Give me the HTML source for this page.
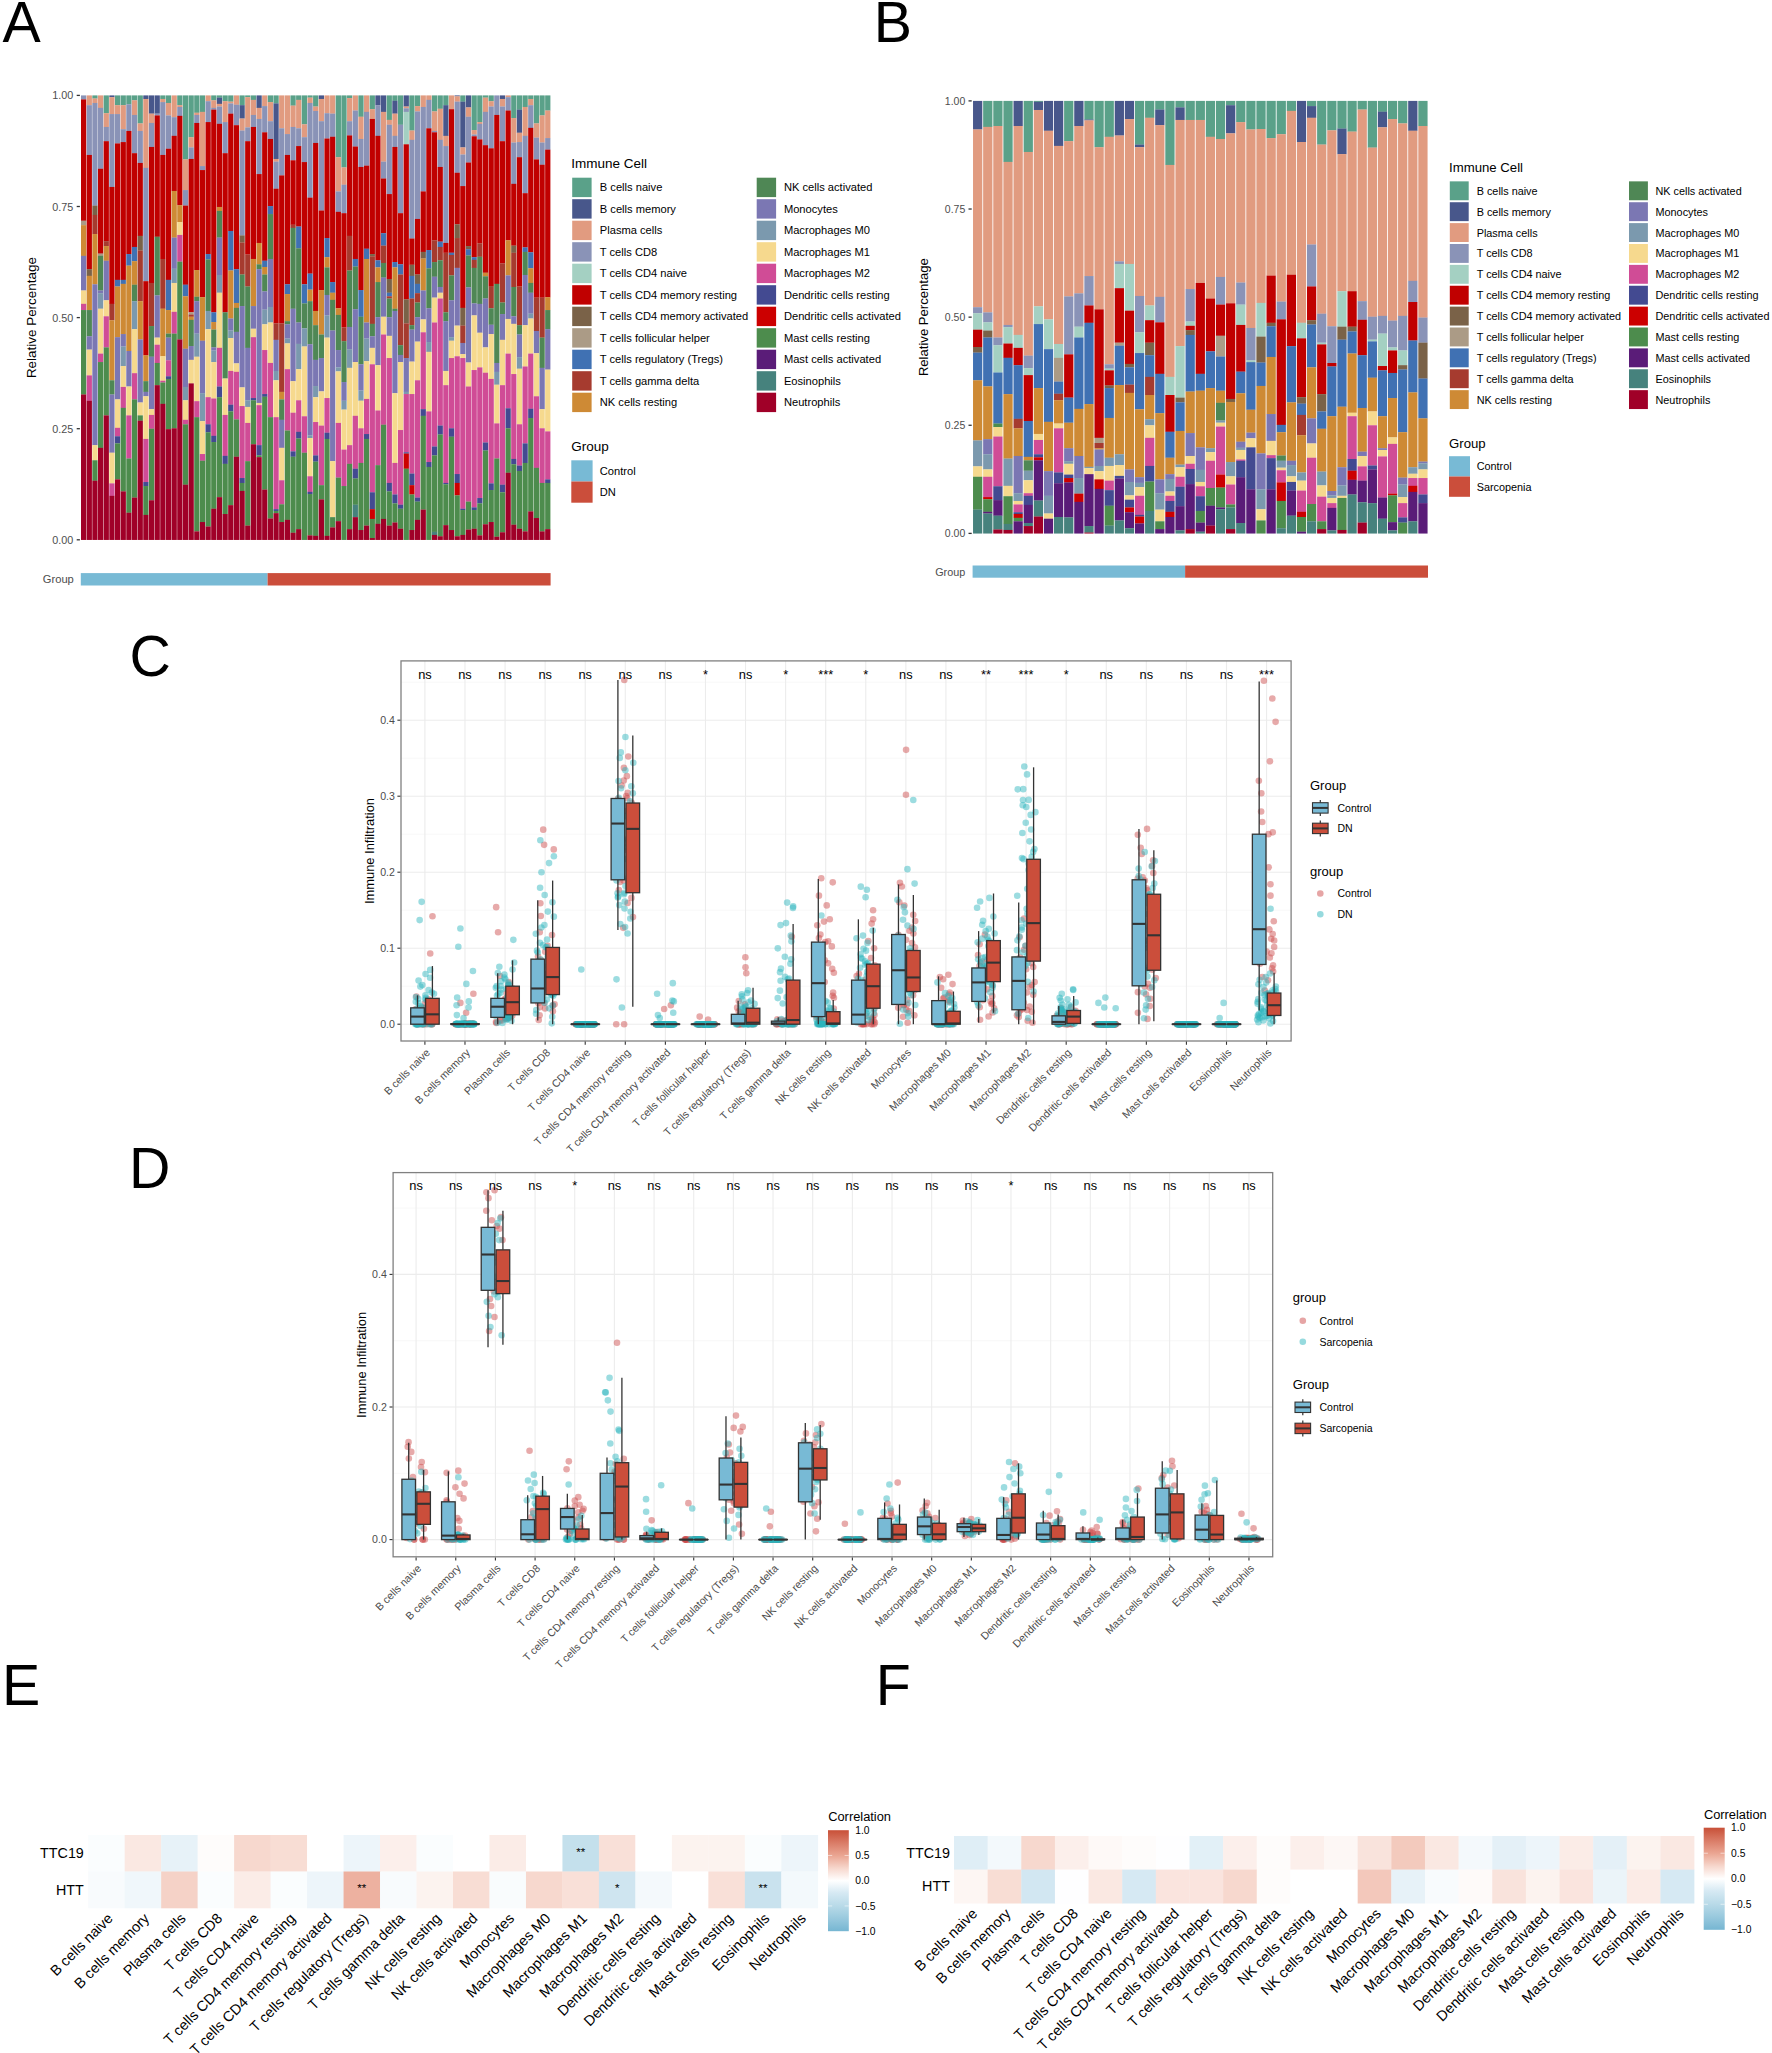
<!DOCTYPE html>
<html lang="en"><head><meta charset="utf-8"><title>Immune infiltration figure</title>
<style>html,body{margin:0;padding:0;background:#fff}svg{display:block}text{white-space:pre}</style></head>
<body>
<svg width="1772" height="2053" viewBox="0 0 1772 2053" font-family="'Liberation Sans', Arial, Helvetica, sans-serif">
<rect x="0" y="0" width="1772" height="2053" fill="#fff"/>
<text x="2.6" y="41.7" font-size="57.3" fill="#000" text-anchor="start">A</text>
<text x="873.8" y="41.7" font-size="57.3" fill="#000" text-anchor="start">B</text>
<text x="129.4" y="676.3" font-size="57.3" fill="#000" text-anchor="start">C</text>
<text x="128.9" y="1187.7" font-size="57.3" fill="#000" text-anchor="start">D</text>
<text x="2.1" y="1704.6" font-size="57.3" fill="#000" text-anchor="start">E</text>
<text x="875.7" y="1704.6" font-size="57.3" fill="#000" text-anchor="start">F</text>
<g shape-rendering="auto">
<rect x="81" y="95.4" width="5.26" height="4.15" fill="#8A93B7"/>
<rect x="81" y="99.4" width="5.26" height="121.47" fill="#C00000"/>
<rect x="81" y="220.72" width="5.26" height="4.59" fill="#AB9B86"/>
<rect x="81" y="225.16" width="5.26" height="30.81" fill="#CE8A35"/>
<rect x="81" y="255.83" width="5.26" height="34.81" fill="#7B77B3"/>
<rect x="81" y="290.49" width="5.26" height="13.48" fill="#F6D98E"/>
<rect x="81" y="303.82" width="5.26" height="6.37" fill="#D04C96"/>
<rect x="81" y="310.05" width="5.26" height="84.59" fill="#4D8C4D"/>
<rect x="81" y="394.48" width="5.26" height="145.47" fill="#A00028"/>
<rect x="86.66" y="95.4" width="5.26" height="9.93" fill="#E19B80"/>
<rect x="86.66" y="105.18" width="5.26" height="49.92" fill="#8A93B7"/>
<rect x="86.66" y="154.95" width="5.26" height="114.36" fill="#C00000"/>
<rect x="86.66" y="269.16" width="5.26" height="6.82" fill="#7A6248"/>
<rect x="86.66" y="275.83" width="5.26" height="34.37" fill="#CE8A35"/>
<rect x="86.66" y="310.05" width="5.26" height="26.37" fill="#4F8755"/>
<rect x="86.66" y="336.26" width="5.26" height="13.48" fill="#7B77B3"/>
<rect x="86.66" y="349.6" width="5.26" height="25.93" fill="#F6D98E"/>
<rect x="86.66" y="375.37" width="5.26" height="25.48" fill="#D04C96"/>
<rect x="86.66" y="400.7" width="5.26" height="139.25" fill="#A00028"/>
<rect x="92.32" y="95.4" width="5.26" height="3.26" fill="#5AA189"/>
<rect x="92.32" y="98.51" width="5.26" height="4.59" fill="#E19B80"/>
<rect x="92.32" y="102.95" width="5.26" height="102.81" fill="#8A93B7"/>
<rect x="92.32" y="205.61" width="5.26" height="9.48" fill="#7A6248"/>
<rect x="92.32" y="214.94" width="5.26" height="19.26" fill="#A63B2F"/>
<rect x="92.32" y="234.05" width="5.26" height="50.37" fill="#CE8A35"/>
<rect x="92.32" y="284.27" width="5.26" height="161.02" fill="#7B77B3"/>
<rect x="92.32" y="445.14" width="5.26" height="15.26" fill="#F6D98E"/>
<rect x="92.32" y="460.25" width="5.26" height="20.59" fill="#4D8C4D"/>
<rect x="92.32" y="480.69" width="5.26" height="59.26" fill="#A00028"/>
<rect x="97.98" y="95.4" width="5.26" height="12.59" fill="#E19B80"/>
<rect x="97.98" y="107.84" width="5.26" height="61.03" fill="#8A93B7"/>
<rect x="97.98" y="168.73" width="5.26" height="85.03" fill="#C00000"/>
<rect x="97.98" y="253.61" width="5.26" height="2.37" fill="#AB9B86"/>
<rect x="97.98" y="255.83" width="5.26" height="34.81" fill="#4F8755"/>
<rect x="97.98" y="290.49" width="5.26" height="2.82" fill="#7B77B3"/>
<rect x="97.98" y="293.16" width="5.26" height="15.7" fill="#7B99AE"/>
<rect x="97.98" y="308.71" width="5.26" height="45.03" fill="#F6D98E"/>
<rect x="97.98" y="353.6" width="5.26" height="8.59" fill="#D04C96"/>
<rect x="97.98" y="362.04" width="5.26" height="85.92" fill="#4D8C4D"/>
<rect x="97.98" y="447.81" width="5.26" height="92.14" fill="#A00028"/>
<rect x="103.64" y="95.4" width="5.26" height="17.93" fill="#5AA189"/>
<rect x="103.64" y="113.18" width="5.26" height="13.93" fill="#E19B80"/>
<rect x="103.64" y="126.95" width="5.26" height="14.37" fill="#8A93B7"/>
<rect x="103.64" y="141.17" width="5.26" height="100.14" fill="#C00000"/>
<rect x="103.64" y="241.16" width="5.26" height="5.04" fill="#A63B2F"/>
<rect x="103.64" y="246.05" width="5.26" height="14.82" fill="#CE8A35"/>
<rect x="103.64" y="260.72" width="5.26" height="39.7" fill="#7B77B3"/>
<rect x="103.64" y="300.27" width="5.26" height="16.15" fill="#F6D98E"/>
<rect x="103.64" y="316.27" width="5.26" height="31.26" fill="#D04C96"/>
<rect x="103.64" y="347.37" width="5.26" height="68.14" fill="#4D8C4D"/>
<rect x="103.64" y="415.37" width="5.26" height="124.58" fill="#A00028"/>
<rect x="109.3" y="95.4" width="5.26" height="1.93" fill="#48578B"/>
<rect x="109.3" y="97.18" width="5.26" height="17.04" fill="#E19B80"/>
<rect x="109.3" y="114.06" width="5.26" height="73.03" fill="#8A93B7"/>
<rect x="109.3" y="186.95" width="5.26" height="117.03" fill="#C00000"/>
<rect x="109.3" y="303.82" width="5.26" height="16.59" fill="#A63B2F"/>
<rect x="109.3" y="320.27" width="5.26" height="60.14" fill="#CE8A35"/>
<rect x="109.3" y="380.26" width="5.26" height="14.37" fill="#4F8755"/>
<rect x="109.3" y="394.48" width="5.26" height="58.37" fill="#7B77B3"/>
<rect x="109.3" y="452.7" width="5.26" height="30.81" fill="#F6D98E"/>
<rect x="109.3" y="483.36" width="5.26" height="12.59" fill="#D04C96"/>
<rect x="109.3" y="495.8" width="5.26" height="44.15" fill="#A00028"/>
<rect x="114.96" y="95.4" width="5.26" height="9.93" fill="#5AA189"/>
<rect x="114.96" y="105.18" width="5.26" height="9.04" fill="#E19B80"/>
<rect x="114.96" y="114.06" width="5.26" height="29.48" fill="#8A93B7"/>
<rect x="114.96" y="143.4" width="5.26" height="136.58" fill="#C00000"/>
<rect x="114.96" y="279.83" width="5.26" height="6.82" fill="#4071B3"/>
<rect x="114.96" y="286.49" width="5.26" height="50.81" fill="#CE8A35"/>
<rect x="114.96" y="337.15" width="5.26" height="62.37" fill="#7B77B3"/>
<rect x="114.96" y="399.37" width="5.26" height="28.59" fill="#F6D98E"/>
<rect x="114.96" y="427.81" width="5.26" height="8.59" fill="#D04C96"/>
<rect x="114.96" y="436.25" width="5.26" height="7.26" fill="#434A91"/>
<rect x="114.96" y="443.37" width="5.26" height="36.15" fill="#4D8C4D"/>
<rect x="114.96" y="479.36" width="5.26" height="60.59" fill="#A00028"/>
<rect x="120.62" y="95.4" width="5.26" height="9.93" fill="#5AA189"/>
<rect x="120.62" y="105.18" width="5.26" height="24.15" fill="#E19B80"/>
<rect x="120.62" y="129.17" width="5.26" height="13.04" fill="#8A93B7"/>
<rect x="120.62" y="142.06" width="5.26" height="137.91" fill="#C00000"/>
<rect x="120.62" y="279.83" width="5.26" height="4.15" fill="#4071B3"/>
<rect x="120.62" y="283.83" width="5.26" height="50.37" fill="#CE8A35"/>
<rect x="120.62" y="334.04" width="5.26" height="12.59" fill="#7B77B3"/>
<rect x="120.62" y="346.49" width="5.26" height="19.7" fill="#7B99AE"/>
<rect x="120.62" y="366.04" width="5.26" height="21.04" fill="#F6D98E"/>
<rect x="120.62" y="386.93" width="5.26" height="21.04" fill="#D04C96"/>
<rect x="120.62" y="407.81" width="5.26" height="83.7" fill="#4D8C4D"/>
<rect x="120.62" y="491.36" width="5.26" height="48.59" fill="#A00028"/>
<rect x="126.28" y="95.4" width="5.26" height="9.04" fill="#5AA189"/>
<rect x="126.28" y="104.29" width="5.26" height="26.81" fill="#8A93B7"/>
<rect x="126.28" y="130.95" width="5.26" height="123.25" fill="#C00000"/>
<rect x="126.28" y="254.05" width="5.26" height="11.7" fill="#4071B3"/>
<rect x="126.28" y="265.61" width="5.26" height="85.47" fill="#CE8A35"/>
<rect x="126.28" y="350.93" width="5.26" height="35.7" fill="#7B77B3"/>
<rect x="126.28" y="386.48" width="5.26" height="29.04" fill="#F6D98E"/>
<rect x="126.28" y="415.37" width="5.26" height="43.26" fill="#D04C96"/>
<rect x="126.28" y="458.47" width="5.26" height="54.37" fill="#4D8C4D"/>
<rect x="126.28" y="512.69" width="5.26" height="27.26" fill="#A00028"/>
<rect x="131.94" y="95.4" width="5.26" height="5.04" fill="#5AA189"/>
<rect x="131.94" y="100.29" width="5.26" height="14.82" fill="#E19B80"/>
<rect x="131.94" y="114.95" width="5.26" height="38.37" fill="#8A93B7"/>
<rect x="131.94" y="153.17" width="5.26" height="93.92" fill="#C00000"/>
<rect x="131.94" y="246.94" width="5.26" height="14.37" fill="#4071B3"/>
<rect x="131.94" y="261.16" width="5.26" height="23.7" fill="#CE8A35"/>
<rect x="131.94" y="284.71" width="5.26" height="16.59" fill="#4F8755"/>
<rect x="131.94" y="301.16" width="5.26" height="28.15" fill="#7B99AE"/>
<rect x="131.94" y="329.15" width="5.26" height="44.15" fill="#F6D98E"/>
<rect x="131.94" y="373.15" width="5.26" height="26.37" fill="#D04C96"/>
<rect x="131.94" y="399.37" width="5.26" height="98.36" fill="#4D8C4D"/>
<rect x="131.94" y="497.58" width="5.26" height="42.37" fill="#A00028"/>
<rect x="137.6" y="95.4" width="5.26" height="28.15" fill="#5AA189"/>
<rect x="137.6" y="123.4" width="5.26" height="7.7" fill="#E19B80"/>
<rect x="137.6" y="130.95" width="5.26" height="32.15" fill="#8A93B7"/>
<rect x="137.6" y="162.95" width="5.26" height="73.03" fill="#C00000"/>
<rect x="137.6" y="235.83" width="5.26" height="14.82" fill="#7A6248"/>
<rect x="137.6" y="250.5" width="5.26" height="50.81" fill="#A63B2F"/>
<rect x="137.6" y="301.16" width="5.26" height="38.37" fill="#CE8A35"/>
<rect x="137.6" y="339.38" width="5.26" height="63.25" fill="#7B77B3"/>
<rect x="137.6" y="402.48" width="5.26" height="13.04" fill="#F6D98E"/>
<rect x="137.6" y="415.37" width="5.26" height="5.48" fill="#4D8C4D"/>
<rect x="137.6" y="420.7" width="5.26" height="119.25" fill="#A00028"/>
<rect x="143.26" y="95.4" width="5.26" height="3.71" fill="#48578B"/>
<rect x="143.26" y="98.96" width="5.26" height="69.03" fill="#E19B80"/>
<rect x="143.26" y="167.84" width="5.26" height="113.47" fill="#8A93B7"/>
<rect x="143.26" y="281.16" width="5.26" height="74.36" fill="#C00000"/>
<rect x="143.26" y="355.37" width="5.26" height="25.93" fill="#CE8A35"/>
<rect x="143.26" y="381.15" width="5.26" height="10.82" fill="#4F8755"/>
<rect x="143.26" y="391.81" width="5.26" height="4.59" fill="#7B77B3"/>
<rect x="143.26" y="396.26" width="5.26" height="42.81" fill="#F6D98E"/>
<rect x="143.26" y="438.92" width="5.26" height="43.26" fill="#D04C96"/>
<rect x="143.26" y="482.03" width="5.26" height="4.15" fill="#434A91"/>
<rect x="143.26" y="486.03" width="5.26" height="29.04" fill="#4D8C4D"/>
<rect x="143.26" y="514.91" width="5.26" height="25.04" fill="#A00028"/>
<rect x="148.92" y="95.4" width="5.26" height="18.37" fill="#48578B"/>
<rect x="148.92" y="113.62" width="5.26" height="9.48" fill="#E19B80"/>
<rect x="148.92" y="122.95" width="5.26" height="24.15" fill="#8A93B7"/>
<rect x="148.92" y="146.95" width="5.26" height="136.14" fill="#C00000"/>
<rect x="148.92" y="282.94" width="5.26" height="43.26" fill="#A63B2F"/>
<rect x="148.92" y="326.04" width="5.26" height="30.81" fill="#4F8755"/>
<rect x="148.92" y="356.71" width="5.26" height="52.59" fill="#7B77B3"/>
<rect x="148.92" y="409.15" width="5.26" height="5.93" fill="#F6D98E"/>
<rect x="148.92" y="414.92" width="5.26" height="13.93" fill="#D04C96"/>
<rect x="148.92" y="428.7" width="5.26" height="71.7" fill="#4D8C4D"/>
<rect x="148.92" y="500.25" width="5.26" height="39.7" fill="#A00028"/>
<rect x="154.58" y="95.4" width="5.26" height="18.37" fill="#48578B"/>
<rect x="154.58" y="113.62" width="5.26" height="1.93" fill="#8A93B7"/>
<rect x="154.58" y="115.4" width="5.26" height="121.47" fill="#C00000"/>
<rect x="154.58" y="236.72" width="5.26" height="58.81" fill="#4F8755"/>
<rect x="154.58" y="295.38" width="5.26" height="42.37" fill="#7B77B3"/>
<rect x="154.58" y="337.6" width="5.26" height="7.26" fill="#F6D98E"/>
<rect x="154.58" y="344.71" width="5.26" height="18.37" fill="#D04C96"/>
<rect x="154.58" y="362.93" width="5.26" height="22.37" fill="#4D8C4D"/>
<rect x="154.58" y="385.15" width="5.26" height="154.8" fill="#A00028"/>
<rect x="160.24" y="95.4" width="5.26" height="3.71" fill="#5AA189"/>
<rect x="160.24" y="98.96" width="5.26" height="3.26" fill="#E19B80"/>
<rect x="160.24" y="102.07" width="5.26" height="53.03" fill="#8A93B7"/>
<rect x="160.24" y="154.95" width="5.26" height="104.14" fill="#C00000"/>
<rect x="160.24" y="258.94" width="5.26" height="49.92" fill="#A63B2F"/>
<rect x="160.24" y="308.71" width="5.26" height="47.7" fill="#CE8A35"/>
<rect x="160.24" y="356.26" width="5.26" height="24.59" fill="#F6D98E"/>
<rect x="160.24" y="380.7" width="5.26" height="1.93" fill="#D04C96"/>
<rect x="160.24" y="382.48" width="5.26" height="21.48" fill="#4D8C4D"/>
<rect x="160.24" y="403.81" width="5.26" height="136.14" fill="#A00028"/>
<rect x="165.9" y="95.4" width="5.26" height="7.7" fill="#5AA189"/>
<rect x="165.9" y="102.95" width="5.26" height="12.59" fill="#E19B80"/>
<rect x="165.9" y="115.4" width="5.26" height="33.48" fill="#8A93B7"/>
<rect x="165.9" y="148.73" width="5.26" height="131.25" fill="#C00000"/>
<rect x="165.9" y="279.83" width="5.26" height="30.37" fill="#4071B3"/>
<rect x="165.9" y="310.05" width="5.26" height="23.7" fill="#CE8A35"/>
<rect x="165.9" y="333.6" width="5.26" height="4.15" fill="#4F8755"/>
<rect x="165.9" y="337.6" width="5.26" height="22.81" fill="#7B77B3"/>
<rect x="165.9" y="360.26" width="5.26" height="16.15" fill="#D04C96"/>
<rect x="165.9" y="376.26" width="5.26" height="2.82" fill="#434A91"/>
<rect x="165.9" y="378.93" width="5.26" height="50.37" fill="#4D8C4D"/>
<rect x="165.9" y="429.14" width="5.26" height="110.81" fill="#A00028"/>
<rect x="171.56" y="95.4" width="5.26" height="21.93" fill="#E19B80"/>
<rect x="171.56" y="117.18" width="5.26" height="18.81" fill="#8A93B7"/>
<rect x="171.56" y="135.84" width="5.26" height="55.26" fill="#C00000"/>
<rect x="171.56" y="190.95" width="5.26" height="46.81" fill="#CE8A35"/>
<rect x="171.56" y="237.61" width="5.26" height="31.26" fill="#7B77B3"/>
<rect x="171.56" y="268.72" width="5.26" height="14.37" fill="#7B99AE"/>
<rect x="171.56" y="282.94" width="5.26" height="29.04" fill="#F6D98E"/>
<rect x="171.56" y="311.82" width="5.26" height="21.93" fill="#D04C96"/>
<rect x="171.56" y="333.6" width="5.26" height="94.81" fill="#4D8C4D"/>
<rect x="171.56" y="428.26" width="5.26" height="111.69" fill="#A00028"/>
<rect x="177.22" y="95.4" width="5.26" height="9.93" fill="#5AA189"/>
<rect x="177.22" y="105.18" width="5.26" height="1.93" fill="#E19B80"/>
<rect x="177.22" y="106.95" width="5.26" height="9.04" fill="#8A93B7"/>
<rect x="177.22" y="115.84" width="5.26" height="89.47" fill="#C00000"/>
<rect x="177.22" y="205.17" width="5.26" height="17.04" fill="#CE8A35"/>
<rect x="177.22" y="222.05" width="5.26" height="13.04" fill="#F6D98E"/>
<rect x="177.22" y="234.94" width="5.26" height="26.81" fill="#D04C96"/>
<rect x="177.22" y="261.61" width="5.26" height="77.92" fill="#4D8C4D"/>
<rect x="177.22" y="339.38" width="5.26" height="200.57" fill="#A00028"/>
<rect x="182.88" y="95.4" width="5.26" height="64.14" fill="#5AA189"/>
<rect x="182.88" y="159.39" width="5.26" height="30.81" fill="#E19B80"/>
<rect x="182.88" y="190.06" width="5.26" height="15.7" fill="#8A93B7"/>
<rect x="182.88" y="205.61" width="5.26" height="79.25" fill="#C00000"/>
<rect x="182.88" y="284.71" width="5.26" height="11.7" fill="#4071B3"/>
<rect x="182.88" y="296.27" width="5.26" height="52.59" fill="#CE8A35"/>
<rect x="182.88" y="348.71" width="5.26" height="38.37" fill="#7B77B3"/>
<rect x="182.88" y="386.93" width="5.26" height="13.48" fill="#7B99AE"/>
<rect x="182.88" y="400.26" width="5.26" height="19.7" fill="#F6D98E"/>
<rect x="182.88" y="419.81" width="5.26" height="4.59" fill="#D04C96"/>
<rect x="182.88" y="424.26" width="5.26" height="60.59" fill="#4D8C4D"/>
<rect x="182.88" y="484.69" width="5.26" height="55.26" fill="#A00028"/>
<rect x="188.54" y="95.4" width="5.26" height="41.92" fill="#5AA189"/>
<rect x="188.54" y="137.17" width="5.26" height="10.37" fill="#E19B80"/>
<rect x="188.54" y="147.39" width="5.26" height="11.7" fill="#8A93B7"/>
<rect x="188.54" y="158.95" width="5.26" height="153.47" fill="#C00000"/>
<rect x="188.54" y="312.27" width="5.26" height="2.37" fill="#AB9B86"/>
<rect x="188.54" y="314.49" width="5.26" height="2.37" fill="#A63B2F"/>
<rect x="188.54" y="316.71" width="5.26" height="3.26" fill="#CE8A35"/>
<rect x="188.54" y="319.82" width="5.26" height="26.37" fill="#4F8755"/>
<rect x="188.54" y="346.04" width="5.26" height="13.93" fill="#7B77B3"/>
<rect x="188.54" y="359.82" width="5.26" height="23.7" fill="#F6D98E"/>
<rect x="188.54" y="383.37" width="5.26" height="156.58" fill="#A00028"/>
<rect x="194.2" y="95.4" width="5.26" height="17.48" fill="#5AA189"/>
<rect x="194.2" y="112.73" width="5.26" height="2.37" fill="#E19B80"/>
<rect x="194.2" y="114.95" width="5.26" height="8.15" fill="#8A93B7"/>
<rect x="194.2" y="122.95" width="5.26" height="147.25" fill="#C00000"/>
<rect x="194.2" y="270.05" width="5.26" height="26.81" fill="#CE8A35"/>
<rect x="194.2" y="296.71" width="5.26" height="4.59" fill="#4F8755"/>
<rect x="194.2" y="301.16" width="5.26" height="32.59" fill="#7B77B3"/>
<rect x="194.2" y="333.6" width="5.26" height="23.26" fill="#7B99AE"/>
<rect x="194.2" y="356.71" width="5.26" height="44.59" fill="#F6D98E"/>
<rect x="194.2" y="401.15" width="5.26" height="16.15" fill="#D04C96"/>
<rect x="194.2" y="417.15" width="5.26" height="114.36" fill="#4D8C4D"/>
<rect x="194.2" y="531.36" width="5.26" height="8.59" fill="#A00028"/>
<rect x="199.86" y="95.4" width="5.26" height="16.59" fill="#5AA189"/>
<rect x="199.86" y="111.84" width="5.26" height="54.37" fill="#E19B80"/>
<rect x="199.86" y="166.06" width="5.26" height="4.15" fill="#8A93B7"/>
<rect x="199.86" y="170.06" width="5.26" height="127.25" fill="#C00000"/>
<rect x="199.86" y="297.16" width="5.26" height="43.7" fill="#CE8A35"/>
<rect x="199.86" y="340.71" width="5.26" height="52.59" fill="#7B77B3"/>
<rect x="199.86" y="393.15" width="5.26" height="28.15" fill="#7B99AE"/>
<rect x="199.86" y="421.15" width="5.26" height="33.04" fill="#F6D98E"/>
<rect x="199.86" y="454.03" width="5.26" height="6.82" fill="#D04C96"/>
<rect x="199.86" y="460.7" width="5.26" height="61.48" fill="#4D8C4D"/>
<rect x="199.86" y="522.02" width="5.26" height="17.93" fill="#A00028"/>
<rect x="205.52" y="95.4" width="5.26" height="5.93" fill="#E19B80"/>
<rect x="205.52" y="101.18" width="5.26" height="21.04" fill="#8A93B7"/>
<rect x="205.52" y="122.06" width="5.26" height="132.14" fill="#C00000"/>
<rect x="205.52" y="254.05" width="5.26" height="5.48" fill="#4071B3"/>
<rect x="205.52" y="259.38" width="5.26" height="51.7" fill="#4F8755"/>
<rect x="205.52" y="310.93" width="5.26" height="18.37" fill="#7B99AE"/>
<rect x="205.52" y="329.15" width="5.26" height="68.14" fill="#F6D98E"/>
<rect x="205.52" y="397.15" width="5.26" height="27.26" fill="#D04C96"/>
<rect x="205.52" y="424.26" width="5.26" height="8.15" fill="#434A91"/>
<rect x="205.52" y="432.26" width="5.26" height="94.36" fill="#4D8C4D"/>
<rect x="205.52" y="526.47" width="5.26" height="13.48" fill="#A00028"/>
<rect x="211.18" y="95.4" width="5.26" height="5.04" fill="#5AA189"/>
<rect x="211.18" y="100.29" width="5.26" height="7.7" fill="#E19B80"/>
<rect x="211.18" y="107.84" width="5.26" height="1.93" fill="#8A93B7"/>
<rect x="211.18" y="109.62" width="5.26" height="202.8" fill="#C00000"/>
<rect x="211.18" y="312.27" width="5.26" height="9.93" fill="#4071B3"/>
<rect x="211.18" y="322.04" width="5.26" height="7.7" fill="#CE8A35"/>
<rect x="211.18" y="329.6" width="5.26" height="17.93" fill="#4F8755"/>
<rect x="211.18" y="347.37" width="5.26" height="3.26" fill="#7B77B3"/>
<rect x="211.18" y="350.49" width="5.26" height="11.7" fill="#7B99AE"/>
<rect x="211.18" y="362.04" width="5.26" height="36.59" fill="#F6D98E"/>
<rect x="211.18" y="398.48" width="5.26" height="37.48" fill="#D04C96"/>
<rect x="211.18" y="435.81" width="5.26" height="6.37" fill="#434A91"/>
<rect x="211.18" y="442.03" width="5.26" height="66.81" fill="#4D8C4D"/>
<rect x="211.18" y="508.69" width="5.26" height="31.26" fill="#A00028"/>
<rect x="216.84" y="95.4" width="5.26" height="2.37" fill="#5AA189"/>
<rect x="216.84" y="97.62" width="5.26" height="6.37" fill="#48578B"/>
<rect x="216.84" y="103.84" width="5.26" height="2.82" fill="#E19B80"/>
<rect x="216.84" y="106.51" width="5.26" height="17.48" fill="#8A93B7"/>
<rect x="216.84" y="123.84" width="5.26" height="83.25" fill="#C00000"/>
<rect x="216.84" y="206.94" width="5.26" height="4.15" fill="#CE8A35"/>
<rect x="216.84" y="210.94" width="5.26" height="26.81" fill="#4F8755"/>
<rect x="216.84" y="237.61" width="5.26" height="37.48" fill="#7B77B3"/>
<rect x="216.84" y="274.94" width="5.26" height="17.93" fill="#7B99AE"/>
<rect x="216.84" y="292.71" width="5.26" height="55.26" fill="#F6D98E"/>
<rect x="216.84" y="347.82" width="5.26" height="38.81" fill="#D04C96"/>
<rect x="216.84" y="386.48" width="5.26" height="10.82" fill="#434A91"/>
<rect x="216.84" y="397.15" width="5.26" height="100.14" fill="#4D8C4D"/>
<rect x="216.84" y="497.14" width="5.26" height="42.81" fill="#A00028"/>
<rect x="222.5" y="95.4" width="5.26" height="5.93" fill="#5AA189"/>
<rect x="222.5" y="101.18" width="5.26" height="21.04" fill="#E19B80"/>
<rect x="222.5" y="122.06" width="5.26" height="31.26" fill="#8A93B7"/>
<rect x="222.5" y="153.17" width="5.26" height="159.25" fill="#C00000"/>
<rect x="222.5" y="312.27" width="5.26" height="66.37" fill="#4F8755"/>
<rect x="222.5" y="378.48" width="5.26" height="36.59" fill="#F6D98E"/>
<rect x="222.5" y="414.92" width="5.26" height="41.03" fill="#D04C96"/>
<rect x="222.5" y="455.81" width="5.26" height="8.15" fill="#434A91"/>
<rect x="222.5" y="463.81" width="5.26" height="50.37" fill="#4D8C4D"/>
<rect x="222.5" y="514.02" width="5.26" height="25.93" fill="#A00028"/>
<rect x="228.16" y="95.4" width="5.26" height="6.37" fill="#5AA189"/>
<rect x="228.16" y="101.62" width="5.26" height="1.93" fill="#E19B80"/>
<rect x="228.16" y="103.4" width="5.26" height="10.37" fill="#8A93B7"/>
<rect x="228.16" y="113.62" width="5.26" height="117.47" fill="#C00000"/>
<rect x="228.16" y="230.94" width="5.26" height="39.7" fill="#4071B3"/>
<rect x="228.16" y="270.49" width="5.26" height="48.15" fill="#CE8A35"/>
<rect x="228.16" y="318.49" width="5.26" height="12.15" fill="#7B77B3"/>
<rect x="228.16" y="330.49" width="5.26" height="7.7" fill="#7B99AE"/>
<rect x="228.16" y="338.04" width="5.26" height="33.04" fill="#F6D98E"/>
<rect x="228.16" y="370.93" width="5.26" height="33.92" fill="#D04C96"/>
<rect x="228.16" y="404.7" width="5.26" height="6.82" fill="#434A91"/>
<rect x="228.16" y="411.37" width="5.26" height="93.92" fill="#4D8C4D"/>
<rect x="228.16" y="505.14" width="5.26" height="34.81" fill="#A00028"/>
<rect x="233.82" y="95.4" width="5.26" height="9.48" fill="#E19B80"/>
<rect x="233.82" y="104.73" width="5.26" height="20.59" fill="#8A93B7"/>
<rect x="233.82" y="125.17" width="5.26" height="144.14" fill="#C00000"/>
<rect x="233.82" y="269.16" width="5.26" height="33.92" fill="#4071B3"/>
<rect x="233.82" y="302.93" width="5.26" height="5.04" fill="#CE8A35"/>
<rect x="233.82" y="307.82" width="5.26" height="24.15" fill="#4F8755"/>
<rect x="233.82" y="331.82" width="5.26" height="31.7" fill="#7B77B3"/>
<rect x="233.82" y="363.37" width="5.26" height="8.59" fill="#F6D98E"/>
<rect x="233.82" y="371.82" width="5.26" height="47.7" fill="#D04C96"/>
<rect x="233.82" y="419.37" width="5.26" height="37.48" fill="#4D8C4D"/>
<rect x="233.82" y="456.7" width="5.26" height="83.25" fill="#A00028"/>
<rect x="239.48" y="95.4" width="5.26" height="9.93" fill="#5AA189"/>
<rect x="239.48" y="105.18" width="5.26" height="13.48" fill="#48578B"/>
<rect x="239.48" y="118.51" width="5.26" height="12.15" fill="#E19B80"/>
<rect x="239.48" y="130.51" width="5.26" height="105.03" fill="#8A93B7"/>
<rect x="239.48" y="235.39" width="5.26" height="7.26" fill="#7A6248"/>
<rect x="239.48" y="242.5" width="5.26" height="32.15" fill="#A63B2F"/>
<rect x="239.48" y="274.49" width="5.26" height="31.7" fill="#4F8755"/>
<rect x="239.48" y="306.05" width="5.26" height="81.48" fill="#7B77B3"/>
<rect x="239.48" y="387.37" width="5.26" height="18.81" fill="#F6D98E"/>
<rect x="239.48" y="406.04" width="5.26" height="72.14" fill="#D04C96"/>
<rect x="239.48" y="478.03" width="5.26" height="5.04" fill="#434A91"/>
<rect x="239.48" y="482.92" width="5.26" height="8.15" fill="#4D8C4D"/>
<rect x="239.48" y="490.92" width="5.26" height="49.03" fill="#A00028"/>
<rect x="245.15" y="95.4" width="5.26" height="1.93" fill="#5AA189"/>
<rect x="245.15" y="97.18" width="5.26" height="30.37" fill="#E19B80"/>
<rect x="245.15" y="127.4" width="5.26" height="13.93" fill="#8A93B7"/>
<rect x="245.15" y="141.17" width="5.26" height="113.47" fill="#C00000"/>
<rect x="245.15" y="254.5" width="5.26" height="32.15" fill="#A63B2F"/>
<rect x="245.15" y="286.49" width="5.26" height="61.48" fill="#4F8755"/>
<rect x="245.15" y="347.82" width="5.26" height="52.59" fill="#7B77B3"/>
<rect x="245.15" y="400.26" width="5.26" height="6.82" fill="#7B99AE"/>
<rect x="245.15" y="406.92" width="5.26" height="16.15" fill="#F6D98E"/>
<rect x="245.15" y="422.92" width="5.26" height="38.37" fill="#D04C96"/>
<rect x="245.15" y="461.14" width="5.26" height="64.59" fill="#4D8C4D"/>
<rect x="245.15" y="525.58" width="5.26" height="14.37" fill="#A00028"/>
<rect x="250.81" y="95.4" width="5.26" height="4.59" fill="#5AA189"/>
<rect x="250.81" y="99.84" width="5.26" height="15.26" fill="#E19B80"/>
<rect x="250.81" y="114.95" width="5.26" height="12.15" fill="#8A93B7"/>
<rect x="250.81" y="126.95" width="5.26" height="132.14" fill="#C00000"/>
<rect x="250.81" y="258.94" width="5.26" height="47.26" fill="#CE8A35"/>
<rect x="250.81" y="306.05" width="5.26" height="22.81" fill="#7B77B3"/>
<rect x="250.81" y="328.71" width="5.26" height="8.59" fill="#F6D98E"/>
<rect x="250.81" y="337.15" width="5.26" height="61.03" fill="#D04C96"/>
<rect x="250.81" y="398.04" width="5.26" height="2.37" fill="#434A91"/>
<rect x="250.81" y="400.26" width="5.26" height="44.15" fill="#4D8C4D"/>
<rect x="250.81" y="444.25" width="5.26" height="95.7" fill="#A00028"/>
<rect x="256.47" y="95.4" width="5.26" height="12.59" fill="#48578B"/>
<rect x="256.47" y="107.84" width="5.26" height="11.26" fill="#E19B80"/>
<rect x="256.47" y="118.95" width="5.26" height="55.26" fill="#8A93B7"/>
<rect x="256.47" y="174.06" width="5.26" height="69.03" fill="#C00000"/>
<rect x="256.47" y="242.94" width="5.26" height="21.48" fill="#CE8A35"/>
<rect x="256.47" y="264.27" width="5.26" height="5.04" fill="#4F8755"/>
<rect x="256.47" y="269.16" width="5.26" height="133.91" fill="#7B77B3"/>
<rect x="256.47" y="402.92" width="5.26" height="2.37" fill="#F6D98E"/>
<rect x="256.47" y="405.15" width="5.26" height="40.15" fill="#D04C96"/>
<rect x="256.47" y="445.14" width="5.26" height="10.37" fill="#434A91"/>
<rect x="256.47" y="455.36" width="5.26" height="1.93" fill="#4D8C4D"/>
<rect x="256.47" y="457.14" width="5.26" height="82.81" fill="#A00028"/>
<rect x="262.13" y="95.4" width="5.26" height="10.82" fill="#E19B80"/>
<rect x="262.13" y="106.07" width="5.26" height="26.37" fill="#8A93B7"/>
<rect x="262.13" y="132.29" width="5.26" height="128.58" fill="#C00000"/>
<rect x="262.13" y="260.72" width="5.26" height="6.37" fill="#4071B3"/>
<rect x="262.13" y="266.94" width="5.26" height="7.7" fill="#CE8A35"/>
<rect x="262.13" y="274.49" width="5.26" height="17.04" fill="#4F8755"/>
<rect x="262.13" y="291.38" width="5.26" height="18.37" fill="#7B77B3"/>
<rect x="262.13" y="309.6" width="5.26" height="14.82" fill="#7B99AE"/>
<rect x="262.13" y="324.27" width="5.26" height="25.93" fill="#F6D98E"/>
<rect x="262.13" y="350.04" width="5.26" height="44.15" fill="#D04C96"/>
<rect x="262.13" y="394.04" width="5.26" height="2.82" fill="#434A91"/>
<rect x="262.13" y="396.7" width="5.26" height="93.03" fill="#4D8C4D"/>
<rect x="262.13" y="489.58" width="5.26" height="50.37" fill="#A00028"/>
<rect x="267.79" y="95.4" width="5.26" height="6.82" fill="#5AA189"/>
<rect x="267.79" y="102.07" width="5.26" height="19.26" fill="#E19B80"/>
<rect x="267.79" y="121.18" width="5.26" height="17.93" fill="#8A93B7"/>
<rect x="267.79" y="138.95" width="5.26" height="67.25" fill="#C00000"/>
<rect x="267.79" y="206.06" width="5.26" height="8.15" fill="#4071B3"/>
<rect x="267.79" y="214.05" width="5.26" height="45.03" fill="#4F8755"/>
<rect x="267.79" y="258.94" width="5.26" height="48.15" fill="#7B77B3"/>
<rect x="267.79" y="306.93" width="5.26" height="15.7" fill="#7B99AE"/>
<rect x="267.79" y="322.49" width="5.26" height="40.59" fill="#F6D98E"/>
<rect x="267.79" y="362.93" width="5.26" height="54.37" fill="#D04C96"/>
<rect x="267.79" y="417.15" width="5.26" height="101.47" fill="#4D8C4D"/>
<rect x="267.79" y="518.47" width="5.26" height="21.48" fill="#A00028"/>
<rect x="273.45" y="95.4" width="5.26" height="8.15" fill="#5AA189"/>
<rect x="273.45" y="103.4" width="5.26" height="55.7" fill="#48578B"/>
<rect x="273.45" y="158.95" width="5.26" height="2.82" fill="#E19B80"/>
<rect x="273.45" y="161.62" width="5.26" height="27.26" fill="#8A93B7"/>
<rect x="273.45" y="188.72" width="5.26" height="134.8" fill="#C00000"/>
<rect x="273.45" y="323.38" width="5.26" height="16.59" fill="#A63B2F"/>
<rect x="273.45" y="339.82" width="5.26" height="31.26" fill="#7B77B3"/>
<rect x="273.45" y="370.93" width="5.26" height="9.48" fill="#7B99AE"/>
<rect x="273.45" y="380.26" width="5.26" height="37.04" fill="#F6D98E"/>
<rect x="273.45" y="417.15" width="5.26" height="92.14" fill="#D04C96"/>
<rect x="273.45" y="509.14" width="5.26" height="1.93" fill="#434A91"/>
<rect x="273.45" y="510.91" width="5.26" height="2.37" fill="#4D8C4D"/>
<rect x="273.45" y="513.14" width="5.26" height="26.81" fill="#A00028"/>
<rect x="279.11" y="95.4" width="5.26" height="33.04" fill="#E19B80"/>
<rect x="279.11" y="128.29" width="5.26" height="47.26" fill="#8A93B7"/>
<rect x="279.11" y="175.39" width="5.26" height="148.14" fill="#C00000"/>
<rect x="279.11" y="323.38" width="5.26" height="68.59" fill="#A63B2F"/>
<rect x="279.11" y="391.81" width="5.26" height="7.7" fill="#CE8A35"/>
<rect x="279.11" y="399.37" width="5.26" height="20.59" fill="#4F8755"/>
<rect x="279.11" y="419.81" width="5.26" height="28.15" fill="#7B77B3"/>
<rect x="279.11" y="447.81" width="5.26" height="32.59" fill="#F6D98E"/>
<rect x="279.11" y="480.25" width="5.26" height="24.15" fill="#D04C96"/>
<rect x="279.11" y="504.25" width="5.26" height="17.93" fill="#4D8C4D"/>
<rect x="279.11" y="522.02" width="5.26" height="17.93" fill="#A00028"/>
<rect x="284.77" y="95.4" width="5.26" height="38.81" fill="#E19B80"/>
<rect x="284.77" y="134.06" width="5.26" height="21.04" fill="#8A93B7"/>
<rect x="284.77" y="154.95" width="5.26" height="129.47" fill="#C00000"/>
<rect x="284.77" y="284.27" width="5.26" height="9.93" fill="#4071B3"/>
<rect x="284.77" y="294.05" width="5.26" height="27.26" fill="#CE8A35"/>
<rect x="284.77" y="321.16" width="5.26" height="3.26" fill="#4F8755"/>
<rect x="284.77" y="324.27" width="5.26" height="14.37" fill="#7B77B3"/>
<rect x="284.77" y="338.49" width="5.26" height="5.04" fill="#7B99AE"/>
<rect x="284.77" y="343.38" width="5.26" height="25.93" fill="#F6D98E"/>
<rect x="284.77" y="369.15" width="5.26" height="61.48" fill="#D04C96"/>
<rect x="284.77" y="430.48" width="5.26" height="89.47" fill="#4D8C4D"/>
<rect x="284.77" y="519.8" width="5.26" height="20.15" fill="#A00028"/>
<rect x="290.43" y="95.4" width="5.26" height="10.37" fill="#5AA189"/>
<rect x="290.43" y="105.62" width="5.26" height="21.48" fill="#E19B80"/>
<rect x="290.43" y="126.95" width="5.26" height="33.48" fill="#8A93B7"/>
<rect x="290.43" y="160.28" width="5.26" height="64.59" fill="#C00000"/>
<rect x="290.43" y="224.72" width="5.26" height="3.26" fill="#A63B2F"/>
<rect x="290.43" y="227.83" width="5.26" height="81.03" fill="#4F8755"/>
<rect x="290.43" y="308.71" width="5.26" height="72.59" fill="#7B77B3"/>
<rect x="290.43" y="381.15" width="5.26" height="31.7" fill="#F6D98E"/>
<rect x="290.43" y="412.7" width="5.26" height="38.81" fill="#D04C96"/>
<rect x="290.43" y="451.36" width="5.26" height="5.48" fill="#434A91"/>
<rect x="290.43" y="456.7" width="5.26" height="76.14" fill="#4D8C4D"/>
<rect x="290.43" y="532.69" width="5.26" height="7.26" fill="#A00028"/>
<rect x="296.09" y="95.4" width="5.26" height="4.59" fill="#5AA189"/>
<rect x="296.09" y="99.84" width="5.26" height="28.59" fill="#E19B80"/>
<rect x="296.09" y="128.29" width="5.26" height="17.93" fill="#8A93B7"/>
<rect x="296.09" y="146.06" width="5.26" height="80.59" fill="#C00000"/>
<rect x="296.09" y="226.5" width="5.26" height="21.93" fill="#4071B3"/>
<rect x="296.09" y="248.27" width="5.26" height="74.36" fill="#4F8755"/>
<rect x="296.09" y="322.49" width="5.26" height="21.48" fill="#7B77B3"/>
<rect x="296.09" y="343.82" width="5.26" height="25.48" fill="#7B99AE"/>
<rect x="296.09" y="369.15" width="5.26" height="31.26" fill="#F6D98E"/>
<rect x="296.09" y="400.26" width="5.26" height="31.7" fill="#D04C96"/>
<rect x="296.09" y="431.81" width="5.26" height="6.82" fill="#434A91"/>
<rect x="296.09" y="438.48" width="5.26" height="90.81" fill="#4D8C4D"/>
<rect x="296.09" y="529.13" width="5.26" height="10.82" fill="#A00028"/>
<rect x="301.75" y="95.4" width="5.26" height="29.04" fill="#5AA189"/>
<rect x="301.75" y="124.29" width="5.26" height="13.04" fill="#E19B80"/>
<rect x="301.75" y="137.17" width="5.26" height="25.04" fill="#8A93B7"/>
<rect x="301.75" y="162.06" width="5.26" height="122.36" fill="#C00000"/>
<rect x="301.75" y="284.27" width="5.26" height="19.26" fill="#4071B3"/>
<rect x="301.75" y="303.38" width="5.26" height="25.04" fill="#4F8755"/>
<rect x="301.75" y="328.27" width="5.26" height="18.37" fill="#7B99AE"/>
<rect x="301.75" y="346.49" width="5.26" height="69.92" fill="#F6D98E"/>
<rect x="301.75" y="416.26" width="5.26" height="36.59" fill="#D04C96"/>
<rect x="301.75" y="452.7" width="5.26" height="87.25" fill="#4D8C4D"/>
<rect x="307.41" y="95.4" width="5.26" height="2.37" fill="#5AA189"/>
<rect x="307.41" y="97.62" width="5.26" height="5.48" fill="#E19B80"/>
<rect x="307.41" y="102.95" width="5.26" height="94.81" fill="#8A93B7"/>
<rect x="307.41" y="197.61" width="5.26" height="76.14" fill="#C00000"/>
<rect x="307.41" y="273.6" width="5.26" height="16.15" fill="#4071B3"/>
<rect x="307.41" y="289.6" width="5.26" height="11.7" fill="#CE8A35"/>
<rect x="307.41" y="301.16" width="5.26" height="43.26" fill="#4F8755"/>
<rect x="307.41" y="344.26" width="5.26" height="91.25" fill="#7B77B3"/>
<rect x="307.41" y="435.37" width="5.26" height="2.82" fill="#7B99AE"/>
<rect x="307.41" y="438.03" width="5.26" height="38.37" fill="#F6D98E"/>
<rect x="307.41" y="476.25" width="5.26" height="15.7" fill="#D04C96"/>
<rect x="307.41" y="491.8" width="5.26" height="2.37" fill="#434A91"/>
<rect x="307.41" y="494.03" width="5.26" height="41.48" fill="#4D8C4D"/>
<rect x="307.41" y="535.36" width="5.26" height="4.59" fill="#A00028"/>
<rect x="313.07" y="95.4" width="5.26" height="11.26" fill="#5AA189"/>
<rect x="313.07" y="106.51" width="5.26" height="4.59" fill="#E19B80"/>
<rect x="313.07" y="110.95" width="5.26" height="32.15" fill="#8A93B7"/>
<rect x="313.07" y="142.95" width="5.26" height="168.13" fill="#C00000"/>
<rect x="313.07" y="310.93" width="5.26" height="14.37" fill="#CE8A35"/>
<rect x="313.07" y="325.15" width="5.26" height="34.81" fill="#4F8755"/>
<rect x="313.07" y="359.82" width="5.26" height="26.37" fill="#7B77B3"/>
<rect x="313.07" y="386.04" width="5.26" height="11.26" fill="#7B99AE"/>
<rect x="313.07" y="397.15" width="5.26" height="25.04" fill="#F6D98E"/>
<rect x="313.07" y="422.03" width="5.26" height="33.48" fill="#D04C96"/>
<rect x="313.07" y="455.36" width="5.26" height="6.37" fill="#434A91"/>
<rect x="313.07" y="461.59" width="5.26" height="74.36" fill="#4D8C4D"/>
<rect x="313.07" y="535.8" width="5.26" height="4.15" fill="#A00028"/>
<rect x="318.73" y="95.4" width="5.26" height="3.71" fill="#48578B"/>
<rect x="318.73" y="98.96" width="5.26" height="22.37" fill="#E19B80"/>
<rect x="318.73" y="121.18" width="5.26" height="89.47" fill="#8A93B7"/>
<rect x="318.73" y="210.5" width="5.26" height="79.7" fill="#C00000"/>
<rect x="318.73" y="290.05" width="5.26" height="44.59" fill="#CE8A35"/>
<rect x="318.73" y="334.49" width="5.26" height="23.7" fill="#4F8755"/>
<rect x="318.73" y="358.04" width="5.26" height="33.48" fill="#7B77B3"/>
<rect x="318.73" y="391.37" width="5.26" height="34.37" fill="#F6D98E"/>
<rect x="318.73" y="425.59" width="5.26" height="59.7" fill="#D04C96"/>
<rect x="318.73" y="485.14" width="5.26" height="14.37" fill="#4D8C4D"/>
<rect x="318.73" y="499.36" width="5.26" height="40.59" fill="#A00028"/>
<rect x="324.39" y="95.4" width="5.26" height="17.93" fill="#E19B80"/>
<rect x="324.39" y="113.18" width="5.26" height="25.48" fill="#8A93B7"/>
<rect x="324.39" y="138.51" width="5.26" height="99.7" fill="#C00000"/>
<rect x="324.39" y="238.05" width="5.26" height="19.26" fill="#4071B3"/>
<rect x="324.39" y="257.16" width="5.26" height="10.37" fill="#CE8A35"/>
<rect x="324.39" y="267.38" width="5.26" height="27.7" fill="#4F8755"/>
<rect x="324.39" y="294.94" width="5.26" height="20.59" fill="#7B77B3"/>
<rect x="324.39" y="315.38" width="5.26" height="22.37" fill="#7B99AE"/>
<rect x="324.39" y="337.6" width="5.26" height="60.59" fill="#F6D98E"/>
<rect x="324.39" y="398.04" width="5.26" height="34.81" fill="#D04C96"/>
<rect x="324.39" y="432.7" width="5.26" height="6.37" fill="#434A91"/>
<rect x="324.39" y="438.92" width="5.26" height="97.03" fill="#4D8C4D"/>
<rect x="324.39" y="535.8" width="5.26" height="4.15" fill="#A00028"/>
<rect x="330.05" y="95.4" width="5.26" height="18.37" fill="#E19B80"/>
<rect x="330.05" y="113.62" width="5.26" height="23.26" fill="#8A93B7"/>
<rect x="330.05" y="136.73" width="5.26" height="145.47" fill="#C00000"/>
<rect x="330.05" y="282.05" width="5.26" height="10.82" fill="#4071B3"/>
<rect x="330.05" y="292.71" width="5.26" height="7.26" fill="#CE8A35"/>
<rect x="330.05" y="299.82" width="5.26" height="30.81" fill="#4F8755"/>
<rect x="330.05" y="330.49" width="5.26" height="130.8" fill="#7B77B3"/>
<rect x="330.05" y="461.14" width="5.26" height="56.14" fill="#F6D98E"/>
<rect x="330.05" y="517.14" width="5.26" height="10.37" fill="#4D8C4D"/>
<rect x="330.05" y="527.36" width="5.26" height="12.59" fill="#A00028"/>
<rect x="335.71" y="95.4" width="5.26" height="61.92" fill="#5AA189"/>
<rect x="335.71" y="157.17" width="5.26" height="34.37" fill="#E19B80"/>
<rect x="335.71" y="191.39" width="5.26" height="20.59" fill="#8A93B7"/>
<rect x="335.71" y="211.83" width="5.26" height="96.58" fill="#C00000"/>
<rect x="335.71" y="308.27" width="5.26" height="6.82" fill="#CE8A35"/>
<rect x="335.71" y="314.93" width="5.26" height="35.26" fill="#4F8755"/>
<rect x="335.71" y="350.04" width="5.26" height="17.48" fill="#7B77B3"/>
<rect x="335.71" y="367.37" width="5.26" height="4.15" fill="#7B99AE"/>
<rect x="335.71" y="371.37" width="5.26" height="51.7" fill="#F6D98E"/>
<rect x="335.71" y="422.92" width="5.26" height="54.81" fill="#D04C96"/>
<rect x="335.71" y="477.58" width="5.26" height="43.7" fill="#4D8C4D"/>
<rect x="335.71" y="521.14" width="5.26" height="18.81" fill="#A00028"/>
<rect x="341.37" y="95.4" width="5.26" height="72.14" fill="#5AA189"/>
<rect x="341.37" y="167.39" width="5.26" height="17.48" fill="#E19B80"/>
<rect x="341.37" y="184.72" width="5.26" height="28.59" fill="#8A93B7"/>
<rect x="341.37" y="213.17" width="5.26" height="114.36" fill="#C00000"/>
<rect x="341.37" y="327.38" width="5.26" height="13.93" fill="#A63B2F"/>
<rect x="341.37" y="341.15" width="5.26" height="41.03" fill="#4F8755"/>
<rect x="341.37" y="382.04" width="5.26" height="18.81" fill="#7B77B3"/>
<rect x="341.37" y="400.7" width="5.26" height="9.04" fill="#7B99AE"/>
<rect x="341.37" y="409.59" width="5.26" height="40.15" fill="#F6D98E"/>
<rect x="341.37" y="449.59" width="5.26" height="36.59" fill="#D04C96"/>
<rect x="341.37" y="486.03" width="5.26" height="53.92" fill="#4D8C4D"/>
<rect x="347.03" y="95.4" width="5.26" height="2.82" fill="#5AA189"/>
<rect x="347.03" y="98.07" width="5.26" height="23.26" fill="#E19B80"/>
<rect x="347.03" y="121.18" width="5.26" height="14.37" fill="#8A93B7"/>
<rect x="347.03" y="135.4" width="5.26" height="100.58" fill="#C00000"/>
<rect x="347.03" y="235.83" width="5.26" height="34.81" fill="#A63B2F"/>
<rect x="347.03" y="270.49" width="5.26" height="56.59" fill="#4F8755"/>
<rect x="347.03" y="326.93" width="5.26" height="22.37" fill="#7B77B3"/>
<rect x="347.03" y="349.15" width="5.26" height="18.81" fill="#7B99AE"/>
<rect x="347.03" y="367.82" width="5.26" height="77.48" fill="#F6D98E"/>
<rect x="347.03" y="445.14" width="5.26" height="18.81" fill="#D04C96"/>
<rect x="347.03" y="463.81" width="5.26" height="65.48" fill="#4D8C4D"/>
<rect x="347.03" y="529.13" width="5.26" height="10.82" fill="#A00028"/>
<rect x="352.69" y="95.4" width="5.26" height="15.26" fill="#E19B80"/>
<rect x="352.69" y="110.51" width="5.26" height="36.15" fill="#8A93B7"/>
<rect x="352.69" y="146.51" width="5.26" height="112.58" fill="#C00000"/>
<rect x="352.69" y="258.94" width="5.26" height="7.7" fill="#4071B3"/>
<rect x="352.69" y="266.49" width="5.26" height="42.81" fill="#4F8755"/>
<rect x="352.69" y="309.16" width="5.26" height="53.03" fill="#7B77B3"/>
<rect x="352.69" y="362.04" width="5.26" height="53.92" fill="#F6D98E"/>
<rect x="352.69" y="415.81" width="5.26" height="53.03" fill="#D04C96"/>
<rect x="352.69" y="468.7" width="5.26" height="9.93" fill="#434A91"/>
<rect x="352.69" y="478.47" width="5.26" height="26.37" fill="#4D8C4D"/>
<rect x="352.69" y="504.69" width="5.26" height="12.59" fill="#46827D"/>
<rect x="352.69" y="517.14" width="5.26" height="22.81" fill="#A00028"/>
<rect x="358.35" y="95.4" width="5.26" height="21.48" fill="#5AA189"/>
<rect x="358.35" y="116.73" width="5.26" height="22.37" fill="#E19B80"/>
<rect x="358.35" y="138.95" width="5.26" height="28.15" fill="#8A93B7"/>
<rect x="358.35" y="166.95" width="5.26" height="123.25" fill="#C00000"/>
<rect x="358.35" y="290.05" width="5.26" height="26.81" fill="#4071B3"/>
<rect x="358.35" y="316.71" width="5.26" height="47.7" fill="#4F8755"/>
<rect x="358.35" y="364.26" width="5.26" height="26.37" fill="#7B77B3"/>
<rect x="358.35" y="390.48" width="5.26" height="10.37" fill="#7B99AE"/>
<rect x="358.35" y="400.7" width="5.26" height="27.7" fill="#F6D98E"/>
<rect x="358.35" y="428.26" width="5.26" height="34.81" fill="#D04C96"/>
<rect x="358.35" y="462.92" width="5.26" height="67.25" fill="#4D8C4D"/>
<rect x="358.35" y="530.02" width="5.26" height="9.93" fill="#A00028"/>
<rect x="364.01" y="95.4" width="5.26" height="16.59" fill="#E19B80"/>
<rect x="364.01" y="111.84" width="5.26" height="53.92" fill="#8A93B7"/>
<rect x="364.01" y="165.62" width="5.26" height="83.25" fill="#C00000"/>
<rect x="364.01" y="248.72" width="5.26" height="10.37" fill="#4071B3"/>
<rect x="364.01" y="258.94" width="5.26" height="63.7" fill="#CE8A35"/>
<rect x="364.01" y="322.49" width="5.26" height="16.15" fill="#7B77B3"/>
<rect x="364.01" y="338.49" width="5.26" height="22.81" fill="#7B99AE"/>
<rect x="364.01" y="361.15" width="5.26" height="37.92" fill="#F6D98E"/>
<rect x="364.01" y="398.93" width="5.26" height="35.26" fill="#D04C96"/>
<rect x="364.01" y="434.03" width="5.26" height="5.04" fill="#434A91"/>
<rect x="364.01" y="438.92" width="5.26" height="86.81" fill="#4D8C4D"/>
<rect x="364.01" y="525.58" width="5.26" height="14.37" fill="#A00028"/>
<rect x="369.67" y="95.4" width="5.26" height="13.93" fill="#5AA189"/>
<rect x="369.67" y="109.18" width="5.26" height="9.93" fill="#E19B80"/>
<rect x="369.67" y="118.95" width="5.26" height="135.25" fill="#C00000"/>
<rect x="369.67" y="254.05" width="5.26" height="2.37" fill="#7A6248"/>
<rect x="369.67" y="256.27" width="5.26" height="67.7" fill="#A63B2F"/>
<rect x="369.67" y="323.82" width="5.26" height="12.59" fill="#4F8755"/>
<rect x="369.67" y="336.26" width="5.26" height="11.7" fill="#7B77B3"/>
<rect x="369.67" y="347.82" width="5.26" height="16.59" fill="#F6D98E"/>
<rect x="369.67" y="364.26" width="5.26" height="128.14" fill="#D04C96"/>
<rect x="369.67" y="492.25" width="5.26" height="17.04" fill="#434A91"/>
<rect x="369.67" y="509.14" width="5.26" height="9.93" fill="#CC0000"/>
<rect x="369.67" y="518.91" width="5.26" height="19.26" fill="#4D8C4D"/>
<rect x="369.67" y="538.02" width="5.26" height="1.93" fill="#A00028"/>
<rect x="375.33" y="95.4" width="5.26" height="9.93" fill="#48578B"/>
<rect x="375.33" y="105.18" width="5.26" height="30.81" fill="#8A93B7"/>
<rect x="375.33" y="135.84" width="5.26" height="124.58" fill="#C00000"/>
<rect x="375.33" y="260.27" width="5.26" height="7.26" fill="#4071B3"/>
<rect x="375.33" y="267.38" width="5.26" height="14.82" fill="#CE8A35"/>
<rect x="375.33" y="282.05" width="5.26" height="35.26" fill="#4F8755"/>
<rect x="375.33" y="317.16" width="5.26" height="48.15" fill="#7B77B3"/>
<rect x="375.33" y="365.15" width="5.26" height="45.48" fill="#F6D98E"/>
<rect x="375.33" y="410.48" width="5.26" height="54.81" fill="#D04C96"/>
<rect x="375.33" y="465.14" width="5.26" height="58.81" fill="#4D8C4D"/>
<rect x="375.33" y="523.8" width="5.26" height="16.15" fill="#A00028"/>
<rect x="380.99" y="95.4" width="5.26" height="16.59" fill="#48578B"/>
<rect x="380.99" y="111.84" width="5.26" height="49.92" fill="#E19B80"/>
<rect x="380.99" y="161.62" width="5.26" height="17.04" fill="#8A93B7"/>
<rect x="380.99" y="178.5" width="5.26" height="54.81" fill="#C00000"/>
<rect x="380.99" y="233.16" width="5.26" height="12.59" fill="#4071B3"/>
<rect x="380.99" y="245.61" width="5.26" height="17.48" fill="#A63B2F"/>
<rect x="380.99" y="262.94" width="5.26" height="14.82" fill="#4F8755"/>
<rect x="380.99" y="277.6" width="5.26" height="39.26" fill="#7B77B3"/>
<rect x="380.99" y="316.71" width="5.26" height="17.93" fill="#F6D98E"/>
<rect x="380.99" y="334.49" width="5.26" height="90.36" fill="#D04C96"/>
<rect x="380.99" y="424.7" width="5.26" height="94.36" fill="#4D8C4D"/>
<rect x="380.99" y="518.91" width="5.26" height="21.04" fill="#A00028"/>
<rect x="386.65" y="95.4" width="5.26" height="24.59" fill="#5AA189"/>
<rect x="386.65" y="119.84" width="5.26" height="5.04" fill="#E19B80"/>
<rect x="386.65" y="124.73" width="5.26" height="69.48" fill="#8A93B7"/>
<rect x="386.65" y="194.06" width="5.26" height="85.03" fill="#C00000"/>
<rect x="386.65" y="278.94" width="5.26" height="13.93" fill="#7A6248"/>
<rect x="386.65" y="292.71" width="5.26" height="3.71" fill="#4071B3"/>
<rect x="386.65" y="296.27" width="5.26" height="2.37" fill="#A63B2F"/>
<rect x="386.65" y="298.49" width="5.26" height="18.81" fill="#4F8755"/>
<rect x="386.65" y="317.16" width="5.26" height="18.81" fill="#7B77B3"/>
<rect x="386.65" y="335.82" width="5.26" height="22.37" fill="#F6D98E"/>
<rect x="386.65" y="358.04" width="5.26" height="125.03" fill="#D04C96"/>
<rect x="386.65" y="482.92" width="5.26" height="8.59" fill="#434A91"/>
<rect x="386.65" y="491.36" width="5.26" height="34.37" fill="#4D8C4D"/>
<rect x="386.65" y="525.58" width="5.26" height="14.37" fill="#A00028"/>
<rect x="392.31" y="95.4" width="5.26" height="5.48" fill="#5AA189"/>
<rect x="392.31" y="100.73" width="5.26" height="13.04" fill="#48578B"/>
<rect x="392.31" y="113.62" width="5.26" height="22.37" fill="#E19B80"/>
<rect x="392.31" y="135.84" width="5.26" height="11.26" fill="#8A93B7"/>
<rect x="392.31" y="146.95" width="5.26" height="115.25" fill="#C00000"/>
<rect x="392.31" y="262.05" width="5.26" height="5.48" fill="#4071B3"/>
<rect x="392.31" y="267.38" width="5.26" height="41.48" fill="#CE8A35"/>
<rect x="392.31" y="308.71" width="5.26" height="2.37" fill="#4F8755"/>
<rect x="392.31" y="310.93" width="5.26" height="82.36" fill="#7B77B3"/>
<rect x="392.31" y="393.15" width="5.26" height="69.92" fill="#F6D98E"/>
<rect x="392.31" y="462.92" width="5.26" height="31.7" fill="#D04C96"/>
<rect x="392.31" y="494.47" width="5.26" height="9.04" fill="#434A91"/>
<rect x="392.31" y="503.36" width="5.26" height="19.26" fill="#4D8C4D"/>
<rect x="392.31" y="522.47" width="5.26" height="17.48" fill="#A00028"/>
<rect x="397.97" y="95.4" width="5.26" height="29.48" fill="#5AA189"/>
<rect x="397.97" y="124.73" width="5.26" height="88.59" fill="#8A93B7"/>
<rect x="397.97" y="213.17" width="5.26" height="51.26" fill="#C00000"/>
<rect x="397.97" y="264.27" width="5.26" height="10.37" fill="#4071B3"/>
<rect x="397.97" y="274.49" width="5.26" height="70.81" fill="#A63B2F"/>
<rect x="397.97" y="345.15" width="5.26" height="9.93" fill="#4F8755"/>
<rect x="397.97" y="354.93" width="5.26" height="7.26" fill="#7B77B3"/>
<rect x="397.97" y="362.04" width="5.26" height="68.14" fill="#F6D98E"/>
<rect x="397.97" y="430.03" width="5.26" height="74.81" fill="#D04C96"/>
<rect x="397.97" y="504.69" width="5.26" height="4.15" fill="#434A91"/>
<rect x="397.97" y="508.69" width="5.26" height="20.15" fill="#4D8C4D"/>
<rect x="397.97" y="528.69" width="5.26" height="11.26" fill="#A00028"/>
<rect x="403.63" y="95.4" width="5.26" height="11.26" fill="#48578B"/>
<rect x="403.63" y="106.51" width="5.26" height="1.93" fill="#E19B80"/>
<rect x="403.63" y="108.29" width="5.26" height="3.71" fill="#8A93B7"/>
<rect x="403.63" y="111.84" width="5.26" height="32.59" fill="#A4D0C2"/>
<rect x="403.63" y="144.28" width="5.26" height="155.25" fill="#C00000"/>
<rect x="403.63" y="299.38" width="5.26" height="24.15" fill="#7A6248"/>
<rect x="403.63" y="323.38" width="5.26" height="34.81" fill="#A63B2F"/>
<rect x="403.63" y="358.04" width="5.26" height="33.92" fill="#7B77B3"/>
<rect x="403.63" y="391.81" width="5.26" height="2.37" fill="#7B99AE"/>
<rect x="403.63" y="394.04" width="5.26" height="58.37" fill="#D04C96"/>
<rect x="403.63" y="452.25" width="5.26" height="1.48" fill="#434A91"/>
<rect x="403.63" y="453.59" width="5.26" height="15.26" fill="#CC0000"/>
<rect x="403.63" y="468.7" width="5.26" height="71.25" fill="#4D8C4D"/>
<rect x="409.29" y="95.4" width="5.26" height="35.26" fill="#5AA189"/>
<rect x="409.29" y="130.51" width="5.26" height="9.48" fill="#E19B80"/>
<rect x="409.29" y="139.84" width="5.26" height="98.81" fill="#8A93B7"/>
<rect x="409.29" y="238.5" width="5.26" height="26.37" fill="#C00000"/>
<rect x="409.29" y="264.72" width="5.26" height="11.26" fill="#7A6248"/>
<rect x="409.29" y="275.83" width="5.26" height="22.81" fill="#4071B3"/>
<rect x="409.29" y="298.49" width="5.26" height="26.81" fill="#A63B2F"/>
<rect x="409.29" y="325.15" width="5.26" height="4.59" fill="#4F8755"/>
<rect x="409.29" y="329.6" width="5.26" height="32.15" fill="#7B77B3"/>
<rect x="409.29" y="361.6" width="5.26" height="32.59" fill="#F6D98E"/>
<rect x="409.29" y="394.04" width="5.26" height="79.7" fill="#D04C96"/>
<rect x="409.29" y="473.58" width="5.26" height="11.7" fill="#434A91"/>
<rect x="409.29" y="485.14" width="5.26" height="9.48" fill="#CC0000"/>
<rect x="409.29" y="494.47" width="5.26" height="35.7" fill="#4D8C4D"/>
<rect x="409.29" y="530.02" width="5.26" height="9.93" fill="#A00028"/>
<rect x="414.95" y="95.4" width="5.26" height="10.82" fill="#5AA189"/>
<rect x="414.95" y="106.07" width="5.26" height="5.48" fill="#E19B80"/>
<rect x="414.95" y="111.4" width="5.26" height="107.69" fill="#8A93B7"/>
<rect x="414.95" y="218.94" width="5.26" height="55.7" fill="#C00000"/>
<rect x="414.95" y="274.49" width="5.26" height="9.48" fill="#7A6248"/>
<rect x="414.95" y="283.83" width="5.26" height="9.48" fill="#4071B3"/>
<rect x="414.95" y="293.16" width="5.26" height="9.48" fill="#A63B2F"/>
<rect x="414.95" y="302.49" width="5.26" height="14.82" fill="#4F8755"/>
<rect x="414.95" y="317.16" width="5.26" height="24.59" fill="#7B77B3"/>
<rect x="414.95" y="341.6" width="5.26" height="38.81" fill="#F6D98E"/>
<rect x="414.95" y="380.26" width="5.26" height="117.47" fill="#D04C96"/>
<rect x="414.95" y="497.58" width="5.26" height="4.15" fill="#434A91"/>
<rect x="414.95" y="501.58" width="5.26" height="18.37" fill="#4D8C4D"/>
<rect x="414.95" y="519.8" width="5.26" height="20.15" fill="#A00028"/>
<rect x="420.61" y="95.4" width="5.26" height="11.7" fill="#E19B80"/>
<rect x="420.61" y="106.95" width="5.26" height="84.59" fill="#8A93B7"/>
<rect x="420.61" y="191.39" width="5.26" height="60.59" fill="#C00000"/>
<rect x="420.61" y="251.83" width="5.26" height="6.82" fill="#7A6248"/>
<rect x="420.61" y="258.49" width="5.26" height="32.15" fill="#CE8A35"/>
<rect x="420.61" y="290.49" width="5.26" height="29.04" fill="#7B77B3"/>
<rect x="420.61" y="319.38" width="5.26" height="13.04" fill="#F6D98E"/>
<rect x="420.61" y="332.27" width="5.26" height="77.03" fill="#D04C96"/>
<rect x="420.61" y="409.15" width="5.26" height="6.82" fill="#434A91"/>
<rect x="420.61" y="415.81" width="5.26" height="93.92" fill="#4D8C4D"/>
<rect x="420.61" y="509.58" width="5.26" height="30.37" fill="#A00028"/>
<rect x="426.27" y="95.4" width="5.26" height="4.59" fill="#E19B80"/>
<rect x="426.27" y="99.84" width="5.26" height="28.59" fill="#8A93B7"/>
<rect x="426.27" y="128.29" width="5.26" height="121.92" fill="#C00000"/>
<rect x="426.27" y="250.05" width="5.26" height="18.37" fill="#4071B3"/>
<rect x="426.27" y="268.27" width="5.26" height="40.15" fill="#4F8755"/>
<rect x="426.27" y="308.27" width="5.26" height="33.92" fill="#7B77B3"/>
<rect x="426.27" y="342.04" width="5.26" height="9.93" fill="#7B99AE"/>
<rect x="426.27" y="351.82" width="5.26" height="59.7" fill="#F6D98E"/>
<rect x="426.27" y="411.37" width="5.26" height="50.81" fill="#D04C96"/>
<rect x="426.27" y="462.03" width="5.26" height="5.04" fill="#434A91"/>
<rect x="426.27" y="466.92" width="5.26" height="73.03" fill="#4D8C4D"/>
<rect x="431.93" y="95.4" width="5.26" height="16.15" fill="#5AA189"/>
<rect x="431.93" y="111.4" width="5.26" height="19.7" fill="#E19B80"/>
<rect x="431.93" y="130.95" width="5.26" height="1.48" fill="#8A93B7"/>
<rect x="431.93" y="132.29" width="5.26" height="108.14" fill="#C00000"/>
<rect x="431.93" y="240.27" width="5.26" height="21.93" fill="#A63B2F"/>
<rect x="431.93" y="262.05" width="5.26" height="14.82" fill="#4F8755"/>
<rect x="431.93" y="276.72" width="5.26" height="21.04" fill="#7B77B3"/>
<rect x="431.93" y="297.6" width="5.26" height="25.04" fill="#F6D98E"/>
<rect x="431.93" y="322.49" width="5.26" height="124.14" fill="#D04C96"/>
<rect x="431.93" y="446.48" width="5.26" height="9.04" fill="#434A91"/>
<rect x="431.93" y="455.36" width="5.26" height="76.59" fill="#4D8C4D"/>
<rect x="431.93" y="531.8" width="5.26" height="3.26" fill="#46827D"/>
<rect x="431.93" y="534.91" width="5.26" height="5.04" fill="#A00028"/>
<rect x="437.59" y="95.4" width="5.26" height="13.48" fill="#5AA189"/>
<rect x="437.59" y="108.73" width="5.26" height="31.26" fill="#E19B80"/>
<rect x="437.59" y="139.84" width="5.26" height="27.26" fill="#8A93B7"/>
<rect x="437.59" y="166.95" width="5.26" height="74.81" fill="#C00000"/>
<rect x="437.59" y="241.61" width="5.26" height="5.48" fill="#4071B3"/>
<rect x="437.59" y="246.94" width="5.26" height="13.48" fill="#A63B2F"/>
<rect x="437.59" y="260.27" width="5.26" height="26.81" fill="#4F8755"/>
<rect x="437.59" y="286.94" width="5.26" height="5.93" fill="#7B77B3"/>
<rect x="437.59" y="292.71" width="5.26" height="5.93" fill="#F6D98E"/>
<rect x="437.59" y="298.49" width="5.26" height="127.25" fill="#D04C96"/>
<rect x="437.59" y="425.59" width="5.26" height="9.04" fill="#434A91"/>
<rect x="437.59" y="434.48" width="5.26" height="101.92" fill="#4D8C4D"/>
<rect x="437.59" y="536.24" width="5.26" height="3.71" fill="#A00028"/>
<rect x="443.25" y="95.4" width="5.26" height="9.93" fill="#5AA189"/>
<rect x="443.25" y="105.18" width="5.26" height="30.81" fill="#48578B"/>
<rect x="443.25" y="135.84" width="5.26" height="10.37" fill="#E19B80"/>
<rect x="443.25" y="146.06" width="5.26" height="97.03" fill="#8A93B7"/>
<rect x="443.25" y="242.94" width="5.26" height="9.93" fill="#C00000"/>
<rect x="443.25" y="252.72" width="5.26" height="59.7" fill="#A63B2F"/>
<rect x="443.25" y="312.27" width="5.26" height="9.04" fill="#4F8755"/>
<rect x="443.25" y="321.16" width="5.26" height="49.92" fill="#7B77B3"/>
<rect x="443.25" y="370.93" width="5.26" height="14.37" fill="#F6D98E"/>
<rect x="443.25" y="385.15" width="5.26" height="97.92" fill="#D04C96"/>
<rect x="443.25" y="482.92" width="5.26" height="1.48" fill="#434A91"/>
<rect x="443.25" y="484.25" width="5.26" height="41.03" fill="#4D8C4D"/>
<rect x="443.25" y="525.13" width="5.26" height="14.82" fill="#A00028"/>
<rect x="448.91" y="95.4" width="5.26" height="13.93" fill="#E19B80"/>
<rect x="448.91" y="109.18" width="5.26" height="143.69" fill="#C00000"/>
<rect x="448.91" y="252.72" width="5.26" height="2.37" fill="#4071B3"/>
<rect x="448.91" y="254.94" width="5.26" height="20.59" fill="#A63B2F"/>
<rect x="448.91" y="275.38" width="5.26" height="25.04" fill="#4F8755"/>
<rect x="448.91" y="300.27" width="5.26" height="37.04" fill="#7B77B3"/>
<rect x="448.91" y="337.15" width="5.26" height="3.71" fill="#7B99AE"/>
<rect x="448.91" y="340.71" width="5.26" height="17.48" fill="#F6D98E"/>
<rect x="448.91" y="358.04" width="5.26" height="70.37" fill="#D04C96"/>
<rect x="448.91" y="428.26" width="5.26" height="8.59" fill="#434A91"/>
<rect x="448.91" y="436.7" width="5.26" height="93.47" fill="#4D8C4D"/>
<rect x="448.91" y="530.02" width="5.26" height="9.93" fill="#A00028"/>
<rect x="454.57" y="95.4" width="5.26" height="1.04" fill="#48578B"/>
<rect x="454.57" y="96.29" width="5.26" height="5.48" fill="#E19B80"/>
<rect x="454.57" y="101.62" width="5.26" height="71.25" fill="#8A93B7"/>
<rect x="454.57" y="172.73" width="5.26" height="51.7" fill="#C00000"/>
<rect x="454.57" y="224.28" width="5.26" height="13.93" fill="#7A6248"/>
<rect x="454.57" y="238.05" width="5.26" height="29.92" fill="#A63B2F"/>
<rect x="454.57" y="267.83" width="5.26" height="57.92" fill="#7B77B3"/>
<rect x="454.57" y="325.6" width="5.26" height="30.81" fill="#F6D98E"/>
<rect x="454.57" y="356.26" width="5.26" height="117.92" fill="#D04C96"/>
<rect x="454.57" y="474.03" width="5.26" height="9.04" fill="#434A91"/>
<rect x="454.57" y="482.92" width="5.26" height="12.59" fill="#CC0000"/>
<rect x="454.57" y="495.36" width="5.26" height="41.03" fill="#4D8C4D"/>
<rect x="454.57" y="536.24" width="5.26" height="3.71" fill="#A00028"/>
<rect x="460.23" y="95.4" width="5.26" height="6.37" fill="#5AA189"/>
<rect x="460.23" y="101.62" width="5.26" height="45.92" fill="#48578B"/>
<rect x="460.23" y="147.39" width="5.26" height="7.26" fill="#E19B80"/>
<rect x="460.23" y="154.51" width="5.26" height="31.7" fill="#8A93B7"/>
<rect x="460.23" y="186.06" width="5.26" height="121.92" fill="#C00000"/>
<rect x="460.23" y="307.82" width="5.26" height="17.93" fill="#7A6248"/>
<rect x="460.23" y="325.6" width="5.26" height="17.48" fill="#A63B2F"/>
<rect x="460.23" y="342.93" width="5.26" height="11.26" fill="#7B77B3"/>
<rect x="460.23" y="354.04" width="5.26" height="4.15" fill="#F6D98E"/>
<rect x="460.23" y="358.04" width="5.26" height="150.8" fill="#D04C96"/>
<rect x="460.23" y="508.69" width="5.26" height="1.48" fill="#434A91"/>
<rect x="460.23" y="510.03" width="5.26" height="25.04" fill="#4D8C4D"/>
<rect x="460.23" y="534.91" width="5.26" height="5.04" fill="#A00028"/>
<rect x="465.89" y="95.4" width="5.26" height="12.15" fill="#48578B"/>
<rect x="465.89" y="107.4" width="5.26" height="9.48" fill="#E19B80"/>
<rect x="465.89" y="116.73" width="5.26" height="45.92" fill="#8A93B7"/>
<rect x="465.89" y="162.5" width="5.26" height="83.7" fill="#C00000"/>
<rect x="465.89" y="246.05" width="5.26" height="3.26" fill="#7A6248"/>
<rect x="465.89" y="249.16" width="5.26" height="6.37" fill="#4071B3"/>
<rect x="465.89" y="255.38" width="5.26" height="32.15" fill="#4F8755"/>
<rect x="465.89" y="287.38" width="5.26" height="75.25" fill="#7B77B3"/>
<rect x="465.89" y="362.48" width="5.26" height="24.15" fill="#F6D98E"/>
<rect x="465.89" y="386.48" width="5.26" height="115.25" fill="#D04C96"/>
<rect x="465.89" y="501.58" width="5.26" height="28.15" fill="#4D8C4D"/>
<rect x="465.89" y="529.58" width="5.26" height="10.37" fill="#A00028"/>
<rect x="471.55" y="95.4" width="5.26" height="34.81" fill="#5AA189"/>
<rect x="471.55" y="130.06" width="5.26" height="4.59" fill="#E19B80"/>
<rect x="471.55" y="134.51" width="5.26" height="1.93" fill="#8A93B7"/>
<rect x="471.55" y="136.28" width="5.26" height="121.03" fill="#C00000"/>
<rect x="471.55" y="257.16" width="5.26" height="2.82" fill="#4071B3"/>
<rect x="471.55" y="259.83" width="5.26" height="8.15" fill="#A63B2F"/>
<rect x="471.55" y="267.83" width="5.26" height="35.7" fill="#4F8755"/>
<rect x="471.55" y="303.38" width="5.26" height="12.15" fill="#7B77B3"/>
<rect x="471.55" y="315.38" width="5.26" height="54.81" fill="#F6D98E"/>
<rect x="471.55" y="370.04" width="5.26" height="137.47" fill="#D04C96"/>
<rect x="471.55" y="507.36" width="5.26" height="2.82" fill="#434A91"/>
<rect x="471.55" y="510.03" width="5.26" height="18.81" fill="#4D8C4D"/>
<rect x="471.55" y="528.69" width="5.26" height="11.26" fill="#A00028"/>
<rect x="477.21" y="95.4" width="5.26" height="26.81" fill="#5AA189"/>
<rect x="477.21" y="122.06" width="5.26" height="1.93" fill="#E19B80"/>
<rect x="477.21" y="123.84" width="5.26" height="15.7" fill="#8A93B7"/>
<rect x="477.21" y="139.4" width="5.26" height="104.14" fill="#C00000"/>
<rect x="477.21" y="243.39" width="5.26" height="13.48" fill="#A63B2F"/>
<rect x="477.21" y="256.72" width="5.26" height="47.26" fill="#4F8755"/>
<rect x="477.21" y="303.82" width="5.26" height="29.04" fill="#7B77B3"/>
<rect x="477.21" y="332.71" width="5.26" height="34.81" fill="#F6D98E"/>
<rect x="477.21" y="367.37" width="5.26" height="130.8" fill="#D04C96"/>
<rect x="477.21" y="498.03" width="5.26" height="5.48" fill="#434A91"/>
<rect x="477.21" y="503.36" width="5.26" height="32.15" fill="#4D8C4D"/>
<rect x="477.21" y="535.36" width="5.26" height="4.59" fill="#A00028"/>
<rect x="482.88" y="95.4" width="5.26" height="2.37" fill="#5AA189"/>
<rect x="482.88" y="97.62" width="5.26" height="14.37" fill="#E19B80"/>
<rect x="482.88" y="111.84" width="5.26" height="33.48" fill="#8A93B7"/>
<rect x="482.88" y="145.17" width="5.26" height="127.69" fill="#C00000"/>
<rect x="482.88" y="272.72" width="5.26" height="3.71" fill="#CE8A35"/>
<rect x="482.88" y="276.27" width="5.26" height="22.37" fill="#4F8755"/>
<rect x="482.88" y="298.49" width="5.26" height="49.03" fill="#7B77B3"/>
<rect x="482.88" y="347.37" width="5.26" height="25.48" fill="#F6D98E"/>
<rect x="482.88" y="372.71" width="5.26" height="69.92" fill="#D04C96"/>
<rect x="482.88" y="442.48" width="5.26" height="8.15" fill="#434A91"/>
<rect x="482.88" y="450.48" width="5.26" height="73.92" fill="#4D8C4D"/>
<rect x="482.88" y="524.25" width="5.26" height="15.7" fill="#A00028"/>
<rect x="488.54" y="95.4" width="5.26" height="5.93" fill="#5AA189"/>
<rect x="488.54" y="101.18" width="5.26" height="5.48" fill="#E19B80"/>
<rect x="488.54" y="106.51" width="5.26" height="41.92" fill="#8A93B7"/>
<rect x="488.54" y="148.28" width="5.26" height="137.91" fill="#C00000"/>
<rect x="488.54" y="286.05" width="5.26" height="22.37" fill="#A63B2F"/>
<rect x="488.54" y="308.27" width="5.26" height="16.59" fill="#4F8755"/>
<rect x="488.54" y="324.71" width="5.26" height="9.48" fill="#7B77B3"/>
<rect x="488.54" y="334.04" width="5.26" height="45.03" fill="#F6D98E"/>
<rect x="488.54" y="378.93" width="5.26" height="104.58" fill="#D04C96"/>
<rect x="488.54" y="483.36" width="5.26" height="6.82" fill="#434A91"/>
<rect x="488.54" y="490.03" width="5.26" height="32.15" fill="#4D8C4D"/>
<rect x="488.54" y="522.02" width="5.26" height="17.93" fill="#A00028"/>
<rect x="494.2" y="95.4" width="5.26" height="19.7" fill="#8A93B7"/>
<rect x="494.2" y="114.95" width="5.26" height="169.02" fill="#C00000"/>
<rect x="494.2" y="283.83" width="5.26" height="79.25" fill="#4F8755"/>
<rect x="494.2" y="362.93" width="5.26" height="9.04" fill="#7B77B3"/>
<rect x="494.2" y="371.82" width="5.26" height="13.04" fill="#7B99AE"/>
<rect x="494.2" y="384.7" width="5.26" height="38.81" fill="#F6D98E"/>
<rect x="494.2" y="423.37" width="5.26" height="35.26" fill="#D04C96"/>
<rect x="494.2" y="458.47" width="5.26" height="78.36" fill="#4D8C4D"/>
<rect x="494.2" y="536.69" width="5.26" height="3.26" fill="#A00028"/>
<rect x="499.86" y="95.4" width="5.26" height="3.71" fill="#48578B"/>
<rect x="499.86" y="98.96" width="5.26" height="7.7" fill="#E19B80"/>
<rect x="499.86" y="106.51" width="5.26" height="34.81" fill="#8A93B7"/>
<rect x="499.86" y="141.17" width="5.26" height="122.36" fill="#C00000"/>
<rect x="499.86" y="263.38" width="5.26" height="39.26" fill="#A63B2F"/>
<rect x="499.86" y="302.49" width="5.26" height="11.7" fill="#4F8755"/>
<rect x="499.86" y="314.04" width="5.26" height="25.93" fill="#7B77B3"/>
<rect x="499.86" y="339.82" width="5.26" height="45.48" fill="#F6D98E"/>
<rect x="499.86" y="385.15" width="5.26" height="99.7" fill="#D04C96"/>
<rect x="499.86" y="484.69" width="5.26" height="7.7" fill="#434A91"/>
<rect x="499.86" y="492.25" width="5.26" height="40.15" fill="#4D8C4D"/>
<rect x="499.86" y="532.25" width="5.26" height="7.7" fill="#A00028"/>
<rect x="505.52" y="95.4" width="5.26" height="1.93" fill="#E19B80"/>
<rect x="505.52" y="97.18" width="5.26" height="13.48" fill="#8A93B7"/>
<rect x="505.52" y="110.51" width="5.26" height="129.91" fill="#C00000"/>
<rect x="505.52" y="240.27" width="5.26" height="35.26" fill="#CE8A35"/>
<rect x="505.52" y="275.38" width="5.26" height="43.7" fill="#7B77B3"/>
<rect x="505.52" y="318.93" width="5.26" height="34.81" fill="#F6D98E"/>
<rect x="505.52" y="353.6" width="5.26" height="54.81" fill="#D04C96"/>
<rect x="505.52" y="408.26" width="5.26" height="20.15" fill="#434A91"/>
<rect x="505.52" y="428.26" width="5.26" height="44.59" fill="#4D8C4D"/>
<rect x="505.52" y="472.7" width="5.26" height="67.25" fill="#A00028"/>
<rect x="511.18" y="95.4" width="5.26" height="22.81" fill="#5AA189"/>
<rect x="511.18" y="118.06" width="5.26" height="24.59" fill="#E19B80"/>
<rect x="511.18" y="142.51" width="5.26" height="41.48" fill="#8A93B7"/>
<rect x="511.18" y="183.84" width="5.26" height="61.92" fill="#C00000"/>
<rect x="511.18" y="245.61" width="5.26" height="7.26" fill="#7A6248"/>
<rect x="511.18" y="252.72" width="5.26" height="34.37" fill="#A63B2F"/>
<rect x="511.18" y="286.94" width="5.26" height="29.48" fill="#4F8755"/>
<rect x="511.18" y="316.27" width="5.26" height="7.7" fill="#7B77B3"/>
<rect x="511.18" y="323.82" width="5.26" height="50.37" fill="#F6D98E"/>
<rect x="511.18" y="374.04" width="5.26" height="85.03" fill="#D04C96"/>
<rect x="511.18" y="458.92" width="5.26" height="5.48" fill="#434A91"/>
<rect x="511.18" y="464.25" width="5.26" height="60.59" fill="#4D8C4D"/>
<rect x="511.18" y="524.69" width="5.26" height="15.26" fill="#A00028"/>
<rect x="516.84" y="95.4" width="5.26" height="14.37" fill="#5AA189"/>
<rect x="516.84" y="109.62" width="5.26" height="23.26" fill="#48578B"/>
<rect x="516.84" y="132.73" width="5.26" height="9.48" fill="#E19B80"/>
<rect x="516.84" y="142.06" width="5.26" height="15.26" fill="#8A93B7"/>
<rect x="516.84" y="157.17" width="5.26" height="129.47" fill="#C00000"/>
<rect x="516.84" y="286.49" width="5.26" height="38.81" fill="#A63B2F"/>
<rect x="516.84" y="325.15" width="5.26" height="9.48" fill="#4F8755"/>
<rect x="516.84" y="334.49" width="5.26" height="22.81" fill="#7B77B3"/>
<rect x="516.84" y="357.15" width="5.26" height="11.7" fill="#7B99AE"/>
<rect x="516.84" y="368.71" width="5.26" height="55.7" fill="#F6D98E"/>
<rect x="516.84" y="424.26" width="5.26" height="41.48" fill="#D04C96"/>
<rect x="516.84" y="465.59" width="5.26" height="5.48" fill="#434A91"/>
<rect x="516.84" y="470.92" width="5.26" height="57.92" fill="#4D8C4D"/>
<rect x="516.84" y="528.69" width="5.26" height="11.26" fill="#A00028"/>
<rect x="522.5" y="95.4" width="5.26" height="11.7" fill="#5AA189"/>
<rect x="522.5" y="106.95" width="5.26" height="29.04" fill="#E19B80"/>
<rect x="522.5" y="135.84" width="5.26" height="57.48" fill="#8A93B7"/>
<rect x="522.5" y="193.17" width="5.26" height="54.37" fill="#C00000"/>
<rect x="522.5" y="247.38" width="5.26" height="4.59" fill="#4071B3"/>
<rect x="522.5" y="251.83" width="5.26" height="23.26" fill="#4F8755"/>
<rect x="522.5" y="274.94" width="5.26" height="50.37" fill="#7B77B3"/>
<rect x="522.5" y="325.15" width="5.26" height="41.48" fill="#F6D98E"/>
<rect x="522.5" y="366.48" width="5.26" height="77.03" fill="#D04C96"/>
<rect x="522.5" y="443.37" width="5.26" height="19.7" fill="#434A91"/>
<rect x="522.5" y="462.92" width="5.26" height="68.59" fill="#4D8C4D"/>
<rect x="522.5" y="531.36" width="5.26" height="8.59" fill="#A00028"/>
<rect x="528.16" y="95.4" width="5.26" height="3.71" fill="#5AA189"/>
<rect x="528.16" y="98.96" width="5.26" height="6.37" fill="#E19B80"/>
<rect x="528.16" y="105.18" width="5.26" height="22.81" fill="#8A93B7"/>
<rect x="528.16" y="127.84" width="5.26" height="124.58" fill="#C00000"/>
<rect x="528.16" y="252.27" width="5.26" height="16.15" fill="#4071B3"/>
<rect x="528.16" y="268.27" width="5.26" height="14.82" fill="#CE8A35"/>
<rect x="528.16" y="282.94" width="5.26" height="9.93" fill="#4F8755"/>
<rect x="528.16" y="292.71" width="5.26" height="21.04" fill="#7B77B3"/>
<rect x="528.16" y="313.6" width="5.26" height="5.04" fill="#7B99AE"/>
<rect x="528.16" y="318.49" width="5.26" height="35.26" fill="#F6D98E"/>
<rect x="528.16" y="353.6" width="5.26" height="55.26" fill="#D04C96"/>
<rect x="528.16" y="408.7" width="5.26" height="9.48" fill="#434A91"/>
<rect x="528.16" y="418.03" width="5.26" height="93.47" fill="#4D8C4D"/>
<rect x="528.16" y="511.36" width="5.26" height="28.59" fill="#A00028"/>
<rect x="533.82" y="95.4" width="5.26" height="28.15" fill="#5AA189"/>
<rect x="533.82" y="123.4" width="5.26" height="14.37" fill="#E19B80"/>
<rect x="533.82" y="137.62" width="5.26" height="21.93" fill="#8A93B7"/>
<rect x="533.82" y="159.39" width="5.26" height="138.36" fill="#C00000"/>
<rect x="533.82" y="297.6" width="5.26" height="33.48" fill="#A63B2F"/>
<rect x="533.82" y="330.93" width="5.26" height="22.37" fill="#7B77B3"/>
<rect x="533.82" y="353.15" width="5.26" height="43.26" fill="#F6D98E"/>
<rect x="533.82" y="396.26" width="5.26" height="71.7" fill="#D04C96"/>
<rect x="533.82" y="467.81" width="5.26" height="50.37" fill="#4D8C4D"/>
<rect x="533.82" y="518.02" width="5.26" height="21.93" fill="#A00028"/>
<rect x="539.48" y="95.4" width="5.26" height="20.15" fill="#5AA189"/>
<rect x="539.48" y="115.4" width="5.26" height="27.26" fill="#E19B80"/>
<rect x="539.48" y="142.51" width="5.26" height="22.37" fill="#8A93B7"/>
<rect x="539.48" y="164.73" width="5.26" height="133.03" fill="#C00000"/>
<rect x="539.48" y="297.6" width="5.26" height="40.15" fill="#A63B2F"/>
<rect x="539.48" y="337.6" width="5.26" height="30.37" fill="#4F8755"/>
<rect x="539.48" y="367.82" width="5.26" height="41.48" fill="#7B77B3"/>
<rect x="539.48" y="409.15" width="5.26" height="19.26" fill="#F6D98E"/>
<rect x="539.48" y="428.26" width="5.26" height="54.81" fill="#D04C96"/>
<rect x="539.48" y="482.92" width="5.26" height="48.59" fill="#4D8C4D"/>
<rect x="539.48" y="531.36" width="5.26" height="8.59" fill="#A00028"/>
<rect x="545.14" y="95.4" width="5.26" height="15.26" fill="#5AA189"/>
<rect x="545.14" y="110.51" width="5.26" height="27.7" fill="#E19B80"/>
<rect x="545.14" y="138.06" width="5.26" height="11.7" fill="#8A93B7"/>
<rect x="545.14" y="149.62" width="5.26" height="147.69" fill="#C00000"/>
<rect x="545.14" y="297.16" width="5.26" height="13.04" fill="#CE8A35"/>
<rect x="545.14" y="310.05" width="5.26" height="19.26" fill="#4F8755"/>
<rect x="545.14" y="329.15" width="5.26" height="40.59" fill="#7B77B3"/>
<rect x="545.14" y="369.59" width="5.26" height="61.92" fill="#F6D98E"/>
<rect x="545.14" y="431.37" width="5.26" height="48.15" fill="#D04C96"/>
<rect x="545.14" y="479.36" width="5.26" height="3.71" fill="#434A91"/>
<rect x="545.14" y="482.92" width="5.26" height="46.37" fill="#4D8C4D"/>
<rect x="545.14" y="529.13" width="5.26" height="10.82" fill="#A00028"/>
</g>
<line x1="76.7" y1="539.8" x2="79.9" y2="539.8" stroke="#333" stroke-width="1.3"/>
<text x="73.3" y="543.8" font-size="10.8" fill="#4D4D4D" text-anchor="end">0.00</text>
<line x1="76.7" y1="428.7" x2="79.9" y2="428.7" stroke="#333" stroke-width="1.3"/>
<text x="73.3" y="432.7" font-size="10.8" fill="#4D4D4D" text-anchor="end">0.25</text>
<line x1="76.7" y1="317.6" x2="79.9" y2="317.6" stroke="#333" stroke-width="1.3"/>
<text x="73.3" y="321.6" font-size="10.8" fill="#4D4D4D" text-anchor="end">0.50</text>
<line x1="76.7" y1="206.5" x2="79.9" y2="206.5" stroke="#333" stroke-width="1.3"/>
<text x="73.3" y="210.5" font-size="10.8" fill="#4D4D4D" text-anchor="end">0.75</text>
<line x1="76.7" y1="95.4" x2="79.9" y2="95.4" stroke="#333" stroke-width="1.3"/>
<text x="73.3" y="99.4" font-size="10.8" fill="#4D4D4D" text-anchor="end">1.00</text>
<text x="36" y="317.6" font-size="13.44" fill="#000" text-anchor="middle" transform="rotate(-90 36 317.6)">Relative Percentage</text>
<rect x="80.8" y="573.1" width="186.79" height="12.4" fill="#78BAD5"/>
<rect x="267.59" y="573.1" width="283.01" height="12.4" fill="#CB4E3B"/>
<text x="73.8" y="583.4" font-size="11.15" fill="#4D4D4D" text-anchor="end">Group</text>
<text x="571.3" y="168.3" font-size="13.5" fill="#000" text-anchor="start">Immune Cell</text>
<rect x="572.2" y="177.7" width="19.4" height="19.4" fill="#5AA189"/>
<text x="599.8" y="191.4" font-size="11.15" fill="#000" text-anchor="start">B cells naive</text>
<rect x="572.2" y="199.2" width="19.4" height="19.4" fill="#48578B"/>
<text x="599.8" y="212.9" font-size="11.15" fill="#000" text-anchor="start">B cells memory</text>
<rect x="572.2" y="220.7" width="19.4" height="19.4" fill="#E19B80"/>
<text x="599.8" y="234.4" font-size="11.15" fill="#000" text-anchor="start">Plasma cells</text>
<rect x="572.2" y="242.2" width="19.4" height="19.4" fill="#8A93B7"/>
<text x="599.8" y="255.9" font-size="11.15" fill="#000" text-anchor="start">T cells CD8</text>
<rect x="572.2" y="263.7" width="19.4" height="19.4" fill="#A4D0C2"/>
<text x="599.8" y="277.4" font-size="11.15" fill="#000" text-anchor="start">T cells CD4 naive</text>
<rect x="572.2" y="285.2" width="19.4" height="19.4" fill="#C00000"/>
<text x="599.8" y="298.9" font-size="11.15" fill="#000" text-anchor="start">T cells CD4 memory resting</text>
<rect x="572.2" y="306.7" width="19.4" height="19.4" fill="#7A6248"/>
<text x="599.8" y="320.4" font-size="11.15" fill="#000" text-anchor="start">T cells CD4 memory activated</text>
<rect x="572.2" y="328.2" width="19.4" height="19.4" fill="#AB9B86"/>
<text x="599.8" y="341.9" font-size="11.15" fill="#000" text-anchor="start">T cells follicular helper</text>
<rect x="572.2" y="349.7" width="19.4" height="19.4" fill="#4071B3"/>
<text x="599.8" y="363.4" font-size="11.15" fill="#000" text-anchor="start">T cells regulatory (Tregs)</text>
<rect x="572.2" y="371.2" width="19.4" height="19.4" fill="#A63B2F"/>
<text x="599.8" y="384.9" font-size="11.15" fill="#000" text-anchor="start">T cells gamma delta</text>
<rect x="572.2" y="392.7" width="19.4" height="19.4" fill="#CE8A35"/>
<text x="599.8" y="406.4" font-size="11.15" fill="#000" text-anchor="start">NK cells resting</text>
<rect x="756.7" y="177.7" width="19.4" height="19.4" fill="#4F8755"/>
<text x="783.9" y="191.4" font-size="11.15" fill="#000" text-anchor="start">NK cells activated</text>
<rect x="756.7" y="199.2" width="19.4" height="19.4" fill="#7B77B3"/>
<text x="783.9" y="212.9" font-size="11.15" fill="#000" text-anchor="start">Monocytes</text>
<rect x="756.7" y="220.7" width="19.4" height="19.4" fill="#7B99AE"/>
<text x="783.9" y="234.4" font-size="11.15" fill="#000" text-anchor="start">Macrophages M0</text>
<rect x="756.7" y="242.2" width="19.4" height="19.4" fill="#F6D98E"/>
<text x="783.9" y="255.9" font-size="11.15" fill="#000" text-anchor="start">Macrophages M1</text>
<rect x="756.7" y="263.7" width="19.4" height="19.4" fill="#D04C96"/>
<text x="783.9" y="277.4" font-size="11.15" fill="#000" text-anchor="start">Macrophages M2</text>
<rect x="756.7" y="285.2" width="19.4" height="19.4" fill="#434A91"/>
<text x="783.9" y="298.9" font-size="11.15" fill="#000" text-anchor="start">Dendritic cells resting</text>
<rect x="756.7" y="306.7" width="19.4" height="19.4" fill="#CC0000"/>
<text x="783.9" y="320.4" font-size="11.15" fill="#000" text-anchor="start">Dendritic cells activated</text>
<rect x="756.7" y="328.2" width="19.4" height="19.4" fill="#4D8C4D"/>
<text x="783.9" y="341.9" font-size="11.15" fill="#000" text-anchor="start">Mast cells resting</text>
<rect x="756.7" y="349.7" width="19.4" height="19.4" fill="#5A1C78"/>
<text x="783.9" y="363.4" font-size="11.15" fill="#000" text-anchor="start">Mast cells activated</text>
<rect x="756.7" y="371.2" width="19.4" height="19.4" fill="#46827D"/>
<text x="783.9" y="384.9" font-size="11.15" fill="#000" text-anchor="start">Eosinophils</text>
<rect x="756.7" y="392.7" width="19.4" height="19.4" fill="#A00028"/>
<text x="783.9" y="406.4" font-size="11.15" fill="#000" text-anchor="start">Neutrophils</text>
<text x="571.3" y="451.3" font-size="13.5" fill="#000" text-anchor="start">Group</text>
<rect x="571.3" y="460.3" width="21.3" height="21.2" fill="#78BAD5"/>
<rect x="571.3" y="481.5" width="21.3" height="21.2" fill="#CB4E3B"/>
<text x="599.8" y="474.9" font-size="11.15" fill="#000" text-anchor="start">Control</text>
<text x="599.8" y="496.1" font-size="11.15" fill="#000" text-anchor="start">DN</text>
<g shape-rendering="auto">
<rect x="973.03" y="100.9" width="9.26" height="28.69" fill="#48578B"/>
<rect x="973.03" y="129.44" width="9.26" height="177.91" fill="#E19B80"/>
<rect x="973.03" y="307.2" width="9.26" height="6.21" fill="#8A93B7"/>
<rect x="973.03" y="313.26" width="9.26" height="16.59" fill="#A4D0C2"/>
<rect x="973.03" y="329.69" width="9.26" height="17.45" fill="#C00000"/>
<rect x="973.03" y="346.99" width="9.26" height="5.77" fill="#7A6248"/>
<rect x="973.03" y="352.62" width="9.26" height="27.83" fill="#4071B3"/>
<rect x="973.03" y="380.29" width="9.26" height="60.27" fill="#CE8A35"/>
<rect x="973.03" y="440.41" width="9.26" height="26.1" fill="#7B99AE"/>
<rect x="973.03" y="466.36" width="9.26" height="10.53" fill="#F6D98E"/>
<rect x="973.03" y="476.74" width="9.26" height="33.02" fill="#4D8C4D"/>
<rect x="973.03" y="509.61" width="9.26" height="23.94" fill="#46827D"/>
<rect x="983.15" y="100.9" width="9.26" height="26.1" fill="#5AA189"/>
<rect x="983.15" y="126.85" width="9.26" height="185.69" fill="#E19B80"/>
<rect x="983.15" y="312.39" width="9.26" height="10.1" fill="#8A93B7"/>
<rect x="983.15" y="322.34" width="9.26" height="8.37" fill="#A4D0C2"/>
<rect x="983.15" y="330.56" width="9.26" height="7.07" fill="#7A6248"/>
<rect x="983.15" y="337.48" width="9.26" height="49.02" fill="#4071B3"/>
<rect x="983.15" y="386.35" width="9.26" height="52.92" fill="#CE8A35"/>
<rect x="983.15" y="439.12" width="9.26" height="15.29" fill="#7B77B3"/>
<rect x="983.15" y="454.25" width="9.26" height="15.29" fill="#7B99AE"/>
<rect x="983.15" y="469.39" width="9.26" height="7.5" fill="#F6D98E"/>
<rect x="983.15" y="476.74" width="9.26" height="20.48" fill="#D04C96"/>
<rect x="983.15" y="497.07" width="9.26" height="2.31" fill="#CC0000"/>
<rect x="983.15" y="499.23" width="9.26" height="12.69" fill="#4D8C4D"/>
<rect x="983.15" y="511.77" width="9.26" height="1.88" fill="#5A1C78"/>
<rect x="983.15" y="513.5" width="9.26" height="20.04" fill="#46827D"/>
<rect x="993.27" y="100.9" width="9.26" height="25.24" fill="#5AA189"/>
<rect x="993.27" y="125.99" width="9.26" height="211.64" fill="#E19B80"/>
<rect x="993.27" y="337.48" width="9.26" height="7.94" fill="#8A93B7"/>
<rect x="993.27" y="345.26" width="9.26" height="27.4" fill="#A4D0C2"/>
<rect x="993.27" y="372.51" width="9.26" height="51.18" fill="#4071B3"/>
<rect x="993.27" y="423.54" width="9.26" height="3.61" fill="#4D8C4D"/>
<rect x="993.27" y="427" width="9.26" height="9.66" fill="#F6D98E"/>
<rect x="993.27" y="436.52" width="9.26" height="49.89" fill="#D04C96"/>
<rect x="993.27" y="486.26" width="9.26" height="13.99" fill="#434A91"/>
<rect x="993.27" y="500.1" width="9.26" height="15.72" fill="#5A1C78"/>
<rect x="993.27" y="515.67" width="9.26" height="13.99" fill="#46827D"/>
<rect x="993.27" y="529.51" width="9.26" height="4.04" fill="#A00028"/>
<rect x="1003.39" y="100.9" width="9.26" height="61.13" fill="#5AA189"/>
<rect x="1003.39" y="161.88" width="9.26" height="163.2" fill="#E19B80"/>
<rect x="1003.39" y="324.93" width="9.26" height="2.31" fill="#8A93B7"/>
<rect x="1003.39" y="327.1" width="9.26" height="16.58" fill="#A4D0C2"/>
<rect x="1003.39" y="343.53" width="9.26" height="14.42" fill="#C00000"/>
<rect x="1003.39" y="357.8" width="9.26" height="36.48" fill="#4071B3"/>
<rect x="1003.39" y="394.13" width="9.26" height="64.59" fill="#CE8A35"/>
<rect x="1003.39" y="458.58" width="9.26" height="27.4" fill="#7B99AE"/>
<rect x="1003.39" y="485.82" width="9.26" height="10.53" fill="#F6D98E"/>
<rect x="1003.39" y="496.2" width="9.26" height="27.83" fill="#4D8C4D"/>
<rect x="1003.39" y="523.88" width="9.26" height="6.21" fill="#46827D"/>
<rect x="1003.39" y="529.94" width="9.26" height="3.61" fill="#A00028"/>
<rect x="1013.51" y="100.9" width="9.26" height="25.24" fill="#48578B"/>
<rect x="1013.51" y="125.99" width="9.26" height="209.05" fill="#E19B80"/>
<rect x="1013.51" y="334.88" width="9.26" height="13.13" fill="#A4D0C2"/>
<rect x="1013.51" y="347.86" width="9.26" height="17.45" fill="#C00000"/>
<rect x="1013.51" y="365.16" width="9.26" height="53.78" fill="#4071B3"/>
<rect x="1013.51" y="418.79" width="9.26" height="9.67" fill="#A63B2F"/>
<rect x="1013.51" y="428.3" width="9.26" height="27.83" fill="#CE8A35"/>
<rect x="1013.51" y="455.98" width="9.26" height="37.34" fill="#7B77B3"/>
<rect x="1013.51" y="493.18" width="9.26" height="7.94" fill="#7B99AE"/>
<rect x="1013.51" y="500.96" width="9.26" height="3.61" fill="#F6D98E"/>
<rect x="1013.51" y="504.42" width="9.26" height="7.94" fill="#D04C96"/>
<rect x="1013.51" y="512.21" width="9.26" height="1.88" fill="#434A91"/>
<rect x="1013.51" y="513.94" width="9.26" height="4.04" fill="#CC0000"/>
<rect x="1013.51" y="517.83" width="9.26" height="3.61" fill="#4D8C4D"/>
<rect x="1013.51" y="521.29" width="9.26" height="12.26" fill="#5A1C78"/>
<rect x="1023.63" y="100.9" width="9.26" height="51.18" fill="#5AA189"/>
<rect x="1023.63" y="151.94" width="9.26" height="203.86" fill="#E19B80"/>
<rect x="1023.63" y="355.64" width="9.26" height="12.69" fill="#8A93B7"/>
<rect x="1023.63" y="368.18" width="9.26" height="7.07" fill="#A4D0C2"/>
<rect x="1023.63" y="375.11" width="9.26" height="45.99" fill="#C00000"/>
<rect x="1023.63" y="420.95" width="9.26" height="36.05" fill="#4071B3"/>
<rect x="1023.63" y="456.85" width="9.26" height="3.61" fill="#CE8A35"/>
<rect x="1023.63" y="460.31" width="9.26" height="10.53" fill="#4F8755"/>
<rect x="1023.63" y="470.69" width="9.26" height="9.66" fill="#7B99AE"/>
<rect x="1023.63" y="480.2" width="9.26" height="13.12" fill="#F6D98E"/>
<rect x="1023.63" y="493.18" width="9.26" height="2.75" fill="#D04C96"/>
<rect x="1023.63" y="495.77" width="9.26" height="9.23" fill="#434A91"/>
<rect x="1023.63" y="504.85" width="9.26" height="18.32" fill="#5A1C78"/>
<rect x="1023.63" y="523.02" width="9.26" height="3.18" fill="#46827D"/>
<rect x="1023.63" y="526.05" width="9.26" height="7.5" fill="#A00028"/>
<rect x="1033.75" y="100.9" width="9.26" height="1.02" fill="#5AA189"/>
<rect x="1033.75" y="101.76" width="9.26" height="8.37" fill="#48578B"/>
<rect x="1033.75" y="109.98" width="9.26" height="196.5" fill="#E19B80"/>
<rect x="1033.75" y="306.34" width="9.26" height="17.88" fill="#A4D0C2"/>
<rect x="1033.75" y="324.07" width="9.26" height="64.16" fill="#4071B3"/>
<rect x="1033.75" y="388.08" width="9.26" height="46" fill="#CE8A35"/>
<rect x="1033.75" y="433.92" width="9.26" height="6.21" fill="#F6D98E"/>
<rect x="1033.75" y="439.98" width="9.26" height="14.42" fill="#D04C96"/>
<rect x="1033.75" y="454.25" width="9.26" height="3.18" fill="#434A91"/>
<rect x="1033.75" y="457.28" width="9.26" height="3.18" fill="#CC0000"/>
<rect x="1033.75" y="460.31" width="9.26" height="40.37" fill="#5A1C78"/>
<rect x="1033.75" y="500.53" width="9.26" height="16.15" fill="#46827D"/>
<rect x="1033.75" y="516.53" width="9.26" height="17.02" fill="#A00028"/>
<rect x="1043.87" y="100.9" width="9.26" height="29.99" fill="#48578B"/>
<rect x="1043.87" y="130.74" width="9.26" height="188.72" fill="#E19B80"/>
<rect x="1043.87" y="319.31" width="9.26" height="29.99" fill="#A4D0C2"/>
<rect x="1043.87" y="349.15" width="9.26" height="72.81" fill="#4071B3"/>
<rect x="1043.87" y="421.81" width="9.26" height="49.46" fill="#CE8A35"/>
<rect x="1043.87" y="471.12" width="9.26" height="24.8" fill="#7B77B3"/>
<rect x="1043.87" y="495.77" width="9.26" height="17.88" fill="#7B99AE"/>
<rect x="1043.87" y="513.5" width="9.26" height="5.34" fill="#F6D98E"/>
<rect x="1043.87" y="518.69" width="9.26" height="14.86" fill="#5A1C78"/>
<rect x="1053.99" y="100.9" width="9.26" height="45.13" fill="#48578B"/>
<rect x="1053.99" y="145.88" width="9.26" height="198.24" fill="#E19B80"/>
<rect x="1053.99" y="343.96" width="9.26" height="13.99" fill="#A4D0C2"/>
<rect x="1053.99" y="357.8" width="9.26" height="23.94" fill="#AB9B86"/>
<rect x="1053.99" y="381.59" width="9.26" height="12.26" fill="#4071B3"/>
<rect x="1053.99" y="393.7" width="9.26" height="6.64" fill="#A63B2F"/>
<rect x="1053.99" y="400.19" width="9.26" height="23.5" fill="#CE8A35"/>
<rect x="1053.99" y="423.54" width="9.26" height="4.91" fill="#F6D98E"/>
<rect x="1053.99" y="428.3" width="9.26" height="44.27" fill="#D04C96"/>
<rect x="1053.99" y="472.42" width="9.26" height="10.96" fill="#434A91"/>
<rect x="1053.99" y="483.23" width="9.26" height="33.89" fill="#5A1C78"/>
<rect x="1053.99" y="516.97" width="9.26" height="16.58" fill="#46827D"/>
<rect x="1064.11" y="100.9" width="9.26" height="40.37" fill="#5AA189"/>
<rect x="1064.11" y="141.12" width="9.26" height="155.42" fill="#E19B80"/>
<rect x="1064.11" y="296.39" width="9.26" height="58.11" fill="#8A93B7"/>
<rect x="1064.11" y="354.35" width="9.26" height="43.4" fill="#C00000"/>
<rect x="1064.11" y="397.59" width="9.26" height="25.23" fill="#4071B3"/>
<rect x="1064.11" y="422.68" width="9.26" height="25.67" fill="#CE8A35"/>
<rect x="1064.11" y="448.2" width="9.26" height="13.12" fill="#7B77B3"/>
<rect x="1064.11" y="461.17" width="9.26" height="2.75" fill="#7B99AE"/>
<rect x="1064.11" y="463.77" width="9.26" height="10.96" fill="#F6D98E"/>
<rect x="1064.11" y="474.58" width="9.26" height="3.61" fill="#434A91"/>
<rect x="1064.11" y="478.04" width="9.26" height="4.48" fill="#CC0000"/>
<rect x="1064.11" y="482.37" width="9.26" height="35.18" fill="#5A1C78"/>
<rect x="1064.11" y="517.4" width="9.26" height="16.15" fill="#46827D"/>
<rect x="1074.23" y="100.9" width="9.26" height="25.24" fill="#48578B"/>
<rect x="1074.23" y="125.99" width="9.26" height="167.53" fill="#E19B80"/>
<rect x="1074.23" y="293.36" width="9.26" height="33.45" fill="#8A93B7"/>
<rect x="1074.23" y="326.66" width="9.26" height="10.96" fill="#A4D0C2"/>
<rect x="1074.23" y="337.48" width="9.26" height="71.51" fill="#4071B3"/>
<rect x="1074.23" y="408.84" width="9.26" height="47.29" fill="#CE8A35"/>
<rect x="1074.23" y="455.98" width="9.26" height="22.21" fill="#7B77B3"/>
<rect x="1074.23" y="478.04" width="9.26" height="15.72" fill="#7B99AE"/>
<rect x="1074.23" y="493.61" width="9.26" height="8.37" fill="#CC0000"/>
<rect x="1074.23" y="501.83" width="9.26" height="31.72" fill="#5A1C78"/>
<rect x="1084.35" y="100.9" width="9.26" height="18.75" fill="#5AA189"/>
<rect x="1084.35" y="119.5" width="9.26" height="1.02" fill="#48578B"/>
<rect x="1084.35" y="120.36" width="9.26" height="155.85" fill="#E19B80"/>
<rect x="1084.35" y="276.06" width="9.26" height="29.56" fill="#8A93B7"/>
<rect x="1084.35" y="305.47" width="9.26" height="17.45" fill="#C00000"/>
<rect x="1084.35" y="322.77" width="9.26" height="81.46" fill="#4071B3"/>
<rect x="1084.35" y="404.08" width="9.26" height="62.86" fill="#CE8A35"/>
<rect x="1084.35" y="466.79" width="9.26" height="1.45" fill="#7B99AE"/>
<rect x="1084.35" y="468.09" width="9.26" height="6.2" fill="#F6D98E"/>
<rect x="1084.35" y="474.15" width="9.26" height="52.05" fill="#5A1C78"/>
<rect x="1084.35" y="526.05" width="9.26" height="6.64" fill="#46827D"/>
<rect x="1084.35" y="532.53" width="9.26" height="1.01" fill="#A00028"/>
<rect x="1094.47" y="100.9" width="9.26" height="46.43" fill="#5AA189"/>
<rect x="1094.47" y="147.18" width="9.26" height="162.34" fill="#E19B80"/>
<rect x="1094.47" y="309.37" width="9.26" height="128.6" fill="#C00000"/>
<rect x="1094.47" y="437.82" width="9.26" height="5.34" fill="#AB9B86"/>
<rect x="1094.47" y="443.01" width="9.26" height="5.34" fill="#A63B2F"/>
<rect x="1094.47" y="448.2" width="9.26" height="1.45" fill="#CE8A35"/>
<rect x="1094.47" y="449.5" width="9.26" height="16.59" fill="#7B77B3"/>
<rect x="1094.47" y="465.93" width="9.26" height="5.34" fill="#7B99AE"/>
<rect x="1094.47" y="471.12" width="9.26" height="8.37" fill="#F6D98E"/>
<rect x="1094.47" y="479.34" width="9.26" height="9.67" fill="#CC0000"/>
<rect x="1094.47" y="488.85" width="9.26" height="44.7" fill="#5A1C78"/>
<rect x="1104.59" y="100.9" width="9.26" height="36.05" fill="#5AA189"/>
<rect x="1104.59" y="136.8" width="9.26" height="227.65" fill="#E19B80"/>
<rect x="1104.59" y="364.29" width="9.26" height="4.48" fill="#8A93B7"/>
<rect x="1104.59" y="368.62" width="9.26" height="1.88" fill="#A4D0C2"/>
<rect x="1104.59" y="370.35" width="9.26" height="15.29" fill="#C00000"/>
<rect x="1104.59" y="385.48" width="9.26" height="2.75" fill="#7A6248"/>
<rect x="1104.59" y="388.08" width="9.26" height="29.99" fill="#4071B3"/>
<rect x="1104.59" y="417.92" width="9.26" height="39.94" fill="#CE8A35"/>
<rect x="1104.59" y="457.71" width="9.26" height="8.37" fill="#7B99AE"/>
<rect x="1104.59" y="465.93" width="9.26" height="14.86" fill="#F6D98E"/>
<rect x="1104.59" y="480.63" width="9.26" height="9.66" fill="#D04C96"/>
<rect x="1104.59" y="490.15" width="9.26" height="15.72" fill="#434A91"/>
<rect x="1104.59" y="505.72" width="9.26" height="20.04" fill="#4D8C4D"/>
<rect x="1104.59" y="525.62" width="9.26" height="7.93" fill="#46827D"/>
<rect x="1114.71" y="100.9" width="9.26" height="34.75" fill="#48578B"/>
<rect x="1114.71" y="135.5" width="9.26" height="126.01" fill="#E19B80"/>
<rect x="1114.71" y="261.36" width="9.26" height="2.75" fill="#8A93B7"/>
<rect x="1114.71" y="263.95" width="9.26" height="24.37" fill="#A4D0C2"/>
<rect x="1114.71" y="288.17" width="9.26" height="54.64" fill="#C00000"/>
<rect x="1114.71" y="342.67" width="9.26" height="3.18" fill="#AB9B86"/>
<rect x="1114.71" y="345.69" width="9.26" height="39.51" fill="#4071B3"/>
<rect x="1114.71" y="385.05" width="9.26" height="69.35" fill="#CE8A35"/>
<rect x="1114.71" y="454.25" width="9.26" height="10.96" fill="#7B99AE"/>
<rect x="1114.71" y="465.06" width="9.26" height="10.96" fill="#F6D98E"/>
<rect x="1114.71" y="475.88" width="9.26" height="2.75" fill="#434A91"/>
<rect x="1114.71" y="478.47" width="9.26" height="42.1" fill="#5A1C78"/>
<rect x="1114.71" y="520.42" width="9.26" height="13.12" fill="#46827D"/>
<rect x="1124.83" y="100.9" width="9.26" height="18.32" fill="#48578B"/>
<rect x="1124.83" y="119.06" width="9.26" height="145.04" fill="#E19B80"/>
<rect x="1124.83" y="263.95" width="9.26" height="46.86" fill="#A4D0C2"/>
<rect x="1124.83" y="310.66" width="9.26" height="53.35" fill="#C00000"/>
<rect x="1124.83" y="363.86" width="9.26" height="3.61" fill="#7A6248"/>
<rect x="1124.83" y="367.32" width="9.26" height="17.45" fill="#4071B3"/>
<rect x="1124.83" y="384.62" width="9.26" height="8.37" fill="#A63B2F"/>
<rect x="1124.83" y="392.84" width="9.26" height="76.7" fill="#CE8A35"/>
<rect x="1124.83" y="469.39" width="9.26" height="12.69" fill="#7B77B3"/>
<rect x="1124.83" y="481.93" width="9.26" height="13.56" fill="#7B99AE"/>
<rect x="1124.83" y="495.34" width="9.26" height="4.47" fill="#F6D98E"/>
<rect x="1124.83" y="499.66" width="9.26" height="7.94" fill="#434A91"/>
<rect x="1124.83" y="507.45" width="9.26" height="4.91" fill="#CC0000"/>
<rect x="1124.83" y="512.21" width="9.26" height="16.15" fill="#5A1C78"/>
<rect x="1124.83" y="528.21" width="9.26" height="5.34" fill="#46827D"/>
<rect x="1134.95" y="100.9" width="9.26" height="43.83" fill="#5AA189"/>
<rect x="1134.95" y="144.58" width="9.26" height="2.75" fill="#48578B"/>
<rect x="1134.95" y="147.18" width="9.26" height="148.93" fill="#E19B80"/>
<rect x="1134.95" y="295.96" width="9.26" height="36.48" fill="#8A93B7"/>
<rect x="1134.95" y="332.29" width="9.26" height="20.91" fill="#A4D0C2"/>
<rect x="1134.95" y="353.05" width="9.26" height="56.38" fill="#4071B3"/>
<rect x="1134.95" y="409.27" width="9.26" height="68.05" fill="#CE8A35"/>
<rect x="1134.95" y="477.17" width="9.26" height="5.77" fill="#7B77B3"/>
<rect x="1134.95" y="482.8" width="9.26" height="4.48" fill="#7B99AE"/>
<rect x="1134.95" y="487.12" width="9.26" height="8.8" fill="#F6D98E"/>
<rect x="1134.95" y="495.77" width="9.26" height="19.18" fill="#D04C96"/>
<rect x="1134.95" y="514.8" width="9.26" height="1.88" fill="#434A91"/>
<rect x="1134.95" y="516.53" width="9.26" height="7.07" fill="#CC0000"/>
<rect x="1134.95" y="523.45" width="9.26" height="10.1" fill="#5A1C78"/>
<rect x="1145.07" y="100.9" width="9.26" height="17.02" fill="#5AA189"/>
<rect x="1145.07" y="117.77" width="9.26" height="187.85" fill="#E19B80"/>
<rect x="1145.07" y="305.47" width="9.26" height="14.86" fill="#A4D0C2"/>
<rect x="1145.07" y="320.18" width="9.26" height="22.64" fill="#C00000"/>
<rect x="1145.07" y="342.67" width="9.26" height="12.69" fill="#7A6248"/>
<rect x="1145.07" y="355.21" width="9.26" height="21.77" fill="#4071B3"/>
<rect x="1145.07" y="376.83" width="9.26" height="18.31" fill="#A63B2F"/>
<rect x="1145.07" y="395" width="9.26" height="24.37" fill="#CE8A35"/>
<rect x="1145.07" y="419.22" width="9.26" height="6.21" fill="#7B99AE"/>
<rect x="1145.07" y="425.27" width="9.26" height="12.69" fill="#F6D98E"/>
<rect x="1145.07" y="437.82" width="9.26" height="28.26" fill="#D04C96"/>
<rect x="1145.07" y="465.93" width="9.26" height="15.72" fill="#434A91"/>
<rect x="1145.07" y="481.5" width="9.26" height="29.56" fill="#4D8C4D"/>
<rect x="1145.07" y="510.91" width="9.26" height="22.64" fill="#46827D"/>
<rect x="1155.19" y="100.9" width="9.26" height="8.8" fill="#5AA189"/>
<rect x="1155.19" y="109.55" width="9.26" height="15.72" fill="#48578B"/>
<rect x="1155.19" y="125.12" width="9.26" height="171.85" fill="#E19B80"/>
<rect x="1155.19" y="296.82" width="9.26" height="25.67" fill="#8A93B7"/>
<rect x="1155.19" y="322.34" width="9.26" height="51.62" fill="#C00000"/>
<rect x="1155.19" y="373.81" width="9.26" height="39.51" fill="#4071B3"/>
<rect x="1155.19" y="413.16" width="9.26" height="66.32" fill="#CE8A35"/>
<rect x="1155.19" y="479.34" width="9.26" height="13.99" fill="#7B77B3"/>
<rect x="1155.19" y="493.18" width="9.26" height="16.58" fill="#7B99AE"/>
<rect x="1155.19" y="509.61" width="9.26" height="11.83" fill="#F6D98E"/>
<rect x="1155.19" y="521.29" width="9.26" height="7.94" fill="#4D8C4D"/>
<rect x="1155.19" y="529.07" width="9.26" height="4.48" fill="#5A1C78"/>
<rect x="1165.31" y="100.9" width="9.26" height="64.16" fill="#5AA189"/>
<rect x="1165.31" y="164.91" width="9.26" height="212.07" fill="#E19B80"/>
<rect x="1165.31" y="376.83" width="9.26" height="18.31" fill="#A4D0C2"/>
<rect x="1165.31" y="395" width="9.26" height="36.91" fill="#C00000"/>
<rect x="1165.31" y="431.76" width="9.26" height="26.1" fill="#4071B3"/>
<rect x="1165.31" y="457.71" width="9.26" height="16.58" fill="#CE8A35"/>
<rect x="1165.31" y="474.15" width="9.26" height="4.91" fill="#7B77B3"/>
<rect x="1165.31" y="478.9" width="9.26" height="12.69" fill="#7B99AE"/>
<rect x="1165.31" y="491.45" width="9.26" height="4.48" fill="#F6D98E"/>
<rect x="1165.31" y="495.77" width="9.26" height="5.34" fill="#D04C96"/>
<rect x="1165.31" y="500.96" width="9.26" height="10.96" fill="#434A91"/>
<rect x="1165.31" y="511.77" width="9.26" height="5.34" fill="#CC0000"/>
<rect x="1165.31" y="516.97" width="9.26" height="16.58" fill="#5A1C78"/>
<rect x="1175.43" y="100.9" width="9.26" height="6.64" fill="#5AA189"/>
<rect x="1175.43" y="107.39" width="9.26" height="12.69" fill="#48578B"/>
<rect x="1175.43" y="119.93" width="9.26" height="226.35" fill="#E19B80"/>
<rect x="1175.43" y="346.13" width="9.26" height="51.62" fill="#A4D0C2"/>
<rect x="1175.43" y="397.59" width="9.26" height="4.91" fill="#7A6248"/>
<rect x="1175.43" y="402.35" width="9.26" height="28.7" fill="#4071B3"/>
<rect x="1175.43" y="430.9" width="9.26" height="33.88" fill="#CE8A35"/>
<rect x="1175.43" y="464.63" width="9.26" height="2.75" fill="#7B99AE"/>
<rect x="1175.43" y="467.23" width="9.26" height="9.66" fill="#F6D98E"/>
<rect x="1175.43" y="476.74" width="9.26" height="10.1" fill="#D04C96"/>
<rect x="1175.43" y="486.69" width="9.26" height="19.61" fill="#434A91"/>
<rect x="1175.43" y="506.15" width="9.26" height="24.37" fill="#5A1C78"/>
<rect x="1175.43" y="530.37" width="9.26" height="3.18" fill="#46827D"/>
<rect x="1185.55" y="100.9" width="9.26" height="19.18" fill="#5AA189"/>
<rect x="1185.55" y="119.93" width="9.26" height="169.26" fill="#E19B80"/>
<rect x="1185.55" y="289.04" width="9.26" height="32.59" fill="#8A93B7"/>
<rect x="1185.55" y="321.48" width="9.26" height="4.48" fill="#A4D0C2"/>
<rect x="1185.55" y="325.8" width="9.26" height="4.48" fill="#C00000"/>
<rect x="1185.55" y="330.12" width="9.26" height="4.91" fill="#7A6248"/>
<rect x="1185.55" y="334.88" width="9.26" height="56.81" fill="#4071B3"/>
<rect x="1185.55" y="391.54" width="9.26" height="41.67" fill="#CE8A35"/>
<rect x="1185.55" y="433.06" width="9.26" height="23.07" fill="#7B77B3"/>
<rect x="1185.55" y="455.98" width="9.26" height="7.93" fill="#F6D98E"/>
<rect x="1185.55" y="463.77" width="9.26" height="5.34" fill="#D04C96"/>
<rect x="1185.55" y="468.96" width="9.26" height="15.29" fill="#434A91"/>
<rect x="1185.55" y="484.09" width="9.26" height="45.13" fill="#5A1C78"/>
<rect x="1185.55" y="529.07" width="9.26" height="4.48" fill="#A00028"/>
<rect x="1195.67" y="100.9" width="9.26" height="19.18" fill="#5AA189"/>
<rect x="1195.67" y="119.93" width="9.26" height="163.2" fill="#E19B80"/>
<rect x="1195.67" y="282.98" width="9.26" height="90.97" fill="#C00000"/>
<rect x="1195.67" y="373.81" width="9.26" height="17.02" fill="#4071B3"/>
<rect x="1195.67" y="390.67" width="9.26" height="56.81" fill="#CE8A35"/>
<rect x="1195.67" y="447.33" width="9.26" height="22.64" fill="#7B77B3"/>
<rect x="1195.67" y="469.82" width="9.26" height="12.26" fill="#7B99AE"/>
<rect x="1195.67" y="481.93" width="9.26" height="4.47" fill="#F6D98E"/>
<rect x="1195.67" y="486.26" width="9.26" height="10.1" fill="#D04C96"/>
<rect x="1195.67" y="496.2" width="9.26" height="14.85" fill="#434A91"/>
<rect x="1195.67" y="510.91" width="9.26" height="11.83" fill="#4D8C4D"/>
<rect x="1195.67" y="522.59" width="9.26" height="9.23" fill="#5A1C78"/>
<rect x="1195.67" y="531.67" width="9.26" height="1.88" fill="#46827D"/>
<rect x="1205.79" y="100.9" width="9.26" height="36.05" fill="#5AA189"/>
<rect x="1205.79" y="136.8" width="9.26" height="161.91" fill="#E19B80"/>
<rect x="1205.79" y="298.55" width="9.26" height="52.92" fill="#C00000"/>
<rect x="1205.79" y="351.32" width="9.26" height="36.91" fill="#4071B3"/>
<rect x="1205.79" y="388.08" width="9.26" height="60.27" fill="#CE8A35"/>
<rect x="1205.79" y="448.2" width="9.26" height="4.04" fill="#7B99AE"/>
<rect x="1205.79" y="452.09" width="9.26" height="8.8" fill="#F6D98E"/>
<rect x="1205.79" y="460.74" width="9.26" height="27.4" fill="#D04C96"/>
<rect x="1205.79" y="487.99" width="9.26" height="17.88" fill="#4D8C4D"/>
<rect x="1205.79" y="505.72" width="9.26" height="20.04" fill="#5A1C78"/>
<rect x="1205.79" y="525.62" width="9.26" height="7.93" fill="#A00028"/>
<rect x="1215.91" y="100.9" width="9.26" height="38.21" fill="#5AA189"/>
<rect x="1215.91" y="138.96" width="9.26" height="138.12" fill="#E19B80"/>
<rect x="1215.91" y="276.93" width="9.26" height="27.83" fill="#8A93B7"/>
<rect x="1215.91" y="304.61" width="9.26" height="31.29" fill="#C00000"/>
<rect x="1215.91" y="335.75" width="9.26" height="20.91" fill="#AB9B86"/>
<rect x="1215.91" y="356.51" width="9.26" height="34.32" fill="#4071B3"/>
<rect x="1215.91" y="390.67" width="9.26" height="12.26" fill="#CE8A35"/>
<rect x="1215.91" y="402.78" width="9.26" height="17.88" fill="#4F8755"/>
<rect x="1215.91" y="420.52" width="9.26" height="2.31" fill="#7B99AE"/>
<rect x="1215.91" y="422.68" width="9.26" height="4.04" fill="#F6D98E"/>
<rect x="1215.91" y="426.57" width="9.26" height="48.16" fill="#D04C96"/>
<rect x="1215.91" y="474.58" width="9.26" height="13.13" fill="#CC0000"/>
<rect x="1215.91" y="487.55" width="9.26" height="20.04" fill="#4D8C4D"/>
<rect x="1215.91" y="507.45" width="9.26" height="1.88" fill="#5A1C78"/>
<rect x="1215.91" y="509.18" width="9.26" height="24.37" fill="#46827D"/>
<rect x="1226.03" y="100.9" width="9.26" height="4.48" fill="#5AA189"/>
<rect x="1226.03" y="105.22" width="9.26" height="28.26" fill="#48578B"/>
<rect x="1226.03" y="133.34" width="9.26" height="170.12" fill="#E19B80"/>
<rect x="1226.03" y="303.31" width="9.26" height="95.73" fill="#C00000"/>
<rect x="1226.03" y="398.89" width="9.26" height="3.18" fill="#7A6248"/>
<rect x="1226.03" y="401.92" width="9.26" height="60.27" fill="#CE8A35"/>
<rect x="1226.03" y="462.04" width="9.26" height="14.42" fill="#7B99AE"/>
<rect x="1226.03" y="476.31" width="9.26" height="8.37" fill="#F6D98E"/>
<rect x="1226.03" y="484.53" width="9.26" height="20.04" fill="#D04C96"/>
<rect x="1226.03" y="504.42" width="9.26" height="3.18" fill="#4D8C4D"/>
<rect x="1226.03" y="507.45" width="9.26" height="21.77" fill="#46827D"/>
<rect x="1226.03" y="529.07" width="9.26" height="4.48" fill="#A00028"/>
<rect x="1236.15" y="100.9" width="9.26" height="21.34" fill="#5AA189"/>
<rect x="1236.15" y="122.09" width="9.26" height="160.61" fill="#E19B80"/>
<rect x="1236.15" y="282.55" width="9.26" height="22.21" fill="#8A93B7"/>
<rect x="1236.15" y="304.61" width="9.26" height="20.48" fill="#A4D0C2"/>
<rect x="1236.15" y="324.93" width="9.26" height="46.86" fill="#C00000"/>
<rect x="1236.15" y="371.64" width="9.26" height="21.77" fill="#4071B3"/>
<rect x="1236.15" y="393.27" width="9.26" height="48.59" fill="#CE8A35"/>
<rect x="1236.15" y="441.71" width="9.26" height="6.2" fill="#7B77B3"/>
<rect x="1236.15" y="447.76" width="9.26" height="2.31" fill="#7B99AE"/>
<rect x="1236.15" y="449.93" width="9.26" height="9.66" fill="#F6D98E"/>
<rect x="1236.15" y="459.44" width="9.26" height="1.45" fill="#D04C96"/>
<rect x="1236.15" y="460.74" width="9.26" height="16.59" fill="#434A91"/>
<rect x="1236.15" y="477.17" width="9.26" height="46" fill="#5A1C78"/>
<rect x="1236.15" y="523.02" width="9.26" height="10.53" fill="#46827D"/>
<rect x="1246.27" y="100.9" width="9.26" height="28.69" fill="#5AA189"/>
<rect x="1246.27" y="129.44" width="9.26" height="198.67" fill="#E19B80"/>
<rect x="1246.27" y="327.96" width="9.26" height="32.59" fill="#8A93B7"/>
<rect x="1246.27" y="360.4" width="9.26" height="1.88" fill="#A4D0C2"/>
<rect x="1246.27" y="362.13" width="9.26" height="47.73" fill="#4071B3"/>
<rect x="1246.27" y="409.7" width="9.26" height="23.07" fill="#CE8A35"/>
<rect x="1246.27" y="432.63" width="9.26" height="5.77" fill="#7B77B3"/>
<rect x="1246.27" y="438.25" width="9.26" height="9.23" fill="#F6D98E"/>
<rect x="1246.27" y="447.33" width="9.26" height="42.1" fill="#434A91"/>
<rect x="1246.27" y="489.28" width="9.26" height="44.26" fill="#5A1C78"/>
<rect x="1256.39" y="100.9" width="9.26" height="28.26" fill="#5AA189"/>
<rect x="1256.39" y="129.01" width="9.26" height="174.02" fill="#E19B80"/>
<rect x="1256.39" y="302.88" width="9.26" height="33.89" fill="#A4D0C2"/>
<rect x="1256.39" y="336.61" width="9.26" height="26.1" fill="#7A6248"/>
<rect x="1256.39" y="362.56" width="9.26" height="23.5" fill="#4071B3"/>
<rect x="1256.39" y="385.92" width="9.26" height="67.62" fill="#CE8A35"/>
<rect x="1256.39" y="453.39" width="9.26" height="36.05" fill="#7B77B3"/>
<rect x="1256.39" y="489.28" width="9.26" height="20.04" fill="#7B99AE"/>
<rect x="1256.39" y="509.18" width="9.26" height="11.4" fill="#F6D98E"/>
<rect x="1256.39" y="520.42" width="9.26" height="13.12" fill="#4D8C4D"/>
<rect x="1266.51" y="100.9" width="9.26" height="37.34" fill="#5AA189"/>
<rect x="1266.51" y="138.09" width="9.26" height="137.69" fill="#E19B80"/>
<rect x="1266.51" y="275.63" width="9.26" height="47.29" fill="#C00000"/>
<rect x="1266.51" y="322.77" width="9.26" height="3.61" fill="#7A6248"/>
<rect x="1266.51" y="326.23" width="9.26" height="30.86" fill="#4071B3"/>
<rect x="1266.51" y="356.94" width="9.26" height="57.24" fill="#CE8A35"/>
<rect x="1266.51" y="414.03" width="9.26" height="26.97" fill="#7B77B3"/>
<rect x="1266.51" y="440.84" width="9.26" height="14.42" fill="#F6D98E"/>
<rect x="1266.51" y="455.12" width="9.26" height="3.18" fill="#D04C96"/>
<rect x="1266.51" y="458.14" width="9.26" height="31.29" fill="#434A91"/>
<rect x="1266.51" y="489.28" width="9.26" height="44.26" fill="#5A1C78"/>
<rect x="1276.63" y="100.9" width="9.26" height="33.45" fill="#5AA189"/>
<rect x="1276.63" y="134.2" width="9.26" height="167.53" fill="#E19B80"/>
<rect x="1276.63" y="301.58" width="9.26" height="17.88" fill="#8A93B7"/>
<rect x="1276.63" y="319.31" width="9.26" height="105.68" fill="#C00000"/>
<rect x="1276.63" y="424.84" width="9.26" height="7.5" fill="#4071B3"/>
<rect x="1276.63" y="432.19" width="9.26" height="23.51" fill="#CE8A35"/>
<rect x="1276.63" y="455.55" width="9.26" height="5.34" fill="#4F8755"/>
<rect x="1276.63" y="460.74" width="9.26" height="7.07" fill="#7B99AE"/>
<rect x="1276.63" y="467.66" width="9.26" height="2.75" fill="#F6D98E"/>
<rect x="1276.63" y="470.25" width="9.26" height="12.26" fill="#D04C96"/>
<rect x="1276.63" y="482.37" width="9.26" height="18.75" fill="#CC0000"/>
<rect x="1276.63" y="500.96" width="9.26" height="27.4" fill="#4D8C4D"/>
<rect x="1276.63" y="528.21" width="9.26" height="5.34" fill="#46827D"/>
<rect x="1286.75" y="100.9" width="9.26" height="10.1" fill="#5AA189"/>
<rect x="1286.75" y="110.85" width="9.26" height="164.07" fill="#E19B80"/>
<rect x="1286.75" y="274.76" width="9.26" height="71.51" fill="#C00000"/>
<rect x="1286.75" y="346.13" width="9.26" height="56.38" fill="#4071B3"/>
<rect x="1286.75" y="402.35" width="9.26" height="58.54" fill="#CE8A35"/>
<rect x="1286.75" y="460.74" width="9.26" height="4.48" fill="#7B77B3"/>
<rect x="1286.75" y="465.06" width="9.26" height="11.39" fill="#7B99AE"/>
<rect x="1286.75" y="476.31" width="9.26" height="5.77" fill="#F6D98E"/>
<rect x="1286.75" y="481.93" width="9.26" height="8.8" fill="#434A91"/>
<rect x="1286.75" y="490.58" width="9.26" height="25.23" fill="#5A1C78"/>
<rect x="1286.75" y="515.67" width="9.26" height="17.88" fill="#46827D"/>
<rect x="1296.87" y="100.9" width="9.26" height="41.24" fill="#48578B"/>
<rect x="1296.87" y="141.99" width="9.26" height="180.94" fill="#E19B80"/>
<rect x="1296.87" y="322.77" width="9.26" height="15.72" fill="#A4D0C2"/>
<rect x="1296.87" y="338.34" width="9.26" height="58.97" fill="#C00000"/>
<rect x="1296.87" y="397.16" width="9.26" height="6.64" fill="#7A6248"/>
<rect x="1296.87" y="403.65" width="9.26" height="11.39" fill="#4071B3"/>
<rect x="1296.87" y="414.89" width="9.26" height="20.48" fill="#A63B2F"/>
<rect x="1296.87" y="435.22" width="9.26" height="37.35" fill="#CE8A35"/>
<rect x="1296.87" y="472.42" width="9.26" height="8.37" fill="#7B99AE"/>
<rect x="1296.87" y="480.63" width="9.26" height="10.1" fill="#F6D98E"/>
<rect x="1296.87" y="490.58" width="9.26" height="21.34" fill="#D04C96"/>
<rect x="1296.87" y="511.77" width="9.26" height="5.34" fill="#CC0000"/>
<rect x="1296.87" y="516.97" width="9.26" height="14.86" fill="#4D8C4D"/>
<rect x="1296.87" y="531.67" width="9.26" height="1.88" fill="#5A1C78"/>
<rect x="1306.99" y="100.9" width="9.26" height="5.34" fill="#5AA189"/>
<rect x="1306.99" y="106.09" width="9.26" height="11.83" fill="#48578B"/>
<rect x="1306.99" y="117.77" width="9.26" height="126.87" fill="#E19B80"/>
<rect x="1306.99" y="244.49" width="9.26" height="42.1" fill="#8A93B7"/>
<rect x="1306.99" y="286.44" width="9.26" height="33.88" fill="#C00000"/>
<rect x="1306.99" y="320.18" width="9.26" height="4.48" fill="#7A6248"/>
<rect x="1306.99" y="324.5" width="9.26" height="42.97" fill="#4071B3"/>
<rect x="1306.99" y="367.32" width="9.26" height="51.18" fill="#CE8A35"/>
<rect x="1306.99" y="418.35" width="9.26" height="25.24" fill="#7B77B3"/>
<rect x="1306.99" y="443.44" width="9.26" height="14.42" fill="#F6D98E"/>
<rect x="1306.99" y="457.71" width="9.26" height="46.43" fill="#D04C96"/>
<rect x="1306.99" y="503.99" width="9.26" height="17.45" fill="#4D8C4D"/>
<rect x="1306.99" y="521.29" width="9.26" height="12.26" fill="#46827D"/>
<rect x="1317.11" y="100.9" width="9.26" height="43.83" fill="#5AA189"/>
<rect x="1317.11" y="144.58" width="9.26" height="169.26" fill="#E19B80"/>
<rect x="1317.11" y="313.69" width="9.26" height="29.13" fill="#8A93B7"/>
<rect x="1317.11" y="342.67" width="9.26" height="1.88" fill="#A4D0C2"/>
<rect x="1317.11" y="344.4" width="9.26" height="49.89" fill="#C00000"/>
<rect x="1317.11" y="394.13" width="9.26" height="17.45" fill="#7A6248"/>
<rect x="1317.11" y="411.44" width="9.26" height="17.45" fill="#4071B3"/>
<rect x="1317.11" y="428.74" width="9.26" height="42.97" fill="#CE8A35"/>
<rect x="1317.11" y="471.55" width="9.26" height="13.99" fill="#7B99AE"/>
<rect x="1317.11" y="485.39" width="9.26" height="11.39" fill="#F6D98E"/>
<rect x="1317.11" y="496.64" width="9.26" height="24.8" fill="#D04C96"/>
<rect x="1317.11" y="521.29" width="9.26" height="7.94" fill="#4D8C4D"/>
<rect x="1317.11" y="529.07" width="9.26" height="4.48" fill="#A00028"/>
<rect x="1327.23" y="100.9" width="9.26" height="29.56" fill="#5AA189"/>
<rect x="1327.23" y="130.31" width="9.26" height="196.07" fill="#E19B80"/>
<rect x="1327.23" y="326.23" width="9.26" height="36.91" fill="#8A93B7"/>
<rect x="1327.23" y="363" width="9.26" height="3.61" fill="#C00000"/>
<rect x="1327.23" y="366.45" width="9.26" height="49.89" fill="#4071B3"/>
<rect x="1327.23" y="416.19" width="9.26" height="74.97" fill="#CE8A35"/>
<rect x="1327.23" y="491.01" width="9.26" height="4.48" fill="#7B77B3"/>
<rect x="1327.23" y="495.34" width="9.26" height="2.74" fill="#7B99AE"/>
<rect x="1327.23" y="497.93" width="9.26" height="5.34" fill="#F6D98E"/>
<rect x="1327.23" y="503.12" width="9.26" height="4.91" fill="#D04C96"/>
<rect x="1327.23" y="507.88" width="9.26" height="22.64" fill="#5A1C78"/>
<rect x="1327.23" y="530.37" width="9.26" height="3.18" fill="#46827D"/>
<rect x="1337.35" y="100.9" width="9.26" height="27.83" fill="#5AA189"/>
<rect x="1337.35" y="128.58" width="9.26" height="25.67" fill="#48578B"/>
<rect x="1337.35" y="154.1" width="9.26" height="137.25" fill="#E19B80"/>
<rect x="1337.35" y="291.2" width="9.26" height="35.62" fill="#A4D0C2"/>
<rect x="1337.35" y="326.66" width="9.26" height="13.12" fill="#7A6248"/>
<rect x="1337.35" y="339.64" width="9.26" height="67.19" fill="#4071B3"/>
<rect x="1337.35" y="406.68" width="9.26" height="60.7" fill="#CE8A35"/>
<rect x="1337.35" y="467.23" width="9.26" height="18.31" fill="#7B77B3"/>
<rect x="1337.35" y="485.39" width="9.26" height="10.53" fill="#7B99AE"/>
<rect x="1337.35" y="495.77" width="9.26" height="2.31" fill="#F6D98E"/>
<rect x="1337.35" y="497.93" width="9.26" height="32.16" fill="#4D8C4D"/>
<rect x="1337.35" y="529.94" width="9.26" height="3.61" fill="#A00028"/>
<rect x="1347.47" y="100.9" width="9.26" height="30.86" fill="#5AA189"/>
<rect x="1347.47" y="131.61" width="9.26" height="159.74" fill="#E19B80"/>
<rect x="1347.47" y="291.2" width="9.26" height="35.62" fill="#C00000"/>
<rect x="1347.47" y="326.66" width="9.26" height="4.91" fill="#7A6248"/>
<rect x="1347.47" y="331.42" width="9.26" height="22.21" fill="#4071B3"/>
<rect x="1347.47" y="353.48" width="9.26" height="59.4" fill="#CE8A35"/>
<rect x="1347.47" y="412.73" width="9.26" height="3.61" fill="#F6D98E"/>
<rect x="1347.47" y="416.19" width="9.26" height="42.97" fill="#D04C96"/>
<rect x="1347.47" y="459.01" width="9.26" height="11.83" fill="#434A91"/>
<rect x="1347.47" y="470.69" width="9.26" height="9.23" fill="#CC0000"/>
<rect x="1347.47" y="479.77" width="9.26" height="14.86" fill="#5A1C78"/>
<rect x="1347.47" y="494.47" width="9.26" height="39.07" fill="#46827D"/>
<rect x="1357.59" y="100.9" width="9.26" height="8.8" fill="#5AA189"/>
<rect x="1357.59" y="109.55" width="9.26" height="191.75" fill="#E19B80"/>
<rect x="1357.59" y="301.15" width="9.26" height="18.75" fill="#8A93B7"/>
<rect x="1357.59" y="319.75" width="9.26" height="35.62" fill="#C00000"/>
<rect x="1357.59" y="355.21" width="9.26" height="52.91" fill="#4071B3"/>
<rect x="1357.59" y="407.97" width="9.26" height="43.83" fill="#CE8A35"/>
<rect x="1357.59" y="451.66" width="9.26" height="4.48" fill="#7B77B3"/>
<rect x="1357.59" y="455.98" width="9.26" height="10.53" fill="#F6D98E"/>
<rect x="1357.59" y="466.36" width="9.26" height="14.42" fill="#D04C96"/>
<rect x="1357.59" y="480.63" width="9.26" height="21.77" fill="#5A1C78"/>
<rect x="1357.59" y="502.26" width="9.26" height="20.48" fill="#46827D"/>
<rect x="1357.59" y="522.59" width="9.26" height="10.96" fill="#A00028"/>
<rect x="1367.71" y="100.9" width="9.26" height="46.86" fill="#5AA189"/>
<rect x="1367.71" y="147.61" width="9.26" height="169.26" fill="#E19B80"/>
<rect x="1367.71" y="316.72" width="9.26" height="23.07" fill="#8A93B7"/>
<rect x="1367.71" y="339.64" width="9.26" height="1.88" fill="#A4D0C2"/>
<rect x="1367.71" y="341.37" width="9.26" height="36.48" fill="#4071B3"/>
<rect x="1367.71" y="377.7" width="9.26" height="33.89" fill="#CE8A35"/>
<rect x="1367.71" y="411.44" width="9.26" height="13.99" fill="#F6D98E"/>
<rect x="1367.71" y="425.27" width="9.26" height="40.37" fill="#D04C96"/>
<rect x="1367.71" y="465.5" width="9.26" height="4.04" fill="#434A91"/>
<rect x="1367.71" y="469.39" width="9.26" height="33.88" fill="#5A1C78"/>
<rect x="1367.71" y="503.12" width="9.26" height="30.43" fill="#46827D"/>
<rect x="1377.83" y="100.9" width="9.26" height="10.96" fill="#5AA189"/>
<rect x="1377.83" y="111.71" width="9.26" height="15.72" fill="#48578B"/>
<rect x="1377.83" y="127.28" width="9.26" height="188.72" fill="#E19B80"/>
<rect x="1377.83" y="315.85" width="9.26" height="17.88" fill="#8A93B7"/>
<rect x="1377.83" y="333.58" width="9.26" height="32.59" fill="#A4D0C2"/>
<rect x="1377.83" y="366.02" width="9.26" height="4.48" fill="#C00000"/>
<rect x="1377.83" y="370.35" width="9.26" height="45.99" fill="#4071B3"/>
<rect x="1377.83" y="416.19" width="9.26" height="32.16" fill="#CE8A35"/>
<rect x="1377.83" y="448.2" width="9.26" height="1.88" fill="#7B77B3"/>
<rect x="1377.83" y="449.93" width="9.26" height="6.64" fill="#F6D98E"/>
<rect x="1377.83" y="456.41" width="9.26" height="41.24" fill="#D04C96"/>
<rect x="1377.83" y="497.5" width="9.26" height="21.34" fill="#5A1C78"/>
<rect x="1377.83" y="518.69" width="9.26" height="14.86" fill="#46827D"/>
<rect x="1387.95" y="100.9" width="9.26" height="18.32" fill="#5AA189"/>
<rect x="1387.95" y="119.06" width="9.26" height="201.69" fill="#E19B80"/>
<rect x="1387.95" y="320.61" width="9.26" height="26.96" fill="#8A93B7"/>
<rect x="1387.95" y="347.42" width="9.26" height="3.18" fill="#A4D0C2"/>
<rect x="1387.95" y="350.45" width="9.26" height="22.64" fill="#C00000"/>
<rect x="1387.95" y="372.94" width="9.26" height="25.23" fill="#4071B3"/>
<rect x="1387.95" y="398.03" width="9.26" height="39.51" fill="#CE8A35"/>
<rect x="1387.95" y="437.38" width="9.26" height="6.64" fill="#F6D98E"/>
<rect x="1387.95" y="443.87" width="9.26" height="49.89" fill="#D04C96"/>
<rect x="1387.95" y="493.61" width="9.26" height="1.88" fill="#CC0000"/>
<rect x="1387.95" y="495.34" width="9.26" height="26.96" fill="#4D8C4D"/>
<rect x="1387.95" y="522.15" width="9.26" height="8.37" fill="#5A1C78"/>
<rect x="1387.95" y="530.37" width="9.26" height="3.18" fill="#46827D"/>
<rect x="1398.07" y="100.9" width="9.26" height="22.64" fill="#5AA189"/>
<rect x="1398.07" y="123.39" width="9.26" height="192.61" fill="#E19B80"/>
<rect x="1398.07" y="315.85" width="9.26" height="34.75" fill="#8A93B7"/>
<rect x="1398.07" y="350.45" width="9.26" height="14.85" fill="#A4D0C2"/>
<rect x="1398.07" y="365.16" width="9.26" height="4.48" fill="#7A6248"/>
<rect x="1398.07" y="369.48" width="9.26" height="62.86" fill="#4071B3"/>
<rect x="1398.07" y="432.19" width="9.26" height="45.56" fill="#CE8A35"/>
<rect x="1398.07" y="477.61" width="9.26" height="7.07" fill="#7B77B3"/>
<rect x="1398.07" y="484.53" width="9.26" height="12.69" fill="#7B99AE"/>
<rect x="1398.07" y="497.07" width="9.26" height="6.21" fill="#F6D98E"/>
<rect x="1398.07" y="503.12" width="9.26" height="14.42" fill="#D04C96"/>
<rect x="1398.07" y="517.4" width="9.26" height="5.34" fill="#434A91"/>
<rect x="1398.07" y="522.59" width="9.26" height="10.96" fill="#4D8C4D"/>
<rect x="1408.19" y="100.9" width="9.26" height="29.99" fill="#48578B"/>
<rect x="1408.19" y="130.74" width="9.26" height="150.23" fill="#E19B80"/>
<rect x="1408.19" y="280.82" width="9.26" height="21.34" fill="#8A93B7"/>
<rect x="1408.19" y="302.01" width="9.26" height="38.64" fill="#C00000"/>
<rect x="1408.19" y="340.5" width="9.26" height="52.05" fill="#4071B3"/>
<rect x="1408.19" y="392.4" width="9.26" height="74.97" fill="#CE8A35"/>
<rect x="1408.19" y="467.23" width="9.26" height="6.64" fill="#7B99AE"/>
<rect x="1408.19" y="473.71" width="9.26" height="4.48" fill="#F6D98E"/>
<rect x="1408.19" y="478.04" width="9.26" height="7.94" fill="#D04C96"/>
<rect x="1408.19" y="485.82" width="9.26" height="6.21" fill="#CC0000"/>
<rect x="1408.19" y="491.88" width="9.26" height="29.56" fill="#5A1C78"/>
<rect x="1408.19" y="521.29" width="9.26" height="12.26" fill="#46827D"/>
<rect x="1418.31" y="100.9" width="9.26" height="25.24" fill="#5AA189"/>
<rect x="1418.31" y="125.99" width="9.26" height="191.75" fill="#E19B80"/>
<rect x="1418.31" y="317.58" width="9.26" height="25.23" fill="#8A93B7"/>
<rect x="1418.31" y="342.67" width="9.26" height="36.05" fill="#7A6248"/>
<rect x="1418.31" y="378.56" width="9.26" height="39.94" fill="#4071B3"/>
<rect x="1418.31" y="418.35" width="9.26" height="43.4" fill="#CE8A35"/>
<rect x="1418.31" y="461.6" width="9.26" height="1.88" fill="#7B77B3"/>
<rect x="1418.31" y="463.33" width="9.26" height="6.21" fill="#7B99AE"/>
<rect x="1418.31" y="469.39" width="9.26" height="8.8" fill="#F6D98E"/>
<rect x="1418.31" y="478.04" width="9.26" height="16.59" fill="#D04C96"/>
<rect x="1418.31" y="494.47" width="9.26" height="8.8" fill="#434A91"/>
<rect x="1418.31" y="503.12" width="9.26" height="30.43" fill="#5A1C78"/>
</g>
<line x1="968.5" y1="533.4" x2="971.7" y2="533.4" stroke="#333" stroke-width="1.3"/>
<text x="965.3" y="537.4" font-size="10.5" fill="#4D4D4D" text-anchor="end">0.00</text>
<line x1="968.5" y1="425.27" x2="971.7" y2="425.27" stroke="#333" stroke-width="1.3"/>
<text x="965.3" y="429.27" font-size="10.5" fill="#4D4D4D" text-anchor="end">0.25</text>
<line x1="968.5" y1="317.15" x2="971.7" y2="317.15" stroke="#333" stroke-width="1.3"/>
<text x="965.3" y="321.15" font-size="10.5" fill="#4D4D4D" text-anchor="end">0.50</text>
<line x1="968.5" y1="209.02" x2="971.7" y2="209.02" stroke="#333" stroke-width="1.3"/>
<text x="965.3" y="213.02" font-size="10.5" fill="#4D4D4D" text-anchor="end">0.75</text>
<line x1="968.5" y1="100.9" x2="971.7" y2="100.9" stroke="#333" stroke-width="1.3"/>
<text x="965.3" y="104.9" font-size="10.5" fill="#4D4D4D" text-anchor="end">1.00</text>
<text x="928.5" y="317.15" font-size="13.1" fill="#000" text-anchor="middle" transform="rotate(-90 928.5 317.15)">Relative Percentage</text>
<rect x="972.6" y="565.5" width="212.52" height="12.2" fill="#78BAD5"/>
<rect x="1185.12" y="565.5" width="242.88" height="12.2" fill="#CB4E3B"/>
<text x="965.3" y="575.7" font-size="10.84" fill="#4D4D4D" text-anchor="end">Group</text>
<text x="1449" y="172" font-size="13.2" fill="#000" text-anchor="start">Immune Cell</text>
<rect x="1449.8" y="181.35" width="18.9" height="18.9" fill="#5AA189"/>
<text x="1476.7" y="194.8" font-size="10.85" fill="#000" text-anchor="start">B cells naive</text>
<rect x="1449.8" y="202.23" width="18.9" height="18.9" fill="#48578B"/>
<text x="1476.7" y="215.68" font-size="10.85" fill="#000" text-anchor="start">B cells memory</text>
<rect x="1449.8" y="223.11" width="18.9" height="18.9" fill="#E19B80"/>
<text x="1476.7" y="236.56" font-size="10.85" fill="#000" text-anchor="start">Plasma cells</text>
<rect x="1449.8" y="243.99" width="18.9" height="18.9" fill="#8A93B7"/>
<text x="1476.7" y="257.44" font-size="10.85" fill="#000" text-anchor="start">T cells CD8</text>
<rect x="1449.8" y="264.87" width="18.9" height="18.9" fill="#A4D0C2"/>
<text x="1476.7" y="278.32" font-size="10.85" fill="#000" text-anchor="start">T cells CD4 naive</text>
<rect x="1449.8" y="285.75" width="18.9" height="18.9" fill="#C00000"/>
<text x="1476.7" y="299.2" font-size="10.85" fill="#000" text-anchor="start">T cells CD4 memory resting</text>
<rect x="1449.8" y="306.63" width="18.9" height="18.9" fill="#7A6248"/>
<text x="1476.7" y="320.08" font-size="10.85" fill="#000" text-anchor="start">T cells CD4 memory activated</text>
<rect x="1449.8" y="327.51" width="18.9" height="18.9" fill="#AB9B86"/>
<text x="1476.7" y="340.96" font-size="10.85" fill="#000" text-anchor="start">T cells follicular helper</text>
<rect x="1449.8" y="348.39" width="18.9" height="18.9" fill="#4071B3"/>
<text x="1476.7" y="361.84" font-size="10.85" fill="#000" text-anchor="start">T cells regulatory (Tregs)</text>
<rect x="1449.8" y="369.27" width="18.9" height="18.9" fill="#A63B2F"/>
<text x="1476.7" y="382.72" font-size="10.85" fill="#000" text-anchor="start">T cells gamma delta</text>
<rect x="1449.8" y="390.15" width="18.9" height="18.9" fill="#CE8A35"/>
<text x="1476.7" y="403.6" font-size="10.85" fill="#000" text-anchor="start">NK cells resting</text>
<rect x="1629" y="181.35" width="18.9" height="18.9" fill="#4F8755"/>
<text x="1655.5" y="194.8" font-size="10.85" fill="#000" text-anchor="start">NK cells activated</text>
<rect x="1629" y="202.23" width="18.9" height="18.9" fill="#7B77B3"/>
<text x="1655.5" y="215.68" font-size="10.85" fill="#000" text-anchor="start">Monocytes</text>
<rect x="1629" y="223.11" width="18.9" height="18.9" fill="#7B99AE"/>
<text x="1655.5" y="236.56" font-size="10.85" fill="#000" text-anchor="start">Macrophages M0</text>
<rect x="1629" y="243.99" width="18.9" height="18.9" fill="#F6D98E"/>
<text x="1655.5" y="257.44" font-size="10.85" fill="#000" text-anchor="start">Macrophages M1</text>
<rect x="1629" y="264.87" width="18.9" height="18.9" fill="#D04C96"/>
<text x="1655.5" y="278.32" font-size="10.85" fill="#000" text-anchor="start">Macrophages M2</text>
<rect x="1629" y="285.75" width="18.9" height="18.9" fill="#434A91"/>
<text x="1655.5" y="299.2" font-size="10.85" fill="#000" text-anchor="start">Dendritic cells resting</text>
<rect x="1629" y="306.63" width="18.9" height="18.9" fill="#CC0000"/>
<text x="1655.5" y="320.08" font-size="10.85" fill="#000" text-anchor="start">Dendritic cells activated</text>
<rect x="1629" y="327.51" width="18.9" height="18.9" fill="#4D8C4D"/>
<text x="1655.5" y="340.96" font-size="10.85" fill="#000" text-anchor="start">Mast cells resting</text>
<rect x="1629" y="348.39" width="18.9" height="18.9" fill="#5A1C78"/>
<text x="1655.5" y="361.84" font-size="10.85" fill="#000" text-anchor="start">Mast cells activated</text>
<rect x="1629" y="369.27" width="18.9" height="18.9" fill="#46827D"/>
<text x="1655.5" y="382.72" font-size="10.85" fill="#000" text-anchor="start">Eosinophils</text>
<rect x="1629" y="390.15" width="18.9" height="18.9" fill="#A00028"/>
<text x="1655.5" y="403.6" font-size="10.85" fill="#000" text-anchor="start">Neutrophils</text>
<text x="1449" y="447.5" font-size="13.2" fill="#000" text-anchor="start">Group</text>
<rect x="1449" y="456.2" width="21" height="20.3" fill="#78BAD5"/>
<rect x="1449" y="476.5" width="21" height="20.3" fill="#CB4E3B"/>
<text x="1476.7" y="470.35" font-size="10.85" fill="#000" text-anchor="start">Control</text>
<text x="1476.7" y="490.65" font-size="10.85" fill="#000" text-anchor="start">Sarcopenia</text>
<rect x="401" y="660.9" width="890.1" height="380.1" fill="#fff"/>
<line x1="401" y1="986.2" x2="1291.1" y2="986.2" stroke="#F4F4F4" stroke-width="0.6"/>
<line x1="401" y1="910.2" x2="1291.1" y2="910.2" stroke="#F4F4F4" stroke-width="0.6"/>
<line x1="401" y1="834.2" x2="1291.1" y2="834.2" stroke="#F4F4F4" stroke-width="0.6"/>
<line x1="401" y1="758.2" x2="1291.1" y2="758.2" stroke="#F4F4F4" stroke-width="0.6"/>
<line x1="401" y1="682.2" x2="1291.1" y2="682.2" stroke="#F4F4F4" stroke-width="0.6"/>
<line x1="401" y1="1024.2" x2="1291.1" y2="1024.2" stroke="#ECECEC" stroke-width="1.1"/>
<line x1="401" y1="948.2" x2="1291.1" y2="948.2" stroke="#ECECEC" stroke-width="1.1"/>
<line x1="401" y1="872.2" x2="1291.1" y2="872.2" stroke="#ECECEC" stroke-width="1.1"/>
<line x1="401" y1="796.2" x2="1291.1" y2="796.2" stroke="#ECECEC" stroke-width="1.1"/>
<line x1="401" y1="720.2" x2="1291.1" y2="720.2" stroke="#ECECEC" stroke-width="1.1"/>
<line x1="424.9" y1="660.9" x2="424.9" y2="1041" stroke="#ECECEC" stroke-width="1.1"/>
<line x1="464.98" y1="660.9" x2="464.98" y2="1041" stroke="#ECECEC" stroke-width="1.1"/>
<line x1="505.06" y1="660.9" x2="505.06" y2="1041" stroke="#ECECEC" stroke-width="1.1"/>
<line x1="545.14" y1="660.9" x2="545.14" y2="1041" stroke="#ECECEC" stroke-width="1.1"/>
<line x1="585.22" y1="660.9" x2="585.22" y2="1041" stroke="#ECECEC" stroke-width="1.1"/>
<line x1="625.3" y1="660.9" x2="625.3" y2="1041" stroke="#ECECEC" stroke-width="1.1"/>
<line x1="665.38" y1="660.9" x2="665.38" y2="1041" stroke="#ECECEC" stroke-width="1.1"/>
<line x1="705.46" y1="660.9" x2="705.46" y2="1041" stroke="#ECECEC" stroke-width="1.1"/>
<line x1="745.54" y1="660.9" x2="745.54" y2="1041" stroke="#ECECEC" stroke-width="1.1"/>
<line x1="785.62" y1="660.9" x2="785.62" y2="1041" stroke="#ECECEC" stroke-width="1.1"/>
<line x1="825.7" y1="660.9" x2="825.7" y2="1041" stroke="#ECECEC" stroke-width="1.1"/>
<line x1="865.78" y1="660.9" x2="865.78" y2="1041" stroke="#ECECEC" stroke-width="1.1"/>
<line x1="905.86" y1="660.9" x2="905.86" y2="1041" stroke="#ECECEC" stroke-width="1.1"/>
<line x1="945.94" y1="660.9" x2="945.94" y2="1041" stroke="#ECECEC" stroke-width="1.1"/>
<line x1="986.02" y1="660.9" x2="986.02" y2="1041" stroke="#ECECEC" stroke-width="1.1"/>
<line x1="1026.1" y1="660.9" x2="1026.1" y2="1041" stroke="#ECECEC" stroke-width="1.1"/>
<line x1="1066.18" y1="660.9" x2="1066.18" y2="1041" stroke="#ECECEC" stroke-width="1.1"/>
<line x1="1106.26" y1="660.9" x2="1106.26" y2="1041" stroke="#ECECEC" stroke-width="1.1"/>
<line x1="1146.34" y1="660.9" x2="1146.34" y2="1041" stroke="#ECECEC" stroke-width="1.1"/>
<line x1="1186.42" y1="660.9" x2="1186.42" y2="1041" stroke="#ECECEC" stroke-width="1.1"/>
<line x1="1226.5" y1="660.9" x2="1226.5" y2="1041" stroke="#ECECEC" stroke-width="1.1"/>
<line x1="1266.58" y1="660.9" x2="1266.58" y2="1041" stroke="#ECECEC" stroke-width="1.1"/>
<g fill-opacity="0.47">
<circle cx="430" cy="1024.2" r="3.3" fill="#CD4B4B"/>
<circle cx="417.86" cy="1024.2" r="3.3" fill="#CD4B4B"/>
<circle cx="420.1" cy="1024.2" r="3.3" fill="#CD4B4B"/>
<circle cx="422.83" cy="1024.2" r="3.3" fill="#CD4B4B"/>
<circle cx="431.96" cy="1024.2" r="3.3" fill="#CD4B4B"/>
<circle cx="416.93" cy="1024.2" r="3.3" fill="#CD4B4B"/>
<circle cx="423.93" cy="1024.2" r="3.3" fill="#CD4B4B"/>
<circle cx="425.84" cy="1024.2" r="3.3" fill="#CD4B4B"/>
<circle cx="432.18" cy="1024.2" r="3.3" fill="#CD4B4B"/>
<circle cx="430.97" cy="1023.1" r="3.3" fill="#CD4B4B"/>
<circle cx="431.82" cy="1022.44" r="3.3" fill="#CD4B4B"/>
<circle cx="420.69" cy="1021.51" r="3.3" fill="#CD4B4B"/>
<circle cx="423.29" cy="1020.34" r="3.3" fill="#CD4B4B"/>
<circle cx="422.22" cy="1019.12" r="3.3" fill="#CD4B4B"/>
<circle cx="432.2" cy="1018.72" r="3.3" fill="#CD4B4B"/>
<circle cx="433.6" cy="1017.73" r="3.3" fill="#CD4B4B"/>
<circle cx="418.27" cy="1016.49" r="3.3" fill="#CD4B4B"/>
<circle cx="418.75" cy="1015.16" r="3.3" fill="#CD4B4B"/>
<circle cx="419.81" cy="1014.42" r="3.3" fill="#CD4B4B"/>
<circle cx="419.83" cy="1013.51" r="3.3" fill="#CD4B4B"/>
<circle cx="424.61" cy="1011.96" r="3.3" fill="#CD4B4B"/>
<circle cx="426.59" cy="1011.69" r="3.3" fill="#CD4B4B"/>
<circle cx="420.39" cy="1009.94" r="3.3" fill="#CD4B4B"/>
<circle cx="415.48" cy="1009.36" r="3.3" fill="#CD4B4B"/>
<circle cx="423.36" cy="1008.43" r="3.3" fill="#CD4B4B"/>
<circle cx="422.42" cy="1007.79" r="3.3" fill="#CD4B4B"/>
<circle cx="426.16" cy="1007.21" r="3.3" fill="#CD4B4B"/>
<circle cx="433.51" cy="1005.83" r="3.3" fill="#CD4B4B"/>
<circle cx="428.52" cy="1005.19" r="3.3" fill="#CD4B4B"/>
<circle cx="425.19" cy="1003.1" r="3.3" fill="#CD4B4B"/>
<circle cx="427.13" cy="1001.08" r="3.3" fill="#CD4B4B"/>
<circle cx="428.25" cy="999.36" r="3.3" fill="#CD4B4B"/>
<circle cx="416.43" cy="996.56" r="3.3" fill="#CD4B4B"/>
<circle cx="432.49" cy="916.28" r="3.3" fill="#CD4B4B"/>
<circle cx="430.22" cy="953.52" r="3.3" fill="#CD4B4B"/>
<circle cx="432.02" cy="1024.2" r="3.3" fill="#2DB5BD"/>
<circle cx="430.56" cy="1024.2" r="3.3" fill="#2DB5BD"/>
<circle cx="422.86" cy="1024.2" r="3.3" fill="#2DB5BD"/>
<circle cx="422.98" cy="1024.2" r="3.3" fill="#2DB5BD"/>
<circle cx="417.37" cy="1024.2" r="3.3" fill="#2DB5BD"/>
<circle cx="427.45" cy="1024.2" r="3.3" fill="#2DB5BD"/>
<circle cx="416.58" cy="1024.2" r="3.3" fill="#2DB5BD"/>
<circle cx="416.68" cy="1024.2" r="3.3" fill="#2DB5BD"/>
<circle cx="419.37" cy="1024.2" r="3.3" fill="#2DB5BD"/>
<circle cx="418.48" cy="1024.2" r="3.3" fill="#2DB5BD"/>
<circle cx="421.86" cy="1024.2" r="3.3" fill="#2DB5BD"/>
<circle cx="416.4" cy="1024.2" r="3.3" fill="#2DB5BD"/>
<circle cx="415.4" cy="1024.15" r="3.3" fill="#2DB5BD"/>
<circle cx="418.27" cy="1023.39" r="3.3" fill="#2DB5BD"/>
<circle cx="417.33" cy="1022.38" r="3.3" fill="#2DB5BD"/>
<circle cx="422.31" cy="1021.68" r="3.3" fill="#2DB5BD"/>
<circle cx="415.88" cy="1021.17" r="3.3" fill="#2DB5BD"/>
<circle cx="432.01" cy="1019.94" r="3.3" fill="#2DB5BD"/>
<circle cx="427.07" cy="1019.7" r="3.3" fill="#2DB5BD"/>
<circle cx="418.22" cy="1018.72" r="3.3" fill="#2DB5BD"/>
<circle cx="420.19" cy="1017.71" r="3.3" fill="#2DB5BD"/>
<circle cx="422" cy="1017.31" r="3.3" fill="#2DB5BD"/>
<circle cx="422.32" cy="1016.3" r="3.3" fill="#2DB5BD"/>
<circle cx="417.73" cy="1015.8" r="3.3" fill="#2DB5BD"/>
<circle cx="431.53" cy="1014.61" r="3.3" fill="#2DB5BD"/>
<circle cx="434.27" cy="1013.41" r="3.3" fill="#2DB5BD"/>
<circle cx="424.25" cy="1012.33" r="3.3" fill="#2DB5BD"/>
<circle cx="424.59" cy="1010.74" r="3.3" fill="#2DB5BD"/>
<circle cx="417.03" cy="1010.04" r="3.3" fill="#2DB5BD"/>
<circle cx="417.34" cy="1008.37" r="3.3" fill="#2DB5BD"/>
<circle cx="421.91" cy="1007.2" r="3.3" fill="#2DB5BD"/>
<circle cx="420.43" cy="1005.94" r="3.3" fill="#2DB5BD"/>
<circle cx="431.15" cy="1004.79" r="3.3" fill="#2DB5BD"/>
<circle cx="418.47" cy="1003.12" r="3.3" fill="#2DB5BD"/>
<circle cx="415.84" cy="1001.74" r="3.3" fill="#2DB5BD"/>
<circle cx="433.47" cy="1000.94" r="3.3" fill="#2DB5BD"/>
<circle cx="425.44" cy="999.47" r="3.3" fill="#2DB5BD"/>
<circle cx="418.19" cy="998.81" r="3.3" fill="#2DB5BD"/>
<circle cx="425.72" cy="997.91" r="3.3" fill="#2DB5BD"/>
<circle cx="415.91" cy="997.04" r="3.3" fill="#2DB5BD"/>
<circle cx="425.43" cy="995.27" r="3.3" fill="#2DB5BD"/>
<circle cx="433.99" cy="993.71" r="3.3" fill="#2DB5BD"/>
<circle cx="431.8" cy="992.53" r="3.3" fill="#2DB5BD"/>
<circle cx="428.63" cy="989.98" r="3.3" fill="#2DB5BD"/>
<circle cx="420.36" cy="986.59" r="3.3" fill="#2DB5BD"/>
<circle cx="422.37" cy="985.11" r="3.3" fill="#2DB5BD"/>
<circle cx="418.57" cy="980.59" r="3.3" fill="#2DB5BD"/>
<circle cx="430.07" cy="977.77" r="3.3" fill="#2DB5BD"/>
<circle cx="425.52" cy="973.97" r="3.3" fill="#2DB5BD"/>
<circle cx="430.2" cy="969.92" r="3.3" fill="#2DB5BD"/>
<circle cx="421.66" cy="901.84" r="3.3" fill="#2DB5BD"/>
<circle cx="419.64" cy="920.08" r="3.3" fill="#2DB5BD"/>
<circle cx="455.84" cy="1024.2" r="3.3" fill="#CD4B4B"/>
<circle cx="463.84" cy="1024.2" r="3.3" fill="#CD4B4B"/>
<circle cx="458.96" cy="1024.2" r="3.3" fill="#CD4B4B"/>
<circle cx="455.55" cy="1024.2" r="3.3" fill="#CD4B4B"/>
<circle cx="470.66" cy="1024.2" r="3.3" fill="#CD4B4B"/>
<circle cx="458.75" cy="1024.2" r="3.3" fill="#CD4B4B"/>
<circle cx="464.48" cy="1024.2" r="3.3" fill="#CD4B4B"/>
<circle cx="469.26" cy="1024.2" r="3.3" fill="#CD4B4B"/>
<circle cx="466.05" cy="1024.2" r="3.3" fill="#CD4B4B"/>
<circle cx="461.67" cy="1024.2" r="3.3" fill="#CD4B4B"/>
<circle cx="465.33" cy="1024.2" r="3.3" fill="#CD4B4B"/>
<circle cx="466.03" cy="1024.2" r="3.3" fill="#CD4B4B"/>
<circle cx="470.38" cy="1024.2" r="3.3" fill="#CD4B4B"/>
<circle cx="457.5" cy="1024.2" r="3.3" fill="#CD4B4B"/>
<circle cx="466.13" cy="1024.2" r="3.3" fill="#CD4B4B"/>
<circle cx="460.2" cy="1024.2" r="3.3" fill="#CD4B4B"/>
<circle cx="460.74" cy="1024.18" r="3.3" fill="#CD4B4B"/>
<circle cx="470.15" cy="1024.14" r="3.3" fill="#CD4B4B"/>
<circle cx="465.13" cy="1024.09" r="3.3" fill="#CD4B4B"/>
<circle cx="466.15" cy="1024.07" r="3.3" fill="#CD4B4B"/>
<circle cx="469.92" cy="1024.03" r="3.3" fill="#CD4B4B"/>
<circle cx="472.82" cy="1023.98" r="3.3" fill="#CD4B4B"/>
<circle cx="463.9" cy="1023.93" r="3.3" fill="#CD4B4B"/>
<circle cx="467.12" cy="1023.89" r="3.3" fill="#CD4B4B"/>
<circle cx="465.09" cy="1023.83" r="3.3" fill="#CD4B4B"/>
<circle cx="465.21" cy="1023.81" r="3.3" fill="#CD4B4B"/>
<circle cx="468.64" cy="1023.79" r="3.3" fill="#CD4B4B"/>
<circle cx="464.07" cy="1023.77" r="3.3" fill="#CD4B4B"/>
<circle cx="465.61" cy="1023.72" r="3.3" fill="#CD4B4B"/>
<circle cx="464.56" cy="1023.67" r="3.3" fill="#CD4B4B"/>
<circle cx="473.37" cy="1023.64" r="3.3" fill="#CD4B4B"/>
<circle cx="468.77" cy="1023.55" r="3.3" fill="#CD4B4B"/>
<circle cx="472.13" cy="1023.45" r="3.3" fill="#CD4B4B"/>
<circle cx="473.38" cy="993.8" r="3.3" fill="#CD4B4B"/>
<circle cx="460.41" cy="1002.92" r="3.3" fill="#CD4B4B"/>
<circle cx="466.11" cy="1012.8" r="3.3" fill="#CD4B4B"/>
<circle cx="473.4" cy="1024.2" r="3.3" fill="#2DB5BD"/>
<circle cx="471.44" cy="1024.2" r="3.3" fill="#2DB5BD"/>
<circle cx="458.09" cy="1024.2" r="3.3" fill="#2DB5BD"/>
<circle cx="457.79" cy="1024.2" r="3.3" fill="#2DB5BD"/>
<circle cx="463.88" cy="1024.2" r="3.3" fill="#2DB5BD"/>
<circle cx="456.86" cy="1024.2" r="3.3" fill="#2DB5BD"/>
<circle cx="460.05" cy="1024.2" r="3.3" fill="#2DB5BD"/>
<circle cx="456.87" cy="1024.2" r="3.3" fill="#2DB5BD"/>
<circle cx="468.2" cy="1024.2" r="3.3" fill="#2DB5BD"/>
<circle cx="470.37" cy="1024.2" r="3.3" fill="#2DB5BD"/>
<circle cx="472.52" cy="1024.2" r="3.3" fill="#2DB5BD"/>
<circle cx="458.41" cy="1024.2" r="3.3" fill="#2DB5BD"/>
<circle cx="469.09" cy="1024.2" r="3.3" fill="#2DB5BD"/>
<circle cx="468.02" cy="1024.2" r="3.3" fill="#2DB5BD"/>
<circle cx="458.2" cy="1024.2" r="3.3" fill="#2DB5BD"/>
<circle cx="472.25" cy="1024.2" r="3.3" fill="#2DB5BD"/>
<circle cx="473.86" cy="1024.2" r="3.3" fill="#2DB5BD"/>
<circle cx="459.65" cy="1024.2" r="3.3" fill="#2DB5BD"/>
<circle cx="473.58" cy="1024.2" r="3.3" fill="#2DB5BD"/>
<circle cx="463.05" cy="1024.2" r="3.3" fill="#2DB5BD"/>
<circle cx="464.74" cy="1024.2" r="3.3" fill="#2DB5BD"/>
<circle cx="474.29" cy="1024.2" r="3.3" fill="#2DB5BD"/>
<circle cx="471.3" cy="1024.2" r="3.3" fill="#2DB5BD"/>
<circle cx="458.55" cy="1024.2" r="3.3" fill="#2DB5BD"/>
<circle cx="463.68" cy="1024.2" r="3.3" fill="#2DB5BD"/>
<circle cx="465.28" cy="1024.17" r="3.3" fill="#2DB5BD"/>
<circle cx="461.92" cy="1024.15" r="3.3" fill="#2DB5BD"/>
<circle cx="459.2" cy="1024.12" r="3.3" fill="#2DB5BD"/>
<circle cx="461.53" cy="1024.08" r="3.3" fill="#2DB5BD"/>
<circle cx="469.2" cy="1024.06" r="3.3" fill="#2DB5BD"/>
<circle cx="455.85" cy="1024.02" r="3.3" fill="#2DB5BD"/>
<circle cx="466.01" cy="1023.99" r="3.3" fill="#2DB5BD"/>
<circle cx="463.85" cy="1023.98" r="3.3" fill="#2DB5BD"/>
<circle cx="455.82" cy="1023.95" r="3.3" fill="#2DB5BD"/>
<circle cx="461.78" cy="1023.92" r="3.3" fill="#2DB5BD"/>
<circle cx="467.33" cy="1023.89" r="3.3" fill="#2DB5BD"/>
<circle cx="465.21" cy="1023.85" r="3.3" fill="#2DB5BD"/>
<circle cx="456.7" cy="1023.83" r="3.3" fill="#2DB5BD"/>
<circle cx="474.2" cy="1023.82" r="3.3" fill="#2DB5BD"/>
<circle cx="470.46" cy="1023.81" r="3.3" fill="#2DB5BD"/>
<circle cx="473.94" cy="1023.78" r="3.3" fill="#2DB5BD"/>
<circle cx="457.47" cy="1023.77" r="3.3" fill="#2DB5BD"/>
<circle cx="460.53" cy="1023.75" r="3.3" fill="#2DB5BD"/>
<circle cx="456.23" cy="1023.72" r="3.3" fill="#2DB5BD"/>
<circle cx="470.28" cy="1023.67" r="3.3" fill="#2DB5BD"/>
<circle cx="460.62" cy="1023.65" r="3.3" fill="#2DB5BD"/>
<circle cx="457.94" cy="1023.6" r="3.3" fill="#2DB5BD"/>
<circle cx="463.5" cy="1023.57" r="3.3" fill="#2DB5BD"/>
<circle cx="472.8" cy="1023.52" r="3.3" fill="#2DB5BD"/>
<circle cx="471.04" cy="1023.47" r="3.3" fill="#2DB5BD"/>
<circle cx="460.39" cy="928.44" r="3.3" fill="#2DB5BD"/>
<circle cx="458.32" cy="946.68" r="3.3" fill="#2DB5BD"/>
<circle cx="472.94" cy="971" r="3.3" fill="#2DB5BD"/>
<circle cx="466.32" cy="983.92" r="3.3" fill="#2DB5BD"/>
<circle cx="468.79" cy="1001.4" r="3.3" fill="#2DB5BD"/>
<circle cx="457.18" cy="997.6" r="3.3" fill="#2DB5BD"/>
<circle cx="456.57" cy="1005.2" r="3.3" fill="#2DB5BD"/>
<circle cx="468.56" cy="1007.48" r="3.3" fill="#2DB5BD"/>
<circle cx="463.56" cy="1018.12" r="3.3" fill="#2DB5BD"/>
<circle cx="456.86" cy="1015.08" r="3.3" fill="#2DB5BD"/>
<circle cx="496.35" cy="1022.98" r="3.3" fill="#CD4B4B"/>
<circle cx="495.99" cy="1021.99" r="3.3" fill="#CD4B4B"/>
<circle cx="501.34" cy="1020.67" r="3.3" fill="#CD4B4B"/>
<circle cx="499.98" cy="1020.22" r="3.3" fill="#CD4B4B"/>
<circle cx="506.69" cy="1018.8" r="3.3" fill="#CD4B4B"/>
<circle cx="505.61" cy="1018.53" r="3.3" fill="#CD4B4B"/>
<circle cx="509.82" cy="1017.66" r="3.3" fill="#CD4B4B"/>
<circle cx="508.05" cy="1017.46" r="3.3" fill="#CD4B4B"/>
<circle cx="509.16" cy="1017.2" r="3.3" fill="#CD4B4B"/>
<circle cx="512.26" cy="1015.69" r="3.3" fill="#CD4B4B"/>
<circle cx="502.96" cy="1014.02" r="3.3" fill="#CD4B4B"/>
<circle cx="501.76" cy="1013.41" r="3.3" fill="#CD4B4B"/>
<circle cx="514.27" cy="1012.26" r="3.3" fill="#CD4B4B"/>
<circle cx="498.4" cy="1010.56" r="3.3" fill="#CD4B4B"/>
<circle cx="509.32" cy="1009.57" r="3.3" fill="#CD4B4B"/>
<circle cx="507.78" cy="1008.41" r="3.3" fill="#CD4B4B"/>
<circle cx="496.39" cy="1007.07" r="3.3" fill="#CD4B4B"/>
<circle cx="511.43" cy="1006.07" r="3.3" fill="#CD4B4B"/>
<circle cx="512.51" cy="1004.94" r="3.3" fill="#CD4B4B"/>
<circle cx="507.48" cy="1003.83" r="3.3" fill="#CD4B4B"/>
<circle cx="509.5" cy="1002.82" r="3.3" fill="#CD4B4B"/>
<circle cx="510.99" cy="1001.44" r="3.3" fill="#CD4B4B"/>
<circle cx="498.21" cy="1000.81" r="3.3" fill="#CD4B4B"/>
<circle cx="505.51" cy="999.63" r="3.3" fill="#CD4B4B"/>
<circle cx="505.14" cy="998.87" r="3.3" fill="#CD4B4B"/>
<circle cx="511.42" cy="998.12" r="3.3" fill="#CD4B4B"/>
<circle cx="510.85" cy="997.38" r="3.3" fill="#CD4B4B"/>
<circle cx="511.26" cy="995.33" r="3.3" fill="#CD4B4B"/>
<circle cx="506.66" cy="993.38" r="3.3" fill="#CD4B4B"/>
<circle cx="512.52" cy="988.41" r="3.3" fill="#CD4B4B"/>
<circle cx="508.54" cy="985.1" r="3.3" fill="#CD4B4B"/>
<circle cx="508.73" cy="982.02" r="3.3" fill="#CD4B4B"/>
<circle cx="499.93" cy="976.05" r="3.3" fill="#CD4B4B"/>
<circle cx="496.15" cy="907.16" r="3.3" fill="#CD4B4B"/>
<circle cx="498.09" cy="932.24" r="3.3" fill="#CD4B4B"/>
<circle cx="502.41" cy="1023.07" r="3.3" fill="#2DB5BD"/>
<circle cx="497.55" cy="1022.64" r="3.3" fill="#2DB5BD"/>
<circle cx="511.44" cy="1020.77" r="3.3" fill="#2DB5BD"/>
<circle cx="506.17" cy="1020.02" r="3.3" fill="#2DB5BD"/>
<circle cx="507.49" cy="1018.96" r="3.3" fill="#2DB5BD"/>
<circle cx="507.46" cy="1017.82" r="3.3" fill="#2DB5BD"/>
<circle cx="508.49" cy="1017.3" r="3.3" fill="#2DB5BD"/>
<circle cx="504.86" cy="1016.52" r="3.3" fill="#2DB5BD"/>
<circle cx="495.62" cy="1015.84" r="3.3" fill="#2DB5BD"/>
<circle cx="510.72" cy="1015.27" r="3.3" fill="#2DB5BD"/>
<circle cx="509.78" cy="1015.09" r="3.3" fill="#2DB5BD"/>
<circle cx="505.12" cy="1014.76" r="3.3" fill="#2DB5BD"/>
<circle cx="505.73" cy="1014.53" r="3.3" fill="#2DB5BD"/>
<circle cx="508.09" cy="1013.59" r="3.3" fill="#2DB5BD"/>
<circle cx="496.81" cy="1012.77" r="3.3" fill="#2DB5BD"/>
<circle cx="509.56" cy="1011.81" r="3.3" fill="#2DB5BD"/>
<circle cx="500.35" cy="1011.04" r="3.3" fill="#2DB5BD"/>
<circle cx="496.97" cy="1009.98" r="3.3" fill="#2DB5BD"/>
<circle cx="500.61" cy="1009.03" r="3.3" fill="#2DB5BD"/>
<circle cx="509.42" cy="1007.48" r="3.3" fill="#2DB5BD"/>
<circle cx="499.46" cy="1006.87" r="3.3" fill="#2DB5BD"/>
<circle cx="509.62" cy="1005.94" r="3.3" fill="#2DB5BD"/>
<circle cx="514.1" cy="1005" r="3.3" fill="#2DB5BD"/>
<circle cx="504.95" cy="1003.39" r="3.3" fill="#2DB5BD"/>
<circle cx="502.83" cy="1002.36" r="3.3" fill="#2DB5BD"/>
<circle cx="504.66" cy="1001.35" r="3.3" fill="#2DB5BD"/>
<circle cx="508.55" cy="1000.47" r="3.3" fill="#2DB5BD"/>
<circle cx="510.13" cy="999.23" r="3.3" fill="#2DB5BD"/>
<circle cx="507.28" cy="997.9" r="3.3" fill="#2DB5BD"/>
<circle cx="507.77" cy="996.46" r="3.3" fill="#2DB5BD"/>
<circle cx="497.03" cy="995.49" r="3.3" fill="#2DB5BD"/>
<circle cx="498.36" cy="993.92" r="3.3" fill="#2DB5BD"/>
<circle cx="500.38" cy="992.83" r="3.3" fill="#2DB5BD"/>
<circle cx="509.68" cy="990.84" r="3.3" fill="#2DB5BD"/>
<circle cx="501.34" cy="989.55" r="3.3" fill="#2DB5BD"/>
<circle cx="506.35" cy="988.71" r="3.3" fill="#2DB5BD"/>
<circle cx="495.8" cy="987.74" r="3.3" fill="#2DB5BD"/>
<circle cx="496.71" cy="986.15" r="3.3" fill="#2DB5BD"/>
<circle cx="500.67" cy="986" r="3.3" fill="#2DB5BD"/>
<circle cx="508.33" cy="985.34" r="3.3" fill="#2DB5BD"/>
<circle cx="508.71" cy="984.67" r="3.3" fill="#2DB5BD"/>
<circle cx="508.4" cy="983.02" r="3.3" fill="#2DB5BD"/>
<circle cx="501.09" cy="981.27" r="3.3" fill="#2DB5BD"/>
<circle cx="505.37" cy="979.3" r="3.3" fill="#2DB5BD"/>
<circle cx="504.39" cy="977.65" r="3.3" fill="#2DB5BD"/>
<circle cx="504.42" cy="974.62" r="3.3" fill="#2DB5BD"/>
<circle cx="497.81" cy="973.01" r="3.3" fill="#2DB5BD"/>
<circle cx="512.54" cy="969.49" r="3.3" fill="#2DB5BD"/>
<circle cx="499.35" cy="966.76" r="3.3" fill="#2DB5BD"/>
<circle cx="514.14" cy="962.48" r="3.3" fill="#2DB5BD"/>
<circle cx="513.35" cy="939.84" r="3.3" fill="#2DB5BD"/>
<circle cx="538.71" cy="1019.97" r="3.3" fill="#CD4B4B"/>
<circle cx="539.59" cy="1015.21" r="3.3" fill="#CD4B4B"/>
<circle cx="552.85" cy="1011.33" r="3.3" fill="#CD4B4B"/>
<circle cx="545.08" cy="1008.5" r="3.3" fill="#CD4B4B"/>
<circle cx="539.82" cy="1007.23" r="3.3" fill="#CD4B4B"/>
<circle cx="552.86" cy="1005.64" r="3.3" fill="#CD4B4B"/>
<circle cx="554.57" cy="1004.26" r="3.3" fill="#CD4B4B"/>
<circle cx="544.19" cy="1002.99" r="3.3" fill="#CD4B4B"/>
<circle cx="538.29" cy="1002.89" r="3.3" fill="#CD4B4B"/>
<circle cx="539.3" cy="1000.62" r="3.3" fill="#CD4B4B"/>
<circle cx="537.36" cy="999.48" r="3.3" fill="#CD4B4B"/>
<circle cx="542.14" cy="997.2" r="3.3" fill="#CD4B4B"/>
<circle cx="537.37" cy="994.85" r="3.3" fill="#CD4B4B"/>
<circle cx="540.18" cy="994.25" r="3.3" fill="#CD4B4B"/>
<circle cx="540.55" cy="991.53" r="3.3" fill="#CD4B4B"/>
<circle cx="546.46" cy="990.22" r="3.3" fill="#CD4B4B"/>
<circle cx="552.5" cy="987.38" r="3.3" fill="#CD4B4B"/>
<circle cx="549.88" cy="984.35" r="3.3" fill="#CD4B4B"/>
<circle cx="543.48" cy="982.13" r="3.3" fill="#CD4B4B"/>
<circle cx="543.5" cy="976.68" r="3.3" fill="#CD4B4B"/>
<circle cx="545.6" cy="974.3" r="3.3" fill="#CD4B4B"/>
<circle cx="542.8" cy="972.05" r="3.3" fill="#CD4B4B"/>
<circle cx="542.07" cy="968.56" r="3.3" fill="#CD4B4B"/>
<circle cx="536.82" cy="963.61" r="3.3" fill="#CD4B4B"/>
<circle cx="540.91" cy="960.17" r="3.3" fill="#CD4B4B"/>
<circle cx="554.03" cy="958.63" r="3.3" fill="#CD4B4B"/>
<circle cx="538.03" cy="956.53" r="3.3" fill="#CD4B4B"/>
<circle cx="545.2" cy="951.66" r="3.3" fill="#CD4B4B"/>
<circle cx="547.6" cy="945.9" r="3.3" fill="#CD4B4B"/>
<circle cx="552.03" cy="935.07" r="3.3" fill="#CD4B4B"/>
<circle cx="539.74" cy="932.16" r="3.3" fill="#CD4B4B"/>
<circle cx="540.79" cy="915.93" r="3.3" fill="#CD4B4B"/>
<circle cx="540.36" cy="903.22" r="3.3" fill="#CD4B4B"/>
<circle cx="543.24" cy="829.64" r="3.3" fill="#CD4B4B"/>
<circle cx="544.11" cy="844.84" r="3.3" fill="#CD4B4B"/>
<circle cx="553.76" cy="849.4" r="3.3" fill="#CD4B4B"/>
<circle cx="551.76" cy="1023.37" r="3.3" fill="#2DB5BD"/>
<circle cx="552.22" cy="1016.81" r="3.3" fill="#2DB5BD"/>
<circle cx="536.05" cy="1013.79" r="3.3" fill="#2DB5BD"/>
<circle cx="536.25" cy="1009.93" r="3.3" fill="#2DB5BD"/>
<circle cx="549.12" cy="1008.34" r="3.3" fill="#2DB5BD"/>
<circle cx="552.66" cy="1005.27" r="3.3" fill="#2DB5BD"/>
<circle cx="544.63" cy="1002.67" r="3.3" fill="#2DB5BD"/>
<circle cx="546.8" cy="999.46" r="3.3" fill="#2DB5BD"/>
<circle cx="535.64" cy="998.25" r="3.3" fill="#2DB5BD"/>
<circle cx="543.08" cy="996.99" r="3.3" fill="#2DB5BD"/>
<circle cx="553.25" cy="995.71" r="3.3" fill="#2DB5BD"/>
<circle cx="551.33" cy="994.98" r="3.3" fill="#2DB5BD"/>
<circle cx="551.89" cy="994.61" r="3.3" fill="#2DB5BD"/>
<circle cx="554.11" cy="993.61" r="3.3" fill="#2DB5BD"/>
<circle cx="540.36" cy="991.39" r="3.3" fill="#2DB5BD"/>
<circle cx="537.71" cy="990.6" r="3.3" fill="#2DB5BD"/>
<circle cx="538.57" cy="988.48" r="3.3" fill="#2DB5BD"/>
<circle cx="545.56" cy="987.85" r="3.3" fill="#2DB5BD"/>
<circle cx="548.6" cy="986.43" r="3.3" fill="#2DB5BD"/>
<circle cx="553.53" cy="984.76" r="3.3" fill="#2DB5BD"/>
<circle cx="549.35" cy="983.72" r="3.3" fill="#2DB5BD"/>
<circle cx="547.94" cy="982.12" r="3.3" fill="#2DB5BD"/>
<circle cx="550.17" cy="980.07" r="3.3" fill="#2DB5BD"/>
<circle cx="544.33" cy="978.75" r="3.3" fill="#2DB5BD"/>
<circle cx="546.12" cy="977.43" r="3.3" fill="#2DB5BD"/>
<circle cx="536.39" cy="975.65" r="3.3" fill="#2DB5BD"/>
<circle cx="550.5" cy="972.74" r="3.3" fill="#2DB5BD"/>
<circle cx="540.06" cy="970.32" r="3.3" fill="#2DB5BD"/>
<circle cx="553.12" cy="968.69" r="3.3" fill="#2DB5BD"/>
<circle cx="547.9" cy="965.99" r="3.3" fill="#2DB5BD"/>
<circle cx="541.41" cy="964.89" r="3.3" fill="#2DB5BD"/>
<circle cx="538.07" cy="961.23" r="3.3" fill="#2DB5BD"/>
<circle cx="540.42" cy="959.39" r="3.3" fill="#2DB5BD"/>
<circle cx="547.73" cy="956.45" r="3.3" fill="#2DB5BD"/>
<circle cx="548.91" cy="954.28" r="3.3" fill="#2DB5BD"/>
<circle cx="537.77" cy="952.59" r="3.3" fill="#2DB5BD"/>
<circle cx="536.98" cy="950.67" r="3.3" fill="#2DB5BD"/>
<circle cx="545.6" cy="947.34" r="3.3" fill="#2DB5BD"/>
<circle cx="546.71" cy="947.06" r="3.3" fill="#2DB5BD"/>
<circle cx="543.01" cy="945.02" r="3.3" fill="#2DB5BD"/>
<circle cx="539.89" cy="942.69" r="3.3" fill="#2DB5BD"/>
<circle cx="547.06" cy="939.45" r="3.3" fill="#2DB5BD"/>
<circle cx="535.84" cy="933.69" r="3.3" fill="#2DB5BD"/>
<circle cx="541.37" cy="927.5" r="3.3" fill="#2DB5BD"/>
<circle cx="544.39" cy="925.04" r="3.3" fill="#2DB5BD"/>
<circle cx="553.86" cy="916.64" r="3.3" fill="#2DB5BD"/>
<circle cx="547.89" cy="911.59" r="3.3" fill="#2DB5BD"/>
<circle cx="552.43" cy="902.31" r="3.3" fill="#2DB5BD"/>
<circle cx="544.67" cy="895.04" r="3.3" fill="#2DB5BD"/>
<circle cx="540.1" cy="887.76" r="3.3" fill="#2DB5BD"/>
<circle cx="540.33" cy="840.28" r="3.3" fill="#2DB5BD"/>
<circle cx="553.89" cy="856.24" r="3.3" fill="#2DB5BD"/>
<circle cx="549.03" cy="863.08" r="3.3" fill="#2DB5BD"/>
<circle cx="541.48" cy="872.2" r="3.3" fill="#2DB5BD"/>
<circle cx="582.16" cy="1024.2" r="3.3" fill="#CD4B4B"/>
<circle cx="580.89" cy="1024.2" r="3.3" fill="#CD4B4B"/>
<circle cx="593.92" cy="1024.2" r="3.3" fill="#CD4B4B"/>
<circle cx="587.44" cy="1024.2" r="3.3" fill="#CD4B4B"/>
<circle cx="580.7" cy="1024.2" r="3.3" fill="#CD4B4B"/>
<circle cx="589.34" cy="1024.2" r="3.3" fill="#CD4B4B"/>
<circle cx="581.73" cy="1024.2" r="3.3" fill="#CD4B4B"/>
<circle cx="580.96" cy="1024.2" r="3.3" fill="#CD4B4B"/>
<circle cx="575.79" cy="1024.2" r="3.3" fill="#CD4B4B"/>
<circle cx="590.08" cy="1024.2" r="3.3" fill="#CD4B4B"/>
<circle cx="593.13" cy="1024.2" r="3.3" fill="#CD4B4B"/>
<circle cx="587.77" cy="1024.2" r="3.3" fill="#CD4B4B"/>
<circle cx="593.64" cy="1024.2" r="3.3" fill="#CD4B4B"/>
<circle cx="576.18" cy="1024.2" r="3.3" fill="#CD4B4B"/>
<circle cx="580.16" cy="1024.2" r="3.3" fill="#CD4B4B"/>
<circle cx="584.75" cy="1024.2" r="3.3" fill="#CD4B4B"/>
<circle cx="593.9" cy="1024.2" r="3.3" fill="#CD4B4B"/>
<circle cx="593.84" cy="1024.2" r="3.3" fill="#CD4B4B"/>
<circle cx="583.06" cy="1024.2" r="3.3" fill="#CD4B4B"/>
<circle cx="580.49" cy="1024.2" r="3.3" fill="#CD4B4B"/>
<circle cx="583.89" cy="1024.2" r="3.3" fill="#CD4B4B"/>
<circle cx="585.1" cy="1024.2" r="3.3" fill="#CD4B4B"/>
<circle cx="593.35" cy="1024.2" r="3.3" fill="#CD4B4B"/>
<circle cx="579.2" cy="1024.2" r="3.3" fill="#CD4B4B"/>
<circle cx="590.97" cy="1024.2" r="3.3" fill="#CD4B4B"/>
<circle cx="589.75" cy="1024.2" r="3.3" fill="#CD4B4B"/>
<circle cx="591.35" cy="1024.2" r="3.3" fill="#CD4B4B"/>
<circle cx="590.4" cy="1024.2" r="3.3" fill="#CD4B4B"/>
<circle cx="587.26" cy="1024.2" r="3.3" fill="#CD4B4B"/>
<circle cx="581.95" cy="1024.2" r="3.3" fill="#CD4B4B"/>
<circle cx="581.79" cy="1024.2" r="3.3" fill="#CD4B4B"/>
<circle cx="582.6" cy="1024.2" r="3.3" fill="#CD4B4B"/>
<circle cx="590.58" cy="1024.2" r="3.3" fill="#CD4B4B"/>
<circle cx="577.22" cy="1024.2" r="3.3" fill="#2DB5BD"/>
<circle cx="579.47" cy="1024.2" r="3.3" fill="#2DB5BD"/>
<circle cx="590.02" cy="1024.2" r="3.3" fill="#2DB5BD"/>
<circle cx="580.42" cy="1024.2" r="3.3" fill="#2DB5BD"/>
<circle cx="576.95" cy="1024.2" r="3.3" fill="#2DB5BD"/>
<circle cx="576.36" cy="1024.2" r="3.3" fill="#2DB5BD"/>
<circle cx="586.22" cy="1024.2" r="3.3" fill="#2DB5BD"/>
<circle cx="581.91" cy="1024.2" r="3.3" fill="#2DB5BD"/>
<circle cx="594.34" cy="1024.2" r="3.3" fill="#2DB5BD"/>
<circle cx="592.51" cy="1024.2" r="3.3" fill="#2DB5BD"/>
<circle cx="594.49" cy="1024.2" r="3.3" fill="#2DB5BD"/>
<circle cx="580.75" cy="1024.2" r="3.3" fill="#2DB5BD"/>
<circle cx="577.32" cy="1024.2" r="3.3" fill="#2DB5BD"/>
<circle cx="577.55" cy="1024.2" r="3.3" fill="#2DB5BD"/>
<circle cx="585.19" cy="1024.2" r="3.3" fill="#2DB5BD"/>
<circle cx="589.21" cy="1024.2" r="3.3" fill="#2DB5BD"/>
<circle cx="584.21" cy="1024.2" r="3.3" fill="#2DB5BD"/>
<circle cx="580.17" cy="1024.2" r="3.3" fill="#2DB5BD"/>
<circle cx="583.64" cy="1024.2" r="3.3" fill="#2DB5BD"/>
<circle cx="587.51" cy="1024.2" r="3.3" fill="#2DB5BD"/>
<circle cx="588.53" cy="1024.2" r="3.3" fill="#2DB5BD"/>
<circle cx="589.93" cy="1024.2" r="3.3" fill="#2DB5BD"/>
<circle cx="591.81" cy="1024.2" r="3.3" fill="#2DB5BD"/>
<circle cx="588.34" cy="1024.2" r="3.3" fill="#2DB5BD"/>
<circle cx="578.02" cy="1024.2" r="3.3" fill="#2DB5BD"/>
<circle cx="591.7" cy="1024.2" r="3.3" fill="#2DB5BD"/>
<circle cx="581.3" cy="1024.2" r="3.3" fill="#2DB5BD"/>
<circle cx="586.49" cy="1024.2" r="3.3" fill="#2DB5BD"/>
<circle cx="582.81" cy="1024.2" r="3.3" fill="#2DB5BD"/>
<circle cx="589.74" cy="1024.2" r="3.3" fill="#2DB5BD"/>
<circle cx="579.5" cy="1024.2" r="3.3" fill="#2DB5BD"/>
<circle cx="580.42" cy="1024.2" r="3.3" fill="#2DB5BD"/>
<circle cx="580.38" cy="1024.2" r="3.3" fill="#2DB5BD"/>
<circle cx="578.63" cy="1024.2" r="3.3" fill="#2DB5BD"/>
<circle cx="592.52" cy="1024.2" r="3.3" fill="#2DB5BD"/>
<circle cx="586.71" cy="1024.2" r="3.3" fill="#2DB5BD"/>
<circle cx="581.92" cy="1024.2" r="3.3" fill="#2DB5BD"/>
<circle cx="583.25" cy="1024.2" r="3.3" fill="#2DB5BD"/>
<circle cx="594.58" cy="1024.2" r="3.3" fill="#2DB5BD"/>
<circle cx="585.36" cy="1024.2" r="3.3" fill="#2DB5BD"/>
<circle cx="580.12" cy="1024.2" r="3.3" fill="#2DB5BD"/>
<circle cx="591.08" cy="1024.2" r="3.3" fill="#2DB5BD"/>
<circle cx="588.13" cy="1024.2" r="3.3" fill="#2DB5BD"/>
<circle cx="594.55" cy="1024.2" r="3.3" fill="#2DB5BD"/>
<circle cx="577.66" cy="1024.2" r="3.3" fill="#2DB5BD"/>
<circle cx="584.74" cy="1024.2" r="3.3" fill="#2DB5BD"/>
<circle cx="591.28" cy="1024.2" r="3.3" fill="#2DB5BD"/>
<circle cx="591.69" cy="1024.2" r="3.3" fill="#2DB5BD"/>
<circle cx="593.09" cy="1024.2" r="3.3" fill="#2DB5BD"/>
<circle cx="576.49" cy="1024.2" r="3.3" fill="#2DB5BD"/>
<circle cx="581.3" cy="969.48" r="3.3" fill="#2DB5BD"/>
<circle cx="623.17" cy="927.84" r="3.3" fill="#CD4B4B"/>
<circle cx="632.98" cy="917.1" r="3.3" fill="#CD4B4B"/>
<circle cx="627.59" cy="902.97" r="3.3" fill="#CD4B4B"/>
<circle cx="631.47" cy="897.9" r="3.3" fill="#CD4B4B"/>
<circle cx="618.85" cy="890" r="3.3" fill="#CD4B4B"/>
<circle cx="630.73" cy="887.21" r="3.3" fill="#CD4B4B"/>
<circle cx="620.02" cy="882.01" r="3.3" fill="#CD4B4B"/>
<circle cx="623.49" cy="880.54" r="3.3" fill="#CD4B4B"/>
<circle cx="631.88" cy="879.4" r="3.3" fill="#CD4B4B"/>
<circle cx="631.55" cy="869.76" r="3.3" fill="#CD4B4B"/>
<circle cx="619.28" cy="862.03" r="3.3" fill="#CD4B4B"/>
<circle cx="619.94" cy="859.79" r="3.3" fill="#CD4B4B"/>
<circle cx="623.4" cy="850.3" r="3.3" fill="#CD4B4B"/>
<circle cx="625.64" cy="843.36" r="3.3" fill="#CD4B4B"/>
<circle cx="623.09" cy="838.73" r="3.3" fill="#CD4B4B"/>
<circle cx="618.14" cy="831.09" r="3.3" fill="#CD4B4B"/>
<circle cx="620.49" cy="825.52" r="3.3" fill="#CD4B4B"/>
<circle cx="629.57" cy="821.24" r="3.3" fill="#CD4B4B"/>
<circle cx="632.85" cy="818.08" r="3.3" fill="#CD4B4B"/>
<circle cx="616.58" cy="814.2" r="3.3" fill="#CD4B4B"/>
<circle cx="626.48" cy="811.03" r="3.3" fill="#CD4B4B"/>
<circle cx="630.19" cy="809.08" r="3.3" fill="#CD4B4B"/>
<circle cx="616.52" cy="806.51" r="3.3" fill="#CD4B4B"/>
<circle cx="631.73" cy="802.7" r="3.3" fill="#CD4B4B"/>
<circle cx="618.04" cy="798.81" r="3.3" fill="#CD4B4B"/>
<circle cx="627.19" cy="798.17" r="3.3" fill="#CD4B4B"/>
<circle cx="626.25" cy="795.98" r="3.3" fill="#CD4B4B"/>
<circle cx="627.71" cy="792.85" r="3.3" fill="#CD4B4B"/>
<circle cx="621.62" cy="785.55" r="3.3" fill="#CD4B4B"/>
<circle cx="623.78" cy="780.5" r="3.3" fill="#CD4B4B"/>
<circle cx="626.87" cy="776.15" r="3.3" fill="#CD4B4B"/>
<circle cx="623.89" cy="767.9" r="3.3" fill="#CD4B4B"/>
<circle cx="628.32" cy="756.52" r="3.3" fill="#CD4B4B"/>
<circle cx="624.29" cy="679.92" r="3.3" fill="#CD4B4B"/>
<circle cx="624.13" cy="1024.2" r="3.3" fill="#CD4B4B"/>
<circle cx="616.24" cy="1024.2" r="3.3" fill="#CD4B4B"/>
<circle cx="627.56" cy="933.43" r="3.3" fill="#2DB5BD"/>
<circle cx="625.1" cy="927.1" r="3.3" fill="#2DB5BD"/>
<circle cx="620.27" cy="923.98" r="3.3" fill="#2DB5BD"/>
<circle cx="630.31" cy="918.45" r="3.3" fill="#2DB5BD"/>
<circle cx="630.62" cy="911.77" r="3.3" fill="#2DB5BD"/>
<circle cx="624.51" cy="908.53" r="3.3" fill="#2DB5BD"/>
<circle cx="619.21" cy="905.1" r="3.3" fill="#2DB5BD"/>
<circle cx="624.79" cy="901.67" r="3.3" fill="#2DB5BD"/>
<circle cx="617.83" cy="897.5" r="3.3" fill="#2DB5BD"/>
<circle cx="618.24" cy="896.41" r="3.3" fill="#2DB5BD"/>
<circle cx="623.98" cy="894.27" r="3.3" fill="#2DB5BD"/>
<circle cx="617.54" cy="893.29" r="3.3" fill="#2DB5BD"/>
<circle cx="624.2" cy="892.72" r="3.3" fill="#2DB5BD"/>
<circle cx="625.49" cy="886.12" r="3.3" fill="#2DB5BD"/>
<circle cx="616.57" cy="880.48" r="3.3" fill="#2DB5BD"/>
<circle cx="627.89" cy="877.95" r="3.3" fill="#2DB5BD"/>
<circle cx="617.36" cy="873.53" r="3.3" fill="#2DB5BD"/>
<circle cx="629.74" cy="866.25" r="3.3" fill="#2DB5BD"/>
<circle cx="630.58" cy="863.29" r="3.3" fill="#2DB5BD"/>
<circle cx="625.52" cy="858.99" r="3.3" fill="#2DB5BD"/>
<circle cx="616.83" cy="850.22" r="3.3" fill="#2DB5BD"/>
<circle cx="625.37" cy="847.07" r="3.3" fill="#2DB5BD"/>
<circle cx="622.98" cy="840.34" r="3.3" fill="#2DB5BD"/>
<circle cx="633.87" cy="836.92" r="3.3" fill="#2DB5BD"/>
<circle cx="618.39" cy="829.87" r="3.3" fill="#2DB5BD"/>
<circle cx="632.08" cy="827.91" r="3.3" fill="#2DB5BD"/>
<circle cx="634.73" cy="826.34" r="3.3" fill="#2DB5BD"/>
<circle cx="629.71" cy="824.51" r="3.3" fill="#2DB5BD"/>
<circle cx="631.28" cy="821.56" r="3.3" fill="#2DB5BD"/>
<circle cx="619.48" cy="819.34" r="3.3" fill="#2DB5BD"/>
<circle cx="634.45" cy="816.83" r="3.3" fill="#2DB5BD"/>
<circle cx="625.15" cy="816.12" r="3.3" fill="#2DB5BD"/>
<circle cx="633.98" cy="813.17" r="3.3" fill="#2DB5BD"/>
<circle cx="633.2" cy="811.52" r="3.3" fill="#2DB5BD"/>
<circle cx="618.94" cy="809.23" r="3.3" fill="#2DB5BD"/>
<circle cx="630.78" cy="807.76" r="3.3" fill="#2DB5BD"/>
<circle cx="633.48" cy="805.47" r="3.3" fill="#2DB5BD"/>
<circle cx="617.04" cy="803.04" r="3.3" fill="#2DB5BD"/>
<circle cx="622.47" cy="801.82" r="3.3" fill="#2DB5BD"/>
<circle cx="630.17" cy="801.2" r="3.3" fill="#2DB5BD"/>
<circle cx="618.82" cy="797.88" r="3.3" fill="#2DB5BD"/>
<circle cx="632.83" cy="793.36" r="3.3" fill="#2DB5BD"/>
<circle cx="621.02" cy="788.24" r="3.3" fill="#2DB5BD"/>
<circle cx="631.3" cy="786.28" r="3.3" fill="#2DB5BD"/>
<circle cx="618.53" cy="781.02" r="3.3" fill="#2DB5BD"/>
<circle cx="625.34" cy="770.29" r="3.3" fill="#2DB5BD"/>
<circle cx="633.28" cy="762.7" r="3.3" fill="#2DB5BD"/>
<circle cx="619.76" cy="757.89" r="3.3" fill="#2DB5BD"/>
<circle cx="620.79" cy="752.4" r="3.3" fill="#2DB5BD"/>
<circle cx="625.41" cy="736.94" r="3.3" fill="#2DB5BD"/>
<circle cx="621.86" cy="1007.48" r="3.3" fill="#2DB5BD"/>
<circle cx="616.5" cy="979.36" r="3.3" fill="#2DB5BD"/>
<circle cx="656.11" cy="1024.2" r="3.3" fill="#CD4B4B"/>
<circle cx="666.35" cy="1024.2" r="3.3" fill="#CD4B4B"/>
<circle cx="673.76" cy="1024.2" r="3.3" fill="#CD4B4B"/>
<circle cx="658.58" cy="1024.2" r="3.3" fill="#CD4B4B"/>
<circle cx="659.67" cy="1024.2" r="3.3" fill="#CD4B4B"/>
<circle cx="667.43" cy="1024.2" r="3.3" fill="#CD4B4B"/>
<circle cx="665.51" cy="1024.2" r="3.3" fill="#CD4B4B"/>
<circle cx="668.07" cy="1024.2" r="3.3" fill="#CD4B4B"/>
<circle cx="671.33" cy="1024.2" r="3.3" fill="#CD4B4B"/>
<circle cx="659.2" cy="1024.2" r="3.3" fill="#CD4B4B"/>
<circle cx="661.76" cy="1024.2" r="3.3" fill="#CD4B4B"/>
<circle cx="661.59" cy="1024.2" r="3.3" fill="#CD4B4B"/>
<circle cx="656.8" cy="1024.2" r="3.3" fill="#CD4B4B"/>
<circle cx="672.78" cy="1024.2" r="3.3" fill="#CD4B4B"/>
<circle cx="670.76" cy="1024.2" r="3.3" fill="#CD4B4B"/>
<circle cx="669.47" cy="1024.2" r="3.3" fill="#CD4B4B"/>
<circle cx="656" cy="1024.2" r="3.3" fill="#CD4B4B"/>
<circle cx="671.92" cy="1024.2" r="3.3" fill="#CD4B4B"/>
<circle cx="670.04" cy="1024.2" r="3.3" fill="#CD4B4B"/>
<circle cx="664.72" cy="1024.2" r="3.3" fill="#CD4B4B"/>
<circle cx="669.97" cy="1024.2" r="3.3" fill="#CD4B4B"/>
<circle cx="664.48" cy="1024.2" r="3.3" fill="#CD4B4B"/>
<circle cx="660.17" cy="1024.2" r="3.3" fill="#CD4B4B"/>
<circle cx="657.88" cy="1024.2" r="3.3" fill="#CD4B4B"/>
<circle cx="660.29" cy="1024.2" r="3.3" fill="#CD4B4B"/>
<circle cx="656.62" cy="1024.2" r="3.3" fill="#CD4B4B"/>
<circle cx="662.25" cy="1024.2" r="3.3" fill="#CD4B4B"/>
<circle cx="670.12" cy="1024.2" r="3.3" fill="#CD4B4B"/>
<circle cx="669.09" cy="1024.2" r="3.3" fill="#CD4B4B"/>
<circle cx="671.94" cy="1024.2" r="3.3" fill="#CD4B4B"/>
<circle cx="669.4" cy="1024.2" r="3.3" fill="#CD4B4B"/>
<circle cx="660.93" cy="1024.2" r="3.3" fill="#CD4B4B"/>
<circle cx="666.4" cy="1024.2" r="3.3" fill="#CD4B4B"/>
<circle cx="664.17" cy="1009" r="3.3" fill="#CD4B4B"/>
<circle cx="670.86" cy="1005.2" r="3.3" fill="#CD4B4B"/>
<circle cx="665.82" cy="1024.2" r="3.3" fill="#2DB5BD"/>
<circle cx="660.92" cy="1024.2" r="3.3" fill="#2DB5BD"/>
<circle cx="668.08" cy="1024.2" r="3.3" fill="#2DB5BD"/>
<circle cx="674.22" cy="1024.2" r="3.3" fill="#2DB5BD"/>
<circle cx="660" cy="1024.2" r="3.3" fill="#2DB5BD"/>
<circle cx="672.6" cy="1024.2" r="3.3" fill="#2DB5BD"/>
<circle cx="656.17" cy="1024.2" r="3.3" fill="#2DB5BD"/>
<circle cx="660.83" cy="1024.2" r="3.3" fill="#2DB5BD"/>
<circle cx="660.37" cy="1024.2" r="3.3" fill="#2DB5BD"/>
<circle cx="670.01" cy="1024.2" r="3.3" fill="#2DB5BD"/>
<circle cx="673.83" cy="1024.2" r="3.3" fill="#2DB5BD"/>
<circle cx="670.06" cy="1024.2" r="3.3" fill="#2DB5BD"/>
<circle cx="662.09" cy="1024.2" r="3.3" fill="#2DB5BD"/>
<circle cx="672.6" cy="1024.2" r="3.3" fill="#2DB5BD"/>
<circle cx="662.12" cy="1024.2" r="3.3" fill="#2DB5BD"/>
<circle cx="660.42" cy="1024.2" r="3.3" fill="#2DB5BD"/>
<circle cx="673.12" cy="1024.2" r="3.3" fill="#2DB5BD"/>
<circle cx="667.86" cy="1024.2" r="3.3" fill="#2DB5BD"/>
<circle cx="669.04" cy="1024.2" r="3.3" fill="#2DB5BD"/>
<circle cx="668.52" cy="1024.2" r="3.3" fill="#2DB5BD"/>
<circle cx="674.48" cy="1024.2" r="3.3" fill="#2DB5BD"/>
<circle cx="664.8" cy="1024.2" r="3.3" fill="#2DB5BD"/>
<circle cx="671.83" cy="1024.2" r="3.3" fill="#2DB5BD"/>
<circle cx="669.13" cy="1024.2" r="3.3" fill="#2DB5BD"/>
<circle cx="672.17" cy="1024.2" r="3.3" fill="#2DB5BD"/>
<circle cx="664.19" cy="1024.2" r="3.3" fill="#2DB5BD"/>
<circle cx="669.65" cy="1024.2" r="3.3" fill="#2DB5BD"/>
<circle cx="666.72" cy="1024.2" r="3.3" fill="#2DB5BD"/>
<circle cx="661.73" cy="1024.2" r="3.3" fill="#2DB5BD"/>
<circle cx="659.91" cy="1024.2" r="3.3" fill="#2DB5BD"/>
<circle cx="667.71" cy="1024.2" r="3.3" fill="#2DB5BD"/>
<circle cx="657.36" cy="1024.2" r="3.3" fill="#2DB5BD"/>
<circle cx="673.19" cy="1024.2" r="3.3" fill="#2DB5BD"/>
<circle cx="658.63" cy="1024.2" r="3.3" fill="#2DB5BD"/>
<circle cx="656.39" cy="1024.2" r="3.3" fill="#2DB5BD"/>
<circle cx="657.91" cy="1024.2" r="3.3" fill="#2DB5BD"/>
<circle cx="673.53" cy="1024.2" r="3.3" fill="#2DB5BD"/>
<circle cx="662.43" cy="1024.2" r="3.3" fill="#2DB5BD"/>
<circle cx="658.57" cy="1024.2" r="3.3" fill="#2DB5BD"/>
<circle cx="656.43" cy="1024.2" r="3.3" fill="#2DB5BD"/>
<circle cx="656.67" cy="1024.2" r="3.3" fill="#2DB5BD"/>
<circle cx="669.04" cy="1024.2" r="3.3" fill="#2DB5BD"/>
<circle cx="667.92" cy="1024.2" r="3.3" fill="#2DB5BD"/>
<circle cx="669.12" cy="1024.2" r="3.3" fill="#2DB5BD"/>
<circle cx="669.88" cy="1024.2" r="3.3" fill="#2DB5BD"/>
<circle cx="657.13" cy="1024.2" r="3.3" fill="#2DB5BD"/>
<circle cx="667.1" cy="1024.2" r="3.3" fill="#2DB5BD"/>
<circle cx="662.78" cy="1024.2" r="3.3" fill="#2DB5BD"/>
<circle cx="671.41" cy="1024.2" r="3.3" fill="#2DB5BD"/>
<circle cx="671.45" cy="1024.2" r="3.3" fill="#2DB5BD"/>
<circle cx="672.81" cy="983.16" r="3.3" fill="#2DB5BD"/>
<circle cx="657.13" cy="993.8" r="3.3" fill="#2DB5BD"/>
<circle cx="672.37" cy="1000.64" r="3.3" fill="#2DB5BD"/>
<circle cx="673.25" cy="1012.8" r="3.3" fill="#2DB5BD"/>
<circle cx="673.82" cy="1001.4" r="3.3" fill="#2DB5BD"/>
<circle cx="657.92" cy="1015.08" r="3.3" fill="#2DB5BD"/>
<circle cx="659.79" cy="1018.12" r="3.3" fill="#2DB5BD"/>
<circle cx="711.98" cy="1024.2" r="3.3" fill="#CD4B4B"/>
<circle cx="708.54" cy="1024.2" r="3.3" fill="#CD4B4B"/>
<circle cx="710.06" cy="1024.2" r="3.3" fill="#CD4B4B"/>
<circle cx="699.18" cy="1024.2" r="3.3" fill="#CD4B4B"/>
<circle cx="704.3" cy="1024.2" r="3.3" fill="#CD4B4B"/>
<circle cx="710.66" cy="1024.2" r="3.3" fill="#CD4B4B"/>
<circle cx="706.96" cy="1024.2" r="3.3" fill="#CD4B4B"/>
<circle cx="698.36" cy="1024.2" r="3.3" fill="#CD4B4B"/>
<circle cx="704.74" cy="1024.2" r="3.3" fill="#CD4B4B"/>
<circle cx="712.78" cy="1024.2" r="3.3" fill="#CD4B4B"/>
<circle cx="700.48" cy="1024.2" r="3.3" fill="#CD4B4B"/>
<circle cx="699.6" cy="1024.2" r="3.3" fill="#CD4B4B"/>
<circle cx="701.69" cy="1024.2" r="3.3" fill="#CD4B4B"/>
<circle cx="709.32" cy="1024.2" r="3.3" fill="#CD4B4B"/>
<circle cx="711.99" cy="1024.2" r="3.3" fill="#CD4B4B"/>
<circle cx="698.9" cy="1024.2" r="3.3" fill="#CD4B4B"/>
<circle cx="698.92" cy="1024.2" r="3.3" fill="#CD4B4B"/>
<circle cx="700.66" cy="1024.2" r="3.3" fill="#CD4B4B"/>
<circle cx="702.16" cy="1024.2" r="3.3" fill="#CD4B4B"/>
<circle cx="705.88" cy="1024.2" r="3.3" fill="#CD4B4B"/>
<circle cx="699.02" cy="1024.2" r="3.3" fill="#CD4B4B"/>
<circle cx="702.19" cy="1024.2" r="3.3" fill="#CD4B4B"/>
<circle cx="699.56" cy="1024.2" r="3.3" fill="#CD4B4B"/>
<circle cx="714.49" cy="1024.2" r="3.3" fill="#CD4B4B"/>
<circle cx="709.81" cy="1024.2" r="3.3" fill="#CD4B4B"/>
<circle cx="697.89" cy="1024.2" r="3.3" fill="#CD4B4B"/>
<circle cx="714.25" cy="1024.2" r="3.3" fill="#CD4B4B"/>
<circle cx="697.89" cy="1024.2" r="3.3" fill="#CD4B4B"/>
<circle cx="703.26" cy="1024.2" r="3.3" fill="#CD4B4B"/>
<circle cx="714.65" cy="1024.2" r="3.3" fill="#CD4B4B"/>
<circle cx="711.06" cy="1024.2" r="3.3" fill="#CD4B4B"/>
<circle cx="709.89" cy="1024.2" r="3.3" fill="#CD4B4B"/>
<circle cx="704.22" cy="1024.2" r="3.3" fill="#CD4B4B"/>
<circle cx="699.69" cy="1016.6" r="3.3" fill="#CD4B4B"/>
<circle cx="708.08" cy="1019.64" r="3.3" fill="#CD4B4B"/>
<circle cx="697.99" cy="1024.2" r="3.3" fill="#2DB5BD"/>
<circle cx="699.88" cy="1024.2" r="3.3" fill="#2DB5BD"/>
<circle cx="703.34" cy="1024.2" r="3.3" fill="#2DB5BD"/>
<circle cx="696.6" cy="1024.2" r="3.3" fill="#2DB5BD"/>
<circle cx="703.54" cy="1024.2" r="3.3" fill="#2DB5BD"/>
<circle cx="710.99" cy="1024.2" r="3.3" fill="#2DB5BD"/>
<circle cx="709.14" cy="1024.2" r="3.3" fill="#2DB5BD"/>
<circle cx="705.47" cy="1024.2" r="3.3" fill="#2DB5BD"/>
<circle cx="707.98" cy="1024.2" r="3.3" fill="#2DB5BD"/>
<circle cx="704.76" cy="1024.2" r="3.3" fill="#2DB5BD"/>
<circle cx="698.65" cy="1024.2" r="3.3" fill="#2DB5BD"/>
<circle cx="707.43" cy="1024.2" r="3.3" fill="#2DB5BD"/>
<circle cx="703.65" cy="1024.2" r="3.3" fill="#2DB5BD"/>
<circle cx="710.04" cy="1024.2" r="3.3" fill="#2DB5BD"/>
<circle cx="713.21" cy="1024.2" r="3.3" fill="#2DB5BD"/>
<circle cx="704.13" cy="1024.2" r="3.3" fill="#2DB5BD"/>
<circle cx="706.87" cy="1024.2" r="3.3" fill="#2DB5BD"/>
<circle cx="710.19" cy="1024.2" r="3.3" fill="#2DB5BD"/>
<circle cx="703.96" cy="1024.2" r="3.3" fill="#2DB5BD"/>
<circle cx="700.3" cy="1024.2" r="3.3" fill="#2DB5BD"/>
<circle cx="709.68" cy="1024.2" r="3.3" fill="#2DB5BD"/>
<circle cx="712.68" cy="1024.2" r="3.3" fill="#2DB5BD"/>
<circle cx="710.67" cy="1024.2" r="3.3" fill="#2DB5BD"/>
<circle cx="709.26" cy="1024.2" r="3.3" fill="#2DB5BD"/>
<circle cx="712.16" cy="1024.2" r="3.3" fill="#2DB5BD"/>
<circle cx="708.87" cy="1024.2" r="3.3" fill="#2DB5BD"/>
<circle cx="708.15" cy="1024.2" r="3.3" fill="#2DB5BD"/>
<circle cx="704.58" cy="1024.2" r="3.3" fill="#2DB5BD"/>
<circle cx="701.91" cy="1024.2" r="3.3" fill="#2DB5BD"/>
<circle cx="707.9" cy="1024.2" r="3.3" fill="#2DB5BD"/>
<circle cx="697.82" cy="1024.2" r="3.3" fill="#2DB5BD"/>
<circle cx="703.93" cy="1024.2" r="3.3" fill="#2DB5BD"/>
<circle cx="710.83" cy="1024.2" r="3.3" fill="#2DB5BD"/>
<circle cx="709.51" cy="1024.2" r="3.3" fill="#2DB5BD"/>
<circle cx="707.92" cy="1024.2" r="3.3" fill="#2DB5BD"/>
<circle cx="700.71" cy="1024.2" r="3.3" fill="#2DB5BD"/>
<circle cx="704.01" cy="1024.2" r="3.3" fill="#2DB5BD"/>
<circle cx="704.61" cy="1024.2" r="3.3" fill="#2DB5BD"/>
<circle cx="707.77" cy="1024.2" r="3.3" fill="#2DB5BD"/>
<circle cx="703.74" cy="1024.2" r="3.3" fill="#2DB5BD"/>
<circle cx="708.79" cy="1024.2" r="3.3" fill="#2DB5BD"/>
<circle cx="713.63" cy="1024.2" r="3.3" fill="#2DB5BD"/>
<circle cx="699.44" cy="1024.2" r="3.3" fill="#2DB5BD"/>
<circle cx="708.4" cy="1024.2" r="3.3" fill="#2DB5BD"/>
<circle cx="710.75" cy="1024.2" r="3.3" fill="#2DB5BD"/>
<circle cx="703.35" cy="1024.2" r="3.3" fill="#2DB5BD"/>
<circle cx="705.27" cy="1024.2" r="3.3" fill="#2DB5BD"/>
<circle cx="714.48" cy="1024.2" r="3.3" fill="#2DB5BD"/>
<circle cx="696.68" cy="1024.2" r="3.3" fill="#2DB5BD"/>
<circle cx="706.28" cy="1024.2" r="3.3" fill="#2DB5BD"/>
<circle cx="754.12" cy="1024.2" r="3.3" fill="#CD4B4B"/>
<circle cx="748.5" cy="1024.2" r="3.3" fill="#CD4B4B"/>
<circle cx="740.79" cy="1024.2" r="3.3" fill="#CD4B4B"/>
<circle cx="737.97" cy="1024.2" r="3.3" fill="#CD4B4B"/>
<circle cx="738.75" cy="1024.2" r="3.3" fill="#CD4B4B"/>
<circle cx="740.48" cy="1024.2" r="3.3" fill="#CD4B4B"/>
<circle cx="750.79" cy="1024.2" r="3.3" fill="#CD4B4B"/>
<circle cx="742.62" cy="1024.2" r="3.3" fill="#CD4B4B"/>
<circle cx="738.94" cy="1024.18" r="3.3" fill="#CD4B4B"/>
<circle cx="753.22" cy="1024.07" r="3.3" fill="#CD4B4B"/>
<circle cx="751.08" cy="1023.97" r="3.3" fill="#CD4B4B"/>
<circle cx="739.23" cy="1023.9" r="3.3" fill="#CD4B4B"/>
<circle cx="752.97" cy="1023.82" r="3.3" fill="#CD4B4B"/>
<circle cx="747.6" cy="1023.68" r="3.3" fill="#CD4B4B"/>
<circle cx="750.88" cy="1023.65" r="3.3" fill="#CD4B4B"/>
<circle cx="748.74" cy="1023.52" r="3.3" fill="#CD4B4B"/>
<circle cx="753.02" cy="1023.45" r="3.3" fill="#CD4B4B"/>
<circle cx="751.01" cy="1022.1" r="3.3" fill="#CD4B4B"/>
<circle cx="751.98" cy="1021.56" r="3.3" fill="#CD4B4B"/>
<circle cx="739.79" cy="1019.7" r="3.3" fill="#CD4B4B"/>
<circle cx="749.2" cy="1019.15" r="3.3" fill="#CD4B4B"/>
<circle cx="746.13" cy="1018.3" r="3.3" fill="#CD4B4B"/>
<circle cx="750.14" cy="1017.01" r="3.3" fill="#CD4B4B"/>
<circle cx="744.37" cy="1015.79" r="3.3" fill="#CD4B4B"/>
<circle cx="752.81" cy="1015.03" r="3.3" fill="#CD4B4B"/>
<circle cx="746.59" cy="1014.16" r="3.3" fill="#CD4B4B"/>
<circle cx="741.07" cy="1013.53" r="3.3" fill="#CD4B4B"/>
<circle cx="740.49" cy="1012.23" r="3.3" fill="#CD4B4B"/>
<circle cx="738.69" cy="1011.2" r="3.3" fill="#CD4B4B"/>
<circle cx="745.41" cy="1009.61" r="3.3" fill="#CD4B4B"/>
<circle cx="737.15" cy="1007.66" r="3.3" fill="#CD4B4B"/>
<circle cx="744.91" cy="1004.29" r="3.3" fill="#CD4B4B"/>
<circle cx="738.78" cy="1001.08" r="3.3" fill="#CD4B4B"/>
<circle cx="745.38" cy="957.32" r="3.3" fill="#CD4B4B"/>
<circle cx="745.51" cy="967.2" r="3.3" fill="#CD4B4B"/>
<circle cx="746.29" cy="973.28" r="3.3" fill="#CD4B4B"/>
<circle cx="752.43" cy="1024.2" r="3.3" fill="#2DB5BD"/>
<circle cx="736.17" cy="1024.2" r="3.3" fill="#2DB5BD"/>
<circle cx="752.01" cy="1024.2" r="3.3" fill="#2DB5BD"/>
<circle cx="744.93" cy="1024.2" r="3.3" fill="#2DB5BD"/>
<circle cx="746.73" cy="1024.2" r="3.3" fill="#2DB5BD"/>
<circle cx="748.68" cy="1024.2" r="3.3" fill="#2DB5BD"/>
<circle cx="752.01" cy="1024.2" r="3.3" fill="#2DB5BD"/>
<circle cx="743.16" cy="1024.2" r="3.3" fill="#2DB5BD"/>
<circle cx="744" cy="1024.2" r="3.3" fill="#2DB5BD"/>
<circle cx="754.29" cy="1024.2" r="3.3" fill="#2DB5BD"/>
<circle cx="737.47" cy="1024.2" r="3.3" fill="#2DB5BD"/>
<circle cx="748.14" cy="1024.2" r="3.3" fill="#2DB5BD"/>
<circle cx="748.13" cy="1024.15" r="3.3" fill="#2DB5BD"/>
<circle cx="736.58" cy="1024.09" r="3.3" fill="#2DB5BD"/>
<circle cx="747.62" cy="1023.94" r="3.3" fill="#2DB5BD"/>
<circle cx="749.01" cy="1023.8" r="3.3" fill="#2DB5BD"/>
<circle cx="753.74" cy="1023.68" r="3.3" fill="#2DB5BD"/>
<circle cx="742.32" cy="1023.6" r="3.3" fill="#2DB5BD"/>
<circle cx="754.69" cy="1023.49" r="3.3" fill="#2DB5BD"/>
<circle cx="745.74" cy="1023.34" r="3.3" fill="#2DB5BD"/>
<circle cx="745.25" cy="1023.26" r="3.3" fill="#2DB5BD"/>
<circle cx="753.09" cy="1023.07" r="3.3" fill="#2DB5BD"/>
<circle cx="736.68" cy="1023" r="3.3" fill="#2DB5BD"/>
<circle cx="749.69" cy="1022.83" r="3.3" fill="#2DB5BD"/>
<circle cx="747.92" cy="1022.76" r="3.3" fill="#2DB5BD"/>
<circle cx="742.47" cy="1022.22" r="3.3" fill="#2DB5BD"/>
<circle cx="752.41" cy="1021.17" r="3.3" fill="#2DB5BD"/>
<circle cx="743" cy="1019.86" r="3.3" fill="#2DB5BD"/>
<circle cx="745.06" cy="1018.93" r="3.3" fill="#2DB5BD"/>
<circle cx="746.03" cy="1017.94" r="3.3" fill="#2DB5BD"/>
<circle cx="750.68" cy="1016.12" r="3.3" fill="#2DB5BD"/>
<circle cx="740.04" cy="1015.37" r="3.3" fill="#2DB5BD"/>
<circle cx="744.31" cy="1014.25" r="3.3" fill="#2DB5BD"/>
<circle cx="744.07" cy="1013.04" r="3.3" fill="#2DB5BD"/>
<circle cx="746.57" cy="1011.72" r="3.3" fill="#2DB5BD"/>
<circle cx="751.75" cy="1010.62" r="3.3" fill="#2DB5BD"/>
<circle cx="741.6" cy="1009.27" r="3.3" fill="#2DB5BD"/>
<circle cx="751.77" cy="1008.23" r="3.3" fill="#2DB5BD"/>
<circle cx="743.71" cy="1008.06" r="3.3" fill="#2DB5BD"/>
<circle cx="745.61" cy="1007.23" r="3.3" fill="#2DB5BD"/>
<circle cx="741.2" cy="1006.39" r="3.3" fill="#2DB5BD"/>
<circle cx="745.66" cy="1006.01" r="3.3" fill="#2DB5BD"/>
<circle cx="754.56" cy="1003.92" r="3.3" fill="#2DB5BD"/>
<circle cx="748.48" cy="1002.22" r="3.3" fill="#2DB5BD"/>
<circle cx="751.09" cy="1000.59" r="3.3" fill="#2DB5BD"/>
<circle cx="742.33" cy="999.64" r="3.3" fill="#2DB5BD"/>
<circle cx="742.06" cy="996.27" r="3.3" fill="#2DB5BD"/>
<circle cx="741.73" cy="994.24" r="3.3" fill="#2DB5BD"/>
<circle cx="747.18" cy="992.96" r="3.3" fill="#2DB5BD"/>
<circle cx="748.1" cy="990.28" r="3.3" fill="#2DB5BD"/>
<circle cx="780.95" cy="1024.2" r="3.3" fill="#CD4B4B"/>
<circle cx="794.44" cy="1024.2" r="3.3" fill="#CD4B4B"/>
<circle cx="789.75" cy="1024.2" r="3.3" fill="#CD4B4B"/>
<circle cx="776.34" cy="1024.2" r="3.3" fill="#CD4B4B"/>
<circle cx="776.4" cy="1024.2" r="3.3" fill="#CD4B4B"/>
<circle cx="788.48" cy="1024.2" r="3.3" fill="#CD4B4B"/>
<circle cx="791.65" cy="1024.2" r="3.3" fill="#CD4B4B"/>
<circle cx="777.63" cy="1024.2" r="3.3" fill="#CD4B4B"/>
<circle cx="782.03" cy="1024.2" r="3.3" fill="#CD4B4B"/>
<circle cx="789.98" cy="1024.05" r="3.3" fill="#CD4B4B"/>
<circle cx="779.27" cy="1023.98" r="3.3" fill="#CD4B4B"/>
<circle cx="792.48" cy="1023.89" r="3.3" fill="#CD4B4B"/>
<circle cx="785.36" cy="1023.79" r="3.3" fill="#CD4B4B"/>
<circle cx="777.26" cy="1023.69" r="3.3" fill="#CD4B4B"/>
<circle cx="783.1" cy="1023.62" r="3.3" fill="#CD4B4B"/>
<circle cx="787.04" cy="1023.52" r="3.3" fill="#CD4B4B"/>
<circle cx="784.46" cy="1023.41" r="3.3" fill="#CD4B4B"/>
<circle cx="788.98" cy="1023.12" r="3.3" fill="#CD4B4B"/>
<circle cx="778.87" cy="1022.87" r="3.3" fill="#CD4B4B"/>
<circle cx="791.27" cy="1022.57" r="3.3" fill="#CD4B4B"/>
<circle cx="783.02" cy="1022.4" r="3.3" fill="#CD4B4B"/>
<circle cx="788.37" cy="1022.02" r="3.3" fill="#CD4B4B"/>
<circle cx="788.08" cy="1021.79" r="3.3" fill="#CD4B4B"/>
<circle cx="784.06" cy="1021.45" r="3.3" fill="#CD4B4B"/>
<circle cx="783.45" cy="1021.32" r="3.3" fill="#CD4B4B"/>
<circle cx="791.06" cy="1021.14" r="3.3" fill="#CD4B4B"/>
<circle cx="794.07" cy="1021.01" r="3.3" fill="#CD4B4B"/>
<circle cx="791.03" cy="1020.56" r="3.3" fill="#CD4B4B"/>
<circle cx="786.89" cy="1020.09" r="3.3" fill="#CD4B4B"/>
<circle cx="781.68" cy="1019.69" r="3.3" fill="#CD4B4B"/>
<circle cx="777.27" cy="1019.24" r="3.3" fill="#CD4B4B"/>
<circle cx="794.63" cy="1018.33" r="3.3" fill="#CD4B4B"/>
<circle cx="789.48" cy="1017.58" r="3.3" fill="#CD4B4B"/>
<circle cx="791.84" cy="936.8" r="3.3" fill="#CD4B4B"/>
<circle cx="782.43" cy="1024.2" r="3.3" fill="#2DB5BD"/>
<circle cx="787.63" cy="1024.2" r="3.3" fill="#2DB5BD"/>
<circle cx="794.69" cy="1024.2" r="3.3" fill="#2DB5BD"/>
<circle cx="791.91" cy="1024.2" r="3.3" fill="#2DB5BD"/>
<circle cx="787.54" cy="1024.2" r="3.3" fill="#2DB5BD"/>
<circle cx="781.98" cy="1024.2" r="3.3" fill="#2DB5BD"/>
<circle cx="784.26" cy="1024.2" r="3.3" fill="#2DB5BD"/>
<circle cx="792.99" cy="1024.2" r="3.3" fill="#2DB5BD"/>
<circle cx="783.28" cy="1024.2" r="3.3" fill="#2DB5BD"/>
<circle cx="789.13" cy="1024.2" r="3.3" fill="#2DB5BD"/>
<circle cx="787.55" cy="1024.2" r="3.3" fill="#2DB5BD"/>
<circle cx="793.15" cy="1024.2" r="3.3" fill="#2DB5BD"/>
<circle cx="791.46" cy="1024.12" r="3.3" fill="#2DB5BD"/>
<circle cx="781.5" cy="1023.85" r="3.3" fill="#2DB5BD"/>
<circle cx="776.15" cy="1023.42" r="3.3" fill="#2DB5BD"/>
<circle cx="781.12" cy="1023.21" r="3.3" fill="#2DB5BD"/>
<circle cx="784.15" cy="1022.99" r="3.3" fill="#2DB5BD"/>
<circle cx="787.27" cy="1022.56" r="3.3" fill="#2DB5BD"/>
<circle cx="791.62" cy="1022.17" r="3.3" fill="#2DB5BD"/>
<circle cx="792.98" cy="1021.74" r="3.3" fill="#2DB5BD"/>
<circle cx="776.92" cy="1021.4" r="3.3" fill="#2DB5BD"/>
<circle cx="791.95" cy="1021.2" r="3.3" fill="#2DB5BD"/>
<circle cx="791.54" cy="1020.88" r="3.3" fill="#2DB5BD"/>
<circle cx="792.6" cy="1020.63" r="3.3" fill="#2DB5BD"/>
<circle cx="786.99" cy="1020.15" r="3.3" fill="#2DB5BD"/>
<circle cx="781.32" cy="1019.16" r="3.3" fill="#2DB5BD"/>
<circle cx="792.29" cy="1016.12" r="3.3" fill="#2DB5BD"/>
<circle cx="791.45" cy="1013.28" r="3.3" fill="#2DB5BD"/>
<circle cx="789.13" cy="1010.11" r="3.3" fill="#2DB5BD"/>
<circle cx="793.48" cy="1005.19" r="3.3" fill="#2DB5BD"/>
<circle cx="782.71" cy="1003.43" r="3.3" fill="#2DB5BD"/>
<circle cx="777.74" cy="998.08" r="3.3" fill="#2DB5BD"/>
<circle cx="786.64" cy="997.13" r="3.3" fill="#2DB5BD"/>
<circle cx="791.27" cy="991.94" r="3.3" fill="#2DB5BD"/>
<circle cx="779.93" cy="990.64" r="3.3" fill="#2DB5BD"/>
<circle cx="790.37" cy="987.74" r="3.3" fill="#2DB5BD"/>
<circle cx="793.82" cy="982.75" r="3.3" fill="#2DB5BD"/>
<circle cx="780.57" cy="980.78" r="3.3" fill="#2DB5BD"/>
<circle cx="787.65" cy="979.31" r="3.3" fill="#2DB5BD"/>
<circle cx="789" cy="978.49" r="3.3" fill="#2DB5BD"/>
<circle cx="784.96" cy="976.7" r="3.3" fill="#2DB5BD"/>
<circle cx="780.05" cy="972.16" r="3.3" fill="#2DB5BD"/>
<circle cx="780.96" cy="968.64" r="3.3" fill="#2DB5BD"/>
<circle cx="790.39" cy="963.81" r="3.3" fill="#2DB5BD"/>
<circle cx="791.16" cy="959.37" r="3.3" fill="#2DB5BD"/>
<circle cx="784.85" cy="956.79" r="3.3" fill="#2DB5BD"/>
<circle cx="777.79" cy="948.34" r="3.3" fill="#2DB5BD"/>
<circle cx="791.44" cy="941.34" r="3.3" fill="#2DB5BD"/>
<circle cx="790.79" cy="935.67" r="3.3" fill="#2DB5BD"/>
<circle cx="780.54" cy="925.12" r="3.3" fill="#2DB5BD"/>
<circle cx="787.13" cy="902.6" r="3.3" fill="#2DB5BD"/>
<circle cx="793.16" cy="906.4" r="3.3" fill="#2DB5BD"/>
<circle cx="792.94" cy="907.92" r="3.3" fill="#2DB5BD"/>
<circle cx="786.04" cy="923.12" r="3.3" fill="#2DB5BD"/>
<circle cx="818.56" cy="1023.42" r="3.3" fill="#CD4B4B"/>
<circle cx="825.34" cy="1021.8" r="3.3" fill="#CD4B4B"/>
<circle cx="819.4" cy="1020.88" r="3.3" fill="#CD4B4B"/>
<circle cx="820.73" cy="1019.68" r="3.3" fill="#CD4B4B"/>
<circle cx="818.92" cy="1018.67" r="3.3" fill="#CD4B4B"/>
<circle cx="829.08" cy="1017.54" r="3.3" fill="#CD4B4B"/>
<circle cx="816.44" cy="1017.12" r="3.3" fill="#CD4B4B"/>
<circle cx="829.83" cy="1016.69" r="3.3" fill="#CD4B4B"/>
<circle cx="819.91" cy="1015.9" r="3.3" fill="#CD4B4B"/>
<circle cx="816.88" cy="1011.48" r="3.3" fill="#CD4B4B"/>
<circle cx="833.83" cy="1008.62" r="3.3" fill="#CD4B4B"/>
<circle cx="820.39" cy="1004.9" r="3.3" fill="#CD4B4B"/>
<circle cx="833.95" cy="997.76" r="3.3" fill="#CD4B4B"/>
<circle cx="832.67" cy="995.73" r="3.3" fill="#CD4B4B"/>
<circle cx="833.09" cy="992.54" r="3.3" fill="#CD4B4B"/>
<circle cx="818.86" cy="986.78" r="3.3" fill="#CD4B4B"/>
<circle cx="824.7" cy="982.02" r="3.3" fill="#CD4B4B"/>
<circle cx="818.04" cy="979.55" r="3.3" fill="#CD4B4B"/>
<circle cx="833.85" cy="972.82" r="3.3" fill="#CD4B4B"/>
<circle cx="832.2" cy="968.85" r="3.3" fill="#CD4B4B"/>
<circle cx="828.14" cy="963.18" r="3.3" fill="#CD4B4B"/>
<circle cx="824.79" cy="960.2" r="3.3" fill="#CD4B4B"/>
<circle cx="822.66" cy="955.17" r="3.3" fill="#CD4B4B"/>
<circle cx="831.84" cy="946.39" r="3.3" fill="#CD4B4B"/>
<circle cx="825.27" cy="942.12" r="3.3" fill="#CD4B4B"/>
<circle cx="828.14" cy="941.3" r="3.3" fill="#CD4B4B"/>
<circle cx="818.91" cy="938.03" r="3.3" fill="#CD4B4B"/>
<circle cx="820.41" cy="934.45" r="3.3" fill="#CD4B4B"/>
<circle cx="817.28" cy="925.19" r="3.3" fill="#CD4B4B"/>
<circle cx="829.76" cy="919.29" r="3.3" fill="#CD4B4B"/>
<circle cx="826.71" cy="905.41" r="3.3" fill="#CD4B4B"/>
<circle cx="818.95" cy="895.63" r="3.3" fill="#CD4B4B"/>
<circle cx="832.74" cy="882.37" r="3.3" fill="#CD4B4B"/>
<circle cx="821.26" cy="878.28" r="3.3" fill="#CD4B4B"/>
<circle cx="824.02" cy="921.6" r="3.3" fill="#CD4B4B"/>
<circle cx="819.16" cy="1024.2" r="3.3" fill="#2DB5BD"/>
<circle cx="821.35" cy="1024.2" r="3.3" fill="#2DB5BD"/>
<circle cx="832.15" cy="1024.2" r="3.3" fill="#2DB5BD"/>
<circle cx="822.56" cy="1024.2" r="3.3" fill="#2DB5BD"/>
<circle cx="819.39" cy="1024.2" r="3.3" fill="#2DB5BD"/>
<circle cx="825.53" cy="1024.2" r="3.3" fill="#2DB5BD"/>
<circle cx="822.24" cy="1024.2" r="3.3" fill="#2DB5BD"/>
<circle cx="833.36" cy="1024.2" r="3.3" fill="#2DB5BD"/>
<circle cx="818.37" cy="1024.2" r="3.3" fill="#2DB5BD"/>
<circle cx="834.79" cy="1024.2" r="3.3" fill="#2DB5BD"/>
<circle cx="817.28" cy="1024.2" r="3.3" fill="#2DB5BD"/>
<circle cx="833.21" cy="1024.2" r="3.3" fill="#2DB5BD"/>
<circle cx="828.9" cy="1024.2" r="3.3" fill="#2DB5BD"/>
<circle cx="820.21" cy="1024.13" r="3.3" fill="#2DB5BD"/>
<circle cx="825.27" cy="1024.08" r="3.3" fill="#2DB5BD"/>
<circle cx="821.64" cy="1024.04" r="3.3" fill="#2DB5BD"/>
<circle cx="821.1" cy="1023.93" r="3.3" fill="#2DB5BD"/>
<circle cx="820.03" cy="1023.91" r="3.3" fill="#2DB5BD"/>
<circle cx="823.12" cy="1023.83" r="3.3" fill="#2DB5BD"/>
<circle cx="835.03" cy="1023.77" r="3.3" fill="#2DB5BD"/>
<circle cx="835.16" cy="1023.69" r="3.3" fill="#2DB5BD"/>
<circle cx="833.78" cy="1023.64" r="3.3" fill="#2DB5BD"/>
<circle cx="818.05" cy="1023.6" r="3.3" fill="#2DB5BD"/>
<circle cx="821.7" cy="1023.53" r="3.3" fill="#2DB5BD"/>
<circle cx="833.23" cy="1023.49" r="3.3" fill="#2DB5BD"/>
<circle cx="817.29" cy="1022.62" r="3.3" fill="#2DB5BD"/>
<circle cx="830" cy="1021.66" r="3.3" fill="#2DB5BD"/>
<circle cx="821.78" cy="1021.29" r="3.3" fill="#2DB5BD"/>
<circle cx="834.79" cy="1020.49" r="3.3" fill="#2DB5BD"/>
<circle cx="816.5" cy="1019.38" r="3.3" fill="#2DB5BD"/>
<circle cx="831.53" cy="1018.37" r="3.3" fill="#2DB5BD"/>
<circle cx="822.68" cy="1017.01" r="3.3" fill="#2DB5BD"/>
<circle cx="818.86" cy="1016.07" r="3.3" fill="#2DB5BD"/>
<circle cx="816.24" cy="1015.18" r="3.3" fill="#2DB5BD"/>
<circle cx="832.01" cy="1014.83" r="3.3" fill="#2DB5BD"/>
<circle cx="826.21" cy="1013.33" r="3.3" fill="#2DB5BD"/>
<circle cx="819.73" cy="1012.44" r="3.3" fill="#2DB5BD"/>
<circle cx="824.47" cy="1011.66" r="3.3" fill="#2DB5BD"/>
<circle cx="833.53" cy="1011.43" r="3.3" fill="#2DB5BD"/>
<circle cx="820.35" cy="1011.35" r="3.3" fill="#2DB5BD"/>
<circle cx="827.06" cy="1010.91" r="3.3" fill="#2DB5BD"/>
<circle cx="818.82" cy="1010" r="3.3" fill="#2DB5BD"/>
<circle cx="819.62" cy="1009.1" r="3.3" fill="#2DB5BD"/>
<circle cx="830.84" cy="1008.38" r="3.3" fill="#2DB5BD"/>
<circle cx="829.72" cy="1007.68" r="3.3" fill="#2DB5BD"/>
<circle cx="819.94" cy="1006.3" r="3.3" fill="#2DB5BD"/>
<circle cx="817.71" cy="1004.87" r="3.3" fill="#2DB5BD"/>
<circle cx="817.86" cy="1004.22" r="3.3" fill="#2DB5BD"/>
<circle cx="827.76" cy="1002.52" r="3.3" fill="#2DB5BD"/>
<circle cx="825.61" cy="1001.03" r="3.3" fill="#2DB5BD"/>
<circle cx="821.4" cy="915.52" r="3.3" fill="#2DB5BD"/>
<circle cx="872.23" cy="1024.2" r="3.3" fill="#CD4B4B"/>
<circle cx="866.27" cy="1024.2" r="3.3" fill="#CD4B4B"/>
<circle cx="863.8" cy="1024.2" r="3.3" fill="#CD4B4B"/>
<circle cx="874.16" cy="1024.2" r="3.3" fill="#CD4B4B"/>
<circle cx="871.04" cy="1024.2" r="3.3" fill="#CD4B4B"/>
<circle cx="862.71" cy="1024.2" r="3.3" fill="#CD4B4B"/>
<circle cx="860.85" cy="1024.2" r="3.3" fill="#CD4B4B"/>
<circle cx="862.65" cy="1024.2" r="3.3" fill="#CD4B4B"/>
<circle cx="864.56" cy="1024" r="3.3" fill="#CD4B4B"/>
<circle cx="874.92" cy="1022.54" r="3.3" fill="#CD4B4B"/>
<circle cx="871.56" cy="1022" r="3.3" fill="#CD4B4B"/>
<circle cx="873.62" cy="1020.14" r="3.3" fill="#CD4B4B"/>
<circle cx="871.77" cy="1019.42" r="3.3" fill="#CD4B4B"/>
<circle cx="872.38" cy="1017.79" r="3.3" fill="#CD4B4B"/>
<circle cx="857.3" cy="1016.61" r="3.3" fill="#CD4B4B"/>
<circle cx="866.11" cy="1015.79" r="3.3" fill="#CD4B4B"/>
<circle cx="874.48" cy="1015.07" r="3.3" fill="#CD4B4B"/>
<circle cx="874.03" cy="1009.07" r="3.3" fill="#CD4B4B"/>
<circle cx="861.02" cy="1006.34" r="3.3" fill="#CD4B4B"/>
<circle cx="864.3" cy="1000.83" r="3.3" fill="#CD4B4B"/>
<circle cx="868.3" cy="998.68" r="3.3" fill="#CD4B4B"/>
<circle cx="863.2" cy="994.76" r="3.3" fill="#CD4B4B"/>
<circle cx="866.37" cy="988.42" r="3.3" fill="#CD4B4B"/>
<circle cx="857.6" cy="985.79" r="3.3" fill="#CD4B4B"/>
<circle cx="864.51" cy="982.29" r="3.3" fill="#CD4B4B"/>
<circle cx="865.87" cy="979.5" r="3.3" fill="#CD4B4B"/>
<circle cx="856.68" cy="976.09" r="3.3" fill="#CD4B4B"/>
<circle cx="858.93" cy="973.76" r="3.3" fill="#CD4B4B"/>
<circle cx="874.7" cy="965.3" r="3.3" fill="#CD4B4B"/>
<circle cx="871.04" cy="957.98" r="3.3" fill="#CD4B4B"/>
<circle cx="874.08" cy="948.25" r="3.3" fill="#CD4B4B"/>
<circle cx="868.31" cy="941.12" r="3.3" fill="#CD4B4B"/>
<circle cx="871.66" cy="923.61" r="3.3" fill="#CD4B4B"/>
<circle cx="873.08" cy="910.2" r="3.3" fill="#CD4B4B"/>
<circle cx="873.09" cy="919.32" r="3.3" fill="#CD4B4B"/>
<circle cx="856.93" cy="1022.51" r="3.3" fill="#2DB5BD"/>
<circle cx="868.47" cy="1020.32" r="3.3" fill="#2DB5BD"/>
<circle cx="861.33" cy="1019.2" r="3.3" fill="#2DB5BD"/>
<circle cx="869.17" cy="1016.78" r="3.3" fill="#2DB5BD"/>
<circle cx="861.48" cy="1015.54" r="3.3" fill="#2DB5BD"/>
<circle cx="866.58" cy="1013.57" r="3.3" fill="#2DB5BD"/>
<circle cx="873.84" cy="1012.96" r="3.3" fill="#2DB5BD"/>
<circle cx="868.08" cy="1010.99" r="3.3" fill="#2DB5BD"/>
<circle cx="861.04" cy="1009.97" r="3.3" fill="#2DB5BD"/>
<circle cx="866.17" cy="1009.47" r="3.3" fill="#2DB5BD"/>
<circle cx="864.52" cy="1008.82" r="3.3" fill="#2DB5BD"/>
<circle cx="874.35" cy="1008.4" r="3.3" fill="#2DB5BD"/>
<circle cx="861.74" cy="1008.19" r="3.3" fill="#2DB5BD"/>
<circle cx="862.08" cy="1007.15" r="3.3" fill="#2DB5BD"/>
<circle cx="868.58" cy="1004.05" r="3.3" fill="#2DB5BD"/>
<circle cx="858.57" cy="1003.34" r="3.3" fill="#2DB5BD"/>
<circle cx="867.57" cy="1001.64" r="3.3" fill="#2DB5BD"/>
<circle cx="874.45" cy="999.98" r="3.3" fill="#2DB5BD"/>
<circle cx="866.04" cy="998.01" r="3.3" fill="#2DB5BD"/>
<circle cx="861.38" cy="995.45" r="3.3" fill="#2DB5BD"/>
<circle cx="865.14" cy="994.8" r="3.3" fill="#2DB5BD"/>
<circle cx="866.42" cy="992.94" r="3.3" fill="#2DB5BD"/>
<circle cx="859.1" cy="990.33" r="3.3" fill="#2DB5BD"/>
<circle cx="858.63" cy="989.27" r="3.3" fill="#2DB5BD"/>
<circle cx="858.78" cy="987.76" r="3.3" fill="#2DB5BD"/>
<circle cx="861.86" cy="985.18" r="3.3" fill="#2DB5BD"/>
<circle cx="864" cy="983.45" r="3.3" fill="#2DB5BD"/>
<circle cx="861.76" cy="981.76" r="3.3" fill="#2DB5BD"/>
<circle cx="860.9" cy="979.74" r="3.3" fill="#2DB5BD"/>
<circle cx="857.95" cy="978.83" r="3.3" fill="#2DB5BD"/>
<circle cx="866.66" cy="975.98" r="3.3" fill="#2DB5BD"/>
<circle cx="872.24" cy="974.43" r="3.3" fill="#2DB5BD"/>
<circle cx="867.87" cy="973.62" r="3.3" fill="#2DB5BD"/>
<circle cx="867.11" cy="971.74" r="3.3" fill="#2DB5BD"/>
<circle cx="868.64" cy="969.46" r="3.3" fill="#2DB5BD"/>
<circle cx="860.1" cy="967.69" r="3.3" fill="#2DB5BD"/>
<circle cx="869.78" cy="966.23" r="3.3" fill="#2DB5BD"/>
<circle cx="865.04" cy="964.69" r="3.3" fill="#2DB5BD"/>
<circle cx="866.69" cy="963.82" r="3.3" fill="#2DB5BD"/>
<circle cx="867.92" cy="963.14" r="3.3" fill="#2DB5BD"/>
<circle cx="865.19" cy="961.24" r="3.3" fill="#2DB5BD"/>
<circle cx="862.18" cy="958.84" r="3.3" fill="#2DB5BD"/>
<circle cx="860.88" cy="957.85" r="3.3" fill="#2DB5BD"/>
<circle cx="860.49" cy="954.26" r="3.3" fill="#2DB5BD"/>
<circle cx="866.02" cy="950.65" r="3.3" fill="#2DB5BD"/>
<circle cx="863.56" cy="948.8" r="3.3" fill="#2DB5BD"/>
<circle cx="867.41" cy="942.9" r="3.3" fill="#2DB5BD"/>
<circle cx="856.51" cy="938.19" r="3.3" fill="#2DB5BD"/>
<circle cx="862.98" cy="935.6" r="3.3" fill="#2DB5BD"/>
<circle cx="872.66" cy="930.59" r="3.3" fill="#2DB5BD"/>
<circle cx="860.81" cy="886.64" r="3.3" fill="#2DB5BD"/>
<circle cx="866.86" cy="889.68" r="3.3" fill="#2DB5BD"/>
<circle cx="865.62" cy="897.28" r="3.3" fill="#2DB5BD"/>
<circle cx="907.66" cy="1022.81" r="3.3" fill="#CD4B4B"/>
<circle cx="903.03" cy="1016.81" r="3.3" fill="#CD4B4B"/>
<circle cx="914.37" cy="1015.29" r="3.3" fill="#CD4B4B"/>
<circle cx="909.21" cy="1011.16" r="3.3" fill="#CD4B4B"/>
<circle cx="906.34" cy="1009.86" r="3.3" fill="#CD4B4B"/>
<circle cx="898.24" cy="1007.83" r="3.3" fill="#CD4B4B"/>
<circle cx="903.47" cy="1005.31" r="3.3" fill="#CD4B4B"/>
<circle cx="903.98" cy="1004.73" r="3.3" fill="#CD4B4B"/>
<circle cx="907.03" cy="1004.45" r="3.3" fill="#CD4B4B"/>
<circle cx="907.27" cy="999.63" r="3.3" fill="#CD4B4B"/>
<circle cx="913.08" cy="995.31" r="3.3" fill="#CD4B4B"/>
<circle cx="914.68" cy="990.19" r="3.3" fill="#CD4B4B"/>
<circle cx="905.61" cy="988.12" r="3.3" fill="#CD4B4B"/>
<circle cx="904.72" cy="983.59" r="3.3" fill="#CD4B4B"/>
<circle cx="908.23" cy="977.01" r="3.3" fill="#CD4B4B"/>
<circle cx="915.29" cy="973.59" r="3.3" fill="#CD4B4B"/>
<circle cx="902.88" cy="971.39" r="3.3" fill="#CD4B4B"/>
<circle cx="906.43" cy="966.47" r="3.3" fill="#CD4B4B"/>
<circle cx="911.86" cy="962.09" r="3.3" fill="#CD4B4B"/>
<circle cx="899.6" cy="956.64" r="3.3" fill="#CD4B4B"/>
<circle cx="902.4" cy="952.52" r="3.3" fill="#CD4B4B"/>
<circle cx="914.95" cy="947.38" r="3.3" fill="#CD4B4B"/>
<circle cx="912.05" cy="943.15" r="3.3" fill="#CD4B4B"/>
<circle cx="906.1" cy="939.87" r="3.3" fill="#CD4B4B"/>
<circle cx="898.46" cy="934.78" r="3.3" fill="#CD4B4B"/>
<circle cx="913.36" cy="933.51" r="3.3" fill="#CD4B4B"/>
<circle cx="909.47" cy="930.75" r="3.3" fill="#CD4B4B"/>
<circle cx="911.95" cy="927.67" r="3.3" fill="#CD4B4B"/>
<circle cx="915.17" cy="921.03" r="3.3" fill="#CD4B4B"/>
<circle cx="913.23" cy="914.76" r="3.3" fill="#CD4B4B"/>
<circle cx="904.36" cy="905.55" r="3.3" fill="#CD4B4B"/>
<circle cx="899.33" cy="902.3" r="3.3" fill="#CD4B4B"/>
<circle cx="901.87" cy="886.56" r="3.3" fill="#CD4B4B"/>
<circle cx="906.08" cy="749.84" r="3.3" fill="#CD4B4B"/>
<circle cx="905.95" cy="794.68" r="3.3" fill="#CD4B4B"/>
<circle cx="899.93" cy="882.84" r="3.3" fill="#CD4B4B"/>
<circle cx="899.83" cy="1023.71" r="3.3" fill="#2DB5BD"/>
<circle cx="908.33" cy="1016.59" r="3.3" fill="#2DB5BD"/>
<circle cx="907.82" cy="1013.12" r="3.3" fill="#2DB5BD"/>
<circle cx="903.07" cy="1009.62" r="3.3" fill="#2DB5BD"/>
<circle cx="915.24" cy="1004.96" r="3.3" fill="#2DB5BD"/>
<circle cx="908.45" cy="1002.86" r="3.3" fill="#2DB5BD"/>
<circle cx="897.16" cy="1000.41" r="3.3" fill="#2DB5BD"/>
<circle cx="904.18" cy="997.3" r="3.3" fill="#2DB5BD"/>
<circle cx="911.33" cy="995.18" r="3.3" fill="#2DB5BD"/>
<circle cx="902.19" cy="993.9" r="3.3" fill="#2DB5BD"/>
<circle cx="909.48" cy="992.83" r="3.3" fill="#2DB5BD"/>
<circle cx="896.43" cy="991.89" r="3.3" fill="#2DB5BD"/>
<circle cx="902.14" cy="991.52" r="3.3" fill="#2DB5BD"/>
<circle cx="912.36" cy="990.19" r="3.3" fill="#2DB5BD"/>
<circle cx="907.5" cy="989.46" r="3.3" fill="#2DB5BD"/>
<circle cx="909.05" cy="988.24" r="3.3" fill="#2DB5BD"/>
<circle cx="900.1" cy="986.97" r="3.3" fill="#2DB5BD"/>
<circle cx="905.82" cy="986" r="3.3" fill="#2DB5BD"/>
<circle cx="906.87" cy="984.93" r="3.3" fill="#2DB5BD"/>
<circle cx="901.41" cy="983.39" r="3.3" fill="#2DB5BD"/>
<circle cx="908.65" cy="982.21" r="3.3" fill="#2DB5BD"/>
<circle cx="906.46" cy="981.4" r="3.3" fill="#2DB5BD"/>
<circle cx="915.31" cy="980.32" r="3.3" fill="#2DB5BD"/>
<circle cx="907.27" cy="979.43" r="3.3" fill="#2DB5BD"/>
<circle cx="904.17" cy="978.2" r="3.3" fill="#2DB5BD"/>
<circle cx="898.67" cy="976.99" r="3.3" fill="#2DB5BD"/>
<circle cx="899.34" cy="974.09" r="3.3" fill="#2DB5BD"/>
<circle cx="910.79" cy="971.92" r="3.3" fill="#2DB5BD"/>
<circle cx="898.39" cy="970.62" r="3.3" fill="#2DB5BD"/>
<circle cx="898.26" cy="967.02" r="3.3" fill="#2DB5BD"/>
<circle cx="899.6" cy="965.89" r="3.3" fill="#2DB5BD"/>
<circle cx="906.29" cy="962.84" r="3.3" fill="#2DB5BD"/>
<circle cx="912" cy="960.69" r="3.3" fill="#2DB5BD"/>
<circle cx="908.01" cy="958.32" r="3.3" fill="#2DB5BD"/>
<circle cx="911.69" cy="957.47" r="3.3" fill="#2DB5BD"/>
<circle cx="897.54" cy="954.92" r="3.3" fill="#2DB5BD"/>
<circle cx="896.6" cy="951.93" r="3.3" fill="#2DB5BD"/>
<circle cx="911" cy="951.32" r="3.3" fill="#2DB5BD"/>
<circle cx="902.49" cy="950.22" r="3.3" fill="#2DB5BD"/>
<circle cx="909.95" cy="948.33" r="3.3" fill="#2DB5BD"/>
<circle cx="903.08" cy="946.23" r="3.3" fill="#2DB5BD"/>
<circle cx="899.58" cy="942.23" r="3.3" fill="#2DB5BD"/>
<circle cx="901.43" cy="938.96" r="3.3" fill="#2DB5BD"/>
<circle cx="898.25" cy="935.54" r="3.3" fill="#2DB5BD"/>
<circle cx="913.53" cy="928.89" r="3.3" fill="#2DB5BD"/>
<circle cx="907.42" cy="925.56" r="3.3" fill="#2DB5BD"/>
<circle cx="902.99" cy="919.68" r="3.3" fill="#2DB5BD"/>
<circle cx="904.91" cy="912.36" r="3.3" fill="#2DB5BD"/>
<circle cx="903.69" cy="907.04" r="3.3" fill="#2DB5BD"/>
<circle cx="897.4" cy="899.81" r="3.3" fill="#2DB5BD"/>
<circle cx="913.28" cy="800" r="3.3" fill="#2DB5BD"/>
<circle cx="907.43" cy="869.16" r="3.3" fill="#2DB5BD"/>
<circle cx="914.59" cy="883.6" r="3.3" fill="#2DB5BD"/>
<circle cx="938.07" cy="1024.2" r="3.3" fill="#CD4B4B"/>
<circle cx="939.8" cy="1024.2" r="3.3" fill="#CD4B4B"/>
<circle cx="952.61" cy="1024.2" r="3.3" fill="#CD4B4B"/>
<circle cx="942.54" cy="1024.2" r="3.3" fill="#CD4B4B"/>
<circle cx="949.03" cy="1024.2" r="3.3" fill="#CD4B4B"/>
<circle cx="938.51" cy="1024.2" r="3.3" fill="#CD4B4B"/>
<circle cx="947.12" cy="1024.2" r="3.3" fill="#CD4B4B"/>
<circle cx="943.31" cy="1024.2" r="3.3" fill="#CD4B4B"/>
<circle cx="945.95" cy="1024.2" r="3.3" fill="#CD4B4B"/>
<circle cx="942.08" cy="1024.2" r="3.3" fill="#CD4B4B"/>
<circle cx="937.69" cy="1024.2" r="3.3" fill="#CD4B4B"/>
<circle cx="942.35" cy="1024.2" r="3.3" fill="#CD4B4B"/>
<circle cx="940.74" cy="1024.2" r="3.3" fill="#CD4B4B"/>
<circle cx="938.84" cy="1024.2" r="3.3" fill="#CD4B4B"/>
<circle cx="950.06" cy="1024.2" r="3.3" fill="#CD4B4B"/>
<circle cx="941.8" cy="1024.2" r="3.3" fill="#CD4B4B"/>
<circle cx="944.1" cy="1023.7" r="3.3" fill="#CD4B4B"/>
<circle cx="953.71" cy="1021.98" r="3.3" fill="#CD4B4B"/>
<circle cx="951.16" cy="1018.92" r="3.3" fill="#CD4B4B"/>
<circle cx="953.21" cy="1014.78" r="3.3" fill="#CD4B4B"/>
<circle cx="952.8" cy="1012.81" r="3.3" fill="#CD4B4B"/>
<circle cx="938.95" cy="1009.25" r="3.3" fill="#CD4B4B"/>
<circle cx="941.69" cy="1007.65" r="3.3" fill="#CD4B4B"/>
<circle cx="937" cy="1004.96" r="3.3" fill="#CD4B4B"/>
<circle cx="949.35" cy="1001.68" r="3.3" fill="#CD4B4B"/>
<circle cx="949.05" cy="1000.48" r="3.3" fill="#CD4B4B"/>
<circle cx="943.12" cy="998.52" r="3.3" fill="#CD4B4B"/>
<circle cx="944.28" cy="997.63" r="3.3" fill="#CD4B4B"/>
<circle cx="948.96" cy="994.62" r="3.3" fill="#CD4B4B"/>
<circle cx="949.73" cy="992.66" r="3.3" fill="#CD4B4B"/>
<circle cx="941.16" cy="987.83" r="3.3" fill="#CD4B4B"/>
<circle cx="952.53" cy="984.1" r="3.3" fill="#CD4B4B"/>
<circle cx="943.13" cy="979.3" r="3.3" fill="#CD4B4B"/>
<circle cx="948.39" cy="974.8" r="3.3" fill="#CD4B4B"/>
<circle cx="939.89" cy="977.08" r="3.3" fill="#CD4B4B"/>
<circle cx="938.63" cy="1024.2" r="3.3" fill="#2DB5BD"/>
<circle cx="953.78" cy="1024.2" r="3.3" fill="#2DB5BD"/>
<circle cx="950.39" cy="1024.2" r="3.3" fill="#2DB5BD"/>
<circle cx="949.98" cy="1024.2" r="3.3" fill="#2DB5BD"/>
<circle cx="937.21" cy="1024.2" r="3.3" fill="#2DB5BD"/>
<circle cx="937.2" cy="1024.2" r="3.3" fill="#2DB5BD"/>
<circle cx="939.52" cy="1024.2" r="3.3" fill="#2DB5BD"/>
<circle cx="940.2" cy="1024.2" r="3.3" fill="#2DB5BD"/>
<circle cx="942.2" cy="1024.2" r="3.3" fill="#2DB5BD"/>
<circle cx="943.67" cy="1024.2" r="3.3" fill="#2DB5BD"/>
<circle cx="937.19" cy="1024.2" r="3.3" fill="#2DB5BD"/>
<circle cx="942.35" cy="1024.2" r="3.3" fill="#2DB5BD"/>
<circle cx="948.57" cy="1024.19" r="3.3" fill="#2DB5BD"/>
<circle cx="939.85" cy="1024.16" r="3.3" fill="#2DB5BD"/>
<circle cx="952.39" cy="1024.09" r="3.3" fill="#2DB5BD"/>
<circle cx="947.27" cy="1024" r="3.3" fill="#2DB5BD"/>
<circle cx="950.06" cy="1023.97" r="3.3" fill="#2DB5BD"/>
<circle cx="941.28" cy="1023.9" r="3.3" fill="#2DB5BD"/>
<circle cx="944.7" cy="1023.82" r="3.3" fill="#2DB5BD"/>
<circle cx="949.44" cy="1023.76" r="3.3" fill="#2DB5BD"/>
<circle cx="943.07" cy="1023.73" r="3.3" fill="#2DB5BD"/>
<circle cx="936.46" cy="1023.66" r="3.3" fill="#2DB5BD"/>
<circle cx="952.29" cy="1023.58" r="3.3" fill="#2DB5BD"/>
<circle cx="951.19" cy="1023.54" r="3.3" fill="#2DB5BD"/>
<circle cx="941.88" cy="1023.45" r="3.3" fill="#2DB5BD"/>
<circle cx="937.26" cy="1023.18" r="3.3" fill="#2DB5BD"/>
<circle cx="952.67" cy="1021.63" r="3.3" fill="#2DB5BD"/>
<circle cx="947.98" cy="1021" r="3.3" fill="#2DB5BD"/>
<circle cx="937.34" cy="1020.25" r="3.3" fill="#2DB5BD"/>
<circle cx="941.08" cy="1019.1" r="3.3" fill="#2DB5BD"/>
<circle cx="938.55" cy="1018.38" r="3.3" fill="#2DB5BD"/>
<circle cx="951.48" cy="1016.96" r="3.3" fill="#2DB5BD"/>
<circle cx="940.43" cy="1016.33" r="3.3" fill="#2DB5BD"/>
<circle cx="953.82" cy="1014.86" r="3.3" fill="#2DB5BD"/>
<circle cx="950.68" cy="1014.13" r="3.3" fill="#2DB5BD"/>
<circle cx="938.08" cy="1013.33" r="3.3" fill="#2DB5BD"/>
<circle cx="949.64" cy="1012.45" r="3.3" fill="#2DB5BD"/>
<circle cx="943.92" cy="1011.28" r="3.3" fill="#2DB5BD"/>
<circle cx="950.64" cy="1011.15" r="3.3" fill="#2DB5BD"/>
<circle cx="952.19" cy="1010.34" r="3.3" fill="#2DB5BD"/>
<circle cx="941.78" cy="1010.03" r="3.3" fill="#2DB5BD"/>
<circle cx="938.15" cy="1008.73" r="3.3" fill="#2DB5BD"/>
<circle cx="954.42" cy="1007.44" r="3.3" fill="#2DB5BD"/>
<circle cx="944.5" cy="1006.29" r="3.3" fill="#2DB5BD"/>
<circle cx="954.11" cy="1003.93" r="3.3" fill="#2DB5BD"/>
<circle cx="949.58" cy="1002.61" r="3.3" fill="#2DB5BD"/>
<circle cx="950.47" cy="1000.06" r="3.3" fill="#2DB5BD"/>
<circle cx="952.21" cy="997.93" r="3.3" fill="#2DB5BD"/>
<circle cx="948.37" cy="995.97" r="3.3" fill="#2DB5BD"/>
<circle cx="945.04" cy="993.16" r="3.3" fill="#2DB5BD"/>
<circle cx="937.47" cy="982.4" r="3.3" fill="#2DB5BD"/>
<circle cx="980.05" cy="1019.72" r="3.3" fill="#CD4B4B"/>
<circle cx="988.64" cy="1016.46" r="3.3" fill="#CD4B4B"/>
<circle cx="992.59" cy="1012.48" r="3.3" fill="#CD4B4B"/>
<circle cx="994.13" cy="1008.28" r="3.3" fill="#CD4B4B"/>
<circle cx="979.72" cy="1007.31" r="3.3" fill="#CD4B4B"/>
<circle cx="991.43" cy="1003.95" r="3.3" fill="#CD4B4B"/>
<circle cx="992.3" cy="1003.24" r="3.3" fill="#CD4B4B"/>
<circle cx="990.62" cy="1001.58" r="3.3" fill="#CD4B4B"/>
<circle cx="982.73" cy="1000.26" r="3.3" fill="#CD4B4B"/>
<circle cx="980.03" cy="998.96" r="3.3" fill="#CD4B4B"/>
<circle cx="992.2" cy="996.13" r="3.3" fill="#CD4B4B"/>
<circle cx="982.6" cy="993.05" r="3.3" fill="#CD4B4B"/>
<circle cx="983.52" cy="991.36" r="3.3" fill="#CD4B4B"/>
<circle cx="986.99" cy="989.23" r="3.3" fill="#CD4B4B"/>
<circle cx="983.54" cy="987.47" r="3.3" fill="#CD4B4B"/>
<circle cx="992.32" cy="985.51" r="3.3" fill="#CD4B4B"/>
<circle cx="981.07" cy="982.66" r="3.3" fill="#CD4B4B"/>
<circle cx="977.3" cy="980.77" r="3.3" fill="#CD4B4B"/>
<circle cx="987.29" cy="979.32" r="3.3" fill="#CD4B4B"/>
<circle cx="988.46" cy="977.41" r="3.3" fill="#CD4B4B"/>
<circle cx="992.09" cy="975.91" r="3.3" fill="#CD4B4B"/>
<circle cx="989.93" cy="973.36" r="3.3" fill="#CD4B4B"/>
<circle cx="993.72" cy="971.66" r="3.3" fill="#CD4B4B"/>
<circle cx="994.47" cy="970.51" r="3.3" fill="#CD4B4B"/>
<circle cx="985.91" cy="968.76" r="3.3" fill="#CD4B4B"/>
<circle cx="986.01" cy="967.45" r="3.3" fill="#CD4B4B"/>
<circle cx="979.51" cy="965.8" r="3.3" fill="#CD4B4B"/>
<circle cx="982.21" cy="961.64" r="3.3" fill="#CD4B4B"/>
<circle cx="987.56" cy="959.55" r="3.3" fill="#CD4B4B"/>
<circle cx="978.04" cy="955.13" r="3.3" fill="#CD4B4B"/>
<circle cx="989.59" cy="946.82" r="3.3" fill="#CD4B4B"/>
<circle cx="979.63" cy="944.2" r="3.3" fill="#CD4B4B"/>
<circle cx="984.94" cy="934.64" r="3.3" fill="#CD4B4B"/>
<circle cx="994.95" cy="1011.17" r="3.3" fill="#2DB5BD"/>
<circle cx="978.22" cy="1005.38" r="3.3" fill="#2DB5BD"/>
<circle cx="977.28" cy="1002.35" r="3.3" fill="#2DB5BD"/>
<circle cx="984.87" cy="998.18" r="3.3" fill="#2DB5BD"/>
<circle cx="980.15" cy="996.44" r="3.3" fill="#2DB5BD"/>
<circle cx="990.26" cy="992.24" r="3.3" fill="#2DB5BD"/>
<circle cx="976.57" cy="989.76" r="3.3" fill="#2DB5BD"/>
<circle cx="992.5" cy="987.7" r="3.3" fill="#2DB5BD"/>
<circle cx="992.77" cy="985.27" r="3.3" fill="#2DB5BD"/>
<circle cx="991.47" cy="983.66" r="3.3" fill="#2DB5BD"/>
<circle cx="984.6" cy="983.13" r="3.3" fill="#2DB5BD"/>
<circle cx="981.9" cy="982.08" r="3.3" fill="#2DB5BD"/>
<circle cx="989.09" cy="981.65" r="3.3" fill="#2DB5BD"/>
<circle cx="986.3" cy="980.48" r="3.3" fill="#2DB5BD"/>
<circle cx="984.52" cy="979.13" r="3.3" fill="#2DB5BD"/>
<circle cx="982.95" cy="977.35" r="3.3" fill="#2DB5BD"/>
<circle cx="984.86" cy="975.93" r="3.3" fill="#2DB5BD"/>
<circle cx="989.18" cy="973.79" r="3.3" fill="#2DB5BD"/>
<circle cx="992.22" cy="972.58" r="3.3" fill="#2DB5BD"/>
<circle cx="993.7" cy="971.47" r="3.3" fill="#2DB5BD"/>
<circle cx="979.64" cy="969.69" r="3.3" fill="#2DB5BD"/>
<circle cx="982.14" cy="968" r="3.3" fill="#2DB5BD"/>
<circle cx="984.94" cy="966.61" r="3.3" fill="#2DB5BD"/>
<circle cx="987.22" cy="965.32" r="3.3" fill="#2DB5BD"/>
<circle cx="983.13" cy="963.92" r="3.3" fill="#2DB5BD"/>
<circle cx="980.23" cy="962.45" r="3.3" fill="#2DB5BD"/>
<circle cx="978.14" cy="959.3" r="3.3" fill="#2DB5BD"/>
<circle cx="982.67" cy="957.88" r="3.3" fill="#2DB5BD"/>
<circle cx="985.27" cy="957.06" r="3.3" fill="#2DB5BD"/>
<circle cx="994.97" cy="954.4" r="3.3" fill="#2DB5BD"/>
<circle cx="993.79" cy="952.27" r="3.3" fill="#2DB5BD"/>
<circle cx="992.96" cy="951.09" r="3.3" fill="#2DB5BD"/>
<circle cx="995.03" cy="949.97" r="3.3" fill="#2DB5BD"/>
<circle cx="994.79" cy="947.67" r="3.3" fill="#2DB5BD"/>
<circle cx="988.3" cy="945.98" r="3.3" fill="#2DB5BD"/>
<circle cx="991.93" cy="944.56" r="3.3" fill="#2DB5BD"/>
<circle cx="977.66" cy="942.3" r="3.3" fill="#2DB5BD"/>
<circle cx="989.37" cy="941.29" r="3.3" fill="#2DB5BD"/>
<circle cx="988.09" cy="939.76" r="3.3" fill="#2DB5BD"/>
<circle cx="982.16" cy="938.67" r="3.3" fill="#2DB5BD"/>
<circle cx="987.37" cy="936.76" r="3.3" fill="#2DB5BD"/>
<circle cx="994.62" cy="933.56" r="3.3" fill="#2DB5BD"/>
<circle cx="985.65" cy="931.14" r="3.3" fill="#2DB5BD"/>
<circle cx="988.82" cy="928.77" r="3.3" fill="#2DB5BD"/>
<circle cx="982.21" cy="924.86" r="3.3" fill="#2DB5BD"/>
<circle cx="983.04" cy="920.85" r="3.3" fill="#2DB5BD"/>
<circle cx="993.34" cy="916.45" r="3.3" fill="#2DB5BD"/>
<circle cx="977.05" cy="907.81" r="3.3" fill="#2DB5BD"/>
<circle cx="980.11" cy="901.48" r="3.3" fill="#2DB5BD"/>
<circle cx="989.41" cy="897.88" r="3.3" fill="#2DB5BD"/>
<circle cx="1032.53" cy="1022.79" r="3.3" fill="#CD4B4B"/>
<circle cx="1027.65" cy="1020.73" r="3.3" fill="#CD4B4B"/>
<circle cx="1018.76" cy="1017" r="3.3" fill="#CD4B4B"/>
<circle cx="1017" cy="1015.31" r="3.3" fill="#CD4B4B"/>
<circle cx="1018.7" cy="1013.15" r="3.3" fill="#CD4B4B"/>
<circle cx="1031.81" cy="1011.85" r="3.3" fill="#CD4B4B"/>
<circle cx="1020.12" cy="1010.62" r="3.3" fill="#CD4B4B"/>
<circle cx="1027.13" cy="1009.93" r="3.3" fill="#CD4B4B"/>
<circle cx="1022.11" cy="1009.18" r="3.3" fill="#CD4B4B"/>
<circle cx="1029.66" cy="1006.46" r="3.3" fill="#CD4B4B"/>
<circle cx="1023.84" cy="1002.78" r="3.3" fill="#CD4B4B"/>
<circle cx="1019.34" cy="997.29" r="3.3" fill="#CD4B4B"/>
<circle cx="1033.23" cy="994.75" r="3.3" fill="#CD4B4B"/>
<circle cx="1026.83" cy="992.47" r="3.3" fill="#CD4B4B"/>
<circle cx="1029.7" cy="986.87" r="3.3" fill="#CD4B4B"/>
<circle cx="1031.96" cy="985.07" r="3.3" fill="#CD4B4B"/>
<circle cx="1034.63" cy="982.01" r="3.3" fill="#CD4B4B"/>
<circle cx="1016.86" cy="977.91" r="3.3" fill="#CD4B4B"/>
<circle cx="1023.1" cy="975.65" r="3.3" fill="#CD4B4B"/>
<circle cx="1019.47" cy="972.2" r="3.3" fill="#CD4B4B"/>
<circle cx="1026.13" cy="969.15" r="3.3" fill="#CD4B4B"/>
<circle cx="1033.19" cy="967.01" r="3.3" fill="#CD4B4B"/>
<circle cx="1031.81" cy="963.3" r="3.3" fill="#CD4B4B"/>
<circle cx="1017.27" cy="961.47" r="3.3" fill="#CD4B4B"/>
<circle cx="1020.06" cy="957.63" r="3.3" fill="#CD4B4B"/>
<circle cx="1032.15" cy="956.09" r="3.3" fill="#CD4B4B"/>
<circle cx="1029.51" cy="954.67" r="3.3" fill="#CD4B4B"/>
<circle cx="1024.06" cy="949.78" r="3.3" fill="#CD4B4B"/>
<circle cx="1025.64" cy="945.87" r="3.3" fill="#CD4B4B"/>
<circle cx="1019.61" cy="937.19" r="3.3" fill="#CD4B4B"/>
<circle cx="1032.66" cy="925.93" r="3.3" fill="#CD4B4B"/>
<circle cx="1024.07" cy="918.66" r="3.3" fill="#CD4B4B"/>
<circle cx="1033.19" cy="906.43" r="3.3" fill="#CD4B4B"/>
<circle cx="1028.21" cy="1017.94" r="3.3" fill="#2DB5BD"/>
<circle cx="1018.04" cy="1013.79" r="3.3" fill="#2DB5BD"/>
<circle cx="1022.86" cy="1000.4" r="3.3" fill="#2DB5BD"/>
<circle cx="1020.71" cy="994.81" r="3.3" fill="#2DB5BD"/>
<circle cx="1033.59" cy="991.43" r="3.3" fill="#2DB5BD"/>
<circle cx="1027.8" cy="981.85" r="3.3" fill="#2DB5BD"/>
<circle cx="1017.43" cy="978.39" r="3.3" fill="#2DB5BD"/>
<circle cx="1019.82" cy="974.41" r="3.3" fill="#2DB5BD"/>
<circle cx="1023.46" cy="967.94" r="3.3" fill="#2DB5BD"/>
<circle cx="1025.49" cy="965.81" r="3.3" fill="#2DB5BD"/>
<circle cx="1027.56" cy="963.01" r="3.3" fill="#2DB5BD"/>
<circle cx="1023.97" cy="962.18" r="3.3" fill="#2DB5BD"/>
<circle cx="1023.32" cy="960.45" r="3.3" fill="#2DB5BD"/>
<circle cx="1016.71" cy="959.16" r="3.3" fill="#2DB5BD"/>
<circle cx="1027.6" cy="955.68" r="3.3" fill="#2DB5BD"/>
<circle cx="1022.94" cy="952.31" r="3.3" fill="#2DB5BD"/>
<circle cx="1016.99" cy="950.14" r="3.3" fill="#2DB5BD"/>
<circle cx="1025.33" cy="945.69" r="3.3" fill="#2DB5BD"/>
<circle cx="1035.34" cy="943.58" r="3.3" fill="#2DB5BD"/>
<circle cx="1017.46" cy="940.33" r="3.3" fill="#2DB5BD"/>
<circle cx="1019.37" cy="936.3" r="3.3" fill="#2DB5BD"/>
<circle cx="1029.35" cy="933.94" r="3.3" fill="#2DB5BD"/>
<circle cx="1021.78" cy="929.77" r="3.3" fill="#2DB5BD"/>
<circle cx="1021.79" cy="927.39" r="3.3" fill="#2DB5BD"/>
<circle cx="1026.1" cy="923.73" r="3.3" fill="#2DB5BD"/>
<circle cx="1021.58" cy="920.31" r="3.3" fill="#2DB5BD"/>
<circle cx="1027.41" cy="913.75" r="3.3" fill="#2DB5BD"/>
<circle cx="1026.63" cy="908.84" r="3.3" fill="#2DB5BD"/>
<circle cx="1034.78" cy="906.6" r="3.3" fill="#2DB5BD"/>
<circle cx="1035.45" cy="899.13" r="3.3" fill="#2DB5BD"/>
<circle cx="1017.25" cy="895.68" r="3.3" fill="#2DB5BD"/>
<circle cx="1027.25" cy="888.85" r="3.3" fill="#2DB5BD"/>
<circle cx="1031.25" cy="884.08" r="3.3" fill="#2DB5BD"/>
<circle cx="1033.18" cy="878.38" r="3.3" fill="#2DB5BD"/>
<circle cx="1031.31" cy="876.14" r="3.3" fill="#2DB5BD"/>
<circle cx="1028.63" cy="870.01" r="3.3" fill="#2DB5BD"/>
<circle cx="1028.66" cy="863.42" r="3.3" fill="#2DB5BD"/>
<circle cx="1023.5" cy="859.13" r="3.3" fill="#2DB5BD"/>
<circle cx="1021.95" cy="857.97" r="3.3" fill="#2DB5BD"/>
<circle cx="1031.71" cy="856.92" r="3.3" fill="#2DB5BD"/>
<circle cx="1033.18" cy="851.88" r="3.3" fill="#2DB5BD"/>
<circle cx="1034.43" cy="849.1" r="3.3" fill="#2DB5BD"/>
<circle cx="1029.55" cy="841.36" r="3.3" fill="#2DB5BD"/>
<circle cx="1022.38" cy="832.93" r="3.3" fill="#2DB5BD"/>
<circle cx="1031.1" cy="829.43" r="3.3" fill="#2DB5BD"/>
<circle cx="1030.65" cy="814.89" r="3.3" fill="#2DB5BD"/>
<circle cx="1026.27" cy="806.93" r="3.3" fill="#2DB5BD"/>
<circle cx="1028.67" cy="799.9" r="3.3" fill="#2DB5BD"/>
<circle cx="1023.26" cy="789.13" r="3.3" fill="#2DB5BD"/>
<circle cx="1027.06" cy="774.38" r="3.3" fill="#2DB5BD"/>
<circle cx="1024.31" cy="766.56" r="3.3" fill="#2DB5BD"/>
<circle cx="1017.75" cy="789.36" r="3.3" fill="#2DB5BD"/>
<circle cx="1023.01" cy="800" r="3.3" fill="#2DB5BD"/>
<circle cx="1022.74" cy="805.32" r="3.3" fill="#2DB5BD"/>
<circle cx="1035.38" cy="812.16" r="3.3" fill="#2DB5BD"/>
<circle cx="1025.75" cy="822.8" r="3.3" fill="#2DB5BD"/>
<circle cx="1059.65" cy="1024.2" r="3.3" fill="#CD4B4B"/>
<circle cx="1059.39" cy="1024.2" r="3.3" fill="#CD4B4B"/>
<circle cx="1071.26" cy="1024.2" r="3.3" fill="#CD4B4B"/>
<circle cx="1058.39" cy="1024.2" r="3.3" fill="#CD4B4B"/>
<circle cx="1072.15" cy="1024.2" r="3.3" fill="#CD4B4B"/>
<circle cx="1064.72" cy="1024.2" r="3.3" fill="#CD4B4B"/>
<circle cx="1066.91" cy="1024.2" r="3.3" fill="#CD4B4B"/>
<circle cx="1067.86" cy="1024.2" r="3.3" fill="#CD4B4B"/>
<circle cx="1067.22" cy="1024.14" r="3.3" fill="#CD4B4B"/>
<circle cx="1069.17" cy="1023.84" r="3.3" fill="#CD4B4B"/>
<circle cx="1068.11" cy="1023.62" r="3.3" fill="#CD4B4B"/>
<circle cx="1062.97" cy="1023.38" r="3.3" fill="#CD4B4B"/>
<circle cx="1070.76" cy="1023.12" r="3.3" fill="#CD4B4B"/>
<circle cx="1061.58" cy="1022.79" r="3.3" fill="#CD4B4B"/>
<circle cx="1070.2" cy="1022.52" r="3.3" fill="#CD4B4B"/>
<circle cx="1071.18" cy="1022.15" r="3.3" fill="#CD4B4B"/>
<circle cx="1071.42" cy="1021.89" r="3.3" fill="#CD4B4B"/>
<circle cx="1062.56" cy="1020.93" r="3.3" fill="#CD4B4B"/>
<circle cx="1071.36" cy="1020.54" r="3.3" fill="#CD4B4B"/>
<circle cx="1075.25" cy="1019.46" r="3.3" fill="#CD4B4B"/>
<circle cx="1065.29" cy="1018.92" r="3.3" fill="#CD4B4B"/>
<circle cx="1061.97" cy="1018.48" r="3.3" fill="#CD4B4B"/>
<circle cx="1066.62" cy="1017.69" r="3.3" fill="#CD4B4B"/>
<circle cx="1074.56" cy="1016.71" r="3.3" fill="#CD4B4B"/>
<circle cx="1059.19" cy="1015.83" r="3.3" fill="#CD4B4B"/>
<circle cx="1056.85" cy="1015.74" r="3.3" fill="#CD4B4B"/>
<circle cx="1065.72" cy="1015.09" r="3.3" fill="#CD4B4B"/>
<circle cx="1069.13" cy="1014.52" r="3.3" fill="#CD4B4B"/>
<circle cx="1071.39" cy="1013.1" r="3.3" fill="#CD4B4B"/>
<circle cx="1063.57" cy="1012.65" r="3.3" fill="#CD4B4B"/>
<circle cx="1075.48" cy="1010.7" r="3.3" fill="#CD4B4B"/>
<circle cx="1061.02" cy="1008.36" r="3.3" fill="#CD4B4B"/>
<circle cx="1071.06" cy="1007.38" r="3.3" fill="#CD4B4B"/>
<circle cx="1058.39" cy="1024.17" r="3.3" fill="#2DB5BD"/>
<circle cx="1057.21" cy="1024.08" r="3.3" fill="#2DB5BD"/>
<circle cx="1059.23" cy="1023.97" r="3.3" fill="#2DB5BD"/>
<circle cx="1057.82" cy="1023.88" r="3.3" fill="#2DB5BD"/>
<circle cx="1066.22" cy="1023.77" r="3.3" fill="#2DB5BD"/>
<circle cx="1067.23" cy="1023.72" r="3.3" fill="#2DB5BD"/>
<circle cx="1060.13" cy="1023.65" r="3.3" fill="#2DB5BD"/>
<circle cx="1074.54" cy="1023.6" r="3.3" fill="#2DB5BD"/>
<circle cx="1063.63" cy="1023.53" r="3.3" fill="#2DB5BD"/>
<circle cx="1059.52" cy="1023.49" r="3.3" fill="#2DB5BD"/>
<circle cx="1060.05" cy="1023.47" r="3.3" fill="#2DB5BD"/>
<circle cx="1070.7" cy="1023.45" r="3.3" fill="#2DB5BD"/>
<circle cx="1074.19" cy="1023.34" r="3.3" fill="#2DB5BD"/>
<circle cx="1059.76" cy="1022.69" r="3.3" fill="#2DB5BD"/>
<circle cx="1057.23" cy="1022.3" r="3.3" fill="#2DB5BD"/>
<circle cx="1071.46" cy="1021.98" r="3.3" fill="#2DB5BD"/>
<circle cx="1061.29" cy="1021.12" r="3.3" fill="#2DB5BD"/>
<circle cx="1075.34" cy="1020.54" r="3.3" fill="#2DB5BD"/>
<circle cx="1066.16" cy="1020.23" r="3.3" fill="#2DB5BD"/>
<circle cx="1068.77" cy="1019.77" r="3.3" fill="#2DB5BD"/>
<circle cx="1063.22" cy="1019.2" r="3.3" fill="#2DB5BD"/>
<circle cx="1071.89" cy="1018.5" r="3.3" fill="#2DB5BD"/>
<circle cx="1065.42" cy="1017.8" r="3.3" fill="#2DB5BD"/>
<circle cx="1062.83" cy="1017.36" r="3.3" fill="#2DB5BD"/>
<circle cx="1073.85" cy="1016.69" r="3.3" fill="#2DB5BD"/>
<circle cx="1058.73" cy="1016.47" r="3.3" fill="#2DB5BD"/>
<circle cx="1070.61" cy="1015.94" r="3.3" fill="#2DB5BD"/>
<circle cx="1057.92" cy="1015.29" r="3.3" fill="#2DB5BD"/>
<circle cx="1068.94" cy="1014.84" r="3.3" fill="#2DB5BD"/>
<circle cx="1064.32" cy="1014.45" r="3.3" fill="#2DB5BD"/>
<circle cx="1073.1" cy="1013.86" r="3.3" fill="#2DB5BD"/>
<circle cx="1057.82" cy="1013.5" r="3.3" fill="#2DB5BD"/>
<circle cx="1067.4" cy="1013.12" r="3.3" fill="#2DB5BD"/>
<circle cx="1064.47" cy="1012.5" r="3.3" fill="#2DB5BD"/>
<circle cx="1074.14" cy="1012.16" r="3.3" fill="#2DB5BD"/>
<circle cx="1074.63" cy="1011.44" r="3.3" fill="#2DB5BD"/>
<circle cx="1068.6" cy="1011.07" r="3.3" fill="#2DB5BD"/>
<circle cx="1060.94" cy="1010.52" r="3.3" fill="#2DB5BD"/>
<circle cx="1061.47" cy="1010.34" r="3.3" fill="#2DB5BD"/>
<circle cx="1061.66" cy="1010.08" r="3.3" fill="#2DB5BD"/>
<circle cx="1064.92" cy="1009.43" r="3.3" fill="#2DB5BD"/>
<circle cx="1061.08" cy="1008.98" r="3.3" fill="#2DB5BD"/>
<circle cx="1060.54" cy="1007.4" r="3.3" fill="#2DB5BD"/>
<circle cx="1071.1" cy="1006.61" r="3.3" fill="#2DB5BD"/>
<circle cx="1068.89" cy="1004.91" r="3.3" fill="#2DB5BD"/>
<circle cx="1062.35" cy="1004.56" r="3.3" fill="#2DB5BD"/>
<circle cx="1075.57" cy="1002.38" r="3.3" fill="#2DB5BD"/>
<circle cx="1060.8" cy="1000.54" r="3.3" fill="#2DB5BD"/>
<circle cx="1067.5" cy="999.3" r="3.3" fill="#2DB5BD"/>
<circle cx="1059.66" cy="997.75" r="3.3" fill="#2DB5BD"/>
<circle cx="1073.08" cy="989.24" r="3.3" fill="#2DB5BD"/>
<circle cx="1073.2" cy="990" r="3.3" fill="#2DB5BD"/>
<circle cx="1061.76" cy="993.8" r="3.3" fill="#2DB5BD"/>
<circle cx="1115.42" cy="1024.2" r="3.3" fill="#CD4B4B"/>
<circle cx="1113.37" cy="1024.2" r="3.3" fill="#CD4B4B"/>
<circle cx="1110.4" cy="1024.2" r="3.3" fill="#CD4B4B"/>
<circle cx="1104.35" cy="1024.2" r="3.3" fill="#CD4B4B"/>
<circle cx="1102.81" cy="1024.2" r="3.3" fill="#CD4B4B"/>
<circle cx="1104.72" cy="1024.2" r="3.3" fill="#CD4B4B"/>
<circle cx="1115.25" cy="1024.2" r="3.3" fill="#CD4B4B"/>
<circle cx="1104.11" cy="1024.2" r="3.3" fill="#CD4B4B"/>
<circle cx="1104.08" cy="1024.2" r="3.3" fill="#CD4B4B"/>
<circle cx="1104.55" cy="1024.2" r="3.3" fill="#CD4B4B"/>
<circle cx="1099.48" cy="1024.2" r="3.3" fill="#CD4B4B"/>
<circle cx="1115.73" cy="1024.2" r="3.3" fill="#CD4B4B"/>
<circle cx="1096.86" cy="1024.2" r="3.3" fill="#CD4B4B"/>
<circle cx="1108.31" cy="1024.2" r="3.3" fill="#CD4B4B"/>
<circle cx="1114.36" cy="1024.2" r="3.3" fill="#CD4B4B"/>
<circle cx="1101.6" cy="1024.2" r="3.3" fill="#CD4B4B"/>
<circle cx="1108.37" cy="1024.2" r="3.3" fill="#CD4B4B"/>
<circle cx="1103.92" cy="1024.2" r="3.3" fill="#CD4B4B"/>
<circle cx="1101.33" cy="1024.2" r="3.3" fill="#CD4B4B"/>
<circle cx="1100.53" cy="1024.2" r="3.3" fill="#CD4B4B"/>
<circle cx="1098.97" cy="1024.2" r="3.3" fill="#CD4B4B"/>
<circle cx="1112.78" cy="1024.2" r="3.3" fill="#CD4B4B"/>
<circle cx="1111.66" cy="1024.2" r="3.3" fill="#CD4B4B"/>
<circle cx="1114.02" cy="1024.2" r="3.3" fill="#CD4B4B"/>
<circle cx="1097.7" cy="1024.2" r="3.3" fill="#CD4B4B"/>
<circle cx="1109.95" cy="1024.2" r="3.3" fill="#CD4B4B"/>
<circle cx="1102.92" cy="1024.2" r="3.3" fill="#CD4B4B"/>
<circle cx="1109.04" cy="1024.2" r="3.3" fill="#CD4B4B"/>
<circle cx="1107.19" cy="1024.2" r="3.3" fill="#CD4B4B"/>
<circle cx="1102.76" cy="1024.2" r="3.3" fill="#CD4B4B"/>
<circle cx="1115.22" cy="1024.2" r="3.3" fill="#CD4B4B"/>
<circle cx="1096.78" cy="1024.2" r="3.3" fill="#CD4B4B"/>
<circle cx="1110.94" cy="1024.2" r="3.3" fill="#CD4B4B"/>
<circle cx="1112.98" cy="1024.2" r="3.3" fill="#2DB5BD"/>
<circle cx="1106.45" cy="1024.2" r="3.3" fill="#2DB5BD"/>
<circle cx="1108.01" cy="1024.2" r="3.3" fill="#2DB5BD"/>
<circle cx="1115.66" cy="1024.2" r="3.3" fill="#2DB5BD"/>
<circle cx="1101.21" cy="1024.2" r="3.3" fill="#2DB5BD"/>
<circle cx="1108.72" cy="1024.2" r="3.3" fill="#2DB5BD"/>
<circle cx="1110.88" cy="1024.2" r="3.3" fill="#2DB5BD"/>
<circle cx="1103.96" cy="1024.2" r="3.3" fill="#2DB5BD"/>
<circle cx="1110.29" cy="1024.2" r="3.3" fill="#2DB5BD"/>
<circle cx="1104.24" cy="1024.2" r="3.3" fill="#2DB5BD"/>
<circle cx="1106.76" cy="1024.2" r="3.3" fill="#2DB5BD"/>
<circle cx="1108.4" cy="1024.2" r="3.3" fill="#2DB5BD"/>
<circle cx="1109.63" cy="1024.2" r="3.3" fill="#2DB5BD"/>
<circle cx="1102.88" cy="1024.2" r="3.3" fill="#2DB5BD"/>
<circle cx="1108.71" cy="1024.2" r="3.3" fill="#2DB5BD"/>
<circle cx="1107.08" cy="1024.2" r="3.3" fill="#2DB5BD"/>
<circle cx="1101" cy="1024.2" r="3.3" fill="#2DB5BD"/>
<circle cx="1108.4" cy="1024.2" r="3.3" fill="#2DB5BD"/>
<circle cx="1101.79" cy="1024.2" r="3.3" fill="#2DB5BD"/>
<circle cx="1114.03" cy="1024.2" r="3.3" fill="#2DB5BD"/>
<circle cx="1105.75" cy="1024.2" r="3.3" fill="#2DB5BD"/>
<circle cx="1110.47" cy="1024.2" r="3.3" fill="#2DB5BD"/>
<circle cx="1106.68" cy="1024.2" r="3.3" fill="#2DB5BD"/>
<circle cx="1105.82" cy="1024.2" r="3.3" fill="#2DB5BD"/>
<circle cx="1100.96" cy="1024.2" r="3.3" fill="#2DB5BD"/>
<circle cx="1099.46" cy="1024.2" r="3.3" fill="#2DB5BD"/>
<circle cx="1114.38" cy="1024.2" r="3.3" fill="#2DB5BD"/>
<circle cx="1106.81" cy="1024.2" r="3.3" fill="#2DB5BD"/>
<circle cx="1106.71" cy="1024.2" r="3.3" fill="#2DB5BD"/>
<circle cx="1106.78" cy="1024.2" r="3.3" fill="#2DB5BD"/>
<circle cx="1112.21" cy="1024.2" r="3.3" fill="#2DB5BD"/>
<circle cx="1101.29" cy="1024.2" r="3.3" fill="#2DB5BD"/>
<circle cx="1100.03" cy="1024.2" r="3.3" fill="#2DB5BD"/>
<circle cx="1112.38" cy="1024.2" r="3.3" fill="#2DB5BD"/>
<circle cx="1105.51" cy="1024.2" r="3.3" fill="#2DB5BD"/>
<circle cx="1108.93" cy="1024.2" r="3.3" fill="#2DB5BD"/>
<circle cx="1112.48" cy="1024.2" r="3.3" fill="#2DB5BD"/>
<circle cx="1113.75" cy="1024.2" r="3.3" fill="#2DB5BD"/>
<circle cx="1113.25" cy="1024.2" r="3.3" fill="#2DB5BD"/>
<circle cx="1097.58" cy="1024.2" r="3.3" fill="#2DB5BD"/>
<circle cx="1104" cy="1024.2" r="3.3" fill="#2DB5BD"/>
<circle cx="1112.57" cy="1024.2" r="3.3" fill="#2DB5BD"/>
<circle cx="1112.3" cy="1024.2" r="3.3" fill="#2DB5BD"/>
<circle cx="1099.1" cy="1024.2" r="3.3" fill="#2DB5BD"/>
<circle cx="1099.68" cy="1024.2" r="3.3" fill="#2DB5BD"/>
<circle cx="1101.54" cy="1024.2" r="3.3" fill="#2DB5BD"/>
<circle cx="1098.71" cy="1024.2" r="3.3" fill="#2DB5BD"/>
<circle cx="1103.54" cy="1024.2" r="3.3" fill="#2DB5BD"/>
<circle cx="1112.02" cy="1024.2" r="3.3" fill="#2DB5BD"/>
<circle cx="1106.67" cy="1024.2" r="3.3" fill="#2DB5BD"/>
<circle cx="1105.36" cy="997.6" r="3.3" fill="#2DB5BD"/>
<circle cx="1098.43" cy="1002.92" r="3.3" fill="#2DB5BD"/>
<circle cx="1104.28" cy="1007.48" r="3.3" fill="#2DB5BD"/>
<circle cx="1115.7" cy="1008.24" r="3.3" fill="#2DB5BD"/>
<circle cx="1147.56" cy="1018.88" r="3.3" fill="#CD4B4B"/>
<circle cx="1137.89" cy="1012.85" r="3.3" fill="#CD4B4B"/>
<circle cx="1149.78" cy="1005.97" r="3.3" fill="#CD4B4B"/>
<circle cx="1150.35" cy="998.77" r="3.3" fill="#CD4B4B"/>
<circle cx="1146.01" cy="994.2" r="3.3" fill="#CD4B4B"/>
<circle cx="1137.88" cy="992.15" r="3.3" fill="#CD4B4B"/>
<circle cx="1149.97" cy="987.84" r="3.3" fill="#CD4B4B"/>
<circle cx="1144.78" cy="986.47" r="3.3" fill="#CD4B4B"/>
<circle cx="1147.93" cy="983.82" r="3.3" fill="#CD4B4B"/>
<circle cx="1155.8" cy="978.01" r="3.3" fill="#CD4B4B"/>
<circle cx="1152.36" cy="969.7" r="3.3" fill="#CD4B4B"/>
<circle cx="1153.41" cy="962.38" r="3.3" fill="#CD4B4B"/>
<circle cx="1139.6" cy="954.63" r="3.3" fill="#CD4B4B"/>
<circle cx="1143.19" cy="949.3" r="3.3" fill="#CD4B4B"/>
<circle cx="1146.69" cy="940.69" r="3.3" fill="#CD4B4B"/>
<circle cx="1136.95" cy="930.96" r="3.3" fill="#CD4B4B"/>
<circle cx="1155.62" cy="926.54" r="3.3" fill="#CD4B4B"/>
<circle cx="1142.06" cy="919.91" r="3.3" fill="#CD4B4B"/>
<circle cx="1141.82" cy="912.26" r="3.3" fill="#CD4B4B"/>
<circle cx="1142.79" cy="908.81" r="3.3" fill="#CD4B4B"/>
<circle cx="1141.69" cy="903.26" r="3.3" fill="#CD4B4B"/>
<circle cx="1153.16" cy="898.27" r="3.3" fill="#CD4B4B"/>
<circle cx="1147.4" cy="890.39" r="3.3" fill="#CD4B4B"/>
<circle cx="1146.55" cy="888.23" r="3.3" fill="#CD4B4B"/>
<circle cx="1144.82" cy="880.55" r="3.3" fill="#CD4B4B"/>
<circle cx="1137.81" cy="878.58" r="3.3" fill="#CD4B4B"/>
<circle cx="1142.63" cy="877.4" r="3.3" fill="#CD4B4B"/>
<circle cx="1153.31" cy="873.03" r="3.3" fill="#CD4B4B"/>
<circle cx="1152.08" cy="866.07" r="3.3" fill="#CD4B4B"/>
<circle cx="1153.12" cy="860.27" r="3.3" fill="#CD4B4B"/>
<circle cx="1141.72" cy="854.06" r="3.3" fill="#CD4B4B"/>
<circle cx="1140.68" cy="847.69" r="3.3" fill="#CD4B4B"/>
<circle cx="1137.83" cy="834.78" r="3.3" fill="#CD4B4B"/>
<circle cx="1147.04" cy="828.88" r="3.3" fill="#CD4B4B"/>
<circle cx="1143.94" cy="1018.31" r="3.3" fill="#2DB5BD"/>
<circle cx="1145.66" cy="1009.58" r="3.3" fill="#2DB5BD"/>
<circle cx="1146.13" cy="1005.33" r="3.3" fill="#2DB5BD"/>
<circle cx="1147.93" cy="998.85" r="3.3" fill="#2DB5BD"/>
<circle cx="1143.79" cy="992.44" r="3.3" fill="#2DB5BD"/>
<circle cx="1152.07" cy="987.04" r="3.3" fill="#2DB5BD"/>
<circle cx="1140.65" cy="984.31" r="3.3" fill="#2DB5BD"/>
<circle cx="1154.31" cy="980.35" r="3.3" fill="#2DB5BD"/>
<circle cx="1147.41" cy="976.6" r="3.3" fill="#2DB5BD"/>
<circle cx="1137.81" cy="973.38" r="3.3" fill="#2DB5BD"/>
<circle cx="1142.81" cy="972.56" r="3.3" fill="#2DB5BD"/>
<circle cx="1146.97" cy="970.47" r="3.3" fill="#2DB5BD"/>
<circle cx="1144.61" cy="969.77" r="3.3" fill="#2DB5BD"/>
<circle cx="1147.57" cy="967.73" r="3.3" fill="#2DB5BD"/>
<circle cx="1142.99" cy="964.28" r="3.3" fill="#2DB5BD"/>
<circle cx="1142.04" cy="962.23" r="3.3" fill="#2DB5BD"/>
<circle cx="1151.97" cy="960.01" r="3.3" fill="#2DB5BD"/>
<circle cx="1142.38" cy="955.68" r="3.3" fill="#2DB5BD"/>
<circle cx="1150.34" cy="953.73" r="3.3" fill="#2DB5BD"/>
<circle cx="1152.09" cy="950.6" r="3.3" fill="#2DB5BD"/>
<circle cx="1148.09" cy="947.87" r="3.3" fill="#2DB5BD"/>
<circle cx="1145.48" cy="944.17" r="3.3" fill="#2DB5BD"/>
<circle cx="1154.6" cy="941.7" r="3.3" fill="#2DB5BD"/>
<circle cx="1145.29" cy="940.54" r="3.3" fill="#2DB5BD"/>
<circle cx="1153.52" cy="936.47" r="3.3" fill="#2DB5BD"/>
<circle cx="1137.94" cy="933.74" r="3.3" fill="#2DB5BD"/>
<circle cx="1145.08" cy="930.45" r="3.3" fill="#2DB5BD"/>
<circle cx="1148.99" cy="926.18" r="3.3" fill="#2DB5BD"/>
<circle cx="1137.77" cy="924.01" r="3.3" fill="#2DB5BD"/>
<circle cx="1153.23" cy="920.57" r="3.3" fill="#2DB5BD"/>
<circle cx="1138.21" cy="916.2" r="3.3" fill="#2DB5BD"/>
<circle cx="1148.17" cy="914.1" r="3.3" fill="#2DB5BD"/>
<circle cx="1140.26" cy="910.68" r="3.3" fill="#2DB5BD"/>
<circle cx="1154.37" cy="907.34" r="3.3" fill="#2DB5BD"/>
<circle cx="1147.5" cy="903.24" r="3.3" fill="#2DB5BD"/>
<circle cx="1152.05" cy="900.36" r="3.3" fill="#2DB5BD"/>
<circle cx="1146.31" cy="896.89" r="3.3" fill="#2DB5BD"/>
<circle cx="1149.64" cy="894.5" r="3.3" fill="#2DB5BD"/>
<circle cx="1149.66" cy="894.04" r="3.3" fill="#2DB5BD"/>
<circle cx="1142.44" cy="892.4" r="3.3" fill="#2DB5BD"/>
<circle cx="1140.85" cy="890.77" r="3.3" fill="#2DB5BD"/>
<circle cx="1152.77" cy="888.01" r="3.3" fill="#2DB5BD"/>
<circle cx="1139.61" cy="885.1" r="3.3" fill="#2DB5BD"/>
<circle cx="1154.28" cy="883.53" r="3.3" fill="#2DB5BD"/>
<circle cx="1140.77" cy="879.6" r="3.3" fill="#2DB5BD"/>
<circle cx="1138.76" cy="875.98" r="3.3" fill="#2DB5BD"/>
<circle cx="1138.65" cy="868.58" r="3.3" fill="#2DB5BD"/>
<circle cx="1151.74" cy="866.41" r="3.3" fill="#2DB5BD"/>
<circle cx="1154.91" cy="861.09" r="3.3" fill="#2DB5BD"/>
<circle cx="1144.72" cy="852.03" r="3.3" fill="#2DB5BD"/>
<circle cx="1183.62" cy="1024.2" r="3.3" fill="#CD4B4B"/>
<circle cx="1184.04" cy="1024.2" r="3.3" fill="#CD4B4B"/>
<circle cx="1189.52" cy="1024.2" r="3.3" fill="#CD4B4B"/>
<circle cx="1180.03" cy="1024.2" r="3.3" fill="#CD4B4B"/>
<circle cx="1180.14" cy="1024.2" r="3.3" fill="#CD4B4B"/>
<circle cx="1194.81" cy="1024.2" r="3.3" fill="#CD4B4B"/>
<circle cx="1183.22" cy="1024.2" r="3.3" fill="#CD4B4B"/>
<circle cx="1192.92" cy="1024.2" r="3.3" fill="#CD4B4B"/>
<circle cx="1193.52" cy="1024.2" r="3.3" fill="#CD4B4B"/>
<circle cx="1186.04" cy="1024.2" r="3.3" fill="#CD4B4B"/>
<circle cx="1179.75" cy="1024.2" r="3.3" fill="#CD4B4B"/>
<circle cx="1178.71" cy="1024.2" r="3.3" fill="#CD4B4B"/>
<circle cx="1193.62" cy="1024.2" r="3.3" fill="#CD4B4B"/>
<circle cx="1179.14" cy="1024.2" r="3.3" fill="#CD4B4B"/>
<circle cx="1186.35" cy="1024.2" r="3.3" fill="#CD4B4B"/>
<circle cx="1187.1" cy="1024.2" r="3.3" fill="#CD4B4B"/>
<circle cx="1179.15" cy="1024.2" r="3.3" fill="#CD4B4B"/>
<circle cx="1185.81" cy="1024.2" r="3.3" fill="#CD4B4B"/>
<circle cx="1180.04" cy="1024.2" r="3.3" fill="#CD4B4B"/>
<circle cx="1187.09" cy="1024.2" r="3.3" fill="#CD4B4B"/>
<circle cx="1186.55" cy="1024.2" r="3.3" fill="#CD4B4B"/>
<circle cx="1183.89" cy="1024.2" r="3.3" fill="#CD4B4B"/>
<circle cx="1180.68" cy="1024.2" r="3.3" fill="#CD4B4B"/>
<circle cx="1184.59" cy="1024.2" r="3.3" fill="#CD4B4B"/>
<circle cx="1180.79" cy="1024.2" r="3.3" fill="#CD4B4B"/>
<circle cx="1179.34" cy="1024.2" r="3.3" fill="#CD4B4B"/>
<circle cx="1181.48" cy="1024.2" r="3.3" fill="#CD4B4B"/>
<circle cx="1193.48" cy="1024.2" r="3.3" fill="#CD4B4B"/>
<circle cx="1186.45" cy="1024.2" r="3.3" fill="#CD4B4B"/>
<circle cx="1193.84" cy="1024.2" r="3.3" fill="#CD4B4B"/>
<circle cx="1177.21" cy="1024.2" r="3.3" fill="#CD4B4B"/>
<circle cx="1194.84" cy="1024.2" r="3.3" fill="#CD4B4B"/>
<circle cx="1186.2" cy="1024.2" r="3.3" fill="#CD4B4B"/>
<circle cx="1191.95" cy="1024.2" r="3.3" fill="#2DB5BD"/>
<circle cx="1187.76" cy="1024.2" r="3.3" fill="#2DB5BD"/>
<circle cx="1190.01" cy="1024.2" r="3.3" fill="#2DB5BD"/>
<circle cx="1181.28" cy="1024.2" r="3.3" fill="#2DB5BD"/>
<circle cx="1191.17" cy="1024.2" r="3.3" fill="#2DB5BD"/>
<circle cx="1179.84" cy="1024.2" r="3.3" fill="#2DB5BD"/>
<circle cx="1181.94" cy="1024.2" r="3.3" fill="#2DB5BD"/>
<circle cx="1177.51" cy="1024.2" r="3.3" fill="#2DB5BD"/>
<circle cx="1184.39" cy="1024.2" r="3.3" fill="#2DB5BD"/>
<circle cx="1186.76" cy="1024.2" r="3.3" fill="#2DB5BD"/>
<circle cx="1182.47" cy="1024.2" r="3.3" fill="#2DB5BD"/>
<circle cx="1193.84" cy="1024.2" r="3.3" fill="#2DB5BD"/>
<circle cx="1178.52" cy="1024.2" r="3.3" fill="#2DB5BD"/>
<circle cx="1187.91" cy="1024.2" r="3.3" fill="#2DB5BD"/>
<circle cx="1181.36" cy="1024.2" r="3.3" fill="#2DB5BD"/>
<circle cx="1188.23" cy="1024.2" r="3.3" fill="#2DB5BD"/>
<circle cx="1191.82" cy="1024.2" r="3.3" fill="#2DB5BD"/>
<circle cx="1190.43" cy="1024.2" r="3.3" fill="#2DB5BD"/>
<circle cx="1178.1" cy="1024.2" r="3.3" fill="#2DB5BD"/>
<circle cx="1181.59" cy="1024.2" r="3.3" fill="#2DB5BD"/>
<circle cx="1188.3" cy="1024.2" r="3.3" fill="#2DB5BD"/>
<circle cx="1195.6" cy="1024.2" r="3.3" fill="#2DB5BD"/>
<circle cx="1177.7" cy="1024.2" r="3.3" fill="#2DB5BD"/>
<circle cx="1188.67" cy="1024.2" r="3.3" fill="#2DB5BD"/>
<circle cx="1190.06" cy="1024.2" r="3.3" fill="#2DB5BD"/>
<circle cx="1192.4" cy="1024.2" r="3.3" fill="#2DB5BD"/>
<circle cx="1183.42" cy="1024.2" r="3.3" fill="#2DB5BD"/>
<circle cx="1192.32" cy="1024.2" r="3.3" fill="#2DB5BD"/>
<circle cx="1185.69" cy="1024.2" r="3.3" fill="#2DB5BD"/>
<circle cx="1194.42" cy="1024.2" r="3.3" fill="#2DB5BD"/>
<circle cx="1177.12" cy="1024.2" r="3.3" fill="#2DB5BD"/>
<circle cx="1194.79" cy="1024.2" r="3.3" fill="#2DB5BD"/>
<circle cx="1184.75" cy="1024.2" r="3.3" fill="#2DB5BD"/>
<circle cx="1184.65" cy="1024.2" r="3.3" fill="#2DB5BD"/>
<circle cx="1178.59" cy="1024.2" r="3.3" fill="#2DB5BD"/>
<circle cx="1181.57" cy="1024.2" r="3.3" fill="#2DB5BD"/>
<circle cx="1190.86" cy="1024.2" r="3.3" fill="#2DB5BD"/>
<circle cx="1189.82" cy="1024.2" r="3.3" fill="#2DB5BD"/>
<circle cx="1179.79" cy="1024.2" r="3.3" fill="#2DB5BD"/>
<circle cx="1183.46" cy="1024.2" r="3.3" fill="#2DB5BD"/>
<circle cx="1179.59" cy="1024.2" r="3.3" fill="#2DB5BD"/>
<circle cx="1180.69" cy="1024.2" r="3.3" fill="#2DB5BD"/>
<circle cx="1181.09" cy="1024.2" r="3.3" fill="#2DB5BD"/>
<circle cx="1183.21" cy="1024.2" r="3.3" fill="#2DB5BD"/>
<circle cx="1195.46" cy="1024.2" r="3.3" fill="#2DB5BD"/>
<circle cx="1195.87" cy="1024.2" r="3.3" fill="#2DB5BD"/>
<circle cx="1191.96" cy="1024.2" r="3.3" fill="#2DB5BD"/>
<circle cx="1186.03" cy="1024.2" r="3.3" fill="#2DB5BD"/>
<circle cx="1186.37" cy="1024.2" r="3.3" fill="#2DB5BD"/>
<circle cx="1191.73" cy="1024.2" r="3.3" fill="#2DB5BD"/>
<circle cx="1235.2" cy="1024.2" r="3.3" fill="#CD4B4B"/>
<circle cx="1223.89" cy="1024.2" r="3.3" fill="#CD4B4B"/>
<circle cx="1221.26" cy="1024.2" r="3.3" fill="#CD4B4B"/>
<circle cx="1233.91" cy="1024.2" r="3.3" fill="#CD4B4B"/>
<circle cx="1228.59" cy="1024.2" r="3.3" fill="#CD4B4B"/>
<circle cx="1233.98" cy="1024.2" r="3.3" fill="#CD4B4B"/>
<circle cx="1224.49" cy="1024.2" r="3.3" fill="#CD4B4B"/>
<circle cx="1226.49" cy="1024.2" r="3.3" fill="#CD4B4B"/>
<circle cx="1235.16" cy="1024.2" r="3.3" fill="#CD4B4B"/>
<circle cx="1226.63" cy="1024.2" r="3.3" fill="#CD4B4B"/>
<circle cx="1235.78" cy="1024.2" r="3.3" fill="#CD4B4B"/>
<circle cx="1220.6" cy="1024.2" r="3.3" fill="#CD4B4B"/>
<circle cx="1232.78" cy="1024.2" r="3.3" fill="#CD4B4B"/>
<circle cx="1220.08" cy="1024.2" r="3.3" fill="#CD4B4B"/>
<circle cx="1227.02" cy="1024.2" r="3.3" fill="#CD4B4B"/>
<circle cx="1217.01" cy="1024.2" r="3.3" fill="#CD4B4B"/>
<circle cx="1220.33" cy="1024.2" r="3.3" fill="#CD4B4B"/>
<circle cx="1234.96" cy="1024.2" r="3.3" fill="#CD4B4B"/>
<circle cx="1225.64" cy="1024.2" r="3.3" fill="#CD4B4B"/>
<circle cx="1232.38" cy="1024.2" r="3.3" fill="#CD4B4B"/>
<circle cx="1221.77" cy="1024.2" r="3.3" fill="#CD4B4B"/>
<circle cx="1223.69" cy="1024.2" r="3.3" fill="#CD4B4B"/>
<circle cx="1218.92" cy="1024.2" r="3.3" fill="#CD4B4B"/>
<circle cx="1227.5" cy="1024.2" r="3.3" fill="#CD4B4B"/>
<circle cx="1233.38" cy="1024.2" r="3.3" fill="#CD4B4B"/>
<circle cx="1226.76" cy="1024.2" r="3.3" fill="#CD4B4B"/>
<circle cx="1224.16" cy="1024.2" r="3.3" fill="#CD4B4B"/>
<circle cx="1234.64" cy="1024.2" r="3.3" fill="#CD4B4B"/>
<circle cx="1233.98" cy="1024.2" r="3.3" fill="#CD4B4B"/>
<circle cx="1229.66" cy="1024.2" r="3.3" fill="#CD4B4B"/>
<circle cx="1218.44" cy="1024.2" r="3.3" fill="#CD4B4B"/>
<circle cx="1228.86" cy="1024.2" r="3.3" fill="#CD4B4B"/>
<circle cx="1225.44" cy="1024.2" r="3.3" fill="#CD4B4B"/>
<circle cx="1235.2" cy="1024.2" r="3.3" fill="#2DB5BD"/>
<circle cx="1223.87" cy="1024.2" r="3.3" fill="#2DB5BD"/>
<circle cx="1229.56" cy="1024.2" r="3.3" fill="#2DB5BD"/>
<circle cx="1229.01" cy="1024.2" r="3.3" fill="#2DB5BD"/>
<circle cx="1224.14" cy="1024.2" r="3.3" fill="#2DB5BD"/>
<circle cx="1226.92" cy="1024.2" r="3.3" fill="#2DB5BD"/>
<circle cx="1229.85" cy="1024.2" r="3.3" fill="#2DB5BD"/>
<circle cx="1234.24" cy="1024.2" r="3.3" fill="#2DB5BD"/>
<circle cx="1226.46" cy="1024.2" r="3.3" fill="#2DB5BD"/>
<circle cx="1223.91" cy="1024.2" r="3.3" fill="#2DB5BD"/>
<circle cx="1235.55" cy="1024.2" r="3.3" fill="#2DB5BD"/>
<circle cx="1218.08" cy="1024.2" r="3.3" fill="#2DB5BD"/>
<circle cx="1232.86" cy="1024.2" r="3.3" fill="#2DB5BD"/>
<circle cx="1229.99" cy="1024.2" r="3.3" fill="#2DB5BD"/>
<circle cx="1227.59" cy="1024.2" r="3.3" fill="#2DB5BD"/>
<circle cx="1225.51" cy="1024.2" r="3.3" fill="#2DB5BD"/>
<circle cx="1231.27" cy="1024.2" r="3.3" fill="#2DB5BD"/>
<circle cx="1233.93" cy="1024.2" r="3.3" fill="#2DB5BD"/>
<circle cx="1230.85" cy="1024.2" r="3.3" fill="#2DB5BD"/>
<circle cx="1231.25" cy="1024.2" r="3.3" fill="#2DB5BD"/>
<circle cx="1217.67" cy="1024.2" r="3.3" fill="#2DB5BD"/>
<circle cx="1223.18" cy="1024.2" r="3.3" fill="#2DB5BD"/>
<circle cx="1219.6" cy="1024.2" r="3.3" fill="#2DB5BD"/>
<circle cx="1235.11" cy="1024.2" r="3.3" fill="#2DB5BD"/>
<circle cx="1233.94" cy="1024.2" r="3.3" fill="#2DB5BD"/>
<circle cx="1219.75" cy="1024.2" r="3.3" fill="#2DB5BD"/>
<circle cx="1228.16" cy="1024.2" r="3.3" fill="#2DB5BD"/>
<circle cx="1227.96" cy="1024.2" r="3.3" fill="#2DB5BD"/>
<circle cx="1217.89" cy="1024.2" r="3.3" fill="#2DB5BD"/>
<circle cx="1224.45" cy="1024.2" r="3.3" fill="#2DB5BD"/>
<circle cx="1231.2" cy="1024.2" r="3.3" fill="#2DB5BD"/>
<circle cx="1229.19" cy="1024.2" r="3.3" fill="#2DB5BD"/>
<circle cx="1222.34" cy="1024.2" r="3.3" fill="#2DB5BD"/>
<circle cx="1231.49" cy="1024.2" r="3.3" fill="#2DB5BD"/>
<circle cx="1222.53" cy="1024.2" r="3.3" fill="#2DB5BD"/>
<circle cx="1227.34" cy="1024.2" r="3.3" fill="#2DB5BD"/>
<circle cx="1224.99" cy="1024.2" r="3.3" fill="#2DB5BD"/>
<circle cx="1235.58" cy="1024.2" r="3.3" fill="#2DB5BD"/>
<circle cx="1229.33" cy="1024.2" r="3.3" fill="#2DB5BD"/>
<circle cx="1232.29" cy="1024.2" r="3.3" fill="#2DB5BD"/>
<circle cx="1229.85" cy="1024.2" r="3.3" fill="#2DB5BD"/>
<circle cx="1224.23" cy="1024.2" r="3.3" fill="#2DB5BD"/>
<circle cx="1235.3" cy="1024.2" r="3.3" fill="#2DB5BD"/>
<circle cx="1230.48" cy="1024.2" r="3.3" fill="#2DB5BD"/>
<circle cx="1230.13" cy="1024.2" r="3.3" fill="#2DB5BD"/>
<circle cx="1222.27" cy="1024.2" r="3.3" fill="#2DB5BD"/>
<circle cx="1220.08" cy="1024.2" r="3.3" fill="#2DB5BD"/>
<circle cx="1227.93" cy="1024.2" r="3.3" fill="#2DB5BD"/>
<circle cx="1232.69" cy="1024.2" r="3.3" fill="#2DB5BD"/>
<circle cx="1232.08" cy="1024.2" r="3.3" fill="#2DB5BD"/>
<circle cx="1223.6" cy="1002.92" r="3.3" fill="#2DB5BD"/>
<circle cx="1219.66" cy="1018.12" r="3.3" fill="#2DB5BD"/>
<circle cx="1269.77" cy="1005.5" r="3.3" fill="#CD4B4B"/>
<circle cx="1268.06" cy="994.02" r="3.3" fill="#CD4B4B"/>
<circle cx="1264.75" cy="990.58" r="3.3" fill="#CD4B4B"/>
<circle cx="1267.98" cy="980.3" r="3.3" fill="#CD4B4B"/>
<circle cx="1262.28" cy="977.05" r="3.3" fill="#CD4B4B"/>
<circle cx="1273.13" cy="971.48" r="3.3" fill="#CD4B4B"/>
<circle cx="1272.06" cy="968.41" r="3.3" fill="#CD4B4B"/>
<circle cx="1273.01" cy="965.34" r="3.3" fill="#CD4B4B"/>
<circle cx="1259.95" cy="963.8" r="3.3" fill="#CD4B4B"/>
<circle cx="1269.84" cy="957.52" r="3.3" fill="#CD4B4B"/>
<circle cx="1271.41" cy="953.27" r="3.3" fill="#CD4B4B"/>
<circle cx="1266.59" cy="951.64" r="3.3" fill="#CD4B4B"/>
<circle cx="1274.15" cy="946.95" r="3.3" fill="#CD4B4B"/>
<circle cx="1274.16" cy="940.51" r="3.3" fill="#CD4B4B"/>
<circle cx="1271.2" cy="938.78" r="3.3" fill="#CD4B4B"/>
<circle cx="1272.68" cy="934.09" r="3.3" fill="#CD4B4B"/>
<circle cx="1269.41" cy="929.41" r="3.3" fill="#CD4B4B"/>
<circle cx="1273.77" cy="921.29" r="3.3" fill="#CD4B4B"/>
<circle cx="1259.57" cy="908.38" r="3.3" fill="#CD4B4B"/>
<circle cx="1270.46" cy="895.63" r="3.3" fill="#CD4B4B"/>
<circle cx="1270.45" cy="884.19" r="3.3" fill="#CD4B4B"/>
<circle cx="1268.71" cy="867.35" r="3.3" fill="#CD4B4B"/>
<circle cx="1262.31" cy="862.26" r="3.3" fill="#CD4B4B"/>
<circle cx="1258.36" cy="851.32" r="3.3" fill="#CD4B4B"/>
<circle cx="1268.54" cy="834.17" r="3.3" fill="#CD4B4B"/>
<circle cx="1272.74" cy="832.35" r="3.3" fill="#CD4B4B"/>
<circle cx="1262.27" cy="822.07" r="3.3" fill="#CD4B4B"/>
<circle cx="1261.13" cy="811.51" r="3.3" fill="#CD4B4B"/>
<circle cx="1261.33" cy="793.2" r="3.3" fill="#CD4B4B"/>
<circle cx="1258.86" cy="780.78" r="3.3" fill="#CD4B4B"/>
<circle cx="1269.92" cy="761.25" r="3.3" fill="#CD4B4B"/>
<circle cx="1275.6" cy="721.84" r="3.3" fill="#CD4B4B"/>
<circle cx="1272.32" cy="698.45" r="3.3" fill="#CD4B4B"/>
<circle cx="1263.91" cy="680.68" r="3.3" fill="#CD4B4B"/>
<circle cx="1270.37" cy="1023.52" r="3.3" fill="#2DB5BD"/>
<circle cx="1258.45" cy="1022.25" r="3.3" fill="#2DB5BD"/>
<circle cx="1273.01" cy="1021.1" r="3.3" fill="#2DB5BD"/>
<circle cx="1263.26" cy="1020.47" r="3.3" fill="#2DB5BD"/>
<circle cx="1257.15" cy="1019.47" r="3.3" fill="#2DB5BD"/>
<circle cx="1269.04" cy="1018.28" r="3.3" fill="#2DB5BD"/>
<circle cx="1259.72" cy="1017.78" r="3.3" fill="#2DB5BD"/>
<circle cx="1262.31" cy="1017.24" r="3.3" fill="#2DB5BD"/>
<circle cx="1258.2" cy="1016.53" r="3.3" fill="#2DB5BD"/>
<circle cx="1265.55" cy="1016.21" r="3.3" fill="#2DB5BD"/>
<circle cx="1267.62" cy="1015.72" r="3.3" fill="#2DB5BD"/>
<circle cx="1272.42" cy="1015.62" r="3.3" fill="#2DB5BD"/>
<circle cx="1257.83" cy="1015.25" r="3.3" fill="#2DB5BD"/>
<circle cx="1272.8" cy="1014.6" r="3.3" fill="#2DB5BD"/>
<circle cx="1259.18" cy="1013.91" r="3.3" fill="#2DB5BD"/>
<circle cx="1261.34" cy="1012.71" r="3.3" fill="#2DB5BD"/>
<circle cx="1269.04" cy="1012.33" r="3.3" fill="#2DB5BD"/>
<circle cx="1263.54" cy="1011.52" r="3.3" fill="#2DB5BD"/>
<circle cx="1263.37" cy="1010.82" r="3.3" fill="#2DB5BD"/>
<circle cx="1267.88" cy="1009.68" r="3.3" fill="#2DB5BD"/>
<circle cx="1261.22" cy="1008.73" r="3.3" fill="#2DB5BD"/>
<circle cx="1272.16" cy="1007.96" r="3.3" fill="#2DB5BD"/>
<circle cx="1261.05" cy="1007.31" r="3.3" fill="#2DB5BD"/>
<circle cx="1273.03" cy="1006.23" r="3.3" fill="#2DB5BD"/>
<circle cx="1272.45" cy="1005.87" r="3.3" fill="#2DB5BD"/>
<circle cx="1267.28" cy="1004.86" r="3.3" fill="#2DB5BD"/>
<circle cx="1257.66" cy="1003.63" r="3.3" fill="#2DB5BD"/>
<circle cx="1271.86" cy="1002.4" r="3.3" fill="#2DB5BD"/>
<circle cx="1257.62" cy="1001.69" r="3.3" fill="#2DB5BD"/>
<circle cx="1266.67" cy="1000.67" r="3.3" fill="#2DB5BD"/>
<circle cx="1265.13" cy="999.64" r="3.3" fill="#2DB5BD"/>
<circle cx="1258.28" cy="998.96" r="3.3" fill="#2DB5BD"/>
<circle cx="1269.05" cy="997.56" r="3.3" fill="#2DB5BD"/>
<circle cx="1270.85" cy="996.74" r="3.3" fill="#2DB5BD"/>
<circle cx="1268.19" cy="996.08" r="3.3" fill="#2DB5BD"/>
<circle cx="1264.68" cy="995.07" r="3.3" fill="#2DB5BD"/>
<circle cx="1266.81" cy="993.77" r="3.3" fill="#2DB5BD"/>
<circle cx="1268.27" cy="993.16" r="3.3" fill="#2DB5BD"/>
<circle cx="1261.38" cy="992.91" r="3.3" fill="#2DB5BD"/>
<circle cx="1273.57" cy="992.08" r="3.3" fill="#2DB5BD"/>
<circle cx="1276" cy="991.47" r="3.3" fill="#2DB5BD"/>
<circle cx="1272.36" cy="990.42" r="3.3" fill="#2DB5BD"/>
<circle cx="1275.35" cy="988.96" r="3.3" fill="#2DB5BD"/>
<circle cx="1263.34" cy="987.11" r="3.3" fill="#2DB5BD"/>
<circle cx="1275.82" cy="986.45" r="3.3" fill="#2DB5BD"/>
<circle cx="1258.44" cy="984.25" r="3.3" fill="#2DB5BD"/>
<circle cx="1266.16" cy="982.61" r="3.3" fill="#2DB5BD"/>
<circle cx="1259.62" cy="979.68" r="3.3" fill="#2DB5BD"/>
<circle cx="1265.71" cy="976.97" r="3.3" fill="#2DB5BD"/>
<circle cx="1270.05" cy="973.46" r="3.3" fill="#2DB5BD"/>
<circle cx="1270.54" cy="908.68" r="3.3" fill="#2DB5BD"/>
</g>
<line x1="417.5" y1="995.32" x2="417.5" y2="1007.86" stroke="#333" stroke-width="1.3"/>
<line x1="417.5" y1="1024.2" x2="417.5" y2="1024.2" stroke="#333" stroke-width="1.3"/>
<rect x="410.7" y="1007.86" width="13.6" height="16.34" fill="#78BAD5" stroke="#333" stroke-width="1.3"/>
<line x1="410.7" y1="1016.6" x2="424.3" y2="1016.6" stroke="#333" stroke-width="2.1"/>
<line x1="432.4" y1="966.06" x2="432.4" y2="998.36" stroke="#333" stroke-width="1.3"/>
<line x1="432.4" y1="1024.2" x2="432.4" y2="1024.2" stroke="#333" stroke-width="1.3"/>
<rect x="425.6" y="998.36" width="13.6" height="25.84" fill="#CB4E3B" stroke="#333" stroke-width="1.3"/>
<line x1="425.6" y1="1014.32" x2="439.2" y2="1014.32" stroke="#333" stroke-width="2.1"/>
<line x1="457.58" y1="1023.44" x2="457.58" y2="1023.82" stroke="#333" stroke-width="1.3"/>
<line x1="457.58" y1="1024.2" x2="457.58" y2="1024.2" stroke="#333" stroke-width="1.3"/>
<rect x="450.78" y="1023.82" width="13.6" height="0.38" fill="#78BAD5" stroke="#333" stroke-width="1.3"/>
<line x1="450.78" y1="1024.2" x2="464.38" y2="1024.2" stroke="#333" stroke-width="2.1"/>
<line x1="472.48" y1="1023.44" x2="472.48" y2="1023.82" stroke="#333" stroke-width="1.3"/>
<line x1="472.48" y1="1024.2" x2="472.48" y2="1024.2" stroke="#333" stroke-width="1.3"/>
<rect x="465.68" y="1023.82" width="13.6" height="0.38" fill="#CB4E3B" stroke="#333" stroke-width="1.3"/>
<line x1="465.68" y1="1024.2" x2="479.28" y2="1024.2" stroke="#333" stroke-width="2.1"/>
<line x1="497.66" y1="973.28" x2="497.66" y2="998.36" stroke="#333" stroke-width="1.3"/>
<line x1="497.66" y1="1017.36" x2="497.66" y2="1024.2" stroke="#333" stroke-width="1.3"/>
<rect x="490.86" y="998.36" width="13.6" height="19" fill="#78BAD5" stroke="#333" stroke-width="1.3"/>
<line x1="490.86" y1="1006.72" x2="504.46" y2="1006.72" stroke="#333" stroke-width="2.1"/>
<line x1="512.56" y1="960.36" x2="512.56" y2="986.2" stroke="#333" stroke-width="1.3"/>
<line x1="512.56" y1="1014.7" x2="512.56" y2="1024.2" stroke="#333" stroke-width="1.3"/>
<rect x="505.76" y="986.2" width="13.6" height="28.5" fill="#CB4E3B" stroke="#333" stroke-width="1.3"/>
<line x1="505.76" y1="1002.16" x2="519.36" y2="1002.16" stroke="#333" stroke-width="2.1"/>
<line x1="537.74" y1="900.32" x2="537.74" y2="959.14" stroke="#333" stroke-width="1.3"/>
<line x1="537.74" y1="1002.92" x2="537.74" y2="1020.4" stroke="#333" stroke-width="1.3"/>
<rect x="530.94" y="959.14" width="13.6" height="43.78" fill="#78BAD5" stroke="#333" stroke-width="1.3"/>
<line x1="530.94" y1="988.48" x2="544.54" y2="988.48" stroke="#333" stroke-width="2.1"/>
<line x1="552.64" y1="880.56" x2="552.64" y2="947.44" stroke="#333" stroke-width="1.3"/>
<line x1="552.64" y1="994.56" x2="552.64" y2="1024.2" stroke="#333" stroke-width="1.3"/>
<rect x="545.84" y="947.44" width="13.6" height="47.12" fill="#CB4E3B" stroke="#333" stroke-width="1.3"/>
<line x1="545.84" y1="977.08" x2="559.44" y2="977.08" stroke="#333" stroke-width="2.1"/>
<line x1="577.82" y1="1024.2" x2="577.82" y2="1024.2" stroke="#333" stroke-width="1.3"/>
<line x1="577.82" y1="1024.2" x2="577.82" y2="1024.2" stroke="#333" stroke-width="1.3"/>
<rect x="571.02" y="1024.2" width="13.6" height="0.01" fill="#78BAD5" stroke="#333" stroke-width="1.3"/>
<line x1="571.02" y1="1024.2" x2="584.62" y2="1024.2" stroke="#333" stroke-width="2.1"/>
<line x1="592.72" y1="1024.2" x2="592.72" y2="1024.2" stroke="#333" stroke-width="1.3"/>
<line x1="592.72" y1="1024.2" x2="592.72" y2="1024.2" stroke="#333" stroke-width="1.3"/>
<rect x="585.92" y="1024.2" width="13.6" height="0.01" fill="#CB4E3B" stroke="#333" stroke-width="1.3"/>
<line x1="585.92" y1="1024.2" x2="599.52" y2="1024.2" stroke="#333" stroke-width="2.1"/>
<line x1="617.9" y1="679.92" x2="617.9" y2="798.48" stroke="#333" stroke-width="1.3"/>
<line x1="617.9" y1="879.8" x2="617.9" y2="929.96" stroke="#333" stroke-width="1.3"/>
<rect x="611.1" y="798.48" width="13.6" height="81.32" fill="#78BAD5" stroke="#333" stroke-width="1.3"/>
<line x1="611.1" y1="823.56" x2="624.7" y2="823.56" stroke="#333" stroke-width="2.1"/>
<line x1="632.8" y1="735.4" x2="632.8" y2="803.04" stroke="#333" stroke-width="1.3"/>
<line x1="632.8" y1="892.72" x2="632.8" y2="1006.72" stroke="#333" stroke-width="1.3"/>
<rect x="626" y="803.04" width="13.6" height="89.68" fill="#CB4E3B" stroke="#333" stroke-width="1.3"/>
<line x1="626" y1="828.88" x2="639.6" y2="828.88" stroke="#333" stroke-width="2.1"/>
<line x1="657.98" y1="1024.2" x2="657.98" y2="1024.2" stroke="#333" stroke-width="1.3"/>
<line x1="657.98" y1="1024.2" x2="657.98" y2="1024.2" stroke="#333" stroke-width="1.3"/>
<rect x="651.18" y="1024.2" width="13.6" height="0.01" fill="#78BAD5" stroke="#333" stroke-width="1.3"/>
<line x1="651.18" y1="1024.2" x2="664.78" y2="1024.2" stroke="#333" stroke-width="2.1"/>
<line x1="672.88" y1="1024.2" x2="672.88" y2="1024.2" stroke="#333" stroke-width="1.3"/>
<line x1="672.88" y1="1024.2" x2="672.88" y2="1024.2" stroke="#333" stroke-width="1.3"/>
<rect x="666.08" y="1024.2" width="13.6" height="0.01" fill="#CB4E3B" stroke="#333" stroke-width="1.3"/>
<line x1="666.08" y1="1024.2" x2="679.68" y2="1024.2" stroke="#333" stroke-width="2.1"/>
<line x1="698.06" y1="1024.2" x2="698.06" y2="1024.2" stroke="#333" stroke-width="1.3"/>
<line x1="698.06" y1="1024.2" x2="698.06" y2="1024.2" stroke="#333" stroke-width="1.3"/>
<rect x="691.26" y="1024.2" width="13.6" height="0.01" fill="#78BAD5" stroke="#333" stroke-width="1.3"/>
<line x1="691.26" y1="1024.2" x2="704.86" y2="1024.2" stroke="#333" stroke-width="2.1"/>
<line x1="712.96" y1="1024.2" x2="712.96" y2="1024.2" stroke="#333" stroke-width="1.3"/>
<line x1="712.96" y1="1024.2" x2="712.96" y2="1024.2" stroke="#333" stroke-width="1.3"/>
<rect x="706.16" y="1024.2" width="13.6" height="0.01" fill="#CB4E3B" stroke="#333" stroke-width="1.3"/>
<line x1="706.16" y1="1024.2" x2="719.76" y2="1024.2" stroke="#333" stroke-width="2.1"/>
<line x1="738.14" y1="1000.64" x2="738.14" y2="1014.32" stroke="#333" stroke-width="1.3"/>
<line x1="738.14" y1="1024.2" x2="738.14" y2="1024.2" stroke="#333" stroke-width="1.3"/>
<rect x="731.34" y="1014.32" width="13.6" height="9.88" fill="#78BAD5" stroke="#333" stroke-width="1.3"/>
<line x1="731.34" y1="1023.44" x2="744.94" y2="1023.44" stroke="#333" stroke-width="2.1"/>
<line x1="753.04" y1="987.72" x2="753.04" y2="1008.24" stroke="#333" stroke-width="1.3"/>
<line x1="753.04" y1="1024.2" x2="753.04" y2="1024.2" stroke="#333" stroke-width="1.3"/>
<rect x="746.24" y="1008.24" width="13.6" height="15.96" fill="#CB4E3B" stroke="#333" stroke-width="1.3"/>
<line x1="746.24" y1="1022.68" x2="759.84" y2="1022.68" stroke="#333" stroke-width="2.1"/>
<line x1="778.22" y1="1017.36" x2="778.22" y2="1021.16" stroke="#333" stroke-width="1.3"/>
<line x1="778.22" y1="1024.2" x2="778.22" y2="1024.2" stroke="#333" stroke-width="1.3"/>
<rect x="771.42" y="1021.16" width="13.6" height="3.04" fill="#78BAD5" stroke="#333" stroke-width="1.3"/>
<line x1="771.42" y1="1023.44" x2="785.02" y2="1023.44" stroke="#333" stroke-width="2.1"/>
<line x1="793.12" y1="923.88" x2="793.12" y2="980.12" stroke="#333" stroke-width="1.3"/>
<line x1="793.12" y1="1024.2" x2="793.12" y2="1024.2" stroke="#333" stroke-width="1.3"/>
<rect x="786.32" y="980.12" width="13.6" height="44.08" fill="#CB4E3B" stroke="#333" stroke-width="1.3"/>
<line x1="786.32" y1="1020.02" x2="799.92" y2="1020.02" stroke="#333" stroke-width="2.1"/>
<line x1="818.3" y1="879.04" x2="818.3" y2="942.12" stroke="#333" stroke-width="1.3"/>
<line x1="818.3" y1="1016.6" x2="818.3" y2="1024.2" stroke="#333" stroke-width="1.3"/>
<rect x="811.5" y="942.12" width="13.6" height="74.48" fill="#78BAD5" stroke="#333" stroke-width="1.3"/>
<line x1="811.5" y1="983.16" x2="825.1" y2="983.16" stroke="#333" stroke-width="2.1"/>
<line x1="833.2" y1="999.88" x2="833.2" y2="1011.66" stroke="#333" stroke-width="1.3"/>
<line x1="833.2" y1="1024.2" x2="833.2" y2="1024.2" stroke="#333" stroke-width="1.3"/>
<rect x="826.4" y="1011.66" width="13.6" height="12.54" fill="#CB4E3B" stroke="#333" stroke-width="1.3"/>
<line x1="826.4" y1="1023.44" x2="840" y2="1023.44" stroke="#333" stroke-width="2.1"/>
<line x1="858.38" y1="919.32" x2="858.38" y2="980.12" stroke="#333" stroke-width="1.3"/>
<line x1="858.38" y1="1024.2" x2="858.38" y2="1024.2" stroke="#333" stroke-width="1.3"/>
<rect x="851.58" y="980.12" width="13.6" height="44.08" fill="#78BAD5" stroke="#333" stroke-width="1.3"/>
<line x1="851.58" y1="1014.62" x2="865.18" y2="1014.62" stroke="#333" stroke-width="2.1"/>
<line x1="873.28" y1="927.68" x2="873.28" y2="964.16" stroke="#333" stroke-width="1.3"/>
<line x1="873.28" y1="1008.24" x2="873.28" y2="1024.2" stroke="#333" stroke-width="1.3"/>
<rect x="866.48" y="964.16" width="13.6" height="44.08" fill="#CB4E3B" stroke="#333" stroke-width="1.3"/>
<line x1="866.48" y1="986.2" x2="880.08" y2="986.2" stroke="#333" stroke-width="2.1"/>
<line x1="898.46" y1="884.36" x2="898.46" y2="934.52" stroke="#333" stroke-width="1.3"/>
<line x1="898.46" y1="1004.44" x2="898.46" y2="1024.2" stroke="#333" stroke-width="1.3"/>
<rect x="891.66" y="934.52" width="13.6" height="69.92" fill="#78BAD5" stroke="#333" stroke-width="1.3"/>
<line x1="891.66" y1="970.24" x2="905.26" y2="970.24" stroke="#333" stroke-width="2.1"/>
<line x1="913.36" y1="895" x2="913.36" y2="950.48" stroke="#333" stroke-width="1.3"/>
<line x1="913.36" y1="991.52" x2="913.36" y2="1024.2" stroke="#333" stroke-width="1.3"/>
<rect x="906.56" y="950.48" width="13.6" height="41.04" fill="#CB4E3B" stroke="#333" stroke-width="1.3"/>
<line x1="906.56" y1="977.46" x2="920.16" y2="977.46" stroke="#333" stroke-width="2.1"/>
<line x1="938.54" y1="976.32" x2="938.54" y2="1000.64" stroke="#333" stroke-width="1.3"/>
<line x1="938.54" y1="1024.2" x2="938.54" y2="1024.2" stroke="#333" stroke-width="1.3"/>
<rect x="931.74" y="1000.64" width="13.6" height="23.56" fill="#78BAD5" stroke="#333" stroke-width="1.3"/>
<line x1="931.74" y1="1024.2" x2="945.34" y2="1024.2" stroke="#333" stroke-width="2.1"/>
<line x1="953.44" y1="991.52" x2="953.44" y2="1011.28" stroke="#333" stroke-width="1.3"/>
<line x1="953.44" y1="1024.2" x2="953.44" y2="1024.2" stroke="#333" stroke-width="1.3"/>
<rect x="946.64" y="1011.28" width="13.6" height="12.92" fill="#CB4E3B" stroke="#333" stroke-width="1.3"/>
<line x1="946.64" y1="1023.44" x2="960.24" y2="1023.44" stroke="#333" stroke-width="2.1"/>
<line x1="978.62" y1="931.1" x2="978.62" y2="967.96" stroke="#333" stroke-width="1.3"/>
<line x1="978.62" y1="1001.4" x2="978.62" y2="1022.68" stroke="#333" stroke-width="1.3"/>
<rect x="971.82" y="967.96" width="13.6" height="33.44" fill="#78BAD5" stroke="#333" stroke-width="1.3"/>
<line x1="971.82" y1="982.4" x2="985.42" y2="982.4" stroke="#333" stroke-width="2.1"/>
<line x1="993.52" y1="893.48" x2="993.52" y2="940.6" stroke="#333" stroke-width="1.3"/>
<line x1="993.52" y1="981.64" x2="993.52" y2="1012.8" stroke="#333" stroke-width="1.3"/>
<rect x="986.72" y="940.6" width="13.6" height="41.04" fill="#CB4E3B" stroke="#333" stroke-width="1.3"/>
<line x1="986.72" y1="962.64" x2="1000.32" y2="962.64" stroke="#333" stroke-width="2.1"/>
<line x1="1018.7" y1="902.6" x2="1018.7" y2="956.94" stroke="#333" stroke-width="1.3"/>
<line x1="1018.7" y1="1009.76" x2="1018.7" y2="1024.2" stroke="#333" stroke-width="1.3"/>
<rect x="1011.9" y="956.94" width="13.6" height="52.82" fill="#78BAD5" stroke="#333" stroke-width="1.3"/>
<line x1="1011.9" y1="980.88" x2="1025.5" y2="980.88" stroke="#333" stroke-width="2.1"/>
<line x1="1033.6" y1="767.32" x2="1033.6" y2="859.28" stroke="#333" stroke-width="1.3"/>
<line x1="1033.6" y1="961.12" x2="1033.6" y2="1024.2" stroke="#333" stroke-width="1.3"/>
<rect x="1026.8" y="859.28" width="13.6" height="101.84" fill="#CB4E3B" stroke="#333" stroke-width="1.3"/>
<line x1="1026.8" y1="923.12" x2="1040.4" y2="923.12" stroke="#333" stroke-width="2.1"/>
<line x1="1058.78" y1="1005.96" x2="1058.78" y2="1015.84" stroke="#333" stroke-width="1.3"/>
<line x1="1058.78" y1="1024.2" x2="1058.78" y2="1024.2" stroke="#333" stroke-width="1.3"/>
<rect x="1051.98" y="1015.84" width="13.6" height="8.36" fill="#78BAD5" stroke="#333" stroke-width="1.3"/>
<line x1="1051.98" y1="1021.92" x2="1065.58" y2="1021.92" stroke="#333" stroke-width="2.1"/>
<line x1="1073.68" y1="996.08" x2="1073.68" y2="1010.52" stroke="#333" stroke-width="1.3"/>
<line x1="1073.68" y1="1023.44" x2="1073.68" y2="1024.2" stroke="#333" stroke-width="1.3"/>
<rect x="1066.88" y="1010.52" width="13.6" height="12.92" fill="#CB4E3B" stroke="#333" stroke-width="1.3"/>
<line x1="1066.88" y1="1016.6" x2="1080.48" y2="1016.6" stroke="#333" stroke-width="2.1"/>
<line x1="1098.86" y1="1024.2" x2="1098.86" y2="1024.2" stroke="#333" stroke-width="1.3"/>
<line x1="1098.86" y1="1024.2" x2="1098.86" y2="1024.2" stroke="#333" stroke-width="1.3"/>
<rect x="1092.06" y="1024.2" width="13.6" height="0.01" fill="#78BAD5" stroke="#333" stroke-width="1.3"/>
<line x1="1092.06" y1="1024.2" x2="1105.66" y2="1024.2" stroke="#333" stroke-width="2.1"/>
<line x1="1113.76" y1="1024.2" x2="1113.76" y2="1024.2" stroke="#333" stroke-width="1.3"/>
<line x1="1113.76" y1="1024.2" x2="1113.76" y2="1024.2" stroke="#333" stroke-width="1.3"/>
<rect x="1106.96" y="1024.2" width="13.6" height="0.01" fill="#CB4E3B" stroke="#333" stroke-width="1.3"/>
<line x1="1106.96" y1="1024.2" x2="1120.56" y2="1024.2" stroke="#333" stroke-width="2.1"/>
<line x1="1138.94" y1="828.88" x2="1138.94" y2="879.8" stroke="#333" stroke-width="1.3"/>
<line x1="1138.94" y1="985.82" x2="1138.94" y2="1024.2" stroke="#333" stroke-width="1.3"/>
<rect x="1132.14" y="879.8" width="13.6" height="106.02" fill="#78BAD5" stroke="#333" stroke-width="1.3"/>
<line x1="1132.14" y1="923.88" x2="1145.74" y2="923.88" stroke="#333" stroke-width="2.1"/>
<line x1="1153.84" y1="850.16" x2="1153.84" y2="894.24" stroke="#333" stroke-width="1.3"/>
<line x1="1153.84" y1="970.24" x2="1153.84" y2="1021.16" stroke="#333" stroke-width="1.3"/>
<rect x="1147.04" y="894.24" width="13.6" height="76" fill="#CB4E3B" stroke="#333" stroke-width="1.3"/>
<line x1="1147.04" y1="935.28" x2="1160.64" y2="935.28" stroke="#333" stroke-width="2.1"/>
<line x1="1179.02" y1="1024.2" x2="1179.02" y2="1024.2" stroke="#333" stroke-width="1.3"/>
<line x1="1179.02" y1="1024.2" x2="1179.02" y2="1024.2" stroke="#333" stroke-width="1.3"/>
<rect x="1172.22" y="1024.2" width="13.6" height="0.01" fill="#78BAD5" stroke="#333" stroke-width="1.3"/>
<line x1="1172.22" y1="1024.2" x2="1185.82" y2="1024.2" stroke="#333" stroke-width="2.1"/>
<line x1="1193.92" y1="1024.2" x2="1193.92" y2="1024.2" stroke="#333" stroke-width="1.3"/>
<line x1="1193.92" y1="1024.2" x2="1193.92" y2="1024.2" stroke="#333" stroke-width="1.3"/>
<rect x="1187.12" y="1024.2" width="13.6" height="0.01" fill="#CB4E3B" stroke="#333" stroke-width="1.3"/>
<line x1="1187.12" y1="1024.2" x2="1200.72" y2="1024.2" stroke="#333" stroke-width="2.1"/>
<line x1="1219.1" y1="1024.2" x2="1219.1" y2="1024.2" stroke="#333" stroke-width="1.3"/>
<line x1="1219.1" y1="1024.2" x2="1219.1" y2="1024.2" stroke="#333" stroke-width="1.3"/>
<rect x="1212.3" y="1024.2" width="13.6" height="0.01" fill="#78BAD5" stroke="#333" stroke-width="1.3"/>
<line x1="1212.3" y1="1024.2" x2="1225.9" y2="1024.2" stroke="#333" stroke-width="2.1"/>
<line x1="1234" y1="1024.2" x2="1234" y2="1024.2" stroke="#333" stroke-width="1.3"/>
<line x1="1234" y1="1024.2" x2="1234" y2="1024.2" stroke="#333" stroke-width="1.3"/>
<rect x="1227.2" y="1024.2" width="13.6" height="0.01" fill="#CB4E3B" stroke="#333" stroke-width="1.3"/>
<line x1="1227.2" y1="1024.2" x2="1240.8" y2="1024.2" stroke="#333" stroke-width="2.1"/>
<line x1="1259.18" y1="681.44" x2="1259.18" y2="834.2" stroke="#333" stroke-width="1.3"/>
<line x1="1259.18" y1="964.46" x2="1259.18" y2="1010.52" stroke="#333" stroke-width="1.3"/>
<rect x="1252.38" y="834.2" width="13.6" height="130.26" fill="#78BAD5" stroke="#333" stroke-width="1.3"/>
<line x1="1252.38" y1="929.2" x2="1265.98" y2="929.2" stroke="#333" stroke-width="2.1"/>
<line x1="1274.08" y1="972.82" x2="1274.08" y2="993.04" stroke="#333" stroke-width="1.3"/>
<line x1="1274.08" y1="1015.46" x2="1274.08" y2="1024.2" stroke="#333" stroke-width="1.3"/>
<rect x="1267.28" y="993.04" width="13.6" height="22.42" fill="#CB4E3B" stroke="#333" stroke-width="1.3"/>
<line x1="1267.28" y1="1005.2" x2="1280.88" y2="1005.2" stroke="#333" stroke-width="2.1"/>
<rect x="401" y="660.9" width="890.1" height="380.1" fill="none" stroke="#808080" stroke-width="1.3"/>
<text x="424.9" y="678.5" font-size="12.8" fill="#000" text-anchor="middle">ns</text>
<text x="464.98" y="678.5" font-size="12.8" fill="#000" text-anchor="middle">ns</text>
<text x="505.06" y="678.5" font-size="12.8" fill="#000" text-anchor="middle">ns</text>
<text x="545.14" y="678.5" font-size="12.8" fill="#000" text-anchor="middle">ns</text>
<text x="585.22" y="678.5" font-size="12.8" fill="#000" text-anchor="middle">ns</text>
<text x="625.3" y="678.5" font-size="12.8" fill="#000" text-anchor="middle">ns</text>
<text x="665.38" y="678.5" font-size="12.8" fill="#000" text-anchor="middle">ns</text>
<text x="705.46" y="678.5" font-size="12.8" fill="#000" text-anchor="middle">*</text>
<text x="745.54" y="678.5" font-size="12.8" fill="#000" text-anchor="middle">ns</text>
<text x="785.62" y="678.5" font-size="12.8" fill="#000" text-anchor="middle">*</text>
<text x="825.7" y="678.5" font-size="12.8" fill="#000" text-anchor="middle">***</text>
<text x="865.78" y="678.5" font-size="12.8" fill="#000" text-anchor="middle">*</text>
<text x="905.86" y="678.5" font-size="12.8" fill="#000" text-anchor="middle">ns</text>
<text x="945.94" y="678.5" font-size="12.8" fill="#000" text-anchor="middle">ns</text>
<text x="986.02" y="678.5" font-size="12.8" fill="#000" text-anchor="middle">**</text>
<text x="1026.1" y="678.5" font-size="12.8" fill="#000" text-anchor="middle">***</text>
<text x="1066.18" y="678.5" font-size="12.8" fill="#000" text-anchor="middle">*</text>
<text x="1106.26" y="678.5" font-size="12.8" fill="#000" text-anchor="middle">ns</text>
<text x="1146.34" y="678.5" font-size="12.8" fill="#000" text-anchor="middle">ns</text>
<text x="1186.42" y="678.5" font-size="12.8" fill="#000" text-anchor="middle">ns</text>
<text x="1226.5" y="678.5" font-size="12.8" fill="#000" text-anchor="middle">ns</text>
<text x="1266.58" y="678.5" font-size="12.8" fill="#000" text-anchor="middle">***</text>
<line x1="397.4" y1="1024.2" x2="400.4" y2="1024.2" stroke="#333" stroke-width="1.1"/>
<text x="394.9" y="1027.95" font-size="10.6" fill="#4D4D4D" text-anchor="end">0.0</text>
<line x1="397.4" y1="948.2" x2="400.4" y2="948.2" stroke="#333" stroke-width="1.1"/>
<text x="394.9" y="951.95" font-size="10.6" fill="#4D4D4D" text-anchor="end">0.1</text>
<line x1="397.4" y1="872.2" x2="400.4" y2="872.2" stroke="#333" stroke-width="1.1"/>
<text x="394.9" y="875.95" font-size="10.6" fill="#4D4D4D" text-anchor="end">0.2</text>
<line x1="397.4" y1="796.2" x2="400.4" y2="796.2" stroke="#333" stroke-width="1.1"/>
<text x="394.9" y="799.95" font-size="10.6" fill="#4D4D4D" text-anchor="end">0.3</text>
<line x1="397.4" y1="720.2" x2="400.4" y2="720.2" stroke="#333" stroke-width="1.1"/>
<text x="394.9" y="723.95" font-size="10.6" fill="#4D4D4D" text-anchor="end">0.4</text>
<text x="374" y="851" font-size="12.9" fill="#000" text-anchor="middle" transform="rotate(-90 374 851)">Immune Infiltration</text>
<line x1="424.9" y1="1041.6" x2="424.9" y2="1044.8" stroke="#333" stroke-width="1.1"/>
<text x="430.7" y="1053.3" font-size="10.65" fill="#4D4D4D" text-anchor="end" transform="rotate(-45 430.7 1053.3)">B cells naive</text>
<line x1="464.98" y1="1041.6" x2="464.98" y2="1044.8" stroke="#333" stroke-width="1.1"/>
<text x="470.78" y="1053.3" font-size="10.65" fill="#4D4D4D" text-anchor="end" transform="rotate(-45 470.78 1053.3)">B cells memory</text>
<line x1="505.06" y1="1041.6" x2="505.06" y2="1044.8" stroke="#333" stroke-width="1.1"/>
<text x="510.86" y="1053.3" font-size="10.65" fill="#4D4D4D" text-anchor="end" transform="rotate(-45 510.86 1053.3)">Plasma cells</text>
<line x1="545.14" y1="1041.6" x2="545.14" y2="1044.8" stroke="#333" stroke-width="1.1"/>
<text x="550.94" y="1053.3" font-size="10.65" fill="#4D4D4D" text-anchor="end" transform="rotate(-45 550.94 1053.3)">T cells CD8</text>
<line x1="585.22" y1="1041.6" x2="585.22" y2="1044.8" stroke="#333" stroke-width="1.1"/>
<text x="591.02" y="1053.3" font-size="10.65" fill="#4D4D4D" text-anchor="end" transform="rotate(-45 591.02 1053.3)">T cells CD4 naive</text>
<line x1="625.3" y1="1041.6" x2="625.3" y2="1044.8" stroke="#333" stroke-width="1.1"/>
<text x="631.1" y="1053.3" font-size="10.65" fill="#4D4D4D" text-anchor="end" transform="rotate(-45 631.1 1053.3)">T cells CD4 memory resting</text>
<line x1="665.38" y1="1041.6" x2="665.38" y2="1044.8" stroke="#333" stroke-width="1.1"/>
<text x="671.18" y="1053.3" font-size="10.65" fill="#4D4D4D" text-anchor="end" transform="rotate(-45 671.18 1053.3)">T cells CD4 memory activated</text>
<line x1="705.46" y1="1041.6" x2="705.46" y2="1044.8" stroke="#333" stroke-width="1.1"/>
<text x="711.26" y="1053.3" font-size="10.65" fill="#4D4D4D" text-anchor="end" transform="rotate(-45 711.26 1053.3)">T cells follicular helper</text>
<line x1="745.54" y1="1041.6" x2="745.54" y2="1044.8" stroke="#333" stroke-width="1.1"/>
<text x="751.34" y="1053.3" font-size="10.65" fill="#4D4D4D" text-anchor="end" transform="rotate(-45 751.34 1053.3)">T cells regulatory (Tregs)</text>
<line x1="785.62" y1="1041.6" x2="785.62" y2="1044.8" stroke="#333" stroke-width="1.1"/>
<text x="791.42" y="1053.3" font-size="10.65" fill="#4D4D4D" text-anchor="end" transform="rotate(-45 791.42 1053.3)">T cells gamma delta</text>
<line x1="825.7" y1="1041.6" x2="825.7" y2="1044.8" stroke="#333" stroke-width="1.1"/>
<text x="831.5" y="1053.3" font-size="10.65" fill="#4D4D4D" text-anchor="end" transform="rotate(-45 831.5 1053.3)">NK cells resting</text>
<line x1="865.78" y1="1041.6" x2="865.78" y2="1044.8" stroke="#333" stroke-width="1.1"/>
<text x="871.58" y="1053.3" font-size="10.65" fill="#4D4D4D" text-anchor="end" transform="rotate(-45 871.58 1053.3)">NK cells activated</text>
<line x1="905.86" y1="1041.6" x2="905.86" y2="1044.8" stroke="#333" stroke-width="1.1"/>
<text x="911.66" y="1053.3" font-size="10.65" fill="#4D4D4D" text-anchor="end" transform="rotate(-45 911.66 1053.3)">Monocytes</text>
<line x1="945.94" y1="1041.6" x2="945.94" y2="1044.8" stroke="#333" stroke-width="1.1"/>
<text x="951.74" y="1053.3" font-size="10.65" fill="#4D4D4D" text-anchor="end" transform="rotate(-45 951.74 1053.3)">Macrophages M0</text>
<line x1="986.02" y1="1041.6" x2="986.02" y2="1044.8" stroke="#333" stroke-width="1.1"/>
<text x="991.82" y="1053.3" font-size="10.65" fill="#4D4D4D" text-anchor="end" transform="rotate(-45 991.82 1053.3)">Macrophages M1</text>
<line x1="1026.1" y1="1041.6" x2="1026.1" y2="1044.8" stroke="#333" stroke-width="1.1"/>
<text x="1031.9" y="1053.3" font-size="10.65" fill="#4D4D4D" text-anchor="end" transform="rotate(-45 1031.9 1053.3)">Macrophages M2</text>
<line x1="1066.18" y1="1041.6" x2="1066.18" y2="1044.8" stroke="#333" stroke-width="1.1"/>
<text x="1071.98" y="1053.3" font-size="10.65" fill="#4D4D4D" text-anchor="end" transform="rotate(-45 1071.98 1053.3)">Dendritic cells resting</text>
<line x1="1106.26" y1="1041.6" x2="1106.26" y2="1044.8" stroke="#333" stroke-width="1.1"/>
<text x="1112.06" y="1053.3" font-size="10.65" fill="#4D4D4D" text-anchor="end" transform="rotate(-45 1112.06 1053.3)">Dendritic cells activated</text>
<line x1="1146.34" y1="1041.6" x2="1146.34" y2="1044.8" stroke="#333" stroke-width="1.1"/>
<text x="1152.14" y="1053.3" font-size="10.65" fill="#4D4D4D" text-anchor="end" transform="rotate(-45 1152.14 1053.3)">Mast cells resting</text>
<line x1="1186.42" y1="1041.6" x2="1186.42" y2="1044.8" stroke="#333" stroke-width="1.1"/>
<text x="1192.22" y="1053.3" font-size="10.65" fill="#4D4D4D" text-anchor="end" transform="rotate(-45 1192.22 1053.3)">Mast cells activated</text>
<line x1="1226.5" y1="1041.6" x2="1226.5" y2="1044.8" stroke="#333" stroke-width="1.1"/>
<text x="1232.3" y="1053.3" font-size="10.65" fill="#4D4D4D" text-anchor="end" transform="rotate(-45 1232.3 1053.3)">Eosinophils</text>
<line x1="1266.58" y1="1041.6" x2="1266.58" y2="1044.8" stroke="#333" stroke-width="1.1"/>
<text x="1272.38" y="1053.3" font-size="10.65" fill="#4D4D4D" text-anchor="end" transform="rotate(-45 1272.38 1053.3)">Neutrophils</text>
<text x="1310" y="790" font-size="13" fill="#000" text-anchor="start">Group</text>
<line x1="1320.3" y1="799.9" x2="1320.3" y2="815.9" stroke="#333" stroke-width="1.2"/>
<rect x="1312.5" y="802.7" width="15.6" height="10.4" fill="#78BAD5" stroke="#333" stroke-width="1.1"/>
<line x1="1312.5" y1="807.9" x2="1328.1" y2="807.9" stroke="#333" stroke-width="2"/>
<line x1="1320.3" y1="820.4" x2="1320.3" y2="836.4" stroke="#333" stroke-width="1.2"/>
<rect x="1312.5" y="823.2" width="15.6" height="10.4" fill="#CB4E3B" stroke="#333" stroke-width="1.1"/>
<line x1="1312.5" y1="828.4" x2="1328.1" y2="828.4" stroke="#333" stroke-width="2"/>
<text x="1337.5" y="811.7" font-size="10.5" fill="#000" text-anchor="start">Control</text>
<text x="1337.5" y="832.2" font-size="10.5" fill="#000" text-anchor="start">DN</text>
<text x="1310" y="875.6" font-size="13" fill="#000" text-anchor="start">group</text>
<circle cx="1320.3" cy="893.5" r="3.3" fill="#CD4B4B" fill-opacity="0.5"/>
<circle cx="1320.3" cy="914.2" r="3.3" fill="#2DB5BD" fill-opacity="0.5"/>
<text x="1337.5" y="897.3" font-size="10.5" fill="#000" text-anchor="start">Control</text>
<text x="1337.5" y="918" font-size="10.5" fill="#000" text-anchor="start">DN</text>
<rect x="393.1" y="1172.6" width="879.6" height="384.2" fill="#fff"/>
<line x1="393.1" y1="1473.3" x2="1272.7" y2="1473.3" stroke="#F4F4F4" stroke-width="0.6"/>
<line x1="393.1" y1="1340.7" x2="1272.7" y2="1340.7" stroke="#F4F4F4" stroke-width="0.6"/>
<line x1="393.1" y1="1208.1" x2="1272.7" y2="1208.1" stroke="#F4F4F4" stroke-width="0.6"/>
<line x1="393.1" y1="1539.6" x2="1272.7" y2="1539.6" stroke="#ECECEC" stroke-width="1.1"/>
<line x1="393.1" y1="1407" x2="1272.7" y2="1407" stroke="#ECECEC" stroke-width="1.1"/>
<line x1="393.1" y1="1274.4" x2="1272.7" y2="1274.4" stroke="#ECECEC" stroke-width="1.1"/>
<line x1="416.1" y1="1172.6" x2="416.1" y2="1556.8" stroke="#ECECEC" stroke-width="1.1"/>
<line x1="455.76" y1="1172.6" x2="455.76" y2="1556.8" stroke="#ECECEC" stroke-width="1.1"/>
<line x1="495.42" y1="1172.6" x2="495.42" y2="1556.8" stroke="#ECECEC" stroke-width="1.1"/>
<line x1="535.08" y1="1172.6" x2="535.08" y2="1556.8" stroke="#ECECEC" stroke-width="1.1"/>
<line x1="574.74" y1="1172.6" x2="574.74" y2="1556.8" stroke="#ECECEC" stroke-width="1.1"/>
<line x1="614.4" y1="1172.6" x2="614.4" y2="1556.8" stroke="#ECECEC" stroke-width="1.1"/>
<line x1="654.06" y1="1172.6" x2="654.06" y2="1556.8" stroke="#ECECEC" stroke-width="1.1"/>
<line x1="693.72" y1="1172.6" x2="693.72" y2="1556.8" stroke="#ECECEC" stroke-width="1.1"/>
<line x1="733.38" y1="1172.6" x2="733.38" y2="1556.8" stroke="#ECECEC" stroke-width="1.1"/>
<line x1="773.04" y1="1172.6" x2="773.04" y2="1556.8" stroke="#ECECEC" stroke-width="1.1"/>
<line x1="812.7" y1="1172.6" x2="812.7" y2="1556.8" stroke="#ECECEC" stroke-width="1.1"/>
<line x1="852.36" y1="1172.6" x2="852.36" y2="1556.8" stroke="#ECECEC" stroke-width="1.1"/>
<line x1="892.02" y1="1172.6" x2="892.02" y2="1556.8" stroke="#ECECEC" stroke-width="1.1"/>
<line x1="931.68" y1="1172.6" x2="931.68" y2="1556.8" stroke="#ECECEC" stroke-width="1.1"/>
<line x1="971.34" y1="1172.6" x2="971.34" y2="1556.8" stroke="#ECECEC" stroke-width="1.1"/>
<line x1="1011" y1="1172.6" x2="1011" y2="1556.8" stroke="#ECECEC" stroke-width="1.1"/>
<line x1="1050.66" y1="1172.6" x2="1050.66" y2="1556.8" stroke="#ECECEC" stroke-width="1.1"/>
<line x1="1090.32" y1="1172.6" x2="1090.32" y2="1556.8" stroke="#ECECEC" stroke-width="1.1"/>
<line x1="1129.98" y1="1172.6" x2="1129.98" y2="1556.8" stroke="#ECECEC" stroke-width="1.1"/>
<line x1="1169.64" y1="1172.6" x2="1169.64" y2="1556.8" stroke="#ECECEC" stroke-width="1.1"/>
<line x1="1209.3" y1="1172.6" x2="1209.3" y2="1556.8" stroke="#ECECEC" stroke-width="1.1"/>
<line x1="1248.96" y1="1172.6" x2="1248.96" y2="1556.8" stroke="#ECECEC" stroke-width="1.1"/>
<g fill-opacity="0.47">
<circle cx="414.21" cy="1539.6" r="3.3" fill="#CD4B4B"/>
<circle cx="422.69" cy="1539.6" r="3.3" fill="#CD4B4B"/>
<circle cx="413.94" cy="1539.6" r="3.3" fill="#CD4B4B"/>
<circle cx="424.8" cy="1539.6" r="3.3" fill="#CD4B4B"/>
<circle cx="422.7" cy="1539.6" r="3.3" fill="#CD4B4B"/>
<circle cx="406.61" cy="1538.06" r="3.3" fill="#CD4B4B"/>
<circle cx="410.58" cy="1534.81" r="3.3" fill="#CD4B4B"/>
<circle cx="423.9" cy="1528.76" r="3.3" fill="#CD4B4B"/>
<circle cx="415.53" cy="1523.51" r="3.3" fill="#CD4B4B"/>
<circle cx="425.23" cy="1518.08" r="3.3" fill="#CD4B4B"/>
<circle cx="414.15" cy="1515.96" r="3.3" fill="#CD4B4B"/>
<circle cx="407.99" cy="1508.77" r="3.3" fill="#CD4B4B"/>
<circle cx="418.56" cy="1503.21" r="3.3" fill="#CD4B4B"/>
<circle cx="421.39" cy="1492.67" r="3.3" fill="#CD4B4B"/>
<circle cx="411.73" cy="1486.6" r="3.3" fill="#CD4B4B"/>
<circle cx="408.26" cy="1483.39" r="3.3" fill="#CD4B4B"/>
<circle cx="412.92" cy="1476.95" r="3.3" fill="#CD4B4B"/>
<circle cx="424.92" cy="1472.13" r="3.3" fill="#CD4B4B"/>
<circle cx="421" cy="1466.95" r="3.3" fill="#CD4B4B"/>
<circle cx="408.84" cy="1458.48" r="3.3" fill="#CD4B4B"/>
<circle cx="411.28" cy="1451.9" r="3.3" fill="#CD4B4B"/>
<circle cx="408.52" cy="1442.14" r="3.3" fill="#CD4B4B"/>
<circle cx="407.74" cy="1446.78" r="3.3" fill="#CD4B4B"/>
<circle cx="421.74" cy="1462.03" r="3.3" fill="#CD4B4B"/>
<circle cx="409.98" cy="1539.09" r="3.3" fill="#2DB5BD"/>
<circle cx="417.23" cy="1533.35" r="3.3" fill="#2DB5BD"/>
<circle cx="415.1" cy="1531.22" r="3.3" fill="#2DB5BD"/>
<circle cx="410.22" cy="1528.09" r="3.3" fill="#2DB5BD"/>
<circle cx="420.51" cy="1525.94" r="3.3" fill="#2DB5BD"/>
<circle cx="409.09" cy="1524.83" r="3.3" fill="#2DB5BD"/>
<circle cx="418.83" cy="1522.74" r="3.3" fill="#2DB5BD"/>
<circle cx="408.81" cy="1519.38" r="3.3" fill="#2DB5BD"/>
<circle cx="414.59" cy="1514.85" r="3.3" fill="#2DB5BD"/>
<circle cx="410.64" cy="1512.31" r="3.3" fill="#2DB5BD"/>
<circle cx="411.73" cy="1508.55" r="3.3" fill="#2DB5BD"/>
<circle cx="425.05" cy="1505.51" r="3.3" fill="#2DB5BD"/>
<circle cx="421.86" cy="1502.55" r="3.3" fill="#2DB5BD"/>
<circle cx="412.38" cy="1500.88" r="3.3" fill="#2DB5BD"/>
<circle cx="423.41" cy="1499.18" r="3.3" fill="#2DB5BD"/>
<circle cx="410.6" cy="1496.04" r="3.3" fill="#2DB5BD"/>
<circle cx="414.09" cy="1494.06" r="3.3" fill="#2DB5BD"/>
<circle cx="422.83" cy="1492.32" r="3.3" fill="#2DB5BD"/>
<circle cx="418.79" cy="1491.45" r="3.3" fill="#2DB5BD"/>
<circle cx="408.51" cy="1490.37" r="3.3" fill="#2DB5BD"/>
<circle cx="425.4" cy="1488.02" r="3.3" fill="#2DB5BD"/>
<circle cx="410.65" cy="1484.28" r="3.3" fill="#2DB5BD"/>
<circle cx="411.51" cy="1480.57" r="3.3" fill="#2DB5BD"/>
<circle cx="421.28" cy="1471.83" r="3.3" fill="#2DB5BD"/>
<circle cx="446.57" cy="1539.6" r="3.3" fill="#CD4B4B"/>
<circle cx="451.37" cy="1539.6" r="3.3" fill="#CD4B4B"/>
<circle cx="454.73" cy="1539.6" r="3.3" fill="#CD4B4B"/>
<circle cx="447.41" cy="1539.6" r="3.3" fill="#CD4B4B"/>
<circle cx="449.61" cy="1539.6" r="3.3" fill="#CD4B4B"/>
<circle cx="453.27" cy="1539.57" r="3.3" fill="#CD4B4B"/>
<circle cx="457.13" cy="1538.59" r="3.3" fill="#CD4B4B"/>
<circle cx="448.76" cy="1537.97" r="3.3" fill="#CD4B4B"/>
<circle cx="453.14" cy="1537.17" r="3.3" fill="#CD4B4B"/>
<circle cx="463.19" cy="1536.1" r="3.3" fill="#CD4B4B"/>
<circle cx="464.89" cy="1535.63" r="3.3" fill="#CD4B4B"/>
<circle cx="458.74" cy="1528.8" r="3.3" fill="#CD4B4B"/>
<circle cx="459.39" cy="1520.85" r="3.3" fill="#CD4B4B"/>
<circle cx="457.36" cy="1517.93" r="3.3" fill="#CD4B4B"/>
<circle cx="448.93" cy="1511.64" r="3.3" fill="#CD4B4B"/>
<circle cx="446.93" cy="1501.79" r="3.3" fill="#CD4B4B"/>
<circle cx="446.6" cy="1500.26" r="3.3" fill="#CD4B4B"/>
<circle cx="463.55" cy="1498.42" r="3.3" fill="#CD4B4B"/>
<circle cx="459.58" cy="1493.78" r="3.3" fill="#CD4B4B"/>
<circle cx="464.55" cy="1483.6" r="3.3" fill="#CD4B4B"/>
<circle cx="446.66" cy="1472.84" r="3.3" fill="#CD4B4B"/>
<circle cx="458.35" cy="1470.65" r="3.3" fill="#CD4B4B"/>
<circle cx="455.42" cy="1487.22" r="3.3" fill="#CD4B4B"/>
<circle cx="460.14" cy="1539.6" r="3.3" fill="#2DB5BD"/>
<circle cx="452.32" cy="1539.6" r="3.3" fill="#2DB5BD"/>
<circle cx="465.25" cy="1539.6" r="3.3" fill="#2DB5BD"/>
<circle cx="447.69" cy="1539.6" r="3.3" fill="#2DB5BD"/>
<circle cx="456.64" cy="1539.6" r="3.3" fill="#2DB5BD"/>
<circle cx="460.26" cy="1539.6" r="3.3" fill="#2DB5BD"/>
<circle cx="463.36" cy="1539.59" r="3.3" fill="#2DB5BD"/>
<circle cx="460.26" cy="1539.39" r="3.3" fill="#2DB5BD"/>
<circle cx="459.63" cy="1539.35" r="3.3" fill="#2DB5BD"/>
<circle cx="461.33" cy="1539.2" r="3.3" fill="#2DB5BD"/>
<circle cx="463.65" cy="1539.12" r="3.3" fill="#2DB5BD"/>
<circle cx="452.94" cy="1538.96" r="3.3" fill="#2DB5BD"/>
<circle cx="459.28" cy="1538.55" r="3.3" fill="#2DB5BD"/>
<circle cx="463.38" cy="1538.05" r="3.3" fill="#2DB5BD"/>
<circle cx="462.81" cy="1537.45" r="3.3" fill="#2DB5BD"/>
<circle cx="454.19" cy="1536.5" r="3.3" fill="#2DB5BD"/>
<circle cx="461.28" cy="1536.18" r="3.3" fill="#2DB5BD"/>
<circle cx="462.67" cy="1535.43" r="3.3" fill="#2DB5BD"/>
<circle cx="457.14" cy="1534.95" r="3.3" fill="#2DB5BD"/>
<circle cx="458.13" cy="1534.88" r="3.3" fill="#2DB5BD"/>
<circle cx="453.52" cy="1534.81" r="3.3" fill="#2DB5BD"/>
<circle cx="457.33" cy="1534.73" r="3.3" fill="#2DB5BD"/>
<circle cx="457.83" cy="1534.51" r="3.3" fill="#2DB5BD"/>
<circle cx="447.78" cy="1534.44" r="3.3" fill="#2DB5BD"/>
<circle cx="458.41" cy="1477.28" r="3.3" fill="#2DB5BD"/>
<circle cx="489.13" cy="1331.05" r="3.3" fill="#CD4B4B"/>
<circle cx="494.48" cy="1317.04" r="3.3" fill="#CD4B4B"/>
<circle cx="491.15" cy="1306.05" r="3.3" fill="#CD4B4B"/>
<circle cx="489.99" cy="1298.94" r="3.3" fill="#CD4B4B"/>
<circle cx="493.79" cy="1291.33" r="3.3" fill="#CD4B4B"/>
<circle cx="497.81" cy="1288.17" r="3.3" fill="#CD4B4B"/>
<circle cx="495.3" cy="1282.11" r="3.3" fill="#CD4B4B"/>
<circle cx="491.91" cy="1273.12" r="3.3" fill="#CD4B4B"/>
<circle cx="501.86" cy="1270.42" r="3.3" fill="#CD4B4B"/>
<circle cx="504.58" cy="1259.96" r="3.3" fill="#CD4B4B"/>
<circle cx="494.52" cy="1257.08" r="3.3" fill="#CD4B4B"/>
<circle cx="487.34" cy="1248.91" r="3.3" fill="#CD4B4B"/>
<circle cx="486.52" cy="1244.23" r="3.3" fill="#CD4B4B"/>
<circle cx="502.5" cy="1240.09" r="3.3" fill="#CD4B4B"/>
<circle cx="486.71" cy="1232.98" r="3.3" fill="#CD4B4B"/>
<circle cx="499.38" cy="1228.63" r="3.3" fill="#CD4B4B"/>
<circle cx="496.76" cy="1225.95" r="3.3" fill="#CD4B4B"/>
<circle cx="491.79" cy="1220.27" r="3.3" fill="#CD4B4B"/>
<circle cx="500.96" cy="1217.17" r="3.3" fill="#CD4B4B"/>
<circle cx="486.28" cy="1210.71" r="3.3" fill="#CD4B4B"/>
<circle cx="488.5" cy="1198.16" r="3.3" fill="#CD4B4B"/>
<circle cx="494.56" cy="1190.2" r="3.3" fill="#CD4B4B"/>
<circle cx="486.39" cy="1192.19" r="3.3" fill="#CD4B4B"/>
<circle cx="501.68" cy="1335.26" r="3.3" fill="#2DB5BD"/>
<circle cx="490.43" cy="1327" r="3.3" fill="#2DB5BD"/>
<circle cx="488.6" cy="1315.69" r="3.3" fill="#2DB5BD"/>
<circle cx="486.81" cy="1301.85" r="3.3" fill="#2DB5BD"/>
<circle cx="497.87" cy="1297.21" r="3.3" fill="#2DB5BD"/>
<circle cx="494.4" cy="1294.31" r="3.3" fill="#2DB5BD"/>
<circle cx="497.89" cy="1291.92" r="3.3" fill="#2DB5BD"/>
<circle cx="498.37" cy="1290.77" r="3.3" fill="#2DB5BD"/>
<circle cx="501.26" cy="1288.1" r="3.3" fill="#2DB5BD"/>
<circle cx="504.13" cy="1286.79" r="3.3" fill="#2DB5BD"/>
<circle cx="498.93" cy="1284.3" r="3.3" fill="#2DB5BD"/>
<circle cx="489.71" cy="1281.57" r="3.3" fill="#2DB5BD"/>
<circle cx="494.95" cy="1276.71" r="3.3" fill="#2DB5BD"/>
<circle cx="489.32" cy="1271.66" r="3.3" fill="#2DB5BD"/>
<circle cx="486.12" cy="1268.53" r="3.3" fill="#2DB5BD"/>
<circle cx="494.89" cy="1262.51" r="3.3" fill="#2DB5BD"/>
<circle cx="499.49" cy="1258.42" r="3.3" fill="#2DB5BD"/>
<circle cx="489.32" cy="1253.98" r="3.3" fill="#2DB5BD"/>
<circle cx="491.09" cy="1249.43" r="3.3" fill="#2DB5BD"/>
<circle cx="492.49" cy="1245.52" r="3.3" fill="#2DB5BD"/>
<circle cx="499.17" cy="1240.08" r="3.3" fill="#2DB5BD"/>
<circle cx="495.81" cy="1233.73" r="3.3" fill="#2DB5BD"/>
<circle cx="497.59" cy="1223.1" r="3.3" fill="#2DB5BD"/>
<circle cx="500.29" cy="1218.35" r="3.3" fill="#2DB5BD"/>
<circle cx="528.4" cy="1539.6" r="3.3" fill="#CD4B4B"/>
<circle cx="535.39" cy="1539.6" r="3.3" fill="#CD4B4B"/>
<circle cx="539.33" cy="1539.6" r="3.3" fill="#CD4B4B"/>
<circle cx="541.54" cy="1539.6" r="3.3" fill="#CD4B4B"/>
<circle cx="538.68" cy="1539.6" r="3.3" fill="#CD4B4B"/>
<circle cx="543.55" cy="1539.17" r="3.3" fill="#CD4B4B"/>
<circle cx="534.94" cy="1538.64" r="3.3" fill="#CD4B4B"/>
<circle cx="543.61" cy="1537.36" r="3.3" fill="#CD4B4B"/>
<circle cx="527.21" cy="1536.22" r="3.3" fill="#CD4B4B"/>
<circle cx="529.79" cy="1534.97" r="3.3" fill="#CD4B4B"/>
<circle cx="535.59" cy="1534.4" r="3.3" fill="#CD4B4B"/>
<circle cx="531.09" cy="1531.36" r="3.3" fill="#CD4B4B"/>
<circle cx="539.43" cy="1527.9" r="3.3" fill="#CD4B4B"/>
<circle cx="537.72" cy="1525.3" r="3.3" fill="#CD4B4B"/>
<circle cx="535.51" cy="1522.2" r="3.3" fill="#CD4B4B"/>
<circle cx="541.61" cy="1520.49" r="3.3" fill="#CD4B4B"/>
<circle cx="536.22" cy="1518.74" r="3.3" fill="#CD4B4B"/>
<circle cx="531.5" cy="1517.09" r="3.3" fill="#CD4B4B"/>
<circle cx="532.82" cy="1511.14" r="3.3" fill="#CD4B4B"/>
<circle cx="541.64" cy="1504.64" r="3.3" fill="#CD4B4B"/>
<circle cx="542.69" cy="1498.34" r="3.3" fill="#CD4B4B"/>
<circle cx="529.54" cy="1450.76" r="3.3" fill="#CD4B4B"/>
<circle cx="541.74" cy="1539.6" r="3.3" fill="#2DB5BD"/>
<circle cx="543.98" cy="1539.6" r="3.3" fill="#2DB5BD"/>
<circle cx="535.54" cy="1539.6" r="3.3" fill="#2DB5BD"/>
<circle cx="536.47" cy="1539.6" r="3.3" fill="#2DB5BD"/>
<circle cx="529.4" cy="1539.6" r="3.3" fill="#2DB5BD"/>
<circle cx="535.76" cy="1539.6" r="3.3" fill="#2DB5BD"/>
<circle cx="535.14" cy="1535.88" r="3.3" fill="#2DB5BD"/>
<circle cx="537.08" cy="1532.71" r="3.3" fill="#2DB5BD"/>
<circle cx="526.11" cy="1525.23" r="3.3" fill="#2DB5BD"/>
<circle cx="544" cy="1520.36" r="3.3" fill="#2DB5BD"/>
<circle cx="535.38" cy="1517.34" r="3.3" fill="#2DB5BD"/>
<circle cx="533.19" cy="1513.34" r="3.3" fill="#2DB5BD"/>
<circle cx="540.8" cy="1508.13" r="3.3" fill="#2DB5BD"/>
<circle cx="536.27" cy="1505.78" r="3.3" fill="#2DB5BD"/>
<circle cx="534.91" cy="1503.25" r="3.3" fill="#2DB5BD"/>
<circle cx="538.71" cy="1501.58" r="3.3" fill="#2DB5BD"/>
<circle cx="526.83" cy="1500.22" r="3.3" fill="#2DB5BD"/>
<circle cx="535.82" cy="1496.72" r="3.3" fill="#2DB5BD"/>
<circle cx="533.44" cy="1496.15" r="3.3" fill="#2DB5BD"/>
<circle cx="543.76" cy="1494" r="3.3" fill="#2DB5BD"/>
<circle cx="543.12" cy="1492.75" r="3.3" fill="#2DB5BD"/>
<circle cx="530.7" cy="1489.02" r="3.3" fill="#2DB5BD"/>
<circle cx="534.57" cy="1482.99" r="3.3" fill="#2DB5BD"/>
<circle cx="527.99" cy="1480.48" r="3.3" fill="#2DB5BD"/>
<circle cx="533.82" cy="1474.63" r="3.3" fill="#2DB5BD"/>
<circle cx="567.78" cy="1537.02" r="3.3" fill="#CD4B4B"/>
<circle cx="569.79" cy="1533.92" r="3.3" fill="#CD4B4B"/>
<circle cx="579.04" cy="1532.35" r="3.3" fill="#CD4B4B"/>
<circle cx="570.17" cy="1530.69" r="3.3" fill="#CD4B4B"/>
<circle cx="567.08" cy="1529.53" r="3.3" fill="#CD4B4B"/>
<circle cx="581.05" cy="1528.21" r="3.3" fill="#CD4B4B"/>
<circle cx="573.25" cy="1525.38" r="3.3" fill="#CD4B4B"/>
<circle cx="580.25" cy="1524.55" r="3.3" fill="#CD4B4B"/>
<circle cx="567.63" cy="1521.1" r="3.3" fill="#CD4B4B"/>
<circle cx="572.89" cy="1520.2" r="3.3" fill="#CD4B4B"/>
<circle cx="578.26" cy="1517.61" r="3.3" fill="#CD4B4B"/>
<circle cx="565.58" cy="1515.77" r="3.3" fill="#CD4B4B"/>
<circle cx="569.06" cy="1513.53" r="3.3" fill="#CD4B4B"/>
<circle cx="578.21" cy="1512.37" r="3.3" fill="#CD4B4B"/>
<circle cx="582.56" cy="1510.68" r="3.3" fill="#CD4B4B"/>
<circle cx="583.64" cy="1508.69" r="3.3" fill="#CD4B4B"/>
<circle cx="567.43" cy="1508.27" r="3.3" fill="#CD4B4B"/>
<circle cx="574.85" cy="1506.02" r="3.3" fill="#CD4B4B"/>
<circle cx="579.64" cy="1504.74" r="3.3" fill="#CD4B4B"/>
<circle cx="574.79" cy="1500.45" r="3.3" fill="#CD4B4B"/>
<circle cx="578.27" cy="1497.16" r="3.3" fill="#CD4B4B"/>
<circle cx="568.83" cy="1461.37" r="3.3" fill="#CD4B4B"/>
<circle cx="566.58" cy="1469.32" r="3.3" fill="#CD4B4B"/>
<circle cx="567.26" cy="1539.6" r="3.3" fill="#2DB5BD"/>
<circle cx="565.95" cy="1539.6" r="3.3" fill="#2DB5BD"/>
<circle cx="575.72" cy="1539.6" r="3.3" fill="#2DB5BD"/>
<circle cx="575.02" cy="1539.6" r="3.3" fill="#2DB5BD"/>
<circle cx="576.05" cy="1539.6" r="3.3" fill="#2DB5BD"/>
<circle cx="568.02" cy="1539.6" r="3.3" fill="#2DB5BD"/>
<circle cx="568.75" cy="1539.57" r="3.3" fill="#2DB5BD"/>
<circle cx="569.11" cy="1539.46" r="3.3" fill="#2DB5BD"/>
<circle cx="581.2" cy="1539.31" r="3.3" fill="#2DB5BD"/>
<circle cx="584.06" cy="1539.2" r="3.3" fill="#2DB5BD"/>
<circle cx="582.85" cy="1539.1" r="3.3" fill="#2DB5BD"/>
<circle cx="567.05" cy="1538.96" r="3.3" fill="#2DB5BD"/>
<circle cx="566.42" cy="1537.96" r="3.3" fill="#2DB5BD"/>
<circle cx="583.32" cy="1535.98" r="3.3" fill="#2DB5BD"/>
<circle cx="574.02" cy="1535.15" r="3.3" fill="#2DB5BD"/>
<circle cx="579.77" cy="1532.82" r="3.3" fill="#2DB5BD"/>
<circle cx="571.45" cy="1531.07" r="3.3" fill="#2DB5BD"/>
<circle cx="574.11" cy="1529.29" r="3.3" fill="#2DB5BD"/>
<circle cx="575.03" cy="1528.91" r="3.3" fill="#2DB5BD"/>
<circle cx="573.41" cy="1528.04" r="3.3" fill="#2DB5BD"/>
<circle cx="576.66" cy="1525.37" r="3.3" fill="#2DB5BD"/>
<circle cx="565.49" cy="1524.31" r="3.3" fill="#2DB5BD"/>
<circle cx="578.56" cy="1519.33" r="3.3" fill="#2DB5BD"/>
<circle cx="581.28" cy="1515.85" r="3.3" fill="#2DB5BD"/>
<circle cx="568.68" cy="1484.57" r="3.3" fill="#2DB5BD"/>
<circle cx="623.9" cy="1539.6" r="3.3" fill="#CD4B4B"/>
<circle cx="617.1" cy="1539.6" r="3.3" fill="#CD4B4B"/>
<circle cx="618.22" cy="1539.6" r="3.3" fill="#CD4B4B"/>
<circle cx="619.37" cy="1539.6" r="3.3" fill="#CD4B4B"/>
<circle cx="623.52" cy="1539.6" r="3.3" fill="#CD4B4B"/>
<circle cx="605.33" cy="1538.29" r="3.3" fill="#CD4B4B"/>
<circle cx="616.59" cy="1535.24" r="3.3" fill="#CD4B4B"/>
<circle cx="618.94" cy="1526.65" r="3.3" fill="#CD4B4B"/>
<circle cx="609.78" cy="1521.96" r="3.3" fill="#CD4B4B"/>
<circle cx="612.53" cy="1517.3" r="3.3" fill="#CD4B4B"/>
<circle cx="605.86" cy="1510.89" r="3.3" fill="#CD4B4B"/>
<circle cx="608.61" cy="1504.72" r="3.3" fill="#CD4B4B"/>
<circle cx="612.04" cy="1498.5" r="3.3" fill="#CD4B4B"/>
<circle cx="606.77" cy="1489.74" r="3.3" fill="#CD4B4B"/>
<circle cx="609.67" cy="1482.75" r="3.3" fill="#CD4B4B"/>
<circle cx="622.11" cy="1473.28" r="3.3" fill="#CD4B4B"/>
<circle cx="615.35" cy="1472.5" r="3.3" fill="#CD4B4B"/>
<circle cx="614.55" cy="1471.52" r="3.3" fill="#CD4B4B"/>
<circle cx="623.28" cy="1467.21" r="3.3" fill="#CD4B4B"/>
<circle cx="615.69" cy="1463.78" r="3.3" fill="#CD4B4B"/>
<circle cx="623.81" cy="1458.87" r="3.3" fill="#CD4B4B"/>
<circle cx="617.02" cy="1342.69" r="3.3" fill="#CD4B4B"/>
<circle cx="620.28" cy="1539.03" r="3.3" fill="#2DB5BD"/>
<circle cx="606.35" cy="1538.58" r="3.3" fill="#2DB5BD"/>
<circle cx="616.25" cy="1537.8" r="3.3" fill="#2DB5BD"/>
<circle cx="619.33" cy="1537.38" r="3.3" fill="#2DB5BD"/>
<circle cx="605.76" cy="1537.13" r="3.3" fill="#2DB5BD"/>
<circle cx="622.57" cy="1536.96" r="3.3" fill="#2DB5BD"/>
<circle cx="607.94" cy="1530.97" r="3.3" fill="#2DB5BD"/>
<circle cx="613.86" cy="1524.98" r="3.3" fill="#2DB5BD"/>
<circle cx="608.11" cy="1514.46" r="3.3" fill="#2DB5BD"/>
<circle cx="614.31" cy="1510.44" r="3.3" fill="#2DB5BD"/>
<circle cx="616.51" cy="1500.22" r="3.3" fill="#2DB5BD"/>
<circle cx="606.01" cy="1490.97" r="3.3" fill="#2DB5BD"/>
<circle cx="622.86" cy="1486.13" r="3.3" fill="#2DB5BD"/>
<circle cx="612.89" cy="1481.05" r="3.3" fill="#2DB5BD"/>
<circle cx="614.91" cy="1476.17" r="3.3" fill="#2DB5BD"/>
<circle cx="616.26" cy="1472.24" r="3.3" fill="#2DB5BD"/>
<circle cx="611.85" cy="1469.51" r="3.3" fill="#2DB5BD"/>
<circle cx="610.33" cy="1463.27" r="3.3" fill="#2DB5BD"/>
<circle cx="617.35" cy="1461.21" r="3.3" fill="#2DB5BD"/>
<circle cx="615.55" cy="1456.75" r="3.3" fill="#2DB5BD"/>
<circle cx="610.29" cy="1443.49" r="3.3" fill="#2DB5BD"/>
<circle cx="618.52" cy="1429.6" r="3.3" fill="#2DB5BD"/>
<circle cx="610.52" cy="1411.59" r="3.3" fill="#2DB5BD"/>
<circle cx="605.17" cy="1392.21" r="3.3" fill="#2DB5BD"/>
<circle cx="609.56" cy="1377.83" r="3.3" fill="#2DB5BD"/>
<circle cx="605.71" cy="1392.41" r="3.3" fill="#2DB5BD"/>
<circle cx="607.88" cy="1400.37" r="3.3" fill="#2DB5BD"/>
<circle cx="619.24" cy="1430.87" r="3.3" fill="#2DB5BD"/>
<circle cx="655.29" cy="1539.6" r="3.3" fill="#CD4B4B"/>
<circle cx="655.8" cy="1539.6" r="3.3" fill="#CD4B4B"/>
<circle cx="656.59" cy="1539.6" r="3.3" fill="#CD4B4B"/>
<circle cx="658.87" cy="1539.6" r="3.3" fill="#CD4B4B"/>
<circle cx="648.17" cy="1539.6" r="3.3" fill="#CD4B4B"/>
<circle cx="649.29" cy="1539.45" r="3.3" fill="#CD4B4B"/>
<circle cx="663.17" cy="1539.37" r="3.3" fill="#CD4B4B"/>
<circle cx="661.96" cy="1538.95" r="3.3" fill="#CD4B4B"/>
<circle cx="661.26" cy="1538.79" r="3.3" fill="#CD4B4B"/>
<circle cx="645.31" cy="1538.53" r="3.3" fill="#CD4B4B"/>
<circle cx="645.71" cy="1538.08" r="3.3" fill="#CD4B4B"/>
<circle cx="649.71" cy="1537.87" r="3.3" fill="#CD4B4B"/>
<circle cx="652.64" cy="1537.25" r="3.3" fill="#CD4B4B"/>
<circle cx="656.4" cy="1536.58" r="3.3" fill="#CD4B4B"/>
<circle cx="646.51" cy="1536.16" r="3.3" fill="#CD4B4B"/>
<circle cx="654.85" cy="1535.76" r="3.3" fill="#CD4B4B"/>
<circle cx="645.94" cy="1535.37" r="3.3" fill="#CD4B4B"/>
<circle cx="646.2" cy="1534.92" r="3.3" fill="#CD4B4B"/>
<circle cx="657.41" cy="1534.31" r="3.3" fill="#CD4B4B"/>
<circle cx="655.02" cy="1533.76" r="3.3" fill="#CD4B4B"/>
<circle cx="656.55" cy="1532.17" r="3.3" fill="#CD4B4B"/>
<circle cx="651.65" cy="1520.37" r="3.3" fill="#CD4B4B"/>
<circle cx="653.65" cy="1539.6" r="3.3" fill="#2DB5BD"/>
<circle cx="648.56" cy="1539.6" r="3.3" fill="#2DB5BD"/>
<circle cx="651.09" cy="1539.6" r="3.3" fill="#2DB5BD"/>
<circle cx="658.71" cy="1539.6" r="3.3" fill="#2DB5BD"/>
<circle cx="660.49" cy="1539.6" r="3.3" fill="#2DB5BD"/>
<circle cx="645.97" cy="1539.6" r="3.3" fill="#2DB5BD"/>
<circle cx="646.84" cy="1539.53" r="3.3" fill="#2DB5BD"/>
<circle cx="659.93" cy="1539.44" r="3.3" fill="#2DB5BD"/>
<circle cx="656.41" cy="1539.34" r="3.3" fill="#2DB5BD"/>
<circle cx="659.17" cy="1539.21" r="3.3" fill="#2DB5BD"/>
<circle cx="648.61" cy="1539.11" r="3.3" fill="#2DB5BD"/>
<circle cx="652.62" cy="1538.97" r="3.3" fill="#2DB5BD"/>
<circle cx="649.46" cy="1538.36" r="3.3" fill="#2DB5BD"/>
<circle cx="659.95" cy="1536.84" r="3.3" fill="#2DB5BD"/>
<circle cx="651.57" cy="1535.77" r="3.3" fill="#2DB5BD"/>
<circle cx="656.98" cy="1534.86" r="3.3" fill="#2DB5BD"/>
<circle cx="663.35" cy="1534.2" r="3.3" fill="#2DB5BD"/>
<circle cx="650.74" cy="1533.2" r="3.3" fill="#2DB5BD"/>
<circle cx="654.98" cy="1532.2" r="3.3" fill="#2DB5BD"/>
<circle cx="658.74" cy="1531.88" r="3.3" fill="#2DB5BD"/>
<circle cx="662.06" cy="1531.42" r="3.3" fill="#2DB5BD"/>
<circle cx="652.69" cy="1530.89" r="3.3" fill="#2DB5BD"/>
<circle cx="651.58" cy="1530.11" r="3.3" fill="#2DB5BD"/>
<circle cx="646.4" cy="1528.74" r="3.3" fill="#2DB5BD"/>
<circle cx="661.19" cy="1485.23" r="3.3" fill="#2DB5BD"/>
<circle cx="646.05" cy="1499.16" r="3.3" fill="#2DB5BD"/>
<circle cx="646.14" cy="1511.75" r="3.3" fill="#2DB5BD"/>
<circle cx="689.57" cy="1539.6" r="3.3" fill="#CD4B4B"/>
<circle cx="684.64" cy="1539.6" r="3.3" fill="#CD4B4B"/>
<circle cx="694.02" cy="1539.6" r="3.3" fill="#CD4B4B"/>
<circle cx="694.56" cy="1539.6" r="3.3" fill="#CD4B4B"/>
<circle cx="695" cy="1539.6" r="3.3" fill="#CD4B4B"/>
<circle cx="702.58" cy="1539.6" r="3.3" fill="#CD4B4B"/>
<circle cx="696.59" cy="1539.6" r="3.3" fill="#CD4B4B"/>
<circle cx="699.5" cy="1539.6" r="3.3" fill="#CD4B4B"/>
<circle cx="685.44" cy="1539.6" r="3.3" fill="#CD4B4B"/>
<circle cx="694.61" cy="1539.6" r="3.3" fill="#CD4B4B"/>
<circle cx="699.19" cy="1539.6" r="3.3" fill="#CD4B4B"/>
<circle cx="685.82" cy="1539.6" r="3.3" fill="#CD4B4B"/>
<circle cx="685.77" cy="1539.6" r="3.3" fill="#CD4B4B"/>
<circle cx="698.22" cy="1539.6" r="3.3" fill="#CD4B4B"/>
<circle cx="701.3" cy="1539.6" r="3.3" fill="#CD4B4B"/>
<circle cx="685.83" cy="1539.6" r="3.3" fill="#CD4B4B"/>
<circle cx="696.27" cy="1539.6" r="3.3" fill="#CD4B4B"/>
<circle cx="686.95" cy="1539.6" r="3.3" fill="#CD4B4B"/>
<circle cx="698.39" cy="1539.6" r="3.3" fill="#CD4B4B"/>
<circle cx="696.55" cy="1539.6" r="3.3" fill="#CD4B4B"/>
<circle cx="688.88" cy="1539.6" r="3.3" fill="#CD4B4B"/>
<circle cx="688.41" cy="1503.13" r="3.3" fill="#CD4B4B"/>
<circle cx="698.76" cy="1539.6" r="3.3" fill="#2DB5BD"/>
<circle cx="694.13" cy="1539.6" r="3.3" fill="#2DB5BD"/>
<circle cx="698.75" cy="1539.6" r="3.3" fill="#2DB5BD"/>
<circle cx="691.71" cy="1539.6" r="3.3" fill="#2DB5BD"/>
<circle cx="690.64" cy="1539.6" r="3.3" fill="#2DB5BD"/>
<circle cx="702.62" cy="1539.6" r="3.3" fill="#2DB5BD"/>
<circle cx="697" cy="1539.6" r="3.3" fill="#2DB5BD"/>
<circle cx="693.6" cy="1539.6" r="3.3" fill="#2DB5BD"/>
<circle cx="694.43" cy="1539.6" r="3.3" fill="#2DB5BD"/>
<circle cx="697.92" cy="1539.6" r="3.3" fill="#2DB5BD"/>
<circle cx="697.67" cy="1539.6" r="3.3" fill="#2DB5BD"/>
<circle cx="701.6" cy="1539.6" r="3.3" fill="#2DB5BD"/>
<circle cx="692.02" cy="1539.6" r="3.3" fill="#2DB5BD"/>
<circle cx="699.92" cy="1539.6" r="3.3" fill="#2DB5BD"/>
<circle cx="696.89" cy="1539.6" r="3.3" fill="#2DB5BD"/>
<circle cx="700.44" cy="1539.6" r="3.3" fill="#2DB5BD"/>
<circle cx="699.53" cy="1539.6" r="3.3" fill="#2DB5BD"/>
<circle cx="700.06" cy="1539.6" r="3.3" fill="#2DB5BD"/>
<circle cx="701.1" cy="1539.6" r="3.3" fill="#2DB5BD"/>
<circle cx="702.42" cy="1539.6" r="3.3" fill="#2DB5BD"/>
<circle cx="696.39" cy="1539.6" r="3.3" fill="#2DB5BD"/>
<circle cx="694.17" cy="1539.6" r="3.3" fill="#2DB5BD"/>
<circle cx="697.71" cy="1539.6" r="3.3" fill="#2DB5BD"/>
<circle cx="699.46" cy="1539.6" r="3.3" fill="#2DB5BD"/>
<circle cx="692.23" cy="1508.44" r="3.3" fill="#2DB5BD"/>
<circle cx="741.88" cy="1533.85" r="3.3" fill="#CD4B4B"/>
<circle cx="739.11" cy="1524.57" r="3.3" fill="#CD4B4B"/>
<circle cx="731.19" cy="1510.72" r="3.3" fill="#CD4B4B"/>
<circle cx="733.9" cy="1503.3" r="3.3" fill="#CD4B4B"/>
<circle cx="733.68" cy="1501.32" r="3.3" fill="#CD4B4B"/>
<circle cx="729.1" cy="1499.82" r="3.3" fill="#CD4B4B"/>
<circle cx="742.69" cy="1496.88" r="3.3" fill="#CD4B4B"/>
<circle cx="736.37" cy="1493.46" r="3.3" fill="#CD4B4B"/>
<circle cx="728.39" cy="1490.86" r="3.3" fill="#CD4B4B"/>
<circle cx="724.09" cy="1486.38" r="3.3" fill="#CD4B4B"/>
<circle cx="732.86" cy="1485.6" r="3.3" fill="#CD4B4B"/>
<circle cx="730.94" cy="1480.29" r="3.3" fill="#CD4B4B"/>
<circle cx="739.02" cy="1476.02" r="3.3" fill="#CD4B4B"/>
<circle cx="737.43" cy="1468.82" r="3.3" fill="#CD4B4B"/>
<circle cx="735.4" cy="1463.25" r="3.3" fill="#CD4B4B"/>
<circle cx="726.87" cy="1460.61" r="3.3" fill="#CD4B4B"/>
<circle cx="726.86" cy="1457.65" r="3.3" fill="#CD4B4B"/>
<circle cx="729.99" cy="1452.46" r="3.3" fill="#CD4B4B"/>
<circle cx="728.81" cy="1444.43" r="3.3" fill="#CD4B4B"/>
<circle cx="740.4" cy="1431.55" r="3.3" fill="#CD4B4B"/>
<circle cx="733.69" cy="1427.92" r="3.3" fill="#CD4B4B"/>
<circle cx="735.98" cy="1415.62" r="3.3" fill="#CD4B4B"/>
<circle cx="742.75" cy="1426.89" r="3.3" fill="#CD4B4B"/>
<circle cx="728.94" cy="1537.8" r="3.3" fill="#2DB5BD"/>
<circle cx="734.04" cy="1528.47" r="3.3" fill="#2DB5BD"/>
<circle cx="726.74" cy="1520.89" r="3.3" fill="#2DB5BD"/>
<circle cx="738.52" cy="1514.89" r="3.3" fill="#2DB5BD"/>
<circle cx="723.91" cy="1509.26" r="3.3" fill="#2DB5BD"/>
<circle cx="739.49" cy="1507.39" r="3.3" fill="#2DB5BD"/>
<circle cx="739.96" cy="1506.03" r="3.3" fill="#2DB5BD"/>
<circle cx="739.5" cy="1502.29" r="3.3" fill="#2DB5BD"/>
<circle cx="725.45" cy="1498.12" r="3.3" fill="#2DB5BD"/>
<circle cx="729.01" cy="1494.59" r="3.3" fill="#2DB5BD"/>
<circle cx="737.49" cy="1488.91" r="3.3" fill="#2DB5BD"/>
<circle cx="725.73" cy="1486.42" r="3.3" fill="#2DB5BD"/>
<circle cx="733" cy="1481.97" r="3.3" fill="#2DB5BD"/>
<circle cx="732.78" cy="1477.61" r="3.3" fill="#2DB5BD"/>
<circle cx="742.03" cy="1474.99" r="3.3" fill="#2DB5BD"/>
<circle cx="735.03" cy="1472.03" r="3.3" fill="#2DB5BD"/>
<circle cx="740.17" cy="1466.63" r="3.3" fill="#2DB5BD"/>
<circle cx="729.65" cy="1462.97" r="3.3" fill="#2DB5BD"/>
<circle cx="738.88" cy="1462.19" r="3.3" fill="#2DB5BD"/>
<circle cx="731.8" cy="1460.22" r="3.3" fill="#2DB5BD"/>
<circle cx="741.3" cy="1455.79" r="3.3" fill="#2DB5BD"/>
<circle cx="725.61" cy="1453" r="3.3" fill="#2DB5BD"/>
<circle cx="739.58" cy="1448.84" r="3.3" fill="#2DB5BD"/>
<circle cx="727.84" cy="1443.54" r="3.3" fill="#2DB5BD"/>
<circle cx="765.29" cy="1539.6" r="3.3" fill="#CD4B4B"/>
<circle cx="766.22" cy="1539.6" r="3.3" fill="#CD4B4B"/>
<circle cx="765.33" cy="1539.6" r="3.3" fill="#CD4B4B"/>
<circle cx="776.42" cy="1539.6" r="3.3" fill="#CD4B4B"/>
<circle cx="777" cy="1539.6" r="3.3" fill="#CD4B4B"/>
<circle cx="766.96" cy="1539.6" r="3.3" fill="#CD4B4B"/>
<circle cx="771.18" cy="1539.6" r="3.3" fill="#CD4B4B"/>
<circle cx="779.44" cy="1539.6" r="3.3" fill="#CD4B4B"/>
<circle cx="774.8" cy="1539.6" r="3.3" fill="#CD4B4B"/>
<circle cx="765.25" cy="1539.6" r="3.3" fill="#CD4B4B"/>
<circle cx="767.85" cy="1539.6" r="3.3" fill="#CD4B4B"/>
<circle cx="766.52" cy="1539.6" r="3.3" fill="#CD4B4B"/>
<circle cx="765.9" cy="1539.6" r="3.3" fill="#CD4B4B"/>
<circle cx="771.27" cy="1539.6" r="3.3" fill="#CD4B4B"/>
<circle cx="764.92" cy="1539.6" r="3.3" fill="#CD4B4B"/>
<circle cx="781.03" cy="1539.6" r="3.3" fill="#CD4B4B"/>
<circle cx="771.65" cy="1539.6" r="3.3" fill="#CD4B4B"/>
<circle cx="773.26" cy="1539.6" r="3.3" fill="#CD4B4B"/>
<circle cx="775.84" cy="1539.6" r="3.3" fill="#CD4B4B"/>
<circle cx="778.11" cy="1539.6" r="3.3" fill="#CD4B4B"/>
<circle cx="779.14" cy="1539.6" r="3.3" fill="#CD4B4B"/>
<circle cx="770.87" cy="1511.75" r="3.3" fill="#CD4B4B"/>
<circle cx="769.84" cy="1526.34" r="3.3" fill="#CD4B4B"/>
<circle cx="771.37" cy="1539.6" r="3.3" fill="#2DB5BD"/>
<circle cx="763.83" cy="1539.6" r="3.3" fill="#2DB5BD"/>
<circle cx="771.15" cy="1539.6" r="3.3" fill="#2DB5BD"/>
<circle cx="776.84" cy="1539.6" r="3.3" fill="#2DB5BD"/>
<circle cx="782.2" cy="1539.6" r="3.3" fill="#2DB5BD"/>
<circle cx="778.54" cy="1539.6" r="3.3" fill="#2DB5BD"/>
<circle cx="776.08" cy="1539.6" r="3.3" fill="#2DB5BD"/>
<circle cx="775.1" cy="1539.6" r="3.3" fill="#2DB5BD"/>
<circle cx="763.89" cy="1539.6" r="3.3" fill="#2DB5BD"/>
<circle cx="769.83" cy="1539.6" r="3.3" fill="#2DB5BD"/>
<circle cx="770.04" cy="1539.6" r="3.3" fill="#2DB5BD"/>
<circle cx="775.9" cy="1539.6" r="3.3" fill="#2DB5BD"/>
<circle cx="765.56" cy="1539.6" r="3.3" fill="#2DB5BD"/>
<circle cx="770.71" cy="1539.6" r="3.3" fill="#2DB5BD"/>
<circle cx="773.22" cy="1539.6" r="3.3" fill="#2DB5BD"/>
<circle cx="778.52" cy="1539.6" r="3.3" fill="#2DB5BD"/>
<circle cx="779.22" cy="1539.6" r="3.3" fill="#2DB5BD"/>
<circle cx="775.16" cy="1539.6" r="3.3" fill="#2DB5BD"/>
<circle cx="766.55" cy="1539.6" r="3.3" fill="#2DB5BD"/>
<circle cx="778.1" cy="1539.6" r="3.3" fill="#2DB5BD"/>
<circle cx="780.7" cy="1539.6" r="3.3" fill="#2DB5BD"/>
<circle cx="773.96" cy="1539.6" r="3.3" fill="#2DB5BD"/>
<circle cx="770.24" cy="1539.6" r="3.3" fill="#2DB5BD"/>
<circle cx="773.05" cy="1539.6" r="3.3" fill="#2DB5BD"/>
<circle cx="766.23" cy="1508.44" r="3.3" fill="#2DB5BD"/>
<circle cx="815.95" cy="1531.36" r="3.3" fill="#CD4B4B"/>
<circle cx="817.22" cy="1518.74" r="3.3" fill="#CD4B4B"/>
<circle cx="810.45" cy="1513.51" r="3.3" fill="#CD4B4B"/>
<circle cx="814.45" cy="1506.15" r="3.3" fill="#CD4B4B"/>
<circle cx="818.47" cy="1502.32" r="3.3" fill="#CD4B4B"/>
<circle cx="803.51" cy="1501.76" r="3.3" fill="#CD4B4B"/>
<circle cx="806.99" cy="1491.67" r="3.3" fill="#CD4B4B"/>
<circle cx="812.09" cy="1486.96" r="3.3" fill="#CD4B4B"/>
<circle cx="805.92" cy="1482.81" r="3.3" fill="#CD4B4B"/>
<circle cx="810.54" cy="1477.08" r="3.3" fill="#CD4B4B"/>
<circle cx="814.02" cy="1469.95" r="3.3" fill="#CD4B4B"/>
<circle cx="806.5" cy="1463.43" r="3.3" fill="#CD4B4B"/>
<circle cx="813.08" cy="1458.03" r="3.3" fill="#CD4B4B"/>
<circle cx="808.21" cy="1454.56" r="3.3" fill="#CD4B4B"/>
<circle cx="813.99" cy="1447.27" r="3.3" fill="#CD4B4B"/>
<circle cx="809.51" cy="1444.58" r="3.3" fill="#CD4B4B"/>
<circle cx="815.39" cy="1442.24" r="3.3" fill="#CD4B4B"/>
<circle cx="803.92" cy="1440.84" r="3.3" fill="#CD4B4B"/>
<circle cx="815.95" cy="1434.97" r="3.3" fill="#CD4B4B"/>
<circle cx="805.95" cy="1433.42" r="3.3" fill="#CD4B4B"/>
<circle cx="821.43" cy="1424.1" r="3.3" fill="#CD4B4B"/>
<circle cx="814.6" cy="1513.56" r="3.3" fill="#2DB5BD"/>
<circle cx="812.13" cy="1503.17" r="3.3" fill="#2DB5BD"/>
<circle cx="811.02" cy="1494.63" r="3.3" fill="#2DB5BD"/>
<circle cx="815.05" cy="1489.31" r="3.3" fill="#2DB5BD"/>
<circle cx="816.3" cy="1482.04" r="3.3" fill="#2DB5BD"/>
<circle cx="817.6" cy="1479.96" r="3.3" fill="#2DB5BD"/>
<circle cx="817.48" cy="1478.43" r="3.3" fill="#2DB5BD"/>
<circle cx="812.43" cy="1476.78" r="3.3" fill="#2DB5BD"/>
<circle cx="822.1" cy="1475.56" r="3.3" fill="#2DB5BD"/>
<circle cx="819.13" cy="1472.45" r="3.3" fill="#2DB5BD"/>
<circle cx="819.45" cy="1471.32" r="3.3" fill="#2DB5BD"/>
<circle cx="810.97" cy="1468.36" r="3.3" fill="#2DB5BD"/>
<circle cx="811.45" cy="1467.06" r="3.3" fill="#2DB5BD"/>
<circle cx="813.95" cy="1463" r="3.3" fill="#2DB5BD"/>
<circle cx="820.4" cy="1459.14" r="3.3" fill="#2DB5BD"/>
<circle cx="813.19" cy="1457.59" r="3.3" fill="#2DB5BD"/>
<circle cx="813.18" cy="1453.45" r="3.3" fill="#2DB5BD"/>
<circle cx="811.41" cy="1451.46" r="3.3" fill="#2DB5BD"/>
<circle cx="820.38" cy="1448.75" r="3.3" fill="#2DB5BD"/>
<circle cx="809.29" cy="1447.36" r="3.3" fill="#2DB5BD"/>
<circle cx="804.24" cy="1442.36" r="3.3" fill="#2DB5BD"/>
<circle cx="816.99" cy="1438.02" r="3.3" fill="#2DB5BD"/>
<circle cx="820.3" cy="1433.82" r="3.3" fill="#2DB5BD"/>
<circle cx="817.11" cy="1429.38" r="3.3" fill="#2DB5BD"/>
<circle cx="848.71" cy="1539.6" r="3.3" fill="#CD4B4B"/>
<circle cx="852.33" cy="1539.6" r="3.3" fill="#CD4B4B"/>
<circle cx="860.6" cy="1539.6" r="3.3" fill="#CD4B4B"/>
<circle cx="861.43" cy="1539.6" r="3.3" fill="#CD4B4B"/>
<circle cx="851.84" cy="1539.6" r="3.3" fill="#CD4B4B"/>
<circle cx="846.78" cy="1539.6" r="3.3" fill="#CD4B4B"/>
<circle cx="848.47" cy="1539.6" r="3.3" fill="#CD4B4B"/>
<circle cx="860.39" cy="1539.6" r="3.3" fill="#CD4B4B"/>
<circle cx="859.9" cy="1539.6" r="3.3" fill="#CD4B4B"/>
<circle cx="846.57" cy="1539.6" r="3.3" fill="#CD4B4B"/>
<circle cx="858.78" cy="1539.6" r="3.3" fill="#CD4B4B"/>
<circle cx="849.59" cy="1539.6" r="3.3" fill="#CD4B4B"/>
<circle cx="851.84" cy="1539.6" r="3.3" fill="#CD4B4B"/>
<circle cx="846.13" cy="1539.6" r="3.3" fill="#CD4B4B"/>
<circle cx="859.57" cy="1539.6" r="3.3" fill="#CD4B4B"/>
<circle cx="861.77" cy="1539.6" r="3.3" fill="#CD4B4B"/>
<circle cx="846.7" cy="1539.6" r="3.3" fill="#CD4B4B"/>
<circle cx="854.88" cy="1539.6" r="3.3" fill="#CD4B4B"/>
<circle cx="846.5" cy="1539.6" r="3.3" fill="#CD4B4B"/>
<circle cx="859.58" cy="1539.6" r="3.3" fill="#CD4B4B"/>
<circle cx="843.81" cy="1539.6" r="3.3" fill="#CD4B4B"/>
<circle cx="844.88" cy="1523.69" r="3.3" fill="#CD4B4B"/>
<circle cx="856.65" cy="1539.6" r="3.3" fill="#2DB5BD"/>
<circle cx="848.81" cy="1539.6" r="3.3" fill="#2DB5BD"/>
<circle cx="859.97" cy="1539.6" r="3.3" fill="#2DB5BD"/>
<circle cx="859.38" cy="1539.6" r="3.3" fill="#2DB5BD"/>
<circle cx="856.41" cy="1539.6" r="3.3" fill="#2DB5BD"/>
<circle cx="845.42" cy="1539.6" r="3.3" fill="#2DB5BD"/>
<circle cx="856.08" cy="1539.6" r="3.3" fill="#2DB5BD"/>
<circle cx="860.68" cy="1539.6" r="3.3" fill="#2DB5BD"/>
<circle cx="851.32" cy="1539.6" r="3.3" fill="#2DB5BD"/>
<circle cx="844.36" cy="1539.6" r="3.3" fill="#2DB5BD"/>
<circle cx="847.1" cy="1539.6" r="3.3" fill="#2DB5BD"/>
<circle cx="848.7" cy="1539.6" r="3.3" fill="#2DB5BD"/>
<circle cx="856.36" cy="1539.6" r="3.3" fill="#2DB5BD"/>
<circle cx="846.59" cy="1539.6" r="3.3" fill="#2DB5BD"/>
<circle cx="846.3" cy="1539.6" r="3.3" fill="#2DB5BD"/>
<circle cx="847.33" cy="1539.6" r="3.3" fill="#2DB5BD"/>
<circle cx="855.49" cy="1539.6" r="3.3" fill="#2DB5BD"/>
<circle cx="857.88" cy="1539.6" r="3.3" fill="#2DB5BD"/>
<circle cx="849.94" cy="1539.6" r="3.3" fill="#2DB5BD"/>
<circle cx="855.44" cy="1539.6" r="3.3" fill="#2DB5BD"/>
<circle cx="859.66" cy="1539.6" r="3.3" fill="#2DB5BD"/>
<circle cx="854.07" cy="1539.6" r="3.3" fill="#2DB5BD"/>
<circle cx="847.21" cy="1539.6" r="3.3" fill="#2DB5BD"/>
<circle cx="848.58" cy="1539.6" r="3.3" fill="#2DB5BD"/>
<circle cx="860.47" cy="1512.42" r="3.3" fill="#2DB5BD"/>
<circle cx="890.89" cy="1539.6" r="3.3" fill="#CD4B4B"/>
<circle cx="897.21" cy="1539.6" r="3.3" fill="#CD4B4B"/>
<circle cx="897.46" cy="1539.6" r="3.3" fill="#CD4B4B"/>
<circle cx="897.55" cy="1539.6" r="3.3" fill="#CD4B4B"/>
<circle cx="887" cy="1539.6" r="3.3" fill="#CD4B4B"/>
<circle cx="891.81" cy="1539.57" r="3.3" fill="#CD4B4B"/>
<circle cx="886.72" cy="1539.44" r="3.3" fill="#CD4B4B"/>
<circle cx="893.54" cy="1539.31" r="3.3" fill="#CD4B4B"/>
<circle cx="892" cy="1539.24" r="3.3" fill="#CD4B4B"/>
<circle cx="883.19" cy="1539.05" r="3.3" fill="#CD4B4B"/>
<circle cx="893.86" cy="1538.96" r="3.3" fill="#CD4B4B"/>
<circle cx="896.1" cy="1535.8" r="3.3" fill="#CD4B4B"/>
<circle cx="893.4" cy="1530.16" r="3.3" fill="#CD4B4B"/>
<circle cx="899.1" cy="1528.49" r="3.3" fill="#CD4B4B"/>
<circle cx="885.94" cy="1523.95" r="3.3" fill="#CD4B4B"/>
<circle cx="885.4" cy="1518.56" r="3.3" fill="#CD4B4B"/>
<circle cx="882.86" cy="1518.11" r="3.3" fill="#CD4B4B"/>
<circle cx="891.95" cy="1516.57" r="3.3" fill="#CD4B4B"/>
<circle cx="890.78" cy="1513.29" r="3.3" fill="#CD4B4B"/>
<circle cx="890.91" cy="1510.72" r="3.3" fill="#CD4B4B"/>
<circle cx="887.52" cy="1503.45" r="3.3" fill="#CD4B4B"/>
<circle cx="897.69" cy="1482.58" r="3.3" fill="#CD4B4B"/>
<circle cx="883.9" cy="1539.6" r="3.3" fill="#2DB5BD"/>
<circle cx="899.76" cy="1539.6" r="3.3" fill="#2DB5BD"/>
<circle cx="893.33" cy="1539.6" r="3.3" fill="#2DB5BD"/>
<circle cx="892.84" cy="1539.6" r="3.3" fill="#2DB5BD"/>
<circle cx="897.56" cy="1539.6" r="3.3" fill="#2DB5BD"/>
<circle cx="887.04" cy="1539.6" r="3.3" fill="#2DB5BD"/>
<circle cx="885.3" cy="1539.18" r="3.3" fill="#2DB5BD"/>
<circle cx="888.43" cy="1538.56" r="3.3" fill="#2DB5BD"/>
<circle cx="883.32" cy="1537.46" r="3.3" fill="#2DB5BD"/>
<circle cx="888.49" cy="1536.56" r="3.3" fill="#2DB5BD"/>
<circle cx="894.32" cy="1535.92" r="3.3" fill="#2DB5BD"/>
<circle cx="892.5" cy="1534.87" r="3.3" fill="#2DB5BD"/>
<circle cx="887.55" cy="1533.33" r="3.3" fill="#2DB5BD"/>
<circle cx="893.71" cy="1531.99" r="3.3" fill="#2DB5BD"/>
<circle cx="884.2" cy="1530.3" r="3.3" fill="#2DB5BD"/>
<circle cx="898.11" cy="1528.14" r="3.3" fill="#2DB5BD"/>
<circle cx="885.78" cy="1526.65" r="3.3" fill="#2DB5BD"/>
<circle cx="887.36" cy="1525.17" r="3.3" fill="#2DB5BD"/>
<circle cx="885.56" cy="1523.75" r="3.3" fill="#2DB5BD"/>
<circle cx="895.64" cy="1523.19" r="3.3" fill="#2DB5BD"/>
<circle cx="898.31" cy="1519.55" r="3.3" fill="#2DB5BD"/>
<circle cx="897.47" cy="1517.82" r="3.3" fill="#2DB5BD"/>
<circle cx="883.68" cy="1512.09" r="3.3" fill="#2DB5BD"/>
<circle cx="890.32" cy="1508.5" r="3.3" fill="#2DB5BD"/>
<circle cx="889.44" cy="1484.57" r="3.3" fill="#2DB5BD"/>
<circle cx="886.63" cy="1498.49" r="3.3" fill="#2DB5BD"/>
<circle cx="928.78" cy="1538.19" r="3.3" fill="#CD4B4B"/>
<circle cx="925.67" cy="1537.81" r="3.3" fill="#CD4B4B"/>
<circle cx="932.62" cy="1536.14" r="3.3" fill="#CD4B4B"/>
<circle cx="925.29" cy="1535.12" r="3.3" fill="#CD4B4B"/>
<circle cx="926.05" cy="1534.6" r="3.3" fill="#CD4B4B"/>
<circle cx="926.25" cy="1534.56" r="3.3" fill="#CD4B4B"/>
<circle cx="931.07" cy="1532.66" r="3.3" fill="#CD4B4B"/>
<circle cx="928.04" cy="1530.73" r="3.3" fill="#CD4B4B"/>
<circle cx="930.68" cy="1530.05" r="3.3" fill="#CD4B4B"/>
<circle cx="941.05" cy="1528.23" r="3.3" fill="#CD4B4B"/>
<circle cx="935.08" cy="1525.79" r="3.3" fill="#CD4B4B"/>
<circle cx="938.57" cy="1525.08" r="3.3" fill="#CD4B4B"/>
<circle cx="926.07" cy="1522.96" r="3.3" fill="#CD4B4B"/>
<circle cx="929.46" cy="1521.32" r="3.3" fill="#CD4B4B"/>
<circle cx="923.56" cy="1519.37" r="3.3" fill="#CD4B4B"/>
<circle cx="935.32" cy="1518.1" r="3.3" fill="#CD4B4B"/>
<circle cx="929.07" cy="1516.9" r="3.3" fill="#CD4B4B"/>
<circle cx="927.4" cy="1513.35" r="3.3" fill="#CD4B4B"/>
<circle cx="922.53" cy="1510.44" r="3.3" fill="#CD4B4B"/>
<circle cx="925.64" cy="1506" r="3.3" fill="#CD4B4B"/>
<circle cx="927.16" cy="1502.8" r="3.3" fill="#CD4B4B"/>
<circle cx="929.65" cy="1539.6" r="3.3" fill="#2DB5BD"/>
<circle cx="939.73" cy="1539.6" r="3.3" fill="#2DB5BD"/>
<circle cx="935.77" cy="1539.6" r="3.3" fill="#2DB5BD"/>
<circle cx="927.28" cy="1539.6" r="3.3" fill="#2DB5BD"/>
<circle cx="929.04" cy="1539.6" r="3.3" fill="#2DB5BD"/>
<circle cx="925.1" cy="1539.6" r="3.3" fill="#2DB5BD"/>
<circle cx="939.98" cy="1539.27" r="3.3" fill="#2DB5BD"/>
<circle cx="929.02" cy="1537.93" r="3.3" fill="#2DB5BD"/>
<circle cx="936.73" cy="1537.31" r="3.3" fill="#2DB5BD"/>
<circle cx="935.93" cy="1536.83" r="3.3" fill="#2DB5BD"/>
<circle cx="939.41" cy="1535.69" r="3.3" fill="#2DB5BD"/>
<circle cx="922.57" cy="1534.63" r="3.3" fill="#2DB5BD"/>
<circle cx="928.3" cy="1534.03" r="3.3" fill="#2DB5BD"/>
<circle cx="929.48" cy="1531.77" r="3.3" fill="#2DB5BD"/>
<circle cx="923.76" cy="1529.42" r="3.3" fill="#2DB5BD"/>
<circle cx="938.95" cy="1527.34" r="3.3" fill="#2DB5BD"/>
<circle cx="928.36" cy="1525.91" r="3.3" fill="#2DB5BD"/>
<circle cx="936.82" cy="1523.64" r="3.3" fill="#2DB5BD"/>
<circle cx="932.05" cy="1523.15" r="3.3" fill="#2DB5BD"/>
<circle cx="923.22" cy="1522.29" r="3.3" fill="#2DB5BD"/>
<circle cx="929.67" cy="1519.92" r="3.3" fill="#2DB5BD"/>
<circle cx="926.71" cy="1518.41" r="3.3" fill="#2DB5BD"/>
<circle cx="922.96" cy="1514.49" r="3.3" fill="#2DB5BD"/>
<circle cx="925.05" cy="1512.57" r="3.3" fill="#2DB5BD"/>
<circle cx="964.85" cy="1535.95" r="3.3" fill="#CD4B4B"/>
<circle cx="969.49" cy="1535.08" r="3.3" fill="#CD4B4B"/>
<circle cx="970.87" cy="1533.47" r="3.3" fill="#CD4B4B"/>
<circle cx="965.01" cy="1532.42" r="3.3" fill="#CD4B4B"/>
<circle cx="974.48" cy="1531.79" r="3.3" fill="#CD4B4B"/>
<circle cx="966.4" cy="1531.64" r="3.3" fill="#CD4B4B"/>
<circle cx="963.61" cy="1530.39" r="3.3" fill="#CD4B4B"/>
<circle cx="968.33" cy="1529.82" r="3.3" fill="#CD4B4B"/>
<circle cx="969.86" cy="1528.61" r="3.3" fill="#CD4B4B"/>
<circle cx="964.71" cy="1527.77" r="3.3" fill="#CD4B4B"/>
<circle cx="972.91" cy="1527.25" r="3.3" fill="#CD4B4B"/>
<circle cx="975.17" cy="1526.52" r="3.3" fill="#CD4B4B"/>
<circle cx="972.35" cy="1525.85" r="3.3" fill="#CD4B4B"/>
<circle cx="975.14" cy="1525" r="3.3" fill="#CD4B4B"/>
<circle cx="962.28" cy="1524.53" r="3.3" fill="#CD4B4B"/>
<circle cx="969.28" cy="1523.9" r="3.3" fill="#CD4B4B"/>
<circle cx="968.76" cy="1523.36" r="3.3" fill="#CD4B4B"/>
<circle cx="963.04" cy="1523.04" r="3.3" fill="#CD4B4B"/>
<circle cx="969.52" cy="1522.02" r="3.3" fill="#CD4B4B"/>
<circle cx="962.88" cy="1520.62" r="3.3" fill="#CD4B4B"/>
<circle cx="971.26" cy="1519.13" r="3.3" fill="#CD4B4B"/>
<circle cx="972.97" cy="1534.83" r="3.3" fill="#2DB5BD"/>
<circle cx="970.75" cy="1533.93" r="3.3" fill="#2DB5BD"/>
<circle cx="968.03" cy="1532.83" r="3.3" fill="#2DB5BD"/>
<circle cx="966.65" cy="1532.3" r="3.3" fill="#2DB5BD"/>
<circle cx="962.29" cy="1531.84" r="3.3" fill="#2DB5BD"/>
<circle cx="968.43" cy="1531.65" r="3.3" fill="#2DB5BD"/>
<circle cx="978.78" cy="1531.46" r="3.3" fill="#2DB5BD"/>
<circle cx="972.59" cy="1530.74" r="3.3" fill="#2DB5BD"/>
<circle cx="966.82" cy="1530.08" r="3.3" fill="#2DB5BD"/>
<circle cx="974.53" cy="1529.84" r="3.3" fill="#2DB5BD"/>
<circle cx="965.37" cy="1529.07" r="3.3" fill="#2DB5BD"/>
<circle cx="970.76" cy="1528.53" r="3.3" fill="#2DB5BD"/>
<circle cx="973.53" cy="1527.76" r="3.3" fill="#2DB5BD"/>
<circle cx="979.98" cy="1527.14" r="3.3" fill="#2DB5BD"/>
<circle cx="968.73" cy="1526.81" r="3.3" fill="#2DB5BD"/>
<circle cx="972.79" cy="1525.94" r="3.3" fill="#2DB5BD"/>
<circle cx="979.75" cy="1525.56" r="3.3" fill="#2DB5BD"/>
<circle cx="976.5" cy="1524.72" r="3.3" fill="#2DB5BD"/>
<circle cx="973.76" cy="1524.31" r="3.3" fill="#2DB5BD"/>
<circle cx="973.64" cy="1524.08" r="3.3" fill="#2DB5BD"/>
<circle cx="969.65" cy="1523.33" r="3.3" fill="#2DB5BD"/>
<circle cx="969.74" cy="1522.48" r="3.3" fill="#2DB5BD"/>
<circle cx="967.09" cy="1521.19" r="3.3" fill="#2DB5BD"/>
<circle cx="977.6" cy="1520.07" r="3.3" fill="#2DB5BD"/>
<circle cx="1004.88" cy="1539.6" r="3.3" fill="#CD4B4B"/>
<circle cx="1011.26" cy="1539.6" r="3.3" fill="#CD4B4B"/>
<circle cx="1003.89" cy="1539.6" r="3.3" fill="#CD4B4B"/>
<circle cx="1002.7" cy="1539.6" r="3.3" fill="#CD4B4B"/>
<circle cx="1002.8" cy="1539.6" r="3.3" fill="#CD4B4B"/>
<circle cx="1003.44" cy="1539.37" r="3.3" fill="#CD4B4B"/>
<circle cx="1014.89" cy="1538.63" r="3.3" fill="#CD4B4B"/>
<circle cx="1003.64" cy="1537.71" r="3.3" fill="#CD4B4B"/>
<circle cx="1010.08" cy="1536.39" r="3.3" fill="#CD4B4B"/>
<circle cx="1016.17" cy="1536.09" r="3.3" fill="#CD4B4B"/>
<circle cx="1010.63" cy="1535.18" r="3.3" fill="#CD4B4B"/>
<circle cx="1004.59" cy="1532.49" r="3.3" fill="#CD4B4B"/>
<circle cx="1017.96" cy="1528.19" r="3.3" fill="#CD4B4B"/>
<circle cx="1018.03" cy="1526.16" r="3.3" fill="#CD4B4B"/>
<circle cx="1002.52" cy="1523.59" r="3.3" fill="#CD4B4B"/>
<circle cx="1006.32" cy="1519.06" r="3.3" fill="#CD4B4B"/>
<circle cx="1011.14" cy="1517.87" r="3.3" fill="#CD4B4B"/>
<circle cx="1016.63" cy="1516.05" r="3.3" fill="#CD4B4B"/>
<circle cx="1008.95" cy="1511.78" r="3.3" fill="#CD4B4B"/>
<circle cx="1015.1" cy="1506.13" r="3.3" fill="#CD4B4B"/>
<circle cx="1006.28" cy="1500.41" r="3.3" fill="#CD4B4B"/>
<circle cx="1015.1" cy="1463.36" r="3.3" fill="#CD4B4B"/>
<circle cx="1007.71" cy="1538.46" r="3.3" fill="#2DB5BD"/>
<circle cx="1007.84" cy="1536.84" r="3.3" fill="#2DB5BD"/>
<circle cx="1015.93" cy="1535.15" r="3.3" fill="#2DB5BD"/>
<circle cx="1017.51" cy="1533.99" r="3.3" fill="#2DB5BD"/>
<circle cx="1017.24" cy="1533.61" r="3.3" fill="#2DB5BD"/>
<circle cx="1012.28" cy="1533.08" r="3.3" fill="#2DB5BD"/>
<circle cx="1009.49" cy="1530.91" r="3.3" fill="#2DB5BD"/>
<circle cx="1014.93" cy="1529.54" r="3.3" fill="#2DB5BD"/>
<circle cx="1013.34" cy="1526.18" r="3.3" fill="#2DB5BD"/>
<circle cx="1017.29" cy="1523.68" r="3.3" fill="#2DB5BD"/>
<circle cx="1016.72" cy="1521.15" r="3.3" fill="#2DB5BD"/>
<circle cx="1003.88" cy="1518.05" r="3.3" fill="#2DB5BD"/>
<circle cx="1008.66" cy="1514.7" r="3.3" fill="#2DB5BD"/>
<circle cx="1014.22" cy="1512.84" r="3.3" fill="#2DB5BD"/>
<circle cx="1005.89" cy="1507.39" r="3.3" fill="#2DB5BD"/>
<circle cx="1005.01" cy="1503.83" r="3.3" fill="#2DB5BD"/>
<circle cx="1001.76" cy="1499.62" r="3.3" fill="#2DB5BD"/>
<circle cx="1012.63" cy="1496.26" r="3.3" fill="#2DB5BD"/>
<circle cx="1019.38" cy="1493.69" r="3.3" fill="#2DB5BD"/>
<circle cx="1019.94" cy="1490.71" r="3.3" fill="#2DB5BD"/>
<circle cx="1004.04" cy="1487.42" r="3.3" fill="#2DB5BD"/>
<circle cx="1014.56" cy="1483.51" r="3.3" fill="#2DB5BD"/>
<circle cx="1009.47" cy="1477.11" r="3.3" fill="#2DB5BD"/>
<circle cx="1013.5" cy="1468.96" r="3.3" fill="#2DB5BD"/>
<circle cx="1009.04" cy="1462.03" r="3.3" fill="#2DB5BD"/>
<circle cx="1019.23" cy="1466.67" r="3.3" fill="#2DB5BD"/>
<circle cx="1020.29" cy="1473.3" r="3.3" fill="#2DB5BD"/>
<circle cx="1047.04" cy="1539.6" r="3.3" fill="#CD4B4B"/>
<circle cx="1042.65" cy="1539.6" r="3.3" fill="#CD4B4B"/>
<circle cx="1044.63" cy="1539.6" r="3.3" fill="#CD4B4B"/>
<circle cx="1050.35" cy="1539.6" r="3.3" fill="#CD4B4B"/>
<circle cx="1060.11" cy="1539.6" r="3.3" fill="#CD4B4B"/>
<circle cx="1045" cy="1539.18" r="3.3" fill="#CD4B4B"/>
<circle cx="1057.64" cy="1538.02" r="3.3" fill="#CD4B4B"/>
<circle cx="1050.36" cy="1537.73" r="3.3" fill="#CD4B4B"/>
<circle cx="1049.04" cy="1536.61" r="3.3" fill="#CD4B4B"/>
<circle cx="1056.49" cy="1535.88" r="3.3" fill="#CD4B4B"/>
<circle cx="1048.68" cy="1534.49" r="3.3" fill="#CD4B4B"/>
<circle cx="1042.26" cy="1532.39" r="3.3" fill="#CD4B4B"/>
<circle cx="1051.62" cy="1530.39" r="3.3" fill="#CD4B4B"/>
<circle cx="1053.64" cy="1528.3" r="3.3" fill="#CD4B4B"/>
<circle cx="1053" cy="1525.24" r="3.3" fill="#CD4B4B"/>
<circle cx="1046.43" cy="1523.02" r="3.3" fill="#CD4B4B"/>
<circle cx="1059" cy="1522.79" r="3.3" fill="#CD4B4B"/>
<circle cx="1057.59" cy="1521.48" r="3.3" fill="#CD4B4B"/>
<circle cx="1060.05" cy="1518.96" r="3.3" fill="#CD4B4B"/>
<circle cx="1049.58" cy="1515.63" r="3.3" fill="#CD4B4B"/>
<circle cx="1057" cy="1511.24" r="3.3" fill="#CD4B4B"/>
<circle cx="1054.93" cy="1539.6" r="3.3" fill="#2DB5BD"/>
<circle cx="1044.5" cy="1539.6" r="3.3" fill="#2DB5BD"/>
<circle cx="1041.67" cy="1539.6" r="3.3" fill="#2DB5BD"/>
<circle cx="1044.37" cy="1539.6" r="3.3" fill="#2DB5BD"/>
<circle cx="1043.42" cy="1539.6" r="3.3" fill="#2DB5BD"/>
<circle cx="1042.58" cy="1539.6" r="3.3" fill="#2DB5BD"/>
<circle cx="1047.98" cy="1539.58" r="3.3" fill="#2DB5BD"/>
<circle cx="1055.48" cy="1539.4" r="3.3" fill="#2DB5BD"/>
<circle cx="1047.05" cy="1539.35" r="3.3" fill="#2DB5BD"/>
<circle cx="1050.93" cy="1539.21" r="3.3" fill="#2DB5BD"/>
<circle cx="1041.36" cy="1539.14" r="3.3" fill="#2DB5BD"/>
<circle cx="1045.15" cy="1539.01" r="3.3" fill="#2DB5BD"/>
<circle cx="1059.39" cy="1538.68" r="3.3" fill="#2DB5BD"/>
<circle cx="1041.37" cy="1535.51" r="3.3" fill="#2DB5BD"/>
<circle cx="1051.18" cy="1534.04" r="3.3" fill="#2DB5BD"/>
<circle cx="1056.55" cy="1530.98" r="3.3" fill="#2DB5BD"/>
<circle cx="1056.21" cy="1529.39" r="3.3" fill="#2DB5BD"/>
<circle cx="1055.13" cy="1527.26" r="3.3" fill="#2DB5BD"/>
<circle cx="1048.75" cy="1525.55" r="3.3" fill="#2DB5BD"/>
<circle cx="1056.42" cy="1524.86" r="3.3" fill="#2DB5BD"/>
<circle cx="1056.89" cy="1523.66" r="3.3" fill="#2DB5BD"/>
<circle cx="1055.75" cy="1522.16" r="3.3" fill="#2DB5BD"/>
<circle cx="1059.89" cy="1519.87" r="3.3" fill="#2DB5BD"/>
<circle cx="1043.08" cy="1515.03" r="3.3" fill="#2DB5BD"/>
<circle cx="1059.22" cy="1475.29" r="3.3" fill="#2DB5BD"/>
<circle cx="1048.8" cy="1491.86" r="3.3" fill="#2DB5BD"/>
<circle cx="1084.2" cy="1539.6" r="3.3" fill="#CD4B4B"/>
<circle cx="1086.01" cy="1539.6" r="3.3" fill="#CD4B4B"/>
<circle cx="1093.69" cy="1539.6" r="3.3" fill="#CD4B4B"/>
<circle cx="1098.83" cy="1539.6" r="3.3" fill="#CD4B4B"/>
<circle cx="1086.94" cy="1539.6" r="3.3" fill="#CD4B4B"/>
<circle cx="1084.31" cy="1539.6" r="3.3" fill="#CD4B4B"/>
<circle cx="1087.61" cy="1539.45" r="3.3" fill="#CD4B4B"/>
<circle cx="1099.62" cy="1539.33" r="3.3" fill="#CD4B4B"/>
<circle cx="1083.63" cy="1539.17" r="3.3" fill="#CD4B4B"/>
<circle cx="1092.88" cy="1539.03" r="3.3" fill="#CD4B4B"/>
<circle cx="1088" cy="1538.95" r="3.3" fill="#CD4B4B"/>
<circle cx="1093.05" cy="1537.67" r="3.3" fill="#CD4B4B"/>
<circle cx="1084.85" cy="1536.8" r="3.3" fill="#CD4B4B"/>
<circle cx="1092.53" cy="1535.73" r="3.3" fill="#CD4B4B"/>
<circle cx="1097.68" cy="1534.02" r="3.3" fill="#CD4B4B"/>
<circle cx="1097.09" cy="1533.42" r="3.3" fill="#CD4B4B"/>
<circle cx="1092.76" cy="1532.9" r="3.3" fill="#CD4B4B"/>
<circle cx="1090.41" cy="1532.17" r="3.3" fill="#CD4B4B"/>
<circle cx="1091.61" cy="1530.63" r="3.3" fill="#CD4B4B"/>
<circle cx="1082.99" cy="1529.74" r="3.3" fill="#CD4B4B"/>
<circle cx="1096.73" cy="1527.02" r="3.3" fill="#CD4B4B"/>
<circle cx="1093.93" cy="1539.6" r="3.3" fill="#2DB5BD"/>
<circle cx="1089.43" cy="1539.6" r="3.3" fill="#2DB5BD"/>
<circle cx="1093.46" cy="1539.6" r="3.3" fill="#2DB5BD"/>
<circle cx="1088.79" cy="1539.6" r="3.3" fill="#2DB5BD"/>
<circle cx="1088.13" cy="1539.6" r="3.3" fill="#2DB5BD"/>
<circle cx="1085.19" cy="1539.6" r="3.3" fill="#2DB5BD"/>
<circle cx="1092.23" cy="1539.6" r="3.3" fill="#2DB5BD"/>
<circle cx="1091.7" cy="1539.6" r="3.3" fill="#2DB5BD"/>
<circle cx="1090.61" cy="1539.6" r="3.3" fill="#2DB5BD"/>
<circle cx="1081.43" cy="1539.6" r="3.3" fill="#2DB5BD"/>
<circle cx="1092.74" cy="1539.6" r="3.3" fill="#2DB5BD"/>
<circle cx="1089.31" cy="1539.6" r="3.3" fill="#2DB5BD"/>
<circle cx="1092.09" cy="1539.5" r="3.3" fill="#2DB5BD"/>
<circle cx="1092.12" cy="1539.46" r="3.3" fill="#2DB5BD"/>
<circle cx="1098.52" cy="1539.29" r="3.3" fill="#2DB5BD"/>
<circle cx="1083.71" cy="1539.23" r="3.3" fill="#2DB5BD"/>
<circle cx="1089.72" cy="1539.08" r="3.3" fill="#2DB5BD"/>
<circle cx="1099.68" cy="1539.03" r="3.3" fill="#2DB5BD"/>
<circle cx="1094.84" cy="1538.89" r="3.3" fill="#2DB5BD"/>
<circle cx="1086.77" cy="1538.83" r="3.3" fill="#2DB5BD"/>
<circle cx="1094.82" cy="1538.59" r="3.3" fill="#2DB5BD"/>
<circle cx="1099.62" cy="1538.49" r="3.3" fill="#2DB5BD"/>
<circle cx="1088.46" cy="1538.17" r="3.3" fill="#2DB5BD"/>
<circle cx="1097.3" cy="1537.74" r="3.3" fill="#2DB5BD"/>
<circle cx="1083.23" cy="1512.42" r="3.3" fill="#2DB5BD"/>
<circle cx="1099.63" cy="1519.71" r="3.3" fill="#2DB5BD"/>
<circle cx="1139.25" cy="1539.6" r="3.3" fill="#CD4B4B"/>
<circle cx="1124.41" cy="1539.6" r="3.3" fill="#CD4B4B"/>
<circle cx="1132.43" cy="1539.6" r="3.3" fill="#CD4B4B"/>
<circle cx="1137.13" cy="1539.6" r="3.3" fill="#CD4B4B"/>
<circle cx="1134.31" cy="1539.6" r="3.3" fill="#CD4B4B"/>
<circle cx="1124.22" cy="1539.54" r="3.3" fill="#CD4B4B"/>
<circle cx="1133.18" cy="1539.41" r="3.3" fill="#CD4B4B"/>
<circle cx="1128.66" cy="1539.31" r="3.3" fill="#CD4B4B"/>
<circle cx="1120.77" cy="1539.14" r="3.3" fill="#CD4B4B"/>
<circle cx="1126.93" cy="1539.11" r="3.3" fill="#CD4B4B"/>
<circle cx="1126.47" cy="1538.32" r="3.3" fill="#CD4B4B"/>
<circle cx="1132.44" cy="1536.49" r="3.3" fill="#CD4B4B"/>
<circle cx="1125.77" cy="1535.16" r="3.3" fill="#CD4B4B"/>
<circle cx="1131.94" cy="1532.13" r="3.3" fill="#CD4B4B"/>
<circle cx="1133.68" cy="1530.63" r="3.3" fill="#CD4B4B"/>
<circle cx="1123.91" cy="1528.39" r="3.3" fill="#CD4B4B"/>
<circle cx="1122.91" cy="1527.48" r="3.3" fill="#CD4B4B"/>
<circle cx="1133.66" cy="1527.06" r="3.3" fill="#CD4B4B"/>
<circle cx="1129.34" cy="1525.65" r="3.3" fill="#CD4B4B"/>
<circle cx="1122.93" cy="1523.19" r="3.3" fill="#CD4B4B"/>
<circle cx="1122.68" cy="1521.93" r="3.3" fill="#CD4B4B"/>
<circle cx="1138.36" cy="1488.55" r="3.3" fill="#CD4B4B"/>
<circle cx="1132.07" cy="1539.6" r="3.3" fill="#2DB5BD"/>
<circle cx="1127.27" cy="1539.6" r="3.3" fill="#2DB5BD"/>
<circle cx="1124.21" cy="1539.6" r="3.3" fill="#2DB5BD"/>
<circle cx="1139.38" cy="1539.6" r="3.3" fill="#2DB5BD"/>
<circle cx="1133.62" cy="1539.6" r="3.3" fill="#2DB5BD"/>
<circle cx="1134.47" cy="1539.6" r="3.3" fill="#2DB5BD"/>
<circle cx="1127.33" cy="1539.28" r="3.3" fill="#2DB5BD"/>
<circle cx="1126.38" cy="1538.92" r="3.3" fill="#2DB5BD"/>
<circle cx="1128.24" cy="1538.35" r="3.3" fill="#2DB5BD"/>
<circle cx="1123.26" cy="1537.95" r="3.3" fill="#2DB5BD"/>
<circle cx="1132.47" cy="1537.73" r="3.3" fill="#2DB5BD"/>
<circle cx="1128.55" cy="1537.22" r="3.3" fill="#2DB5BD"/>
<circle cx="1136.06" cy="1536.35" r="3.3" fill="#2DB5BD"/>
<circle cx="1128.25" cy="1533.2" r="3.3" fill="#2DB5BD"/>
<circle cx="1129.16" cy="1529.07" r="3.3" fill="#2DB5BD"/>
<circle cx="1130.1" cy="1524.38" r="3.3" fill="#2DB5BD"/>
<circle cx="1138.37" cy="1521.15" r="3.3" fill="#2DB5BD"/>
<circle cx="1127.06" cy="1519.73" r="3.3" fill="#2DB5BD"/>
<circle cx="1133.85" cy="1516.98" r="3.3" fill="#2DB5BD"/>
<circle cx="1124.95" cy="1515.3" r="3.3" fill="#2DB5BD"/>
<circle cx="1131.49" cy="1511.08" r="3.3" fill="#2DB5BD"/>
<circle cx="1125.89" cy="1507.57" r="3.3" fill="#2DB5BD"/>
<circle cx="1137.06" cy="1500.96" r="3.3" fill="#2DB5BD"/>
<circle cx="1125.92" cy="1498.88" r="3.3" fill="#2DB5BD"/>
<circle cx="1136.71" cy="1489.88" r="3.3" fill="#2DB5BD"/>
<circle cx="1178.69" cy="1538.21" r="3.3" fill="#CD4B4B"/>
<circle cx="1179" cy="1536.65" r="3.3" fill="#CD4B4B"/>
<circle cx="1167.65" cy="1534.59" r="3.3" fill="#CD4B4B"/>
<circle cx="1175.88" cy="1533.97" r="3.3" fill="#CD4B4B"/>
<circle cx="1172.49" cy="1533.09" r="3.3" fill="#CD4B4B"/>
<circle cx="1173.46" cy="1531.8" r="3.3" fill="#CD4B4B"/>
<circle cx="1179.09" cy="1528.7" r="3.3" fill="#CD4B4B"/>
<circle cx="1161.4" cy="1526.25" r="3.3" fill="#CD4B4B"/>
<circle cx="1168.92" cy="1521.71" r="3.3" fill="#CD4B4B"/>
<circle cx="1167.76" cy="1518.56" r="3.3" fill="#CD4B4B"/>
<circle cx="1172.61" cy="1514.57" r="3.3" fill="#CD4B4B"/>
<circle cx="1164.28" cy="1507.6" r="3.3" fill="#CD4B4B"/>
<circle cx="1178.95" cy="1505.26" r="3.3" fill="#CD4B4B"/>
<circle cx="1164.12" cy="1498.66" r="3.3" fill="#CD4B4B"/>
<circle cx="1167.17" cy="1493.77" r="3.3" fill="#CD4B4B"/>
<circle cx="1162.86" cy="1490.48" r="3.3" fill="#CD4B4B"/>
<circle cx="1167.64" cy="1487.54" r="3.3" fill="#CD4B4B"/>
<circle cx="1174.23" cy="1485.55" r="3.3" fill="#CD4B4B"/>
<circle cx="1161.73" cy="1478.02" r="3.3" fill="#CD4B4B"/>
<circle cx="1163.31" cy="1474.93" r="3.3" fill="#CD4B4B"/>
<circle cx="1172.47" cy="1466.33" r="3.3" fill="#CD4B4B"/>
<circle cx="1171.98" cy="1460.7" r="3.3" fill="#CD4B4B"/>
<circle cx="1174.24" cy="1539.53" r="3.3" fill="#2DB5BD"/>
<circle cx="1164.95" cy="1539.29" r="3.3" fill="#2DB5BD"/>
<circle cx="1175.55" cy="1539.15" r="3.3" fill="#2DB5BD"/>
<circle cx="1174.03" cy="1539.07" r="3.3" fill="#2DB5BD"/>
<circle cx="1174.88" cy="1538.99" r="3.3" fill="#2DB5BD"/>
<circle cx="1162.41" cy="1538.96" r="3.3" fill="#2DB5BD"/>
<circle cx="1169.04" cy="1535.32" r="3.3" fill="#2DB5BD"/>
<circle cx="1160.44" cy="1533.76" r="3.3" fill="#2DB5BD"/>
<circle cx="1176.47" cy="1528.37" r="3.3" fill="#2DB5BD"/>
<circle cx="1178.09" cy="1523.91" r="3.3" fill="#2DB5BD"/>
<circle cx="1177.16" cy="1518.26" r="3.3" fill="#2DB5BD"/>
<circle cx="1160.6" cy="1514.03" r="3.3" fill="#2DB5BD"/>
<circle cx="1166.81" cy="1511.26" r="3.3" fill="#2DB5BD"/>
<circle cx="1170.32" cy="1506.79" r="3.3" fill="#2DB5BD"/>
<circle cx="1170.28" cy="1503.57" r="3.3" fill="#2DB5BD"/>
<circle cx="1162.25" cy="1502.77" r="3.3" fill="#2DB5BD"/>
<circle cx="1175.14" cy="1498.16" r="3.3" fill="#2DB5BD"/>
<circle cx="1165.87" cy="1495.48" r="3.3" fill="#2DB5BD"/>
<circle cx="1169.78" cy="1493.68" r="3.3" fill="#2DB5BD"/>
<circle cx="1162.51" cy="1491.95" r="3.3" fill="#2DB5BD"/>
<circle cx="1170.93" cy="1489.43" r="3.3" fill="#2DB5BD"/>
<circle cx="1162.6" cy="1484.16" r="3.3" fill="#2DB5BD"/>
<circle cx="1161.82" cy="1479.15" r="3.3" fill="#2DB5BD"/>
<circle cx="1169.87" cy="1470.86" r="3.3" fill="#2DB5BD"/>
<circle cx="1165.73" cy="1470.65" r="3.3" fill="#2DB5BD"/>
<circle cx="1216.97" cy="1539.6" r="3.3" fill="#CD4B4B"/>
<circle cx="1207.29" cy="1539.6" r="3.3" fill="#CD4B4B"/>
<circle cx="1205.49" cy="1539.6" r="3.3" fill="#CD4B4B"/>
<circle cx="1213.85" cy="1539.6" r="3.3" fill="#CD4B4B"/>
<circle cx="1204.71" cy="1539.6" r="3.3" fill="#CD4B4B"/>
<circle cx="1206.79" cy="1539.2" r="3.3" fill="#CD4B4B"/>
<circle cx="1207.96" cy="1537.14" r="3.3" fill="#CD4B4B"/>
<circle cx="1208.86" cy="1535.4" r="3.3" fill="#CD4B4B"/>
<circle cx="1206.61" cy="1532.91" r="3.3" fill="#CD4B4B"/>
<circle cx="1207.98" cy="1532.15" r="3.3" fill="#CD4B4B"/>
<circle cx="1208.37" cy="1528.88" r="3.3" fill="#CD4B4B"/>
<circle cx="1200.74" cy="1527.64" r="3.3" fill="#CD4B4B"/>
<circle cx="1215.68" cy="1523.05" r="3.3" fill="#CD4B4B"/>
<circle cx="1200.97" cy="1521.26" r="3.3" fill="#CD4B4B"/>
<circle cx="1209.83" cy="1518.75" r="3.3" fill="#CD4B4B"/>
<circle cx="1210.2" cy="1515.51" r="3.3" fill="#CD4B4B"/>
<circle cx="1207.4" cy="1514.42" r="3.3" fill="#CD4B4B"/>
<circle cx="1204.03" cy="1512.73" r="3.3" fill="#CD4B4B"/>
<circle cx="1201.68" cy="1511.51" r="3.3" fill="#CD4B4B"/>
<circle cx="1206.87" cy="1509.73" r="3.3" fill="#CD4B4B"/>
<circle cx="1205.77" cy="1506.12" r="3.3" fill="#CD4B4B"/>
<circle cx="1209" cy="1539.6" r="3.3" fill="#2DB5BD"/>
<circle cx="1204.18" cy="1539.6" r="3.3" fill="#2DB5BD"/>
<circle cx="1214.04" cy="1539.6" r="3.3" fill="#2DB5BD"/>
<circle cx="1209.06" cy="1539.6" r="3.3" fill="#2DB5BD"/>
<circle cx="1199.97" cy="1539.6" r="3.3" fill="#2DB5BD"/>
<circle cx="1207.53" cy="1539.6" r="3.3" fill="#2DB5BD"/>
<circle cx="1218.16" cy="1539.44" r="3.3" fill="#2DB5BD"/>
<circle cx="1199.93" cy="1538.47" r="3.3" fill="#2DB5BD"/>
<circle cx="1211.07" cy="1537.19" r="3.3" fill="#2DB5BD"/>
<circle cx="1218.06" cy="1536.56" r="3.3" fill="#2DB5BD"/>
<circle cx="1206.75" cy="1535.59" r="3.3" fill="#2DB5BD"/>
<circle cx="1211.16" cy="1535.29" r="3.3" fill="#2DB5BD"/>
<circle cx="1206.81" cy="1533.18" r="3.3" fill="#2DB5BD"/>
<circle cx="1205.52" cy="1530.85" r="3.3" fill="#2DB5BD"/>
<circle cx="1211.37" cy="1527.19" r="3.3" fill="#2DB5BD"/>
<circle cx="1211" cy="1524.38" r="3.3" fill="#2DB5BD"/>
<circle cx="1205.79" cy="1519.12" r="3.3" fill="#2DB5BD"/>
<circle cx="1209.26" cy="1517.43" r="3.3" fill="#2DB5BD"/>
<circle cx="1209.61" cy="1515.02" r="3.3" fill="#2DB5BD"/>
<circle cx="1214.12" cy="1512.09" r="3.3" fill="#2DB5BD"/>
<circle cx="1200.81" cy="1506.52" r="3.3" fill="#2DB5BD"/>
<circle cx="1201.56" cy="1499.69" r="3.3" fill="#2DB5BD"/>
<circle cx="1204.59" cy="1494.21" r="3.3" fill="#2DB5BD"/>
<circle cx="1204.93" cy="1485.63" r="3.3" fill="#2DB5BD"/>
<circle cx="1214.92" cy="1479.93" r="3.3" fill="#2DB5BD"/>
<circle cx="1207.88" cy="1493.19" r="3.3" fill="#2DB5BD"/>
<circle cx="1241.71" cy="1539.6" r="3.3" fill="#CD4B4B"/>
<circle cx="1245.35" cy="1539.6" r="3.3" fill="#CD4B4B"/>
<circle cx="1257.58" cy="1539.6" r="3.3" fill="#CD4B4B"/>
<circle cx="1250.1" cy="1539.6" r="3.3" fill="#CD4B4B"/>
<circle cx="1256.98" cy="1539.6" r="3.3" fill="#CD4B4B"/>
<circle cx="1243.47" cy="1539.56" r="3.3" fill="#CD4B4B"/>
<circle cx="1247.34" cy="1539.5" r="3.3" fill="#CD4B4B"/>
<circle cx="1249.65" cy="1539.47" r="3.3" fill="#CD4B4B"/>
<circle cx="1255.41" cy="1539.4" r="3.3" fill="#CD4B4B"/>
<circle cx="1241.8" cy="1539.32" r="3.3" fill="#CD4B4B"/>
<circle cx="1256.06" cy="1539.22" r="3.3" fill="#CD4B4B"/>
<circle cx="1248.44" cy="1539.06" r="3.3" fill="#CD4B4B"/>
<circle cx="1240.06" cy="1538.96" r="3.3" fill="#CD4B4B"/>
<circle cx="1247.67" cy="1538.66" r="3.3" fill="#CD4B4B"/>
<circle cx="1246.63" cy="1538.58" r="3.3" fill="#CD4B4B"/>
<circle cx="1252.27" cy="1538.3" r="3.3" fill="#CD4B4B"/>
<circle cx="1257.1" cy="1538.23" r="3.3" fill="#CD4B4B"/>
<circle cx="1248.84" cy="1538.02" r="3.3" fill="#CD4B4B"/>
<circle cx="1252.56" cy="1537.83" r="3.3" fill="#CD4B4B"/>
<circle cx="1246.83" cy="1537.68" r="3.3" fill="#CD4B4B"/>
<circle cx="1254.25" cy="1537.02" r="3.3" fill="#CD4B4B"/>
<circle cx="1241.46" cy="1513.74" r="3.3" fill="#CD4B4B"/>
<circle cx="1253.56" cy="1528.33" r="3.3" fill="#CD4B4B"/>
<circle cx="1242.62" cy="1539.6" r="3.3" fill="#2DB5BD"/>
<circle cx="1250.59" cy="1539.6" r="3.3" fill="#2DB5BD"/>
<circle cx="1243.3" cy="1539.6" r="3.3" fill="#2DB5BD"/>
<circle cx="1246.04" cy="1539.6" r="3.3" fill="#2DB5BD"/>
<circle cx="1242.57" cy="1539.6" r="3.3" fill="#2DB5BD"/>
<circle cx="1246.11" cy="1539.6" r="3.3" fill="#2DB5BD"/>
<circle cx="1250.7" cy="1539.55" r="3.3" fill="#2DB5BD"/>
<circle cx="1249.34" cy="1539.5" r="3.3" fill="#2DB5BD"/>
<circle cx="1246.84" cy="1539.48" r="3.3" fill="#2DB5BD"/>
<circle cx="1250.37" cy="1539.39" r="3.3" fill="#2DB5BD"/>
<circle cx="1255.46" cy="1539.35" r="3.3" fill="#2DB5BD"/>
<circle cx="1246.27" cy="1539.29" r="3.3" fill="#2DB5BD"/>
<circle cx="1250.55" cy="1539.2" r="3.3" fill="#2DB5BD"/>
<circle cx="1248.59" cy="1539.03" r="3.3" fill="#2DB5BD"/>
<circle cx="1258.09" cy="1538.86" r="3.3" fill="#2DB5BD"/>
<circle cx="1245.69" cy="1538.74" r="3.3" fill="#2DB5BD"/>
<circle cx="1252.71" cy="1538.55" r="3.3" fill="#2DB5BD"/>
<circle cx="1243.9" cy="1538.33" r="3.3" fill="#2DB5BD"/>
<circle cx="1244.42" cy="1538.27" r="3.3" fill="#2DB5BD"/>
<circle cx="1253.34" cy="1538.2" r="3.3" fill="#2DB5BD"/>
<circle cx="1250.38" cy="1537.94" r="3.3" fill="#2DB5BD"/>
<circle cx="1244.34" cy="1537.74" r="3.3" fill="#2DB5BD"/>
<circle cx="1240.68" cy="1537.47" r="3.3" fill="#2DB5BD"/>
<circle cx="1255.13" cy="1537.25" r="3.3" fill="#2DB5BD"/>
<circle cx="1246.63" cy="1522.36" r="3.3" fill="#2DB5BD"/>
</g>
<line x1="408.7" y1="1442.8" x2="408.7" y2="1479.27" stroke="#333" stroke-width="1.3"/>
<line x1="408.7" y1="1539.6" x2="408.7" y2="1539.6" stroke="#333" stroke-width="1.3"/>
<rect x="401.9" y="1479.27" width="13.6" height="60.33" fill="#78BAD5" stroke="#333" stroke-width="1.3"/>
<line x1="401.9" y1="1514.41" x2="415.5" y2="1514.41" stroke="#333" stroke-width="2.1"/>
<line x1="423.6" y1="1469.98" x2="423.6" y2="1491.86" stroke="#333" stroke-width="1.3"/>
<line x1="423.6" y1="1524.35" x2="423.6" y2="1539.6" stroke="#333" stroke-width="1.3"/>
<rect x="416.8" y="1491.86" width="13.6" height="32.49" fill="#CB4E3B" stroke="#333" stroke-width="1.3"/>
<line x1="416.8" y1="1503.8" x2="430.4" y2="1503.8" stroke="#333" stroke-width="2.1"/>
<line x1="448.36" y1="1471.31" x2="448.36" y2="1501.81" stroke="#333" stroke-width="1.3"/>
<line x1="448.36" y1="1539.6" x2="448.36" y2="1539.6" stroke="#333" stroke-width="1.3"/>
<rect x="441.56" y="1501.81" width="13.6" height="37.79" fill="#78BAD5" stroke="#333" stroke-width="1.3"/>
<line x1="441.56" y1="1535.62" x2="455.16" y2="1535.62" stroke="#333" stroke-width="2.1"/>
<line x1="463.26" y1="1534.3" x2="463.26" y2="1534.96" stroke="#333" stroke-width="1.3"/>
<line x1="463.26" y1="1539.6" x2="463.26" y2="1539.6" stroke="#333" stroke-width="1.3"/>
<rect x="456.46" y="1534.96" width="13.6" height="4.64" fill="#CB4E3B" stroke="#333" stroke-width="1.3"/>
<line x1="456.46" y1="1538.94" x2="470.06" y2="1538.94" stroke="#333" stroke-width="2.1"/>
<line x1="488.02" y1="1190.2" x2="488.02" y2="1227.33" stroke="#333" stroke-width="1.3"/>
<line x1="488.02" y1="1290.31" x2="488.02" y2="1347.33" stroke="#333" stroke-width="1.3"/>
<rect x="481.22" y="1227.33" width="13.6" height="62.98" fill="#78BAD5" stroke="#333" stroke-width="1.3"/>
<line x1="481.22" y1="1254.51" x2="494.82" y2="1254.51" stroke="#333" stroke-width="2.1"/>
<line x1="502.92" y1="1210.75" x2="502.92" y2="1249.87" stroke="#333" stroke-width="1.3"/>
<line x1="502.92" y1="1293.63" x2="502.92" y2="1344.68" stroke="#333" stroke-width="1.3"/>
<rect x="496.12" y="1249.87" width="13.6" height="43.76" fill="#CB4E3B" stroke="#333" stroke-width="1.3"/>
<line x1="496.12" y1="1281.03" x2="509.72" y2="1281.03" stroke="#333" stroke-width="2.1"/>
<line x1="527.68" y1="1495.18" x2="527.68" y2="1519.71" stroke="#333" stroke-width="1.3"/>
<line x1="527.68" y1="1539.6" x2="527.68" y2="1539.6" stroke="#333" stroke-width="1.3"/>
<rect x="520.88" y="1519.71" width="13.6" height="19.89" fill="#78BAD5" stroke="#333" stroke-width="1.3"/>
<line x1="520.88" y1="1534.3" x2="534.48" y2="1534.3" stroke="#333" stroke-width="2.1"/>
<line x1="542.58" y1="1475.95" x2="542.58" y2="1496.17" stroke="#333" stroke-width="1.3"/>
<line x1="542.58" y1="1539.6" x2="542.58" y2="1539.6" stroke="#333" stroke-width="1.3"/>
<rect x="535.78" y="1496.17" width="13.6" height="43.43" fill="#CB4E3B" stroke="#333" stroke-width="1.3"/>
<line x1="535.78" y1="1509.1" x2="549.38" y2="1509.1" stroke="#333" stroke-width="2.1"/>
<line x1="567.34" y1="1493.85" x2="567.34" y2="1508.44" stroke="#333" stroke-width="1.3"/>
<line x1="567.34" y1="1528.99" x2="567.34" y2="1539.6" stroke="#333" stroke-width="1.3"/>
<rect x="560.54" y="1508.44" width="13.6" height="20.55" fill="#78BAD5" stroke="#333" stroke-width="1.3"/>
<line x1="560.54" y1="1517.06" x2="574.14" y2="1517.06" stroke="#333" stroke-width="2.1"/>
<line x1="582.24" y1="1515.07" x2="582.24" y2="1528.99" stroke="#333" stroke-width="1.3"/>
<line x1="582.24" y1="1539.6" x2="582.24" y2="1539.6" stroke="#333" stroke-width="1.3"/>
<rect x="575.44" y="1528.99" width="13.6" height="10.61" fill="#CB4E3B" stroke="#333" stroke-width="1.3"/>
<line x1="575.44" y1="1538.94" x2="589.04" y2="1538.94" stroke="#333" stroke-width="2.1"/>
<line x1="607" y1="1457.39" x2="607" y2="1473.3" stroke="#333" stroke-width="1.3"/>
<line x1="607" y1="1539.6" x2="607" y2="1539.6" stroke="#333" stroke-width="1.3"/>
<rect x="600.2" y="1473.3" width="13.6" height="66.3" fill="#78BAD5" stroke="#333" stroke-width="1.3"/>
<line x1="600.2" y1="1513.08" x2="613.8" y2="1513.08" stroke="#333" stroke-width="2.1"/>
<line x1="621.9" y1="1377.83" x2="621.9" y2="1462.69" stroke="#333" stroke-width="1.3"/>
<line x1="621.9" y1="1536.95" x2="621.9" y2="1539.6" stroke="#333" stroke-width="1.3"/>
<rect x="615.1" y="1462.69" width="13.6" height="74.26" fill="#CB4E3B" stroke="#333" stroke-width="1.3"/>
<line x1="615.1" y1="1486.56" x2="628.7" y2="1486.56" stroke="#333" stroke-width="2.1"/>
<line x1="646.66" y1="1531.64" x2="646.66" y2="1535.62" stroke="#333" stroke-width="1.3"/>
<line x1="646.66" y1="1539.6" x2="646.66" y2="1539.6" stroke="#333" stroke-width="1.3"/>
<rect x="639.86" y="1535.62" width="13.6" height="3.98" fill="#78BAD5" stroke="#333" stroke-width="1.3"/>
<line x1="639.86" y1="1538.27" x2="653.46" y2="1538.27" stroke="#333" stroke-width="2.1"/>
<line x1="661.56" y1="1528.33" x2="661.56" y2="1532.31" stroke="#333" stroke-width="1.3"/>
<line x1="661.56" y1="1539.6" x2="661.56" y2="1539.6" stroke="#333" stroke-width="1.3"/>
<rect x="654.76" y="1532.31" width="13.6" height="7.29" fill="#CB4E3B" stroke="#333" stroke-width="1.3"/>
<line x1="654.76" y1="1538.94" x2="668.36" y2="1538.94" stroke="#333" stroke-width="2.1"/>
<line x1="686.32" y1="1539.6" x2="686.32" y2="1539.6" stroke="#333" stroke-width="1.3"/>
<line x1="686.32" y1="1539.6" x2="686.32" y2="1539.6" stroke="#333" stroke-width="1.3"/>
<rect x="679.52" y="1539.6" width="13.6" height="0.01" fill="#78BAD5" stroke="#333" stroke-width="1.3"/>
<line x1="679.52" y1="1539.6" x2="693.12" y2="1539.6" stroke="#333" stroke-width="2.1"/>
<line x1="701.22" y1="1539.6" x2="701.22" y2="1539.6" stroke="#333" stroke-width="1.3"/>
<line x1="701.22" y1="1539.6" x2="701.22" y2="1539.6" stroke="#333" stroke-width="1.3"/>
<rect x="694.42" y="1539.6" width="13.6" height="0.01" fill="#CB4E3B" stroke="#333" stroke-width="1.3"/>
<line x1="694.42" y1="1539.6" x2="708.02" y2="1539.6" stroke="#333" stroke-width="2.1"/>
<line x1="725.98" y1="1416.28" x2="725.98" y2="1458.05" stroke="#333" stroke-width="1.3"/>
<line x1="725.98" y1="1499.82" x2="725.98" y2="1539.6" stroke="#333" stroke-width="1.3"/>
<rect x="719.18" y="1458.05" width="13.6" height="41.77" fill="#78BAD5" stroke="#333" stroke-width="1.3"/>
<line x1="719.18" y1="1484.57" x2="732.78" y2="1484.57" stroke="#333" stroke-width="2.1"/>
<line x1="740.88" y1="1437.5" x2="740.88" y2="1462.36" stroke="#333" stroke-width="1.3"/>
<line x1="740.88" y1="1507.11" x2="740.88" y2="1539.6" stroke="#333" stroke-width="1.3"/>
<rect x="734.08" y="1462.36" width="13.6" height="44.75" fill="#CB4E3B" stroke="#333" stroke-width="1.3"/>
<line x1="734.08" y1="1483.91" x2="747.68" y2="1483.91" stroke="#333" stroke-width="2.1"/>
<line x1="765.64" y1="1539.6" x2="765.64" y2="1539.6" stroke="#333" stroke-width="1.3"/>
<line x1="765.64" y1="1539.6" x2="765.64" y2="1539.6" stroke="#333" stroke-width="1.3"/>
<rect x="758.84" y="1539.6" width="13.6" height="0.01" fill="#78BAD5" stroke="#333" stroke-width="1.3"/>
<line x1="758.84" y1="1539.6" x2="772.44" y2="1539.6" stroke="#333" stroke-width="2.1"/>
<line x1="780.54" y1="1539.6" x2="780.54" y2="1539.6" stroke="#333" stroke-width="1.3"/>
<line x1="780.54" y1="1539.6" x2="780.54" y2="1539.6" stroke="#333" stroke-width="1.3"/>
<rect x="773.74" y="1539.6" width="13.6" height="0.01" fill="#CB4E3B" stroke="#333" stroke-width="1.3"/>
<line x1="773.74" y1="1539.6" x2="787.34" y2="1539.6" stroke="#333" stroke-width="2.1"/>
<line x1="805.3" y1="1422.91" x2="805.3" y2="1442.8" stroke="#333" stroke-width="1.3"/>
<line x1="805.3" y1="1501.81" x2="805.3" y2="1539.6" stroke="#333" stroke-width="1.3"/>
<rect x="798.5" y="1442.8" width="13.6" height="59.01" fill="#78BAD5" stroke="#333" stroke-width="1.3"/>
<line x1="798.5" y1="1468.66" x2="812.1" y2="1468.66" stroke="#333" stroke-width="2.1"/>
<line x1="820.2" y1="1424.9" x2="820.2" y2="1448.77" stroke="#333" stroke-width="1.3"/>
<line x1="820.2" y1="1479.93" x2="820.2" y2="1519.71" stroke="#333" stroke-width="1.3"/>
<rect x="813.4" y="1448.77" width="13.6" height="31.16" fill="#CB4E3B" stroke="#333" stroke-width="1.3"/>
<line x1="813.4" y1="1468" x2="827" y2="1468" stroke="#333" stroke-width="2.1"/>
<line x1="844.96" y1="1539.6" x2="844.96" y2="1539.6" stroke="#333" stroke-width="1.3"/>
<line x1="844.96" y1="1539.6" x2="844.96" y2="1539.6" stroke="#333" stroke-width="1.3"/>
<rect x="838.16" y="1539.6" width="13.6" height="0.01" fill="#78BAD5" stroke="#333" stroke-width="1.3"/>
<line x1="838.16" y1="1539.6" x2="851.76" y2="1539.6" stroke="#333" stroke-width="2.1"/>
<line x1="859.86" y1="1539.6" x2="859.86" y2="1539.6" stroke="#333" stroke-width="1.3"/>
<line x1="859.86" y1="1539.6" x2="859.86" y2="1539.6" stroke="#333" stroke-width="1.3"/>
<rect x="853.06" y="1539.6" width="13.6" height="0.01" fill="#CB4E3B" stroke="#333" stroke-width="1.3"/>
<line x1="853.06" y1="1539.6" x2="866.66" y2="1539.6" stroke="#333" stroke-width="2.1"/>
<line x1="884.62" y1="1502.47" x2="884.62" y2="1518.38" stroke="#333" stroke-width="1.3"/>
<line x1="884.62" y1="1539.6" x2="884.62" y2="1539.6" stroke="#333" stroke-width="1.3"/>
<rect x="877.82" y="1518.38" width="13.6" height="21.22" fill="#78BAD5" stroke="#333" stroke-width="1.3"/>
<line x1="877.82" y1="1538.94" x2="891.42" y2="1538.94" stroke="#333" stroke-width="2.1"/>
<line x1="899.52" y1="1504.46" x2="899.52" y2="1524.35" stroke="#333" stroke-width="1.3"/>
<line x1="899.52" y1="1539.6" x2="899.52" y2="1539.6" stroke="#333" stroke-width="1.3"/>
<rect x="892.72" y="1524.35" width="13.6" height="15.25" fill="#CB4E3B" stroke="#333" stroke-width="1.3"/>
<line x1="892.72" y1="1534.56" x2="906.32" y2="1534.56" stroke="#333" stroke-width="2.1"/>
<line x1="924.28" y1="1498.49" x2="924.28" y2="1517.06" stroke="#333" stroke-width="1.3"/>
<line x1="924.28" y1="1534.56" x2="924.28" y2="1539.6" stroke="#333" stroke-width="1.3"/>
<rect x="917.48" y="1517.06" width="13.6" height="17.5" fill="#78BAD5" stroke="#333" stroke-width="1.3"/>
<line x1="917.48" y1="1526.34" x2="931.08" y2="1526.34" stroke="#333" stroke-width="2.1"/>
<line x1="939.18" y1="1509.76" x2="939.18" y2="1523.29" stroke="#333" stroke-width="1.3"/>
<line x1="939.18" y1="1539.6" x2="939.18" y2="1539.6" stroke="#333" stroke-width="1.3"/>
<rect x="932.38" y="1523.29" width="13.6" height="16.31" fill="#CB4E3B" stroke="#333" stroke-width="1.3"/>
<line x1="932.38" y1="1534.3" x2="945.98" y2="1534.3" stroke="#333" stroke-width="2.1"/>
<line x1="963.94" y1="1517.72" x2="963.94" y2="1523.69" stroke="#333" stroke-width="1.3"/>
<line x1="963.94" y1="1531.64" x2="963.94" y2="1536.95" stroke="#333" stroke-width="1.3"/>
<rect x="957.14" y="1523.69" width="13.6" height="7.96" fill="#78BAD5" stroke="#333" stroke-width="1.3"/>
<line x1="957.14" y1="1527" x2="970.74" y2="1527" stroke="#333" stroke-width="2.1"/>
<line x1="978.84" y1="1519.05" x2="978.84" y2="1524.35" stroke="#333" stroke-width="1.3"/>
<line x1="978.84" y1="1531.64" x2="978.84" y2="1534.96" stroke="#333" stroke-width="1.3"/>
<rect x="972.04" y="1524.35" width="13.6" height="7.29" fill="#CB4E3B" stroke="#333" stroke-width="1.3"/>
<line x1="972.04" y1="1528.33" x2="985.64" y2="1528.33" stroke="#333" stroke-width="2.1"/>
<line x1="1003.6" y1="1497.17" x2="1003.6" y2="1518.38" stroke="#333" stroke-width="1.3"/>
<line x1="1003.6" y1="1539.6" x2="1003.6" y2="1539.6" stroke="#333" stroke-width="1.3"/>
<rect x="996.8" y="1518.38" width="13.6" height="21.22" fill="#78BAD5" stroke="#333" stroke-width="1.3"/>
<line x1="996.8" y1="1534.96" x2="1010.4" y2="1534.96" stroke="#333" stroke-width="2.1"/>
<line x1="1018.5" y1="1463.36" x2="1018.5" y2="1493.85" stroke="#333" stroke-width="1.3"/>
<line x1="1018.5" y1="1532.97" x2="1018.5" y2="1539.6" stroke="#333" stroke-width="1.3"/>
<rect x="1011.7" y="1493.85" width="13.6" height="39.12" fill="#CB4E3B" stroke="#333" stroke-width="1.3"/>
<line x1="1011.7" y1="1517.72" x2="1025.3" y2="1517.72" stroke="#333" stroke-width="2.1"/>
<line x1="1043.26" y1="1510.76" x2="1043.26" y2="1523.02" stroke="#333" stroke-width="1.3"/>
<line x1="1043.26" y1="1539.6" x2="1043.26" y2="1539.6" stroke="#333" stroke-width="1.3"/>
<rect x="1036.46" y="1523.02" width="13.6" height="16.58" fill="#78BAD5" stroke="#333" stroke-width="1.3"/>
<line x1="1036.46" y1="1534.56" x2="1050.06" y2="1534.56" stroke="#333" stroke-width="2.1"/>
<line x1="1058.16" y1="1514.41" x2="1058.16" y2="1525.68" stroke="#333" stroke-width="1.3"/>
<line x1="1058.16" y1="1539.6" x2="1058.16" y2="1539.6" stroke="#333" stroke-width="1.3"/>
<rect x="1051.36" y="1525.68" width="13.6" height="13.92" fill="#CB4E3B" stroke="#333" stroke-width="1.3"/>
<line x1="1051.36" y1="1538.94" x2="1064.96" y2="1538.94" stroke="#333" stroke-width="2.1"/>
<line x1="1082.92" y1="1526.34" x2="1082.92" y2="1532.97" stroke="#333" stroke-width="1.3"/>
<line x1="1082.92" y1="1539.6" x2="1082.92" y2="1539.6" stroke="#333" stroke-width="1.3"/>
<rect x="1076.12" y="1532.97" width="13.6" height="6.63" fill="#78BAD5" stroke="#333" stroke-width="1.3"/>
<line x1="1076.12" y1="1538.94" x2="1089.72" y2="1538.94" stroke="#333" stroke-width="2.1"/>
<line x1="1097.82" y1="1537.61" x2="1097.82" y2="1538.94" stroke="#333" stroke-width="1.3"/>
<line x1="1097.82" y1="1539.6" x2="1097.82" y2="1539.6" stroke="#333" stroke-width="1.3"/>
<rect x="1091.02" y="1538.94" width="13.6" height="0.66" fill="#CB4E3B" stroke="#333" stroke-width="1.3"/>
<line x1="1091.02" y1="1539.6" x2="1104.62" y2="1539.6" stroke="#333" stroke-width="2.1"/>
<line x1="1122.58" y1="1519.71" x2="1122.58" y2="1527.93" stroke="#333" stroke-width="1.3"/>
<line x1="1122.58" y1="1539.6" x2="1122.58" y2="1539.6" stroke="#333" stroke-width="1.3"/>
<rect x="1115.78" y="1527.93" width="13.6" height="11.67" fill="#78BAD5" stroke="#333" stroke-width="1.3"/>
<line x1="1115.78" y1="1538.94" x2="1129.38" y2="1538.94" stroke="#333" stroke-width="2.1"/>
<line x1="1137.48" y1="1493.19" x2="1137.48" y2="1517.06" stroke="#333" stroke-width="1.3"/>
<line x1="1137.48" y1="1539.6" x2="1137.48" y2="1539.6" stroke="#333" stroke-width="1.3"/>
<rect x="1130.68" y="1517.06" width="13.6" height="22.54" fill="#CB4E3B" stroke="#333" stroke-width="1.3"/>
<line x1="1130.68" y1="1536.95" x2="1144.28" y2="1536.95" stroke="#333" stroke-width="2.1"/>
<line x1="1162.24" y1="1461.37" x2="1162.24" y2="1488.22" stroke="#333" stroke-width="1.3"/>
<line x1="1162.24" y1="1532.97" x2="1162.24" y2="1539.6" stroke="#333" stroke-width="1.3"/>
<rect x="1155.44" y="1488.22" width="13.6" height="44.75" fill="#78BAD5" stroke="#333" stroke-width="1.3"/>
<line x1="1155.44" y1="1514.41" x2="1169.04" y2="1514.41" stroke="#333" stroke-width="2.1"/>
<line x1="1177.14" y1="1469.98" x2="1177.14" y2="1493.85" stroke="#333" stroke-width="1.3"/>
<line x1="1177.14" y1="1538.94" x2="1177.14" y2="1539.6" stroke="#333" stroke-width="1.3"/>
<rect x="1170.34" y="1493.85" width="13.6" height="45.08" fill="#CB4E3B" stroke="#333" stroke-width="1.3"/>
<line x1="1170.34" y1="1512.42" x2="1183.94" y2="1512.42" stroke="#333" stroke-width="2.1"/>
<line x1="1201.9" y1="1503.13" x2="1201.9" y2="1515.07" stroke="#333" stroke-width="1.3"/>
<line x1="1201.9" y1="1539.6" x2="1201.9" y2="1539.6" stroke="#333" stroke-width="1.3"/>
<rect x="1195.1" y="1515.07" width="13.6" height="24.53" fill="#78BAD5" stroke="#333" stroke-width="1.3"/>
<line x1="1195.1" y1="1529.65" x2="1208.7" y2="1529.65" stroke="#333" stroke-width="2.1"/>
<line x1="1216.8" y1="1480.59" x2="1216.8" y2="1515.4" stroke="#333" stroke-width="1.3"/>
<line x1="1216.8" y1="1539.6" x2="1216.8" y2="1539.6" stroke="#333" stroke-width="1.3"/>
<rect x="1210" y="1515.4" width="13.6" height="24.2" fill="#CB4E3B" stroke="#333" stroke-width="1.3"/>
<line x1="1210" y1="1534.56" x2="1223.6" y2="1534.56" stroke="#333" stroke-width="2.1"/>
<line x1="1241.56" y1="1536.95" x2="1241.56" y2="1538.27" stroke="#333" stroke-width="1.3"/>
<line x1="1241.56" y1="1539.6" x2="1241.56" y2="1539.6" stroke="#333" stroke-width="1.3"/>
<rect x="1234.76" y="1538.27" width="13.6" height="1.33" fill="#78BAD5" stroke="#333" stroke-width="1.3"/>
<line x1="1234.76" y1="1539.27" x2="1248.36" y2="1539.27" stroke="#333" stroke-width="2.1"/>
<line x1="1256.46" y1="1536.95" x2="1256.46" y2="1538.27" stroke="#333" stroke-width="1.3"/>
<line x1="1256.46" y1="1539.6" x2="1256.46" y2="1539.6" stroke="#333" stroke-width="1.3"/>
<rect x="1249.66" y="1538.27" width="13.6" height="1.33" fill="#CB4E3B" stroke="#333" stroke-width="1.3"/>
<line x1="1249.66" y1="1539.27" x2="1263.26" y2="1539.27" stroke="#333" stroke-width="2.1"/>
<rect x="393.1" y="1172.6" width="879.6" height="384.2" fill="none" stroke="#808080" stroke-width="1.3"/>
<text x="416.1" y="1190.1" font-size="12.8" fill="#000" text-anchor="middle">ns</text>
<text x="455.76" y="1190.1" font-size="12.8" fill="#000" text-anchor="middle">ns</text>
<text x="495.42" y="1190.1" font-size="12.8" fill="#000" text-anchor="middle">ns</text>
<text x="535.08" y="1190.1" font-size="12.8" fill="#000" text-anchor="middle">ns</text>
<text x="574.74" y="1190.1" font-size="12.8" fill="#000" text-anchor="middle">*</text>
<text x="614.4" y="1190.1" font-size="12.8" fill="#000" text-anchor="middle">ns</text>
<text x="654.06" y="1190.1" font-size="12.8" fill="#000" text-anchor="middle">ns</text>
<text x="693.72" y="1190.1" font-size="12.8" fill="#000" text-anchor="middle">ns</text>
<text x="733.38" y="1190.1" font-size="12.8" fill="#000" text-anchor="middle">ns</text>
<text x="773.04" y="1190.1" font-size="12.8" fill="#000" text-anchor="middle">ns</text>
<text x="812.7" y="1190.1" font-size="12.8" fill="#000" text-anchor="middle">ns</text>
<text x="852.36" y="1190.1" font-size="12.8" fill="#000" text-anchor="middle">ns</text>
<text x="892.02" y="1190.1" font-size="12.8" fill="#000" text-anchor="middle">ns</text>
<text x="931.68" y="1190.1" font-size="12.8" fill="#000" text-anchor="middle">ns</text>
<text x="971.34" y="1190.1" font-size="12.8" fill="#000" text-anchor="middle">ns</text>
<text x="1011" y="1190.1" font-size="12.8" fill="#000" text-anchor="middle">*</text>
<text x="1050.66" y="1190.1" font-size="12.8" fill="#000" text-anchor="middle">ns</text>
<text x="1090.32" y="1190.1" font-size="12.8" fill="#000" text-anchor="middle">ns</text>
<text x="1129.98" y="1190.1" font-size="12.8" fill="#000" text-anchor="middle">ns</text>
<text x="1169.64" y="1190.1" font-size="12.8" fill="#000" text-anchor="middle">ns</text>
<text x="1209.3" y="1190.1" font-size="12.8" fill="#000" text-anchor="middle">ns</text>
<text x="1248.96" y="1190.1" font-size="12.8" fill="#000" text-anchor="middle">ns</text>
<line x1="389.5" y1="1539.6" x2="392.5" y2="1539.6" stroke="#333" stroke-width="1.1"/>
<text x="386.8" y="1543.35" font-size="10.6" fill="#4D4D4D" text-anchor="end">0.0</text>
<line x1="389.5" y1="1407" x2="392.5" y2="1407" stroke="#333" stroke-width="1.1"/>
<text x="386.8" y="1410.75" font-size="10.6" fill="#4D4D4D" text-anchor="end">0.2</text>
<line x1="389.5" y1="1274.4" x2="392.5" y2="1274.4" stroke="#333" stroke-width="1.1"/>
<text x="386.8" y="1278.15" font-size="10.6" fill="#4D4D4D" text-anchor="end">0.4</text>
<text x="365.8" y="1364.9" font-size="12.9" fill="#000" text-anchor="middle" transform="rotate(-90 365.8 1364.9)">Immune Infiltration</text>
<line x1="416.1" y1="1557.4" x2="416.1" y2="1560.6" stroke="#333" stroke-width="1.1"/>
<text x="421.9" y="1569.1" font-size="10.65" fill="#4D4D4D" text-anchor="end" transform="rotate(-45 421.9 1569.1)">B cells naive</text>
<line x1="455.76" y1="1557.4" x2="455.76" y2="1560.6" stroke="#333" stroke-width="1.1"/>
<text x="461.56" y="1569.1" font-size="10.65" fill="#4D4D4D" text-anchor="end" transform="rotate(-45 461.56 1569.1)">B cells memory</text>
<line x1="495.42" y1="1557.4" x2="495.42" y2="1560.6" stroke="#333" stroke-width="1.1"/>
<text x="501.22" y="1569.1" font-size="10.65" fill="#4D4D4D" text-anchor="end" transform="rotate(-45 501.22 1569.1)">Plasma cells</text>
<line x1="535.08" y1="1557.4" x2="535.08" y2="1560.6" stroke="#333" stroke-width="1.1"/>
<text x="540.88" y="1569.1" font-size="10.65" fill="#4D4D4D" text-anchor="end" transform="rotate(-45 540.88 1569.1)">T cells CD8</text>
<line x1="574.74" y1="1557.4" x2="574.74" y2="1560.6" stroke="#333" stroke-width="1.1"/>
<text x="580.54" y="1569.1" font-size="10.65" fill="#4D4D4D" text-anchor="end" transform="rotate(-45 580.54 1569.1)">T cells CD4 naive</text>
<line x1="614.4" y1="1557.4" x2="614.4" y2="1560.6" stroke="#333" stroke-width="1.1"/>
<text x="620.2" y="1569.1" font-size="10.65" fill="#4D4D4D" text-anchor="end" transform="rotate(-45 620.2 1569.1)">T cells CD4 memory resting</text>
<line x1="654.06" y1="1557.4" x2="654.06" y2="1560.6" stroke="#333" stroke-width="1.1"/>
<text x="659.86" y="1569.1" font-size="10.65" fill="#4D4D4D" text-anchor="end" transform="rotate(-45 659.86 1569.1)">T cells CD4 memory activated</text>
<line x1="693.72" y1="1557.4" x2="693.72" y2="1560.6" stroke="#333" stroke-width="1.1"/>
<text x="699.52" y="1569.1" font-size="10.65" fill="#4D4D4D" text-anchor="end" transform="rotate(-45 699.52 1569.1)">T cells follicular helper</text>
<line x1="733.38" y1="1557.4" x2="733.38" y2="1560.6" stroke="#333" stroke-width="1.1"/>
<text x="739.18" y="1569.1" font-size="10.65" fill="#4D4D4D" text-anchor="end" transform="rotate(-45 739.18 1569.1)">T cells regulatory (Tregs)</text>
<line x1="773.04" y1="1557.4" x2="773.04" y2="1560.6" stroke="#333" stroke-width="1.1"/>
<text x="778.84" y="1569.1" font-size="10.65" fill="#4D4D4D" text-anchor="end" transform="rotate(-45 778.84 1569.1)">T cells gamma delta</text>
<line x1="812.7" y1="1557.4" x2="812.7" y2="1560.6" stroke="#333" stroke-width="1.1"/>
<text x="818.5" y="1569.1" font-size="10.65" fill="#4D4D4D" text-anchor="end" transform="rotate(-45 818.5 1569.1)">NK cells resting</text>
<line x1="852.36" y1="1557.4" x2="852.36" y2="1560.6" stroke="#333" stroke-width="1.1"/>
<text x="858.16" y="1569.1" font-size="10.65" fill="#4D4D4D" text-anchor="end" transform="rotate(-45 858.16 1569.1)">NK cells activated</text>
<line x1="892.02" y1="1557.4" x2="892.02" y2="1560.6" stroke="#333" stroke-width="1.1"/>
<text x="897.82" y="1569.1" font-size="10.65" fill="#4D4D4D" text-anchor="end" transform="rotate(-45 897.82 1569.1)">Monocytes</text>
<line x1="931.68" y1="1557.4" x2="931.68" y2="1560.6" stroke="#333" stroke-width="1.1"/>
<text x="937.48" y="1569.1" font-size="10.65" fill="#4D4D4D" text-anchor="end" transform="rotate(-45 937.48 1569.1)">Macrophages M0</text>
<line x1="971.34" y1="1557.4" x2="971.34" y2="1560.6" stroke="#333" stroke-width="1.1"/>
<text x="977.14" y="1569.1" font-size="10.65" fill="#4D4D4D" text-anchor="end" transform="rotate(-45 977.14 1569.1)">Macrophages M1</text>
<line x1="1011" y1="1557.4" x2="1011" y2="1560.6" stroke="#333" stroke-width="1.1"/>
<text x="1016.8" y="1569.1" font-size="10.65" fill="#4D4D4D" text-anchor="end" transform="rotate(-45 1016.8 1569.1)">Macrophages M2</text>
<line x1="1050.66" y1="1557.4" x2="1050.66" y2="1560.6" stroke="#333" stroke-width="1.1"/>
<text x="1056.46" y="1569.1" font-size="10.65" fill="#4D4D4D" text-anchor="end" transform="rotate(-45 1056.46 1569.1)">Dendritic cells resting</text>
<line x1="1090.32" y1="1557.4" x2="1090.32" y2="1560.6" stroke="#333" stroke-width="1.1"/>
<text x="1096.12" y="1569.1" font-size="10.65" fill="#4D4D4D" text-anchor="end" transform="rotate(-45 1096.12 1569.1)">Dendritic cells activated</text>
<line x1="1129.98" y1="1557.4" x2="1129.98" y2="1560.6" stroke="#333" stroke-width="1.1"/>
<text x="1135.78" y="1569.1" font-size="10.65" fill="#4D4D4D" text-anchor="end" transform="rotate(-45 1135.78 1569.1)">Mast cells resting</text>
<line x1="1169.64" y1="1557.4" x2="1169.64" y2="1560.6" stroke="#333" stroke-width="1.1"/>
<text x="1175.44" y="1569.1" font-size="10.65" fill="#4D4D4D" text-anchor="end" transform="rotate(-45 1175.44 1569.1)">Mast cells activated</text>
<line x1="1209.3" y1="1557.4" x2="1209.3" y2="1560.6" stroke="#333" stroke-width="1.1"/>
<text x="1215.1" y="1569.1" font-size="10.65" fill="#4D4D4D" text-anchor="end" transform="rotate(-45 1215.1 1569.1)">Eosinophils</text>
<line x1="1248.96" y1="1557.4" x2="1248.96" y2="1560.6" stroke="#333" stroke-width="1.1"/>
<text x="1254.76" y="1569.1" font-size="10.65" fill="#4D4D4D" text-anchor="end" transform="rotate(-45 1254.76 1569.1)">Neutrophils</text>
<text x="1292.8" y="1302" font-size="13" fill="#000" text-anchor="start">group</text>
<circle cx="1302.8" cy="1320.8" r="3.3" fill="#CD4B4B" fill-opacity="0.5"/>
<circle cx="1302.8" cy="1341.7" r="3.3" fill="#2DB5BD" fill-opacity="0.5"/>
<text x="1319.5" y="1324.6" font-size="10.5" fill="#000" text-anchor="start">Control</text>
<text x="1319.5" y="1345.5" font-size="10.5" fill="#000" text-anchor="start">Sarcopenia</text>
<text x="1292.8" y="1388.9" font-size="13" fill="#000" text-anchor="start">Group</text>
<line x1="1302.8" y1="1399.3" x2="1302.8" y2="1415.3" stroke="#333" stroke-width="1.2"/>
<rect x="1295" y="1402.1" width="15.6" height="10.4" fill="#78BAD5" stroke="#333" stroke-width="1.1"/>
<line x1="1295" y1="1407.3" x2="1310.6" y2="1407.3" stroke="#333" stroke-width="2"/>
<line x1="1302.8" y1="1420.4" x2="1302.8" y2="1436.4" stroke="#333" stroke-width="1.2"/>
<rect x="1295" y="1423.2" width="15.6" height="10.4" fill="#CB4E3B" stroke="#333" stroke-width="1.1"/>
<line x1="1295" y1="1428.4" x2="1310.6" y2="1428.4" stroke="#333" stroke-width="2"/>
<text x="1319.5" y="1411.1" font-size="10.5" fill="#000" text-anchor="start">Control</text>
<text x="1319.5" y="1432.2" font-size="10.5" fill="#000" text-anchor="start">Sarcopenia</text>
<rect x="88.2" y="1835" width="36.78" height="36.8" fill="#FAFDFE"/>
<rect x="124.68" y="1835" width="36.78" height="36.8" fill="#FAE8E2"/>
<rect x="161.16" y="1835" width="36.78" height="36.8" fill="#E7F2F8"/>
<rect x="197.64" y="1835" width="36.78" height="36.8" fill="#FEFCFB"/>
<rect x="234.12" y="1835" width="36.78" height="36.8" fill="#F7D8CE"/>
<rect x="270.6" y="1835" width="36.78" height="36.8" fill="#F8DDD4"/>
<rect x="307.08" y="1835" width="36.78" height="36.8" fill="#FFFFFF"/>
<rect x="343.56" y="1835" width="36.78" height="36.8" fill="#EDF5FA"/>
<rect x="380.04" y="1835" width="36.78" height="36.8" fill="#FCEFEB"/>
<rect x="416.52" y="1835" width="36.78" height="36.8" fill="#FAFDFE"/>
<rect x="453" y="1835" width="36.78" height="36.8" fill="#FFFFFF"/>
<rect x="489.48" y="1835" width="36.78" height="36.8" fill="#FBECE7"/>
<rect x="525.96" y="1835" width="36.78" height="36.8" fill="#FFFFFF"/>
<rect x="562.44" y="1835" width="36.78" height="36.8" fill="#C4E0EC"/>
<rect x="598.92" y="1835" width="36.78" height="36.8" fill="#F9E0D8"/>
<rect x="635.4" y="1835" width="36.78" height="36.8" fill="#FFFFFF"/>
<rect x="671.88" y="1835" width="36.78" height="36.8" fill="#FCF3EF"/>
<rect x="708.36" y="1835" width="36.78" height="36.8" fill="#FCF3EF"/>
<rect x="744.84" y="1835" width="36.78" height="36.8" fill="#FAFDFE"/>
<rect x="781.32" y="1835" width="36.78" height="36.8" fill="#EDF5FA"/>
<rect x="88.2" y="1871.5" width="36.78" height="36.8" fill="#F8FBFD"/>
<rect x="124.68" y="1871.5" width="36.78" height="36.8" fill="#F0F7FB"/>
<rect x="161.16" y="1871.5" width="36.78" height="36.8" fill="#F5D2C7"/>
<rect x="197.64" y="1871.5" width="36.78" height="36.8" fill="#FAFDFE"/>
<rect x="234.12" y="1871.5" width="36.78" height="36.8" fill="#FBECE7"/>
<rect x="270.6" y="1871.5" width="36.78" height="36.8" fill="#FAFDFE"/>
<rect x="307.08" y="1871.5" width="36.78" height="36.8" fill="#EDF5FA"/>
<rect x="343.56" y="1871.5" width="36.78" height="36.8" fill="#EDB1A0"/>
<rect x="380.04" y="1871.5" width="36.78" height="36.8" fill="#F8FBFD"/>
<rect x="416.52" y="1871.5" width="36.78" height="36.8" fill="#FCF3EF"/>
<rect x="453" y="1871.5" width="36.78" height="36.8" fill="#F8DDD4"/>
<rect x="489.48" y="1871.5" width="36.78" height="36.8" fill="#F9FCFD"/>
<rect x="525.96" y="1871.5" width="36.78" height="36.8" fill="#F7D8CE"/>
<rect x="562.44" y="1871.5" width="36.78" height="36.8" fill="#F9E0D8"/>
<rect x="598.92" y="1871.5" width="36.78" height="36.8" fill="#CFE5F0"/>
<rect x="635.4" y="1871.5" width="36.78" height="36.8" fill="#F4F9FC"/>
<rect x="671.88" y="1871.5" width="36.78" height="36.8" fill="#FFFFFF"/>
<rect x="708.36" y="1871.5" width="36.78" height="36.8" fill="#F9E0D8"/>
<rect x="744.84" y="1871.5" width="36.78" height="36.8" fill="#C9E2EE"/>
<rect x="781.32" y="1871.5" width="36.78" height="36.8" fill="#F3F9FC"/>
<text x="580.68" y="1855.85" font-size="11.5" fill="#000" text-anchor="middle">**</text>
<text x="361.8" y="1892.35" font-size="11.5" fill="#000" text-anchor="middle">**</text>
<text x="617.16" y="1892.35" font-size="11.5" fill="#000" text-anchor="middle">*</text>
<text x="763.08" y="1892.35" font-size="11.5" fill="#000" text-anchor="middle">**</text>
<text x="83.8" y="1858.05" font-size="14.3" fill="#000" text-anchor="end">TTC19</text>
<text x="83.8" y="1894.55" font-size="14.3" fill="#000" text-anchor="end">HTT</text>
<text x="113.74" y="1919.3" font-size="14.5" fill="#000" text-anchor="end" transform="rotate(-45 113.74 1919.3)">B cells naive</text>
<text x="150.22" y="1919.3" font-size="14.5" fill="#000" text-anchor="end" transform="rotate(-45 150.22 1919.3)">B cells memory</text>
<text x="186.7" y="1919.3" font-size="14.5" fill="#000" text-anchor="end" transform="rotate(-45 186.7 1919.3)">Plasma cells</text>
<text x="223.18" y="1919.3" font-size="14.5" fill="#000" text-anchor="end" transform="rotate(-45 223.18 1919.3)">T cells CD8</text>
<text x="259.66" y="1919.3" font-size="14.5" fill="#000" text-anchor="end" transform="rotate(-45 259.66 1919.3)">T cells CD4 naive</text>
<text x="296.14" y="1919.3" font-size="14.5" fill="#000" text-anchor="end" transform="rotate(-45 296.14 1919.3)">T cells CD4 memory resting</text>
<text x="332.62" y="1919.3" font-size="14.5" fill="#000" text-anchor="end" transform="rotate(-45 332.62 1919.3)">T cells CD4 memory activated</text>
<text x="369.1" y="1919.3" font-size="14.5" fill="#000" text-anchor="end" transform="rotate(-45 369.1 1919.3)">T cells regulatory (Tregs)</text>
<text x="405.58" y="1919.3" font-size="14.5" fill="#000" text-anchor="end" transform="rotate(-45 405.58 1919.3)">T cells gamma delta</text>
<text x="442.06" y="1919.3" font-size="14.5" fill="#000" text-anchor="end" transform="rotate(-45 442.06 1919.3)">NK cells resting</text>
<text x="478.54" y="1919.3" font-size="14.5" fill="#000" text-anchor="end" transform="rotate(-45 478.54 1919.3)">NK cells activated</text>
<text x="515.02" y="1919.3" font-size="14.5" fill="#000" text-anchor="end" transform="rotate(-45 515.02 1919.3)">Monocytes</text>
<text x="551.5" y="1919.3" font-size="14.5" fill="#000" text-anchor="end" transform="rotate(-45 551.5 1919.3)">Macrophages M0</text>
<text x="587.98" y="1919.3" font-size="14.5" fill="#000" text-anchor="end" transform="rotate(-45 587.98 1919.3)">Macrophages M1</text>
<text x="624.46" y="1919.3" font-size="14.5" fill="#000" text-anchor="end" transform="rotate(-45 624.46 1919.3)">Macrophages M2</text>
<text x="660.94" y="1919.3" font-size="14.5" fill="#000" text-anchor="end" transform="rotate(-45 660.94 1919.3)">Dendritic cells resting</text>
<text x="697.42" y="1919.3" font-size="14.5" fill="#000" text-anchor="end" transform="rotate(-45 697.42 1919.3)">Dendritic cells activated</text>
<text x="733.9" y="1919.3" font-size="14.5" fill="#000" text-anchor="end" transform="rotate(-45 733.9 1919.3)">Mast cells resting</text>
<text x="770.38" y="1919.3" font-size="14.5" fill="#000" text-anchor="end" transform="rotate(-45 770.38 1919.3)">Eosinophils</text>
<text x="806.86" y="1919.3" font-size="14.5" fill="#000" text-anchor="end" transform="rotate(-45 806.86 1919.3)">Neutrophils</text>
<defs><linearGradient id="g88" x1="0" y1="0" x2="0" y2="1"><stop offset="0" stop-color="#C85038"/><stop offset="0.12" stop-color="#D97A65"/><stop offset="0.25" stop-color="#EAA592"/><stop offset="0.38" stop-color="#F7D8CE"/><stop offset="0.5" stop-color="#FFFFFF"/><stop offset="0.62" stop-color="#D6E9F3"/><stop offset="0.75" stop-color="#B8DAE8"/><stop offset="0.88" stop-color="#97C8DD"/><stop offset="1" stop-color="#76B6D2"/></linearGradient></defs>
<rect x="828" y="1830.2" width="20.8" height="101" fill="url(#g88)"/>
<text x="828.2" y="1821.4" font-size="12.85" fill="#000" text-anchor="start">Correlation</text>
<text x="855.2" y="1833.8" font-size="10.3" fill="#000" text-anchor="start">1.0</text>
<line x1="828" y1="1855.45" x2="832.2" y2="1855.45" stroke="#fff" stroke-width="0.8" stroke-opacity="0.7"/>
<line x1="844.6" y1="1855.45" x2="848.8" y2="1855.45" stroke="#fff" stroke-width="0.8" stroke-opacity="0.7"/>
<text x="855.2" y="1859.05" font-size="10.3" fill="#000" text-anchor="start">0.5</text>
<line x1="828" y1="1880.7" x2="832.2" y2="1880.7" stroke="#fff" stroke-width="0.8" stroke-opacity="0.7"/>
<line x1="844.6" y1="1880.7" x2="848.8" y2="1880.7" stroke="#fff" stroke-width="0.8" stroke-opacity="0.7"/>
<text x="855.2" y="1884.3" font-size="10.3" fill="#000" text-anchor="start">0.0</text>
<line x1="828" y1="1905.95" x2="832.2" y2="1905.95" stroke="#fff" stroke-width="0.8" stroke-opacity="0.7"/>
<line x1="844.6" y1="1905.95" x2="848.8" y2="1905.95" stroke="#fff" stroke-width="0.8" stroke-opacity="0.7"/>
<text x="855.2" y="1909.55" font-size="10.3" fill="#000" text-anchor="start">−0.5</text>
<text x="855.2" y="1934.8" font-size="10.3" fill="#000" text-anchor="start">−1.0</text>
<rect x="954" y="1836" width="33.94" height="33.9" fill="#DFEEF6"/>
<rect x="987.64" y="1836" width="33.94" height="33.9" fill="#F3F9FC"/>
<rect x="1021.28" y="1836" width="33.94" height="33.9" fill="#F7D8CE"/>
<rect x="1054.92" y="1836" width="33.94" height="33.9" fill="#FCEFEB"/>
<rect x="1088.56" y="1836" width="33.94" height="33.9" fill="#FEF9F7"/>
<rect x="1122.2" y="1836" width="33.94" height="33.9" fill="#FEFCFB"/>
<rect x="1155.84" y="1836" width="33.94" height="33.9" fill="#FEFEFF"/>
<rect x="1189.48" y="1836" width="33.94" height="33.9" fill="#E2F0F7"/>
<rect x="1223.12" y="1836" width="33.94" height="33.9" fill="#FCEFEB"/>
<rect x="1256.76" y="1836" width="33.94" height="33.9" fill="#FEFCFB"/>
<rect x="1290.4" y="1836" width="33.94" height="33.9" fill="#FCEFEB"/>
<rect x="1324.04" y="1836" width="33.94" height="33.9" fill="#FDF7F5"/>
<rect x="1357.68" y="1836" width="33.94" height="33.9" fill="#F9E3DC"/>
<rect x="1391.32" y="1836" width="33.94" height="33.9" fill="#F3CABD"/>
<rect x="1424.96" y="1836" width="33.94" height="33.9" fill="#FAE8E2"/>
<rect x="1458.6" y="1836" width="33.94" height="33.9" fill="#F4F9FC"/>
<rect x="1492.24" y="1836" width="33.94" height="33.9" fill="#E4F0F7"/>
<rect x="1525.88" y="1836" width="33.94" height="33.9" fill="#EDF5FA"/>
<rect x="1559.52" y="1836" width="33.94" height="33.9" fill="#FBECE7"/>
<rect x="1593.16" y="1836" width="33.94" height="33.9" fill="#E4F0F7"/>
<rect x="1626.8" y="1836" width="33.94" height="33.9" fill="#FCF3EF"/>
<rect x="1660.44" y="1836" width="33.94" height="33.9" fill="#FAE8E2"/>
<rect x="954" y="1869.6" width="33.94" height="33.9" fill="#FDF6F3"/>
<rect x="987.64" y="1869.6" width="33.94" height="33.9" fill="#F8DDD4"/>
<rect x="1021.28" y="1869.6" width="33.94" height="33.9" fill="#D2E7F2"/>
<rect x="1054.92" y="1869.6" width="33.94" height="33.9" fill="#FEFEFF"/>
<rect x="1088.56" y="1869.6" width="33.94" height="33.9" fill="#FAE8E2"/>
<rect x="1122.2" y="1869.6" width="33.94" height="33.9" fill="#D6E9F3"/>
<rect x="1155.84" y="1869.6" width="33.94" height="33.9" fill="#FAE4DE"/>
<rect x="1189.48" y="1869.6" width="33.94" height="33.9" fill="#FAE4DE"/>
<rect x="1223.12" y="1869.6" width="33.94" height="33.9" fill="#F7D8CE"/>
<rect x="1256.76" y="1869.6" width="33.94" height="33.9" fill="#FEFCFB"/>
<rect x="1290.4" y="1869.6" width="33.94" height="33.9" fill="#FFFFFF"/>
<rect x="1324.04" y="1869.6" width="33.94" height="33.9" fill="#FFFFFF"/>
<rect x="1357.68" y="1869.6" width="33.94" height="33.9" fill="#F3C8BB"/>
<rect x="1391.32" y="1869.6" width="33.94" height="33.9" fill="#E7F2F8"/>
<rect x="1424.96" y="1869.6" width="33.94" height="33.9" fill="#F8FBFD"/>
<rect x="1458.6" y="1869.6" width="33.94" height="33.9" fill="#FEFAF9"/>
<rect x="1492.24" y="1869.6" width="33.94" height="33.9" fill="#F9E3DC"/>
<rect x="1525.88" y="1869.6" width="33.94" height="33.9" fill="#FCF3EF"/>
<rect x="1559.52" y="1869.6" width="33.94" height="33.9" fill="#FAE4DE"/>
<rect x="1593.16" y="1869.6" width="33.94" height="33.9" fill="#EBF4F9"/>
<rect x="1626.8" y="1869.6" width="33.94" height="33.9" fill="#FBEBE6"/>
<rect x="1660.44" y="1869.6" width="33.94" height="33.9" fill="#D6E9F3"/>
<text x="949.9" y="1857.6" font-size="14.3" fill="#000" text-anchor="end">TTC19</text>
<text x="949.9" y="1891.2" font-size="14.3" fill="#000" text-anchor="end">HTT</text>
<text x="978.12" y="1914.5" font-size="14.5" fill="#000" text-anchor="end" transform="rotate(-45 978.12 1914.5)">B cells naive</text>
<text x="1011.76" y="1914.5" font-size="14.5" fill="#000" text-anchor="end" transform="rotate(-45 1011.76 1914.5)">B cells memory</text>
<text x="1045.4" y="1914.5" font-size="14.5" fill="#000" text-anchor="end" transform="rotate(-45 1045.4 1914.5)">Plasma cells</text>
<text x="1079.04" y="1914.5" font-size="14.5" fill="#000" text-anchor="end" transform="rotate(-45 1079.04 1914.5)">T cells CD8</text>
<text x="1112.68" y="1914.5" font-size="14.5" fill="#000" text-anchor="end" transform="rotate(-45 1112.68 1914.5)">T cells CD4 naive</text>
<text x="1146.32" y="1914.5" font-size="14.5" fill="#000" text-anchor="end" transform="rotate(-45 1146.32 1914.5)">T cells CD4 memory resting</text>
<text x="1179.96" y="1914.5" font-size="14.5" fill="#000" text-anchor="end" transform="rotate(-45 1179.96 1914.5)">T cells CD4 memory activated</text>
<text x="1213.6" y="1914.5" font-size="14.5" fill="#000" text-anchor="end" transform="rotate(-45 1213.6 1914.5)">T cells follicular helper</text>
<text x="1247.24" y="1914.5" font-size="14.5" fill="#000" text-anchor="end" transform="rotate(-45 1247.24 1914.5)">T cells regulatory (Tregs)</text>
<text x="1280.88" y="1914.5" font-size="14.5" fill="#000" text-anchor="end" transform="rotate(-45 1280.88 1914.5)">T cells gamma delta</text>
<text x="1314.52" y="1914.5" font-size="14.5" fill="#000" text-anchor="end" transform="rotate(-45 1314.52 1914.5)">NK cells resting</text>
<text x="1348.16" y="1914.5" font-size="14.5" fill="#000" text-anchor="end" transform="rotate(-45 1348.16 1914.5)">NK cells activated</text>
<text x="1381.8" y="1914.5" font-size="14.5" fill="#000" text-anchor="end" transform="rotate(-45 1381.8 1914.5)">Monocytes</text>
<text x="1415.44" y="1914.5" font-size="14.5" fill="#000" text-anchor="end" transform="rotate(-45 1415.44 1914.5)">Macrophages M0</text>
<text x="1449.08" y="1914.5" font-size="14.5" fill="#000" text-anchor="end" transform="rotate(-45 1449.08 1914.5)">Macrophages M1</text>
<text x="1482.72" y="1914.5" font-size="14.5" fill="#000" text-anchor="end" transform="rotate(-45 1482.72 1914.5)">Macrophages M2</text>
<text x="1516.36" y="1914.5" font-size="14.5" fill="#000" text-anchor="end" transform="rotate(-45 1516.36 1914.5)">Dendritic cells resting</text>
<text x="1550" y="1914.5" font-size="14.5" fill="#000" text-anchor="end" transform="rotate(-45 1550 1914.5)">Dendritic cells activated</text>
<text x="1583.64" y="1914.5" font-size="14.5" fill="#000" text-anchor="end" transform="rotate(-45 1583.64 1914.5)">Mast cells resting</text>
<text x="1617.28" y="1914.5" font-size="14.5" fill="#000" text-anchor="end" transform="rotate(-45 1617.28 1914.5)">Mast cells activated</text>
<text x="1650.92" y="1914.5" font-size="14.5" fill="#000" text-anchor="end" transform="rotate(-45 1650.92 1914.5)">Eosinophils</text>
<text x="1684.56" y="1914.5" font-size="14.5" fill="#000" text-anchor="end" transform="rotate(-45 1684.56 1914.5)">Neutrophils</text>
<defs><linearGradient id="g954" x1="0" y1="0" x2="0" y2="1"><stop offset="0" stop-color="#C85038"/><stop offset="0.12" stop-color="#D97A65"/><stop offset="0.25" stop-color="#EAA592"/><stop offset="0.38" stop-color="#F7D8CE"/><stop offset="0.5" stop-color="#FFFFFF"/><stop offset="0.62" stop-color="#D6E9F3"/><stop offset="0.75" stop-color="#B8DAE8"/><stop offset="0.88" stop-color="#97C8DD"/><stop offset="1" stop-color="#76B6D2"/></linearGradient></defs>
<rect x="1703.7" y="1827.7" width="21" height="102.1" fill="url(#g954)"/>
<text x="1703.9" y="1819" font-size="12.85" fill="#000" text-anchor="start">Correlation</text>
<text x="1731.1" y="1831.3" font-size="10.3" fill="#000" text-anchor="start">1.0</text>
<line x1="1703.7" y1="1853.22" x2="1707.9" y2="1853.22" stroke="#fff" stroke-width="0.8" stroke-opacity="0.7"/>
<line x1="1720.5" y1="1853.22" x2="1724.7" y2="1853.22" stroke="#fff" stroke-width="0.8" stroke-opacity="0.7"/>
<text x="1731.1" y="1856.82" font-size="10.3" fill="#000" text-anchor="start">0.5</text>
<line x1="1703.7" y1="1878.75" x2="1707.9" y2="1878.75" stroke="#fff" stroke-width="0.8" stroke-opacity="0.7"/>
<line x1="1720.5" y1="1878.75" x2="1724.7" y2="1878.75" stroke="#fff" stroke-width="0.8" stroke-opacity="0.7"/>
<text x="1731.1" y="1882.35" font-size="10.3" fill="#000" text-anchor="start">0.0</text>
<line x1="1703.7" y1="1904.28" x2="1707.9" y2="1904.28" stroke="#fff" stroke-width="0.8" stroke-opacity="0.7"/>
<line x1="1720.5" y1="1904.28" x2="1724.7" y2="1904.28" stroke="#fff" stroke-width="0.8" stroke-opacity="0.7"/>
<text x="1731.1" y="1907.88" font-size="10.3" fill="#000" text-anchor="start">−0.5</text>
<text x="1731.1" y="1933.4" font-size="10.3" fill="#000" text-anchor="start">−1.0</text>
</svg>
</body></html>
